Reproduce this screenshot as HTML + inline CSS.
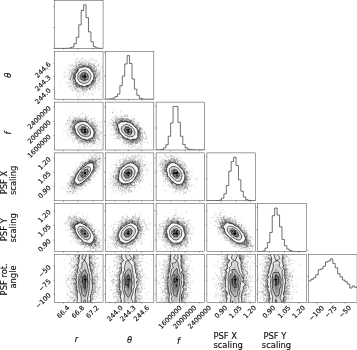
<!DOCTYPE html>
<html><head><meta charset="utf-8"><title>corner plot</title><style>html,body{margin:0;padding:0;background:#fff}svg{display:block}</style></head><body>
<svg width="357" height="350" viewBox="0 0 357 350">
<rect width="357" height="350" fill="#fff"/>
<defs><clipPath id="cp"><rect width="48.55" height="47.9"/></clipPath></defs>
<style>.b{fill:none;stroke:#000;stroke-opacity:.105;stroke-width:14;stroke-linecap:round}.s{fill:none;stroke:#000;stroke-opacity:.38;stroke-width:5;stroke-linecap:round}.c{fill:none;stroke:#000;stroke-width:.6;stroke-linejoin:round}.h{fill:none;stroke:#222;stroke-width:.65}.f{fill:none;stroke:#2a2a2a;stroke-width:0.45}.k{stroke:#2a2a2a;stroke-width:.4}text{font-family:"DejaVu Sans","Liberation Sans",sans-serif;fill:#111;stroke:#111;stroke-width:.15}.t{font-size:6.65px}.l{font-size:8.4px}.i{font-style:italic}</style>
<g transform="translate(54.5 51.3)" clip-path="url(#cp)">
<g transform="scale(.1)">
<path class="b" d="M399 142h0m-72 207h0m-170-188h0m248 167h0m-187-68h0m-1-152h0m20 102h0m-14 1h0m-33 97h0m216 15h0m-230 42h0m175-178h0m49 108h0m-42-177h0m48 160h0m-200-20h0m203 17h0m-85-114h0m12-22h0m-82 10h0m-54 108h0m5-3h0m-44-58h0m58 146h0m117-181h0m-99-5h0m-4 53h0m50-102h0m3 260h0m-82-61h0m-54-32h0m250-4h0m-161 77h0m128-37h0m-14-136h0m-124-103h0m71 49h0m-107 90h0m101 185h0m79-228h0m-159 115h0m-5-36h0m13 75h0m107-162h0m-85-63h0m32 62h0m-95 156h0m143 67h0m-113-72h0m103-162h0m-125 132h0m38-81h0m71 153h0m-98-101h0m11 15h0m-6-51h0m206 6h0m-39 78h0m1-173h0m-164 161h0m-40 61h0m16 39h0m-9-16h0m177-27h0m-43-1h0m4-186h0m78 78h0m-14 114h0m13-84h0m52 77h0m-96-246h0m-24 64h0m-67 181h0m-74-149h0m162-25h0m-127 40h0m157-49h0m-68 10h0m39 161h0m5-13h0m-18-171h0m-94 27h0m213 38h0m-90 195h0m30-261h0m-203 114h0m204-18h0m57 33h0m-80 56h0m8-25h0m54 27h0m-44-119h0m-74-53h0m-45 8h0m19-19h0m4-26h0m-62 213h0m-28-179h0m37 173h0m109 41h0m-32-227h0m-25 289h0m165-138h0m-36-30h0m-205-4h0m119 103h0m62-119h0m-122-89h0m118 144h0m-182-116h0m96 162h0m-111-39h0m-21-92h0m196 104h0m-159 15h0m42 8h0m-25-163h0m137 146h0m-88-183h0m187 175h0m-194-159h0m7 190h0m79-155h0m17-2h0m-51 171h0m-78-175h0m-85 7h0m232-96h0m-104 246h0m-87-90h0m157 63h0m-41-159h0m-98 40h0m-10 180h0m181 6h0m-257-220h0m275 118h0m-9-58h0m-181 94h0m192-95h0m-118-55h0m-132 103h0m280-117h0m-189 204h0m-29-148h0m52 127h0m137-211h0m-181 10h0m-102 177h0m111 23h0"/>
<path class="b" d="M381 206h0m43 28h0m-232-35h0m8 29h0m62-88h0m32-35h0m-95 270h0m169-181h0m-267 42h0m311-30h0m-53-23h0m20-52h0m-271 187h0m278 125h0m-156-104h0m-47-146h0m168 125h0m-123-141h0m36 187h0m-36-182h0m185 126h0m-202-47h0m-21 46h0m176 14h0m6-24h0m-180 4h0m111-143h0m-86 233h0m130-201h0m56 121h0m-138 62h0m-43 13h0m144-302h0m-130 108h0m14-63h0m-62 192h0m235-172h0m-189 24h0m138 118h0m-167-104h0m-10 17h0m69-46h0m151 38h0m-34 5h0m-147-6h0m137 119h0m-140 148h0m-40-142h0m10-32h0m190-21h0m-145 71h0m144-83h0m-119 141h0m118-62h0m-200-77h0m5 18h0m185 39h0m-20-166h0m-163 183h0m175-123h0m-114 199h0m69-243h0m-178 188h0m129-268h0m31 255h0m82-93h0m-208-27h0m56-20h0m-44 82h0m23-82h0m132 115h0m-125-105h0m116 122h0m-56-173h0m-29-22h0m-142 109h0m279-3h0m-158-48h0m69-52h0m68 58h0m81 181h0m-183-238h0m71 178h0m-32 26h0m-24-200h0m107-11h0m28 183h0m-61 56h0m-39-243h0m77 63h0m-217 90h0m-14 11h0m96-176h0m127-45h0m10 186h0m-196-53h0m48 151h0m-14-182h0m212 21h0m-186-47h0m-71 184h0m3-102h0m49-128h0m-86 89h0m226 4h0m-180 107h0m191-130h0m-85-25h0m-132 25h0m197 141h0m-52 34h0m83-86h0m-115 86h0m21 42h0m-92-79h0m-6-33h0m187 9h0m56-168h0m-166 23h0m51 179h0m-28-156h0m-9-7h0m-141 69h0m301-38h0m-329 77h0m207 79h0m88-87h0m-269 56h0m155-158h0m5 221h0m6-40h0m-17 2h0m-25 49h0m146-130h0m-147 159h0m21-83h0m-120-96h0m13 28h0m34-56h0m2-1h0m53-45h0m90 122h0m10 7h0m-174 48h0m74 54h0m-67-232h0m143 174h0m87-109h0m-227 127h0m103-196h0"/>
<path class="b" d="M267 156h0m-59 128h0m153-141h0m-110 194h0m-16-123h0m-46 61h0m64 85h0m-55-59h0m214-91h0m-77-54h0m95 91h0m-41-70h0m-195 101h0m-10-5h0m157-82h0m-91 163h0m190-113h0m-154-110h0m23 35h0m-5 170h0m-102-151h0m165 4h0m-51 161h0m17-186h0m-141-127h0m232 156h0m-79-8h0m65-30h0m-124-12h0m-15 196h0m176 5h0m-65-24h0m-195 24h0m36-192h0m51 7h0m-101 47h0m222 31h0m-107-87h0m-93 204h0m201-115h0m-20 102h0m-9 13h0m-34-17h0m-111 7h0m174-48h0m-116 76h0m120-53h0m-192 58h0m-11-131h0m128-81h0m149 111h0m-122-121h0m-145 115h0m178-83h0m-163 6h0m-22 28h0m149 149h0m-9 56h0m87-193h0m-266 30h0m204-87h0m28 79h0m-170-59h0m168 85h0m-116 65h0m-4 6h0m-17 80h0m187-174h0m-41-45h0m-89-91h0m-27 252h0m-157-120h0m102 109h0m95-207h0m100 78h0m-229 120h0m114-187h0m-45-87h0m-48 157h0m157-28h0m-223-69h0m291 149h0m-222-122h0m-28 68h0m2-7h0m80-76h0m95 5h0m-70 4h0m-83 24h0m76 155h0m-59-18h0m175 31h0m-60-175h0m-137 77h0m-44-8h0m62-39h0m-19 18h0m113 152h0m-9-35h0m98-39h0m-210-91h0m211 18h0m-90-113h0m-143 101h0m30-18h0m104-77h0m-99 103h0m4 16h0m150-49h0m-2-10h0m-101 168h0m-45-175h0m15 217h0m82-41h0m48-53h0m-169-19h0m9-8h0m157-110h0m20 162h0m-167-45h0m-17-6h0m-17-142h0m44 183h0m164-64h0m-98-97h0m57 177h0m-144-84h0m136 74h0m-68-176h0m-27-30h0m-4 92h0m-19-7h0m47 204h0m158-115h0m-219 32h0m186-40h0m-115-161h0m-1 4h0m-26 12h0m163 116h0m-265-9h0m-8 68h0m242-122h0m-25 0h0m-83 169h0m-47-193h0m126 2h0m-8-9h0m16 21h0m-15 140h0"/>
<path class="b" d="M272 167h0m-62 64h0m202 41h0m-219 22h0m12-27h0m-14-117h0m157 33h0m-91 197h0m96-290h0m-214 50h0m177 222h0m-105-90h0m98-109h0m-79 22h0m105-38h0m-123 38h0m153 117h0m-22 10h0m-61-242h0m-48 81h0m50-35h0m-46 254h0m77-203h0m57 43h0m-6 230h0m25-145h0m3-55h0m6-35h0m-149-106h0m28 244h0m43-5h0m-123-108h0m167 77h0m-12 17h0m18-124h0m-122-41h0m28 208h0m72-211h0m-121 38h0m-52 48h0m178-60h0m-3 0h0m-11-60h0m-87 214h0m36-186h0m141 118h0m-60 86h0m29-29h0m-33-37h0m-18-99h0m-39-103h0m-7 255h0m23-4h0m-37-180h0m-23 198h0m-5-16h0m52-4h0m59-137h0m-76-33h0m73 124h0m-167-57h0m18-30h0m80 140h0m0 37h0m24-35h0m-39-2h0m48-182h0m40 194h0m-147-207h0m15 68h0m101 99h0m-144-86h0m53-93h0m152 68h0m-93 168h0m-76-8h0m-42-106h0m158-68h0m7-35h0m-202 57h0m110 126h0m108-169h0m-7 35h0m-102 133h0m90-154h0m-40 175h0m85-39h0m-160-118h0m110-62h0m-167 43h0m227 115h0m-104 87h0m-15-33h0m-18-2h0m-123-13h0m67-120h0m88 134h0m-1 33h0m105-194h0m-67-28h0m24-31h0m35 102h0m10-46h0m-197 187h0m158-191h0m-136 206h0m222-161h0m-81 68h0m-2-1h0m-1-87h0m-96-69h0m82 181h0m17-123h0m-10 9h0m-61-37h0m46 208h0m97-60h0m-156 120h0m1-44h0m66-232h0m-264 101h0m145-64h0m77 157h0m35-26h0m-54-183h0m93 89h0m48-23h0m-228-48h0m58 175h0m31-176h0m52 220h0m28 51h0m10-122h0m-139-156h0m-15 190h0m-94-64h0m72-68h0m194 125h0m-208-52h0m200-25h0m-159-73h0m46 151h0m10 9h0m-42-5h0m20-195h0m-26 8h0m89-24h0m-14 229h0m20-22h0m-118-132h0"/>
<path class="b" d="M417 101h0m-107 267h0m-10-269h0m125 97h0m-10-103h0m-163 265h0m96-171h0m-137 77h0m196 32h0m-160 48h0m-50-87h0m10-12h0m222-22h0m-76 143h0m33-152h0m-196 109h0m19-74h0m184 2h0m-186 33h0m2-84h0m1 53h0m142 75h0m6-162h0m-150-3h0m136-53h0m40 256h0m17 8h0m-64-232h0m-7 195h0m58-197h0m-2 277h0m-58-65h0m-46-16h0m49-179h0m-220 98h0m125 58h0m-9-118h0m64 156h0m-49-207h0m80 14h0m-86 25h0m221 97h0m-34-71h0m-212 16h0m62 128h0m119-6h0m-107-4h0m-55 21h0m-20-110h0m3 52h0m44 32h0m83-1h0m60-84h0m-94 89h0m-114-174h0m161 149h0m-159-83h0m191 70h0m-200 9h0m32 60h0m28-230h0m171 113h0m-205-68h0m91-25h0m54 180h0m-36-3h0m-128-81h0m83-105h0m0 200h0m-73-161h0m56-38h0m111-2h0m-88 184h0m-65-43h0m56-206h0m100 106h0m-15 119h0m-9-167h0m-119 171h0m53-150h0m-41 47h0m112 100h0m-114-115h0m113 159h0m-172-79h0m10-23h0m119 97h0m-94-149h0m88-69h0m-23 201h0m-66-3h0m181-79h0m9 42h0m9-58h0m-105-80h0m85 150h0m-26-144h0m64 80h0m-229 119h0m-34-123h0m40 40h0m188-16h0m-46 58h0m4-137h0m-97 256h0m19-283h0m164 54h0m-164 129h0m-44-133h0m160 36h0m-14-44h0m-21 149h0m43-198h0m-29 157h0m-130-106h0m-81 149h0m188-178h0m-134 26h0m156 15h0m23-9h0m-156 127h0m-67-87h0m191 91h0m-125 8h0m-12-190h0m44-38h0m121 206h0m12-29h0m-39 70h0m-157-272h0m138 240h0m-49-167h0m-79 144h0m174-86h0m18 44h0m-198-33h0m7 94h0m146-196h0m84 120h0m-128 123h0m-109-7h0m171-70h0m-95 84h0m52-236h0m34 148h0m80-89h0m-214-14h0m58-52h0m6 244h0m-31-265h0"/>
<path class="b" d="M270 160h0m-61-52h0m-9 111h0m158 99h0m-97-205h0m178 254h0m-97-236h0m-146 140h0m132 173h0m63-185h0m-21-46h0m-73 150h0m92-127h0m-106-70h0m-112 213h0m230-155h0m-201 89h0m176-247h0m-13 93h0m-86 4h0m62-36h0m-105 87h0m19 134h0m114-30h0m-1 15h0m2 4h0m-149-181h0m17 170h0m160-138h0m-148 168h0m122-153h0m-34 150h0m-152-117h0m111-72h0m-96 187h0m175-142h0m-72 147h0m-75-22h0m61-218h0m16 40h0m106 140h0m-48-173h0m50 81h0m-18-32h0m62 184h0m-236-152h0m182-46h0m3 101h0m-86-95h0m54 41h0m-16 112h0m-119-111h0m195 91h0m-194 24h0m125-143h0m-173 119h0m56-183h0m16 2h0m-52 108h0m-26 53h0m22-21h0m192-22h0m-163 165h0m-28-22h0m230 0h0m-186-249h0m-58 95h0m257 1h0m-179-81h0m171 47h0m-126-38h0m-75 53h0m-17-8h0m-32 128h0m38-122h0m-13 62h0m21 52h0m-63-88h0m79-69h0m64 208h0m156-14h0m-81-76h0m-162 127h0m74-260h0m85 87h0m-122 125h0m-2-194h0m34 200h0m70-65h0m-29 22h0m-151-14h0m202-43h0m-26 33h0m-162 6h0m11-49h0m14-76h0m167 139h0m-17-115h0m-40-50h0m-124-39h0m-35 122h0m61-46h0m146-42h0m-94 190h0m-78-85h0m-12 70h0m233-95h0m-168-74h0m95 39h0m6 101h0m-3 8h0m-176-61h0m147-79h0m-129 178h0m94 73h0m109-134h0m-79 89h0m38-278h0m-64 251h0m-89-123h0m94-55h0m52 13h0m-47 168h0m49-2h0m15-5h0m-109-175h0m98-2h0m-54 2h0m59-7h0m-73 1h0m-90 143h0m80 52h0m-72-21h0m108 22h0m3-11h0m-94-202h0m104 46h0m-133 77h0m88 82h0m6-190h0m44 225h0m-145-143h0m7 52h0m170-98h0m-204 99h0m201-97h0m-160-25h0m1 58h0m65-64h0m-78 78h0"/>
<path class="b" d="M368 206h0m19 87h0m-172 44h0m-46-48h0m102 62h0m122-38h0m-9-6h0m-104 73h0m0-230h0m-9 198h0m76-31h0m4 26h0m-34-197h0m-82 39h0m179 66h0m-118-117h0m10 216h0m-99-122h0m164 195h0m-177-178h0m-6-19h0m212-27h0m-212 90h0m152-125h0m0 179h0m-87-187h0m-36 90h0m25-45h0m118 172h0m-144-62h0m20 10h0m66-182h0m-18 12h0m105 116h0m-121 96h0m92 22h0m-81-240h0m-62 113h0m151 62h0m-181-21h0m122 48h0m59-143h0m-76 135h0m55-156h0m67 112h0m-230 44h0m121 6h0m25-189h0m-89 167h0m-101-42h0m223-132h0m-152 180h0m124-183h0m-71 208h0m-77-95h0m207-58h0m-111 143h0m180-136h0m-93 86h0m-207-154h0m164 206h0m-96-32h0m-2-100h0m-15 39h0m28 128h0m56-45h0m6 18h0m-95-143h0m-18 122h0m167-208h0m45 151h0m-11-71h0m-13 84h0m2 65h0m-96-16h0m-81-23h0m123-202h0m8 21h0m-132 106h0m105 96h0m110-7h0m-105 21h0m-105-57h0m-13-91h0m42 12h0m-19-45h0m-15 44h0m161 111h0m-7-157h0m-152 95h0m58 82h0m69-2h0m-13-179h0m-8-26h0m-164 119h0m21-117h0m188 236h0m-139-186h0m175 43h0m-238 51h0m58 17h0m214-45h0m-55-82h0m-21 202h0m23-53h0m-161-46h0m255-17h0m-226-63h0m-20 10h0m127-35h0m19 10h0m4 158h0m-161-154h0m138 3h0m-147 99h0m217-115h0m-43 144h0m-57-179h0m-80 24h0m84-24h0m-79 180h0m-76-97h0m203-72h0m-86 214h0m162-76h0m-119 55h0m-120-63h0m199-54h0m-170 120h0m-8 6h0m38-2h0m90-186h0m-140-81h0m126 50h0m74 135h0m-34-67h0m-113 175h0m145-187h0m-149-66h0m-9 219h0m94-155h0m-197 122h0m215-105h0m-67 198h0m-142-120h0m56-143h0m101 221h0m43-184h0m-180 151h0m90 34h0"/>
<path class="b" d="M185 257h0m-11-30h0m245-135h0m-48 220h0m-30 27h0m12-21h0m-31-167h0m43 45h0m-67-34h0m-105 194h0m204-64h0m-113-149h0m57 46h0m27 113h0m33-51h0m40-24h0m-88-110h0m-57 254h0m63-195h0m55 41h0m-13 51h0m-197 9h0m168 18h0m-153 20h0m-4-27h0m141-143h0m-217 90h0m228-39h0m-170 165h0m169-228h0m-136 182h0m-36-62h0m153 115h0m-138-145h0m92-74h0m-86 113h0m-18-30h0m55 170h0m137-143h0m-213 37h0m116-132h0m-77 59h0m184-66h0m-10 180h0m-173-2h0m78-186h0m-2 209h0m20-212h0m52 172h0m-183-46h0m167 51h0m-170-65h0m224-12h0m-118-83h0m82 32h0m11 10h0m-180-18h0m213 153h0m-105 22h0m-67-178h0m49 168h0m-85 42h0m82-249h0m129 40h0m-238 46h0m4-21h0m151 170h0m-66-252h0m119 52h0m10 57h0m-22 156h0m-105-49h0m-63-17h0m131 24h0m-112-211h0m180 196h0m15-103h0m-199-54h0m149 163h0m-34-231h0m57 2h0m-32 73h0m-166 4h0m18 149h0m104 18h0m-88-168h0m89-103h0m98 311h0m-37-100h0m-160-145h0m58 189h0m-114-73h0m192-104h0m-12 203h0m60-129h0m-157-74h0m51 208h0m144-221h0m-189 206h0m38-16h0m-103-194h0m161 9h0m55 25h0m-10 60h0m-10-69h0m-80 215h0m-82-121h0m-71-48h0m133 167h0m148-158h0m-113 124h0m74-45h0m-232-45h0m135-172h0m54 258h0m-133-70h0m196 8h0m-116-131h0m-104 103h0m150-91h0m-8 197h0m19-180h0m-151 72h0m7 4h0m-13-15h0m40 68h0m-75 17h0m209-122h0m-4-62h0m-78 233h0m19-220h0m-38 201h0m-4-19h0m12 29h0m-59-120h0m130 71h0m15-156h0m-161 44h0m84 148h0m-79-79h0m68 61h0m55 8h0m-72-249h0m25 245h0m-18 39h0m41-10h0m-102-349h0m37 193h0m153 26h0m-100 110h0"/>
<path class="s" d="M345 156h0m-164 63h0m110-65h0m38 1h0m-117 142h0m65-134h0m-31 175h0m136 29h0m-205-193h0m60 15h0m33 166h0m87-195h0m19 24h0m-178 40h0m161-49h0m59 78h0m-203 72h0m68-168h0m136 162h0m-31-173h0m-187 137h0m-46 4h0m50-14h0m-41 31h0m60-133h0m22 177h0m191-30h0m-75-129h0m-78 148h0m-68-117h0m17 172h0m-21-247h0m37 203h0m65-182h0m-7 188h0m-89-1h0m-23-118h0m114-100h0m68 64h0m-104-60h0m-39 224h0m174-92h0m-199-40h0m-20 44h0m205-81h0m-185-86h0m-8 79h0m175-19h0m-166 25h0m104 151h0m23-189h0m-123 61h0m128 106h0m69-26h0m-187 56h0m139-176h0m-125 143h0m7-176h0m208 114h0m-148-115h0m37 202h0m-195-126h0m45 90h0m48-146h0m149 144h0m-217 15h0m97 20h0m82-154h0m32 134h0m-144-4h0m93 19h0m-22 3h0m-24-2h0m-76-44h0m177 12h0m-36-133h0m53 90h0m-196 55h0m169 10h0m66-50h0m-250-49h0m7-7h0m-9 18h0m109-73h0m-92 93h0m-3-72h0m106 162h0m43-164h0m-160 119h0m67-137h0m-75 159h0m132-176h0m26 203h0m18-175h0m-154 122h0m186-31h0m-101 70h0m-82-91h0m140-67h0m-101-24h0m59 9h0m87 68h0m-105 133h0m-66-20h0m152-142h0m-53 176h0m-96-60h0m159-135h0m-108 153h0m139-89h0m-136-83h0m-63-28h0m74 197h0m-84-110h0m-14-43h0m16 67h0m155 91h0m-148-87h0m-12-19h0m181 66h0m-36 27h0m-167-70h0m162 88h0m-139-114h0m9 19h0m132-71h0m-133 54h0m-47 22h0m176 95h0m-180-96h0m83 90h0m-38-145h0m144-56h0m9 214h0m29-190h0m-169 154h0m-8-110h0m133 105h0m-69-199h0m-70 91h0m72 133h0m55 6h0m52-137h0m-181 51h0m-39-30h0m78-69h0m12-5h0m98 204h0m4-186h0m-11 147h0m-61 74h0m-67-71h0m166-31h0m-110 46h0m-115-68h0m81-85h0m-2-13h0m89 171h0m61-99h0m-149-40h0m63-53h0m91 67h0m-130-54h0m123 63h0m-18 64h0m-158-60h0m168 95h0m-88 61h0m-46-51h0m-39-216h0m-49 153h0m245-79h0m-56 149h0m22-18h0m2-34h0m-146-83h0m219-73h0m-252 219h0m220-200h0m-87 201h0m-69-230h0m-121 54h0m245 120h0m-166-84h0m240 65h0m-63-147h0m-157 75h0m134-9h0m-147 10h0m11 145h0m64-205h0m-88 108h0m31-61h0m-192 108h0m369-117h0m-98 207h0m84-46h0m-177-145h0m122-28h0m-150 89h0m17 56h0m66 33h0m43-17h0m88-134h0m-215 94h0m181-101h0m-2-5h0m-270 20h0m221-49h0m-83 161h0m-18-131h0m-18 153h0m-16 43h0m-2-130h0m239-19h0m-115-80h0m-110 81h0m-30-43h0m112 144h0m83-146h0m31 37h0m-209-11h0m198 159h0m24-102h0m-43 11h0m-176-114h0m63-24h0m-1 219h0m136-80h0m-46-109h0m-45 164h0m-42 20h0m137-67h0m-96-133h0m-61 17h0m80-17h0m22-3h0m28 25h0m-174 60h0m15-1h0m76 130h0m55-62h0m-156-43h0m212-69h0m-9-31h0m33 3h0m-50-18h0m19 91h0m-192-65h0m30-18h0m169 189h0m-139-201h0m-45 70h0m23 118h0m-49-49h0m-38-108h0m28 29h0m102 145h0m-66-32h0m157-5h0m32-19h0m-45-141h0m-108 177h0m100-168h0m50 90h0m-175-57h0m126 123h0m34-150h0m-79 231h0m-69-223h0m160 12h0m-153 156h0m-23-38h0m-29-45h0m146-112h0m-52 194h0m-71-145h0m29-63h0m157-2h0m-71 209h0m60-69h0m-104-137h0m-119 73h0m176-101h0m77 53h0m-117-33h0m90 144h0m-201-4h0m40-63h0m-17 58h0m239-51h0m-222-39h0m-67 166h0m144-229h0m-88 220h0m5-129h0m170-22h0m-173 134h0m209-77h0m-90-94h0m33 147h0m-153 108h0m195-154h0m-97-89h0m64 15h0m-214-20h0m124 191h0m-54 70h0m-22-199h0m157-12h0m18 51h0m-180 7h0m-16 34h0m160-227h0m-88-5h0m67 91h0m96 63h0m-44 74h0m-205 100h0m107-50h0m-48-30h0m35-153h0m-12 291h0m-42-248h0m-28 127h0m74 29h0m16-6h0m130-135h0m-1 40h0m2-10h0m-62 130h0m26-181h0m-84-43h0m68 167h0m-170-7h0m30-124h0m117 154h0m61-37h0m-172-205h0m189 128h0m-101 106h0m-21-192h0m78 49h0m12 3h0m-92 144h0m-82-78h0m134-82h0m28 139h0m29-125h0m-188 155h0m139-178h0m44 55h0m-181-6h0m-31 34h0m21 86h0m243-71h0m-96 49h0m-190-134h0m208 175h0m-94-205h0m1 189h0m73-176h0m-135 93h0m91-107h0m-80 21h0m142 209h0m13-94h0m-149-100h0m-5 0h0m27-95h0m95 282h0m0-57h0m-125 11h0m63-167h0m-5 178h0m-12 9h0m-55-272h0m164 82h0m-109-30h0m126 85h0m-20 81h0m31-3h0m-225-62h0m213 35h0m11-180h0m-50 226h0m-130 11h0m-15-3h0m66 26h0m-15-3h0m-20-181h0m235-9h0m-244 42h0m98-35h0m-106 163h0m-27-57h0m-13-69h0m179 8h0m-107-72h0m-163 124h0"/>
<path class="s" d="M365 196h0m33 95h0m-3-119h0m4 91h0m-240 17h0m76 61h0m25-4h0m14 34h0m-178-205h0m172 257h0m-40-238h0m154 135h0m-29-147h0m-124 173h0m85 72h0m-107-257h0m183 72h0m-108-163h0m-68 238h0m-51-159h0m77 44h0m59-48h0m-114 82h0m29 40h0m42-101h0m144 108h0m-7-33h0m-71 137h0m-152-133h0m-4 7h0m13 115h0m100-24h0m-37-210h0m-49 39h0m22 112h0m4 149h0m144-104h0m-113 12h0m150-147h0m-2-39h0m-204 120h0m47-120h0m172 52h0m0 66h0m-84-119h0m-54 194h0m-107-76h0m63-99h0m-32 91h0m151 72h0m-142 41h0m135-201h0m25 180h0m-69-213h0m20 203h0m104-137h0m-240 78h0m-50-67h0m67 30h0m65 95h0m-56-28h0m-6-138h0m64-71h0m112 206h0m58-175h0m-208 226h0m116-28h0m-127-72h0m80 83h0m55-210h0m-124-67h0m85 76h0m-72-1h0m130 56h0m-4 95h0m4 8h0m-113 38h0m45-226h0m151 126h0m-232 115h0m-81 3h0m181-2h0m83-79h0m-184 87h0m11-40h0m154 11h0m17 19h0m-28-163h0m-73 177h0m-107-127h0m0-31h0m51 131h0m67 54h0m59-199h0m-56-58h0m38 26h0m-109-32h0m6 214h0m133-37h0m-22-124h0m75 111h0m-120-135h0m-100 22h0m190 34h0m-122-73h0m-90 109h0m117 100h0m39-237h0m21 208h0m-246-30h0m111 46h0m-50-69h0m151-135h0m-124 129h0m194 103h0m-34-62h0m-71 45h0m84-38h0m-144-153h0m-26 73h0m132 79h0m-82-151h0m100-7h0m-118 193h0m-27 1h0m-32-106h0m102 95h0m39-174h0m51-11h0m-208 79h0m69 229h0m-67-213h0m13 81h0m186-34h0m-162-2h0m-7-34h0m-28-42h0m29 49h0m209-20h0m-113 121h0m-176-37h0m123 26h0m110-17h0m-33-178h0m87-13h0m-202 31h0m16 7h0m166 219h0m-110-245h0m-115 30h0m123-26h0m-89 92h0m248 123h0m-149-250h0m-130 184h0m204-14h0m-71 45h0m92-88h0m-168-59h0m1-7h0m138 4h0m-164 20h0m41-86h0m105 4h0m-5 243h0m12-14h0m1-47h0m1-141h0m21 34h0m-104 145h0m-48-37h0m-9 77h0m-1-52h0m-5-202h0m-31 9h0m-10 113h0m68 57h0m-32-162h0m232 151h0m-165 30h0m55 16h0m4-2h0m-33 4h0m-146-101h0m239-51h0m-31-1h0m38-11h0m-5 100h0m-172 46h0m127-24h0m-61 37h0m98-145h0m60 42h0m-251-71h0m69-42h0m73 13h0m-178 94h0m35 86h0m77-177h0m106 151h0m-182-59h0m266-88h0m-28 90h0m-88-62h0m49 126h0m21-41h0m-98-161h0m-35 266h0m-7-30h0m133 23h0m-87-255h0m101 250h0m19-180h0m-91 134h0m57-81h0m-158-98h0m-34 146h0m223-152h0m-224 167h0m155 31h0m0-130h0m46-3h0m-197 128h0m9-167h0m7 297h0m154-229h0m-194 100h0m124 21h0m-104-16h0m69 16h0m119-17h0m-72 25h0m12-201h0m-137 92h0m116 116h0m17-177h0m1 234h0m25-99h0m-75 30h0m-99-75h0m33-67h0m183 49h0m-46-76h0m-155 131h0m121-151h0m-105 32h0m-13 166h0m-20-207h0m124 230h0m-126-123h0m173 73h0m-175-116h0m185 125h0m-34 8h0m-118-19h0m68 28h0m-66-237h0m183 121h0m-189 87h0m-22-49h0m127-114h0m-110 102h0m178 64h0m-63 20h0m-97-186h0m64 202h0m-122-113h0m241 31h0m-80 61h0m-114-95h0m133 81h0m23-20h0m-163-121h0m4-46h0m19 29h0m-32 100h0m-14-16h0m40-44h0m7-12h0m136-25h0m-209 91h0m23-39h0m144 162h0m56-205h0m10 38h0m-104 128h0m14-192h0m47-17h0m-119 175h0m162-60h0m1-133h0m-31 79h0m-83 179h0m130-178h0m-178 10h0m22-83h0m122 78h0m26 67h0m-270 42h0m152-187h0m37 28h0m-46-29h0m119 101h0m-128-100h0m170-2h0m-87 198h0m67-155h0m-16-7h0m-94-7h0m-94 191h0m190-65h0m-36-90h0m26 46h0m-282-34h0m180 229h0m187-237h0m-27 20h0m-154 119h0m-103-135h0m119 140h0m-105-40h0m144-134h0m-118 34h0m29-68h0m100 46h0m-203 171h0m170-6h0m-181-94h0m24-10h0m148-77h0m-37-7h0m-85 59h0m-40 59h0m70 56h0m-11 24h0m154-182h0m33 136h0m-135 54h0m95-189h0m-34-21h0m-77 6h0m-45 132h0m69-150h0m-32 210h0m20-184h0m50-77h0m56 111h0m-135-90h0m101 16h0m-140 115h0m122 103h0m-2-179h0m-11 187h0m-25-244h0m-31 250h0m121-37h0m-138-195h0m-38 192h0m184-188h0m-29 194h0m-116 24h0m54-203h0m96 183h0m-73-205h0m-49 212h0m139-172h0m-194 155h0m83-173h0m-138 137h0m112 68h0m111-56h0m-182-54h0m277-82h0m-88-1h0m-184 94h0m39-64h0m153 109h0m6-137h0m-155 242h0m19-396h0m101 334h0m-65-4h0m71-173h0m16 145h0m-19-105h0m-90 190h0m59-36h0m128 80h0m-142-38h0m-86-214h0m-74 11h0m213 135h0m-183-25h0m23 14h0m86 36h0m-70-177h0m194 10h0m-66-43h0m-132 205h0m168-49h0"/>
</g>
<path d="M28.4 34.7L30.3 35.4L31.2 34.7L32.8 33.9L35.2 33.5L36.2 32.3L37.6 29.9L37.6 29.9L39 27.5L39.4 25.1L39.3 22.8L37.7 20.4L37.6 20.3L36 18L35.2 16.8L32.8 15.9L30.9 15.6L30.3 15.4L29.7 15.6L27.9 15.9L25.5 16.5L23.8 18L23.1 20.4L23.1 20.4L20.8 22.8L20.9 25.1L20.6 26.8L20.4 27.5L20.6 27.9L21.2 29.9L23.1 32.2L23.2 32.3L25.5 34.1L27.9 34.7L28.4 34.7Z" fill="#fff" fill-rule="evenodd"/>
<path d="M21.85 26.34h2.43v2.4h-2.43zM21.85 23.95h2.43v2.4h-2.43zM21.85 21.55h2.43v2.4h-2.43zM24.27 19.16h2.43v2.4h-2.43zM26.7 31.14h2.43v2.4h-2.43zM26.7 16.77h2.43v2.4h-2.43zM29.13 31.14h2.43v2.4h-2.43zM29.13 16.77h2.43v2.4h-2.43zM33.98 28.74h2.43v2.4h-2.43zM33.98 19.16h2.43v2.4h-2.43z" fill="#000" fill-opacity="0.06"/>
<path d="M24.27 28.74h2.43v2.4h-2.43zM26.7 19.16h2.43v2.4h-2.43zM31.56 28.74h2.43v2.4h-2.43zM31.56 19.16h2.43v2.4h-2.43zM33.98 26.34h2.43v2.4h-2.43zM33.98 23.95h2.43v2.4h-2.43zM33.98 21.55h2.43v2.4h-2.43z" fill="#000" fill-opacity="0.12"/>
<path d="M24.27 21.55h2.43v2.4h-2.43zM26.7 28.74h2.43v2.4h-2.43zM29.13 19.16h2.43v2.4h-2.43z" fill="#000" fill-opacity="0.19"/>
<path d="M24.27 26.34h2.43v2.4h-2.43zM29.13 28.74h2.43v2.4h-2.43z" fill="#000" fill-opacity="0.25"/>
<path d="M24.27 23.95h2.43v2.4h-2.43zM31.56 21.55h2.43v2.4h-2.43z" fill="#000" fill-opacity="0.31"/>
<path d="M31.56 26.34h2.43v2.4h-2.43z" fill="#000" fill-opacity="0.38"/>
<path d="M26.7 21.55h2.43v2.4h-2.43zM31.56 23.95h2.43v2.4h-2.43z" fill="#000" fill-opacity="0.5"/>
<path d="M26.7 26.34h2.43v2.4h-2.43zM29.13 21.55h2.43v2.4h-2.43z" fill="#000" fill-opacity="0.56"/>
<path d="M29.13 26.34h2.43v2.4h-2.43z" fill="#000" fill-opacity="0.69"/>
<path d="M26.7 23.95h2.43v2.4h-2.43z" fill="#000" fill-opacity="0.81"/>
<path d="M29.13 23.95h2.43v2.4h-2.43z" fill="#000" fill-opacity="1"/>
<path class="c" d="M28.4 34.7L30.3 35.4L31.2 34.7L32.8 33.9L35.2 33.5L36.2 32.3L37.6 29.9L37.6 29.9L39 27.5L39.4 25.1L39.3 22.8L37.7 20.4L37.6 20.3L36 18L35.2 16.8L32.8 15.9L30.9 15.6L30.3 15.4L29.7 15.6L27.9 15.9L25.5 16.5L23.8 18L23.1 20.4L23.1 20.4L20.8 22.8L20.9 25.1L20.6 26.8L20.4 27.5L20.6 27.9L21.2 29.9L23.1 32.2L23.2 32.3L25.5 34.1L27.9 34.7L28.4 34.7Z"/>
<path class="c" d="M24.6 29.9L25.5 30.7L27.9 31.8L30.3 32.2L32.8 31.2L34.5 29.9L35.2 28.7L35.9 27.5L36.6 25.1L36 22.8L35.2 21.9L34.1 20.4L32.8 19.1L30.3 18.5L27.9 19.1L25.5 20.4L25.5 20.4L23.5 22.8L23.4 25.1L23.3 27.5L24.6 29.9Z"/>
<path class="c" d="M25.9 27.5L27.9 28.9L30.3 29.4L32.8 28.3L33.4 27.5L33.9 25.1L32.8 22.8L32.8 22.8L30.3 21.1L27.9 21.7L26.7 22.8L25.6 25.1L25.9 27.5Z"/>
<path class="c" d="M27.9 25.1L30.3 27L31.9 25.1L30.3 23L27.9 25.1Z"/>
</g>
<g transform="translate(54.5 102.1)" clip-path="url(#cp)">
<g transform="scale(.1)">
<path class="b" d="M401 343h0m-125-163h0m50 185h0m-37-164h0m-48 114h0m156-80h0m-18 90h0m-13-74h0m-158 66h0m38-119h0m125 183h0m-185-119h0m110 99h0m0 29h0m-94-183h0m178 195h0m-3-74h0m-205-64h0m145-79h0m85 175h0m-186-31h0m234-22h0m-150 81h0m-63-46h0m45-145h0m124 46h0m-217 79h0m164 67h0m-68-183h0m-24 0h0m47-46h0m-29-42h0m92 237h0m-127-17h0m-35-29h0m-32 2h0m141-118h0m-8 6h0m-107 131h0m-26-133h0m133-19h0m49 29h0m-143 13h0m125-12h0m-67-6h0m-62 36h0m174 106h0m7-30h0m-68 76h0m-1-194h0m73 60h0m-201-14h0m46-70h0m133 178h0m-127-148h0m125 83h0m77 125h0m-237-276h0m151 124h0m-33 153h0m-22-283h0m91 163h0m-93 106h0m-22-27h0m109-86h0m-187 5h0m243 90h0m-285-103h0m52 23h0m175 101h0m-25-81h0m-96-105h0m-53 67h0m1 45h0m-3-66h0m262-6h0m-180 107h0m-36-148h0m-34 108h0m-76-143h0m229 162h0m-88-125h0m-51-23h0m156 59h0m-58-31h0m-12 148h0m-115-130h0m-64-83h0m194 78h0m50 101h0m-62 65h0m-72-217h0m88 217h0m-31-39h0m48-46h0m-19 61h0m-42 34h0m128-89h0m-50 26h0m-2-62h0m14 39h0m-17 32h0m-177-93h0m9 4h0m94-84h0m115 276h0m2-68h0m-105-24h0m-125-66h0m204 43h0m-50 31h0m27-113h0m-100 136h0m37-251h0m-72 68h0m71 151h0m34-154h0m-20 153h0m-36-173h0m74 195h0m9-139h0m28 93h0m-71-135h0m-84-33h0m-17 11h0m37 168h0m117 11h0m-161-106h0m1-26h0m-18 55h0m13-17h0m-62-77h0m199 189h0m-156-108h0m-50 81h0m224 4h0m-157-49h0m48 74h0m112-98h0m-25 83h0m36 16h0m-7-97h0m3 51h0m-245-75h0m111 65h0m71 53h0m-22-10h0m3 27h0m40-213h0m65 34h0"/>
<path class="b" d="M303 172h0m22 21h0m42-26h0m2 170h0m-161-82h0m77-51h0m111 73h0m-97 111h0m-95-146h0m-2 21h0m238 132h0m-67-114h0m-194-2h0m189 100h0m32-134h0m-183 8h0m-7 46h0m-7-54h0m7 19h0m44 76h0m176-108h0m-94-35h0m110 175h0m-243-95h0m-101-43h0m143 110h0m8-135h0m101 15h0m-73-27h0m-125-19h0m267 92h0m-30 122h0m-177-125h0m44 75h0m139-9h0m49-37h0m-154-89h0m-6 214h0m11-216h0m-173 83h0m141 67h0m98-17h0m7-113h0m-76-27h0m-55 149h0m48 17h0m77-79h0m-173-76h0m178 143h0m-62 39h0m64-124h0m7 103h0m-148-54h0m15 20h0m65-212h0m6 255h0m-56-181h0m102 131h0m-167-85h0m140 165h0m72-112h0m26 27h0m-194 26h0m-9-168h0m49 19h0m-2-44h0m65 62h0m106 157h0m-211-49h0m-27-149h0m159-9h0m-157 110h0m161-75h0m-211-15h0m175 174h0m-86-151h0m80 150h0m-153-259h0m128 260h0m-106-118h0m90-68h0m-64 155h0m102-117h0m-101-22h0m102 167h0m-159-109h0m157-102h0m17 69h0m14 150h0m19-137h0m-100 163h0m-65-49h0m175-38h0m-3 109h0m28-81h0m-185-182h0m16 33h0m61 174h0m82-38h0m-121 44h0m118-148h0m-190-35h0m178 53h0m-61-28h0m-49 148h0m-1-154h0m104 141h0m-157-143h0m164 79h0m36 37h0m-146-120h0m73 220h0m31-212h0m44 8h0m-48 154h0m-221-111h0m174-59h0m48 119h0m-86-131h0m34-12h0m-74 39h0m-23-17h0m-4 52h0m18 125h0m-45-123h0m132 131h0m47 15h0m-43-183h0m62 5h0m-176-23h0m-50 105h0m153 71h0m-13-157h0m120 131h0m-41-68h0m-151-72h0m151 65h0m-33 119h0m-135-122h0m10 17h0m-1 43h0m12 11h0m120-100h0m-60 189h0m-43-211h0m130 136h0m98-149h0m-159-2h0m-37 7h0m129 114h0"/>
<path class="b" d="M207 256h0m128 127h0m65-77h0m-12-105h0m56 146h0m-64-35h0m-33 63h0m-49 7h0m105-173h0m-236-33h0m42 60h0m50 112h0m-65-30h0m191-50h0m-20 99h0m-63-157h0m-106 56h0m83 141h0m-102-114h0m-21-33h0m211 94h0m-4-124h0m-243 76h0m39-125h0m102 204h0m149-132h0m-169 63h0m153 47h0m-14 57h0m-76-36h0m8 8h0m-57-181h0m-11 134h0m169-85h0m-121 114h0m22-210h0m-127 143h0m185-21h0m28 48h0m-112-119h0m71 24h0m64 91h0m-87 49h0m8-8h0m-6-185h0m-94 7h0m-100-7h0m230 66h0m-4 34h0m-99-73h0m-26-6h0m144 97h0m-9 38h0m-32 43h0m-74-10h0m164-28h0m-192-139h0m-116-22h0m259 92h0m9 45h0m-114 62h0m20-202h0m94 173h0m-101 9h0m-85-118h0m-1-6h0m224 97h0m-171-136h0m50 174h0m-43-14h0m95-127h0m-46-31h0m-187 4h0m121 3h0m114-50h0m-180 65h0m147-62h0m-167 15h0m234 139h0m-48 42h0m-117-43h0m215-98h0m-262 42h0m59-73h0m118 136h0m-223-52h0m272-54h0m-164-28h0m66 6h0m-58-25h0m123 104h0m-110 85h0m93-94h0m8 2h0m-240 54h0m150 45h0m80-107h0m91 146h0m-49-116h0m-103 80h0m82-163h0m-136 193h0m80-23h0m-99-45h0m165-33h0m-198 14h0m53-121h0m30 5h0m-48 149h0m136-64h0m-194 16h0m229 19h0m-26-6h0m-78 52h0m-53-12h0m-16-34h0m-1-2h0m7-158h0m16 39h0m-23 169h0m58-167h0m44 166h0m64 16h0m-139-31h0m7-146h0m45 2h0m102 123h0m-149-135h0m93 167h0m-146-171h0m43 18h0m47 182h0m-109-150h0m155-5h0m37 164h0m-209-107h0m211 72h0m-156-47h0m-3 15h0m162-84h0m-37 156h0m-119-84h0m24-152h0m43 278h0m103-124h0m-6-10h0m-61 85h0m-133-91h0m72-105h0m-52 159h0"/>
<path class="b" d="M417 318h0m-179 26h0m106 101h0m71-83h0m-134-173h0m-70 95h0m73 76h0m29 14h0m-14-8h0m-71-13h0m-21-182h0m194 172h0m-247-44h0m104 62h0m63-180h0m72 200h0m-197-162h0m70 181h0m-107-151h0m247-8h0m-61 123h0m-167-94h0m187 75h0m-111-201h0m-75 249h0m46-63h0m35-131h0m14-2h0m27 6h0m31 157h0m56-87h0m-43-40h0m-128-57h0m140 202h0m-80-196h0m118 123h0m-222 10h0m213-238h0m-178 87h0m69 35h0m186 140h0m-97-123h0m-17 172h0m-42-226h0m-9 241h0m-101-150h0m57 185h0m122-113h0m-120 64h0m-55-187h0m150 169h0m20-28h0m-146-171h0m11 39h0m142 152h0m8-31h0m-16-9h0m29 16h0m-124 21h0m-46-36h0m137-55h0m-143-56h0m78-20h0m-110 39h0m135 128h0m-7-157h0m-78-46h0m136 116h0m5-62h0m-6 118h0m-179-99h0m111 133h0m-125-99h0m133 138h0m-102-149h0m-6 49h0m201 8h0m-76-111h0m-71 139h0m-129-155h0m250 52h0m5 38h0m-201-77h0m53 120h0m83-108h0m-58 128h0m102 23h0m10-25h0m-4-22h0m-156-96h0m46 167h0m-17-28h0m68-212h0m-106 69h0m135 174h0m-255-97h0m275 82h0m83-54h0m-184-193h0m-72 211h0m219-9h0m54 56h0m-98-123h0m-45 103h0m-32-157h0m-66-6h0m4 131h0m62-124h0m119 165h0m-100-1h0m-80-45h0m-8 40h0m136-1h0m-118 45h0m112-48h0m19-13h0m-162-81h0m35-65h0m77 191h0m29-178h0m44 120h0m67-136h0m-151-4h0m78 87h0m-138 77h0m-25-3h0m13-145h0m-33 47h0m15 24h0m182 46h0m-191-121h0m64-3h0m-59 126h0m148 113h0m-65-257h0m38 210h0m-24-238h0m-47 188h0m-55-110h0m47-49h0m75 248h0m-64-239h0m-105 84h0m231 20h0m8-35h0m-127-61h0m115 83h0m-35 77h0m4 34h0m21-158h0"/>
<path class="b" d="M347 237h0m40 113h0m28-12h0m-231-70h0m9-33h0m104 136h0m-104-113h0m174-44h0m-197 19h0m99-61h0m117-22h0m-194 98h0m193 152h0m-131-240h0m-47 38h0m-30 119h0m164 59h0m28-186h0m-156 42h0m54-47h0m-44-17h0m151 58h0m-164 46h0m203 114h0m-159-226h0m-79 139h0m4 33h0m99-231h0m103 247h0m-104-154h0m104 123h0m-103-104h0m-51 121h0m8-18h0m82 73h0m-82-176h0m-7-95h0m9 269h0m-27-71h0m36 36h0m-5-139h0m-35 59h0m190 17h0m-94-89h0m20 1h0m42 29h0m-131-21h0m134 215h0m-32-222h0m-98 116h0m208 13h0m-265-84h0m220-12h0m-88 183h0m-150-133h0m29-141h0m84 66h0m91 213h0m-42-215h0m-125 76h0m160 120h0m-153-124h0m131 89h0m-85-192h0m149 223h0m-193-177h0m36 185h0m4-68h0m129-69h0m28 75h0m-5-82h0m-56 122h0m-168-22h0m35-166h0m215 145h0m-49-58h0m-49-87h0m62 110h0m-99-120h0m-75 15h0m-24 156h0m136 11h0m-47-182h0m124 120h0m-167 36h0m178-69h0m-74 89h0m51-94h0m-113-74h0m-87 28h0m210 114h0m-84 32h0m-92-58h0m156 24h0m-223-93h0m240-17h0m-207-27h0m218 105h0m8 3h0m-258 58h0m81 34h0m-12-71h0m26 10h0m144-83h0m57-13h0m-27 117h0m-1-154h0m-40 97h0m-98-97h0m-97 18h0m56-11h0m159 190h0m-14-44h0m-154-41h0m68 57h0m-51-159h0m-94 10h0m220 165h0m-1-131h0m-174 19h0m109 86h0m-17 3h0m-116-152h0m191 32h0m-176-11h0m168-4h0m-151 53h0m172 149h0m-3-49h0m20-33h0m-28-85h0m-108-88h0m123 86h0m-210-75h0m204 222h0m21-51h0m-203-175h0m14 16h0m69 4h0m-77 2h0m17 115h0m67-131h0m110 65h0m-83 106h0m79-129h0m-116 133h0m130-31h0m4 10h0m-178-28h0m58 77h0"/>
<path class="b" d="M303 372h0m-12-157h0m-51-2h0m26 144h0m90-148h0m12 150h0m46-33h0m-132-126h0m-51 132h0m141-7h0m-162 11h0m-1-79h0m-7 51h0m192-38h0m-200-78h0m11 80h0m167 3h0m-181 5h0m25-61h0m108 145h0m-160-50h0m96-123h0m23 172h0m-64-205h0m119 39h0m57 134h0m-88-158h0m33 64h0m-139 11h0m33 65h0m-39-17h0m-6-106h0m108 203h0m-91-123h0m130 96h0m4 34h0m-116-46h0m-31-110h0m201-3h0m-4 37h0m-3-52h0m-156-14h0m155 127h0m-243-206h0m236 272h0m-86-291h0m71 234h0m-46-151h0m72 123h0m-72 82h0m-133-199h0m225 102h0m-203-83h0m29 98h0m-44-128h0m151 36h0m-5-42h0m-15 191h0m32-142h0m-146 88h0m48 34h0m-42-76h0m-6 36h0m195-58h0m-191-42h0m132 17h0m-38 127h0m25-169h0m-53 17h0m89 186h0m-44-181h0m102 190h0m-176-23h0m156-89h0m-118-78h0m141 22h0m-125-36h0m35-10h0m-43 225h0m26-41h0m-82-43h0m17 16h0m-85-141h0m258 153h0m-58-92h0m14-6h0m-118 125h0m-55-125h0m183 20h0m-49 84h0m7 32h0m-162-129h0m97-53h0m159 37h0m-159 109h0m-73-172h0m183 197h0m-265-22h0m235-50h0m-44-100h0m82 77h0m-11 44h0m-165-145h0m-20 4h0m28 121h0m17-119h0m114 158h0m-29-135h0m56 131h0m-13-77h0m-190-71h0m129-53h0m108 208h0m-196-45h0m-59-183h0m185 241h0m-172-57h0m42-112h0m148 120h0m-104 45h0m-34-30h0m-15 35h0m118-173h0m52 38h0m-54-17h0m23 109h0m-8-101h0m-88 150h0m71-182h0m30 82h0m13 88h0m-18-105h0m57 57h0m-124 59h0m47-158h0m-95 182h0m97-210h0m-25 205h0m-51 3h0m-88-102h0m31-41h0m177 68h0m-159-3h0m-67 16h0m186-102h0m-44 134h0m35-8h0m6-132h0m-97-25h0m27 162h0"/>
<path class="b" d="M357 380h0m-154-68h0m-10-106h0m22 26h0m-17 30h0m169 3h0m-182 11h0m8-31h0m179 89h0m24-71h0m-147-67h0m7 170h0m38-161h0m-28-2h0m38 166h0m9 0h0m-81-175h0m93 17h0m65 86h0m-53 93h0m33-5h0m-105 13h0m2-43h0m74-132h0m30 30h0m90 184h0m-152-234h0m-34 4h0m-46 180h0m159-22h0m25-81h0m-271-120h0m124 24h0m-31-18h0m-3 31h0m158 58h0m-35 129h0m-43-195h0m83 118h0m-121 53h0m-28-161h0m131 128h0m-107 31h0m-58-78h0m173 40h0m-204-77h0m125 139h0m-23-175h0m17 197h0m-82-186h0m-6-35h0m97 190h0m68-96h0m-133-77h0m59 10h0m-166 117h0m214 55h0m50 30h0m-183-176h0m40-60h0m113 52h0m34 116h0m-35-138h0m40 169h0m-232-86h0m209-32h0m-43-22h0m-90 217h0m138-192h0m30-5h0m12 165h0m-173-244h0m116 68h0m-13-3h0m-61-38h0m64 132h0m33-33h0m-175-133h0m-178 12h0m347 135h0m-157-111h0m178 54h0m-258-10h0m55 39h0m-25-8h0m50 45h0m183-38h0m-210 8h0m183-5h0m-63-90h0m-138 192h0m212 20h0m-129-217h0m-29 137h0m15-126h0m-44 59h0m187 13h0m-188 40h0m76-116h0m-89 97h0m165 65h0m4-104h0m-59 146h0m75-36h0m-59 5h0m-59-164h0m-49 107h0m180-157h0m-81 234h0m-85-28h0m26-30h0m-56-127h0m209 106h0m-138 43h0m89 29h0m18-58h0m-13 32h0m-177-73h0m207-57h0m-30 163h0m-127-36h0m181 75h0m48-135h0m-85 9h0m-22-33h0m-57-101h0m-4 33h0m-37 3h0m5-23h0m48 22h0m-152 87h0m59 12h0m58-116h0m-104 10h0m135 170h0m11 22h0m-150-176h0m127 202h0m2-61h0m76-44h0m-64 66h0m-31-176h0m-90 77h0m62 87h0m69 57h0m-103-231h0m200 39h0m-51 34h0m-179-28h0m-13 70h0"/>
<path class="b" d="M269 406h0m24-205h0m-27 14h0m-56 52h0m-49-18h0m203 88h0m-178-141h0m76-19h0m-11 15h0m130 42h0m-67-23h0m48 184h0m-121-69h0m27 40h0m-58-115h0m120 136h0m65-82h0m-115-104h0m96 184h0m85-79h0m-88-63h0m-140 119h0m67-155h0m91 176h0m-17 3h0m-175-186h0m6 100h0m116 78h0m-25-8h0m-200 11h0m284-65h0m-68-104h0m20 212h0m70-82h0m-146-181h0m-56 154h0m54-117h0m-54 0h0m215 90h0m-40 37h0m-220-115h0m82 144h0m154-42h0m15-68h0m-145-61h0m96 203h0m18-16h0m5-44h0m-31-98h0m31 104h0m-5-18h0m-43 56h0m-165-138h0m33-62h0m114 200h0m-65-162h0m-58 68h0m130-83h0m-105 99h0m-39-45h0m233 60h0m-205-22h0m73-78h0m21 7h0m-75 118h0m197-38h0m-50-28h0m-155 4h0m160 72h0m-173 35h0m96 41h0m-99-163h0m132 124h0m61-98h0m-202-34h0m106-43h0m-86 59h0m165-11h0m-49-39h0m47 123h0m-19 46h0m27-36h0m-219-85h0m182-36h0m-164 56h0m49-74h0m136 56h0m-60 190h0m-99-195h0m161 125h0m-166-228h0m176 45h0m-168 92h0m174 27h0m-185-135h0m6 29h0m124 159h0m14-141h0m48 81h0m-139-129h0m128 135h0m-166 9h0m62 49h0m-85-86h0m97 92h0m94-108h0m51 148h0m-221-159h0m-6-109h0m85 223h0m81 18h0m-88-201h0m66 202h0m-79-219h0m-19 177h0m140-56h0m-111 99h0m107-75h0m-22-40h0m64 12h0m-246 6h0m150-99h0m-116 55h0m225 111h0m-248-68h0m23 23h0m-70-88h0m86 101h0m88-124h0m-119 10h0m113 164h0m75-38h0m-18-104h0m-98 125h0m-104-159h0m112-33h0m-52 175h0m20-7h0m172-17h0m-169 62h0m-52-97h0m188-2h0m-76-95h0m87 168h0m-114-155h0m-128 36h0m226-12h0m-99-53h0m87 93h0m-207-72h0"/>
<path class="s" d="M194 237h0m154 2h0m-73 129h0m101-34h0m-131 19h0m-44-93h0m44-64h0m-61 23h0m41 122h0m-23-118h0m73-47h0m-22-3h0m108 65h0m-146 43h0m1 48h0m40 9h0m67 39h0m55-148h0m-195 43h0m42-73h0m-34 7h0m214 65h0m3 26h0m-46 66h0m3-43h0m-121-115h0m155 57h0m2 63h0m-71 40h0m82 14h0m-21-151h0m54 127h0m-135-144h0m88 85h0m-116-89h0m159 76h0m-276 53h0m75 49h0m144-119h0m-11-73h0m7 133h0m-165-7h0m-10-119h0m0 84h0m177 35h0m-139-129h0m50 173h0m32 21h0m-112-114h0m152-27h0m-153-56h0m-33 74h0m34-33h0m5 37h0m-41 12h0m175-45h0m57 81h0m-106-99h0m6-11h0m108 43h0m-236 55h0m188 46h0m43-76h0m-222 16h0m24-31h0m188 86h0m-196-36h0m175 12h0m-62 89h0m-111-238h0m50 192h0m190-69h0m-125 85h0m23-159h0m14 149h0m-5 8h0m-91-173h0m-54 69h0m61-63h0m16 161h0m-80-113h0m132-52h0m-56 7h0m-41-45h0m-31 39h0m106-3h0m-41 188h0m111 22h0m-20-126h0m-172-23h0m0 51h0m206-149h0m-30 199h0m-214-51h0m129-122h0m-7 189h0m-33-197h0m-8 27h0m-22 53h0m173 41h0m-221 10h0m113 82h0m121-36h0m-194-99h0m3 54h0m3-76h0m-6 33h0m190 41h0m18 41h0m-178 29h0m30-173h0m13 1h0m-27 0h0m72 149h0m-106-1h0m-61-85h0m176 109h0m70-123h0m-23-62h0m-109 171h0m95 23h0m-169-130h0m66-47h0m-123 0h0m125 167h0m-40-190h0m186 25h0m-226 24h0m115-38h0m113 42h0m-154 101h0m-61-132h0m36-30h0m-45-10h0m59 33h0m-35 107h0m165-96h0m-13 55h0m15 43h0m60 55h0m-51-38h0m-167-21h0m34 70h0m137-173h0m-162 111h0m98-113h0m59 52h0m-23 74h0m-74 34h0m-109-139h0m184 100h0m-3 64h0m26-120h0m-144-94h0m-93 79h0m224 16h0m-11-29h0m-56 144h0m-24-13h0m54-146h0m-72-23h0m134-6h0m-185 110h0m-5-33h0m91-71h0m-84 3h0m-23 67h0m134 84h0m102-13h0m-24 36h0m-175-48h0m170 81h0m-174-101h0m159 7h0m-203 16h0m255 34h0m-66-168h0m-53 185h0m112-20h0m-42 39h0m-157-215h0m-10 132h0m-25 33h0m163 13h0m27-38h0m-110 55h0m36-6h0m100-140h0m-204-10h0m130 181h0m-228-195h0m112-10h0m130 19h0m-93-31h0m9 18h0m-83 38h0m119-74h0m-99 80h0m164-46h0m-15 175h0m-73-207h0m-78 167h0m171-91h0m-143 57h0m8 54h0m-61-104h0m175 107h0m-22 5h0m-146-71h0m21-99h0m154 43h0m1 67h0m-146 33h0m167-63h0m-184-27h0m180 92h0m14-42h0m-184-45h0m127 113h0m-167-170h0m220 158h0m-60 8h0m-48-178h0m40 188h0m92-107h0m-202 16h0m21 22h0m190-76h0m-208 62h0m158-44h0m-181 72h0m134-135h0m-27 11h0m-39 149h0m122-185h0m-186 113h0m194 120h0m-27-118h0m2 75h0m-169-197h0m66 176h0m-49-62h0m34 126h0m24-190h0m-20 139h0m-45-93h0m150 187h0m-93-251h0m144 157h0m-95 31h0m100-105h0m-231-86h0m190 47h0m31 115h0m-114-155h0m-133-48h0m64 214h0m-21-103h0m78-100h0m18 211h0m11-166h0m-116 14h0m175 109h0m-161 48h0m104-172h0m38 12h0m-100-20h0m131 154h0m-206-37h0m91-131h0m-56 41h0m-56 52h0m242 35h0m-130 46h0m164-68h0m-165 118h0m8-210h0m-7 158h0m127-63h0m-46 120h0m-127-129h0m37 93h0m-49-74h0m161-65h0m-168 49h0m31 47h0m94-182h0m-73-6h0m-71 136h0m97-73h0m141 164h0m-86 7h0m101-108h0m-224-86h0m10 60h0m-83-64h0m231 96h0m-184-18h0m84 143h0m149-71h0m62 96h0m-31-92h0m-134 59h0m-58-179h0m-38 73h0m-14-131h0m55 187h0m108-21h0m-155-54h0m80 140h0m91-59h0m-168-88h0m4 39h0m145-112h0m1 14h0m-170 34h0m-15 68h0m158-129h0m-189 37h0m177 3h0m-125 99h0m171 78h0m-55-180h0m94 81h0m-33 86h0m24-18h0m-98-150h0m8-37h0m78 28h0m11 35h0m-155 109h0m161-37h0m-56 80h0m115 10h0m-261-121h0m33-84h0m133 51h0m19 78h0m10 4h0m-53-101h0m58 95h0m-167 16h0m-71-28h0m193-74h0m10 84h0m-182-122h0m195 135h0m-1 38h0m-6-25h0m-260-244h0m213 265h0m-122-118h0m18 98h0m-36-53h0m178-9h0m-118-84h0m100 200h0m-171-100h0m41-12h0m183 68h0m-9 28h0m-175-157h0m149 59h0m-77-100h0m79 130h0m-73 101h0m99-93h0m-6-6h0m-73 44h0m-97-9h0m31-150h0m140 146h0m-229-103h0m138 124h0m5-170h0m-14 12h0m46 154h0m-136 11h0m259-55h0m-79 42h0m-31 28h0m83-30h0m0-83h0m-65-50h0m6 51h0m-26 92h0m-219-150h0m91 32h0m155 17h0m-196-42h0m188 134h0m24-2h0m-177-28h0m137-106h0m30 159h0m-80-24h0m3-147h0m90 62h0m-130-85h0m-46 186h0"/>
<path class="s" d="M245 207h0m58 8h0m92 31h0m-52-19h0m26 174h0m-30-40h0m-128-190h0m1 86h0m163 57h0m-129-101h0m163 97h0m13 46h0m-209-71h0m133-78h0m-41 229h0m33-75h0m36-11h0m-27 36h0m-139-179h0m-16 35h0m-9 17h0m-45 24h0m109 83h0m126-54h0m-12 54h0m-176-166h0m215 121h0m-99-122h0m-153 73h0m50-33h0m72-36h0m-20-11h0m4 168h0m141-11h0m-32 31h0m-97-36h0m-52 18h0m-44-115h0m143-65h0m116 23h0m-60 122h0m-102 21h0m122-107h0m-72 121h0m-62 55h0m-19-244h0m113 188h0m45 19h0m-106-165h0m-97-39h0m221 127h0m-136-123h0m-59 107h0m13 67h0m78 36h0m130-61h0m-177 7h0m-79-120h0m171 149h0m-181-114h0m123-59h0m-105 16h0m38-17h0m134 33h0m36 181h0m-51-36h0m-121-30h0m169-8h0m-203-121h0m24 10h0m-6 79h0m19-85h0m-3 157h0m163-30h0m-188-74h0m42-62h0m16 155h0m-5-2h0m111-182h0m16 95h0m-143-131h0m69 60h0m20 9h0m-17 1h0m-68 141h0m150-81h0m-106-67h0m60 164h0m-85-20h0m119-33h0m-26 83h0m-141-81h0m153-38h0m40-34h0m-177 74h0m147-33h0m-52 102h0m-51-203h0m90 190h0m-49-181h0m61 93h0m-67 106h0m-92-121h0m170 61h0m-134-122h0m-50 101h0m2-67h0m179 101h0m-119-3h0m-23-129h0m-87-62h0m110 50h0m113 112h0m-134 9h0m79-107h0m8-11h0m-119 67h0m-2 46h0m35-106h0m136 170h0m-111-184h0m47 173h0m-16-164h0m103 184h0m-212-230h0m75 52h0m-28-17h0m74 16h0m-33-2h0m112 113h0m-50-96h0m-8-46h0m-106 2h0m64 23h0m-165 9h0m258 47h0m-197 46h0m186-39h0m-45 105h0m-11 12h0m85-64h0m-21-45h0m21 118h0m-86-190h0m-83 119h0m-15-27h0m77 88h0m64-145h0m-20-44h0m3-13h0m-113 189h0m20-204h0m222 149h0m-161 48h0m-189-143h0m85 6h0m128 136h0m-16-190h0m84 234h0m-19-94h0m-32-97h0m45 152h0m-181-69h0m65 71h0m-14-27h0m82 42h0m-155-116h0m180 16h0m-33-154h0m27 196h0m-209 14h0m21-84h0m217 42h0m-16-66h0m15 58h0m-30-5h0m-72 82h0m86-84h0m-37 80h0m-21-155h0m151 257h0m-131-228h0m55 66h0m-172-117h0m171 142h0m-112-170h0m-58 171h0m-47-60h0m91-98h0m-90 29h0m14 132h0m-4-55h0m18-18h0m-24-99h0m83 3h0m-51 194h0m-20-163h0m-97 88h0m179 77h0m151-39h0m-50-63h0m-156-91h0m-55 93h0m47-80h0m155 99h0m-158-95h0m-25 25h0m90 184h0m154-102h0m-62 28h0m-94-104h0m87-47h0m10 105h0m-172 15h0m11 55h0m162-129h0m-141-17h0m141 121h0m-106-132h0m107 132h0m-182-133h0m159 204h0m-29-7h0m-109-157h0m-63-70h0m157 223h0m-43-40h0m138 78h0m25-67h0m-180-10h0m131 20h0m12-52h0m-120-107h0m-55 98h0m188-14h0m-210-2h0m65 57h0m-53-30h0m171 48h0m-85 10h0m40 35h0m-147-207h0m187 144h0m-75-133h0m-82 65h0m-24-81h0m192 128h0m-73-120h0m-115 73h0m187 11h0m-15 133h0m-112-77h0m64-150h0m-105 109h0m-32-50h0m285 51h0m-172 69h0m-83-148h0m-94 69h0m284 18h0m-6 45h0m-48-114h0m41 24h0m-193-78h0m5 97h0m87 119h0m40-28h0m-64-161h0m-47 63h0m109 137h0m112-134h0m-104 129h0m-124-160h0m206 30h0m-187-75h0m63 5h0m93 73h0m3 91h0m-16-108h0m-160-3h0m19 98h0m46 7h0m112-35h0m-132-146h0m-13 154h0m62-165h0m-145 73h0m228 21h0m-63 98h0m-154-135h0m90 117h0m47-183h0m9 48h0m-87 124h0m-51-152h0m20 118h0m218 33h0m-66 33h0m32-88h0m-83 88h0m-140-124h0m58 3h0m-3-89h0m77 224h0m62 4h0m-60-169h0m-22-2h0m-144-25h0m257 135h0m-158-9h0m66-118h0m11-24h0m73 193h0m-90-3h0m84-97h0m12-42h0m-2 109h0m-101-121h0m-145 111h0m73-34h0m-9 37h0m191-98h0m-77-18h0m-94 14h0m152 120h0m24 40h0m-145-182h0m5 7h0m150 184h0m-111-26h0m112-104h0m6-78h0m-143 28h0m-51 57h0m31 73h0m66-128h0m-105 85h0m182 48h0m-14-103h0m-195 127h0m110 11h0m-42-198h0m5 186h0m111-56h0m-160-53h0m114 100h0m-1-147h0m104 19h0m-54 81h0m-147 6h0m-30-137h0m31 9h0m-27 61h0m198 24h0m-196-15h0m97 135h0m-70-84h0m135 55h0m-34-199h0m-28-16h0m-73 186h0m60 52h0m-55-203h0m-40 147h0m-4-57h0m29-28h0m-48-18h0m204 107h0m-63 22h0m41 18h0m1-145h0m-172 40h0m268 101h0m-60 10h0m-92-180h0m-67 111h0m59-155h0m112 116h0m-141-67h0m-75-13h0m211 73h0m-166 55h0m121-140h0m36 130h0m-192 81h0m118-238h0m-82 195h0m-33-78h0m161 117h0m19-51h0m8 22h0m-159-194h0m13 146h0m-16-119h0m173 45h0m-192-13h0m118 148h0m-77 34h0m172-111h0m-195-99h0"/>
</g>
<path d="M30.3 37.1L32.8 38L34 37.1L35.2 36.9L37.6 35.6L38.4 34.7L39.3 32.3L39.6 29.9L38.5 27.5L37.6 26.1L37.1 25.1L35.2 23.1L34.8 22.8L32.8 20.7L32.1 20.4L30.3 19.6L27.9 19.6L25.5 19.8L24.4 20.4L23.1 20.8L20.6 22.8L20.6 22.8L19.8 25.1L20.6 26.9L20.8 27.5L21 29.9L22.7 32.3L23.1 32.8L25 34.7L25.5 35.1L27.9 36.7L30.3 37.1L30.3 37.1Z" fill="#fff" fill-rule="evenodd"/>
<path d="M21.85 28.74h2.43v2.4h-2.43zM21.85 26.34h2.43v2.4h-2.43zM21.85 23.95h2.43v2.4h-2.43zM21.85 21.55h2.43v2.4h-2.43zM24.27 31.14h2.43v2.4h-2.43zM24.27 21.55h2.43v2.4h-2.43zM26.7 33.53h2.43v2.4h-2.43zM29.13 33.53h2.43v2.4h-2.43zM29.13 21.55h2.43v2.4h-2.43zM31.56 33.53h2.43v2.4h-2.43zM33.98 33.53h2.43v2.4h-2.43zM33.98 23.95h2.43v2.4h-2.43z" fill="#000" fill-opacity="0.06"/>
<path d="M26.7 21.55h2.43v2.4h-2.43zM31.56 23.95h2.43v2.4h-2.43zM33.98 31.14h2.43v2.4h-2.43zM33.98 26.34h2.43v2.4h-2.43z" fill="#000" fill-opacity="0.12"/>
<path d="M24.27 28.74h2.43v2.4h-2.43zM26.7 31.14h2.43v2.4h-2.43zM33.98 28.74h2.43v2.4h-2.43z" fill="#000" fill-opacity="0.19"/>
<path d="M24.27 23.95h2.43v2.4h-2.43z" fill="#000" fill-opacity="0.25"/>
<path d="M31.56 31.14h2.43v2.4h-2.43z" fill="#000" fill-opacity="0.31"/>
<path d="M24.27 26.34h2.43v2.4h-2.43zM29.13 31.14h2.43v2.4h-2.43z" fill="#000" fill-opacity="0.38"/>
<path d="M26.7 23.95h2.43v2.4h-2.43zM29.13 23.95h2.43v2.4h-2.43zM31.56 26.34h2.43v2.4h-2.43z" fill="#000" fill-opacity="0.44"/>
<path d="M31.56 28.74h2.43v2.4h-2.43z" fill="#000" fill-opacity="0.56"/>
<path d="M26.7 28.74h2.43v2.4h-2.43z" fill="#000" fill-opacity="0.69"/>
<path d="M26.7 26.34h2.43v2.4h-2.43z" fill="#000" fill-opacity="0.88"/>
<path d="M29.13 28.74h2.43v2.4h-2.43z" fill="#000" fill-opacity="0.94"/>
<path d="M29.13 26.34h2.43v2.4h-2.43z" fill="#000" fill-opacity="1"/>
<path class="c" d="M30.3 37.1L32.8 38L34 37.1L35.2 36.9L37.6 35.6L38.4 34.7L39.3 32.3L39.6 29.9L38.5 27.5L37.6 26.1L37.1 25.1L35.2 23.1L34.8 22.8L32.8 20.7L32.1 20.4L30.3 19.6L27.9 19.6L25.5 19.8L24.4 20.4L23.1 20.8L20.6 22.8L20.6 22.8L19.8 25.1L20.6 26.9L20.8 27.5L21 29.9L22.7 32.3L23.1 32.8L25 34.7L25.5 35.1L27.9 36.7L30.3 37.1L30.3 37.1Z"/>
<path class="c" d="M32.6 34.7L32.8 34.8L32.9 34.7L35.2 33.4L35.9 32.3L36.1 29.9L35.2 27.5L35.2 27.5L33.8 25.1L32.8 24.2L30.3 22.9L29.5 22.8L27.9 22.3L26.6 22.8L25.5 23.1L23.7 25.1L23.1 27.5L24 29.9L25.5 32.3L25.5 32.3L27.9 33.7L30.3 34.5L32.6 34.7Z"/>
<path class="c" d="M26.9 29.9L27.9 30.8L30.3 32.3L32.8 31.3L33.6 29.9L32.9 27.5L32.8 27.4L30.3 25.2L28.8 25.1L27.9 25.1L27.8 25.1L25.8 27.5L26.9 29.9Z"/>
<path class="c" d=""/>
</g>
<g transform="translate(105.3 102.1)" clip-path="url(#cp)">
<g transform="scale(.1)">
<path class="b" d="M347 279h0m-229 35h0m88 61h0m127-77h0m-121 64h0m186-37h0m-2 71h0m-293-192h0m195 46h0m-145-64h0m96 18h0m-106 59h0m-25-28h0m62-43h0m158 99h0m-15 66h0m-49-136h0m-134 37h0m168-5h0m-89 145h0m-86-197h0m28 120h0m43 51h0m-7-204h0m71 67h0m-127 47h0m27 75h0m-27-77h0m60-78h0m96 180h0m-80-209h0m76 203h0m-1-184h0m-112 11h0m6 161h0m-138-264h0m94 196h0m202-7h0m-201 4h0m-68-139h0m156 57h0m-100 111h0m95-113h0m35 203h0m12-2h0m49-155h0m20 54h0m-198-53h0m132-25h0m29 16h0m21 100h0m-195-109h0m115-52h0m-11-12h0m-53 38h0m213 107h0m-192 41h0m79-149h0m53 109h0m-225-148h0m189 190h0m-82-184h0m35 17h0m-108 112h0m73 65h0m32-4h0m-67-157h0m-59 70h0m206 86h0m-6-48h0m14 39h0m-218-76h0m-11-45h0m21-6h0m85 130h0m14-2h0m-73-41h0m14-106h0m-58-16h0m23 88h0m153 119h0m-230-75h0m99-116h0m190 129h0m-27-66h0m10 63h0m-123 72h0m-18-63h0m-28-141h0m-119 20h0m181-36h0m150 149h0m-56-2h0m-108 40h0m62-169h0m-63 163h0m143-63h0m-114-130h0m63 75h0m-186 25h0m215 59h0m-190-105h0m-54-25h0m90 2h0m154 135h0m40-31h0m-153-116h0m-83 75h0m138 88h0m31 45h0m25-43h0m-153-174h0m143 92h0m1-22h0m-23-85h0m34 77h0m-128-81h0m-64 189h0m-35-105h0m219 54h0m-175-72h0m47-63h0m126 158h0m-106-145h0m-71 120h0m193 62h0m-119-154h0m96 26h0m-17 13h0m-21-35h0m-162-51h0m47-18h0m17 200h0m134-100h0m-170 8h0m-64 19h0m118-70h0m-9 136h0m-60-167h0m42 31h0m93 164h0m-129-110h0m111 171h0m-101-137h0m100 128h0m-118-146h0m43 58h0m49-137h0m-53 0h0m91-3h0"/>
<path class="b" d="M256 377h0m-21-177h0m-145 33h0m102 138h0m47-11h0m-55-150h0m191 133h0m-235-130h0m139 154h0m-56-224h0m6 276h0m-40-224h0m-26 18h0m-18-69h0m-13 44h0m65 10h0m-36 150h0m159 67h0m-184-158h0m-32-90h0m29 176h0m38 81h0m8-87h0m-30-141h0m54-11h0m-22 175h0m-53-143h0m213 46h0m-32 204h0m16-24h0m-9-134h0m-183-84h0m173 20h0m-163 21h0m42-65h0m32-14h0m90 190h0m-37 18h0m-151-157h0m44 84h0m26-181h0m72 235h0m-146-177h0m247 150h0m-283-114h0m105-30h0m43 167h0m8 3h0m-74-29h0m-6-143h0m-44-2h0m50 5h0m117 157h0m50-128h0m1-28h0m-191 7h0m194 77h0m-35 85h0m-105-176h0m-5-2h0m8 5h0m-31 115h0m-23 48h0m153-104h0m-175 43h0m122-93h0m-26-13h0m-63 116h0m58-105h0m-70 4h0m155 49h0m21-33h0m-217 52h0m25-104h0m204 217h0m-36-7h0m-157-125h0m-1-53h0m186 106h0m-112-176h0m78 220h0m-107 3h0m-106-258h0m285 271h0m-104-182h0m62 192h0m-108-192h0m129 75h0m-207-34h0m37 93h0m51-117h0m-78-20h0m153 51h0m41 111h0m-104-183h0m-124 86h0m121 151h0m-32-27h0m142-70h0m-20 102h0m-117-219h0m51 170h0m101-64h0m40 1h0m-205 49h0m-99-16h0m175 36h0m-137-96h0m302 132h0m-232-192h0m-88 51h0m115-58h0m98 116h0m-55 99h0m-105-222h0m212 130h0m14-46h0m-100-90h0m-144 84h0m141 86h0m-18 0h0m-130-76h0m195 23h0m-193-73h0m64 123h0m-74-93h0m10-58h0m44-3h0m91 0h0m-2 29h0m99 163h0m-230-231h0m21 176h0m176-47h0m0 28h0m-8 3h0m-235-127h0m35 62h0m71-63h0m150 273h0m-96-276h0m89 181h0m-128-163h0m-84 16h0m23-66h0m197 138h0m-236-113h0m158 174h0m46-39h0m-114-137h0"/>
<path class="b" d="M352 349h0m-185-35h0m81-101h0m-86-41h0m-27 143h0m50-122h0m31 183h0m25-15h0m-85-163h0m87 181h0m89-43h0m12-131h0m-204 21h0m122 172h0m70-88h0m25 72h0m-144-187h0m-93 149h0m21-108h0m205 22h0m-161 99h0m151-53h0m2 149h0m-164-95h0m149-159h0m-56 18h0m41 195h0m-151-320h0m145 292h0m-6-12h0m-169-126h0m22-40h0m131 24h0m-165-40h0m16 44h0m150-72h0m73 201h0m-190-34h0m-25-86h0m70-37h0m129 147h0m-21-108h0m-40-20h0m-90-15h0m68-5h0m82 6h0m-56 175h0m88 16h0m-240-187h0m113 177h0m2-9h0m-70-44h0m153-9h0m-180-121h0m154 39h0m-54 171h0m86-99h0m-35 80h0m-165-145h0m156 115h0m-181-101h0m70-77h0m56 179h0m76 12h0m10-33h0m-60 10h0m21 48h0m91-124h0m-161-73h0m26 0h0m23-2h0m-35-12h0m78 213h0m-193-185h0m11 2h0m221 108h0m-202-121h0m95-31h0m96 183h0m-198-161h0m61 4h0m130 129h0m-47-131h0m61 77h0m51 84h0m-19-24h0m-94 38h0m5-21h0m46-9h0m22 18h0m-30 18h0m-11-130h0m-91 107h0m-93-201h0m197 145h0m-133-106h0m152 113h0m-128-117h0m-26 143h0m144 8h0m13 79h0m-141-250h0m11 10h0m90 215h0m-163-162h0m185 66h0m-208 0h0m150 85h0m-134-108h0m210 73h0m-176-159h0m-23 77h0m178 86h0m5 8h0m-219-165h0m67 1h0m104 1h0m2 233h0m0-74h0m-64-152h0m60 182h0m-151-119h0m153 86h0m49-15h0m-137-146h0m73 164h0m-43-5h0m-56-146h0m-7-6h0m63 159h0m-36 28h0m29-18h0m-118-127h0m152 116h0m-91-166h0m92 167h0m-104-117h0m-33-52h0m164 217h0m41-106h0m-70 59h0m77-94h0m-75-62h0m103 94h0m-222-132h0m-31 53h0m190 137h0m8-109h0m-218 65h0m263 75h0"/>
<path class="b" d="M319 303h0m-208-76h0m-8 77h0m69 37h0m130-86h0m1 137h0m-86-13h0m-23 27h0m11-198h0m65 164h0m-135-74h0m117 87h0m-126-32h0m15-71h0m-36 36h0m219 6h0m23-9h0m-112 61h0m107 25h0m-26-85h0m10-34h0m-9 39h0m-60-119h0m44 40h0m-173-20h0m149 166h0m-94 4h0m143-45h0m-129-133h0m4-13h0m155 247h0m-286-225h0m23 55h0m25-103h0m215 153h0m-145-119h0m-118-19h0m199-1h0m-2 12h0m-44-6h0m-144-19h0m331 151h0m-347-154h0m78 5h0m78 190h0m76-112h0m-91-89h0m41 203h0m56 63h0m41-108h0m-214-96h0m107 162h0m-12-181h0m-67-37h0m-26 192h0m96-173h0m67 208h0m-21-22h0m-112-192h0m22 20h0m27 3h0m-41 127h0m-59 26h0m139-155h0m100 171h0m-128-172h0m-125 110h0m158-152h0m75 216h0m-91 67h0m-96-154h0m205 90h0m-178-62h0m16-109h0m80 152h0m-153-154h0m94-67h0m-26 66h0m6 203h0m62-197h0m-91 103h0m168 6h0m-185-85h0m176 127h0m-37-129h0m56 142h0m-199-213h0m35 23h0m6 4h0m116 67h0m-18 122h0m19 3h0m-113-212h0m101 40h0m132 135h0m-243-9h0m-25-84h0m182 108h0m-149-153h0m-48 62h0m90 99h0m-104-108h0m154-27h0m63 103h0m-203-68h0m-6-91h0m1-12h0m150 210h0m-50-4h0m-9-162h0m36 207h0m92-168h0m-11 41h0m-164 61h0m-68-42h0m143-134h0m-31 16h0m64 173h0m-143-123h0m205 74h0m-73 69h0m-22-179h0m35 197h0m-162-261h0m141 235h0m76-7h0m-105-171h0m108 160h0m-100-184h0m-85 181h0m25-188h0m178 190h0m-81 29h0m-34-14h0m105-103h0m-162-65h0m108 28h0m-111-20h0m5-24h0m55 178h0m81-8h0m-248-177h0m178 15h0m-108 69h0m131-42h0m-130 3h0m109 165h0m-84-185h0m123 156h0m67 20h0"/>
<path class="b" d="M347 340h0m-49-82h0m-47 117h0m-44-160h0m-32 126h0m124 26h0m-176-174h0m205 170h0m-116-187h0m51 200h0m-20-163h0m109 93h0m-82-71h0m-54 124h0m-31-144h0m231 128h0m-287-76h0m-2-44h0m212 104h0m-22-88h0m59 71h0m-47 58h0m-87 0h0m-108-116h0m105 192h0m-6-76h0m163-56h0m-322-109h0m96 128h0m125-79h0m29 76h0m-112-166h0m-54 164h0m169-47h0m-11 48h0m-207-69h0m207 87h0m-209-76h0m16-50h0m14 78h0m123-99h0m11 36h0m27 21h0m-185-76h0m135 20h0m-24 162h0m22-176h0m-86 26h0m127-39h0m-70 10h0m117 125h0m-202-39h0m185 81h0m-159-165h0m42 3h0m31 177h0m82 11h0m-200-158h0m94 153h0m79-150h0m-85 163h0m-19-215h0m-72 88h0m6-11h0m91 123h0m56 35h0m15-37h0m-18 58h0m-130-213h0m-24-6h0m-18 59h0m151-76h0m177 183h0m-297-270h0m48 229h0m-44-51h0m231-4h0m-199-108h0m-35 137h0m182 112h0m27-111h0m-97-109h0m-141-28h0m202 215h0m-167-53h0m186 54h0m17-47h0m20-45h0m-122 70h0m-27-151h0m-11 146h0m158-17h0m-184 10h0m97-164h0m14 41h0m75 42h0m-236-123h0m96 55h0m148 220h0m-208-50h0m-43-79h0m164 83h0m-81-172h0m153 106h0m-67 62h0m-12-178h0m-109-8h0m-28 51h0m80-44h0m-22 164h0m25-148h0m69 193h0m-40 19h0m-107-156h0m188-7h0m-204-104h0m9 96h0m139-65h0m39 181h0m-120-24h0m-46-87h0m165 162h0m-177-151h0m15-91h0m182 185h0m-174-223h0m122 98h0m47 150h0m-107-1h0m150-114h0m-81-40h0m-96 107h0m79-125h0m-50 191h0m-17-48h0m-76-139h0m175 194h0m-96-43h0m124-31h0m-62-140h0m10 36h0m-42 133h0m-25 0h0m-94-230h0m62 35h0m-24 82h0m-16 87h0m38-25h0m7-115h0m125 197h0"/>
<path class="b" d="M112 304h0m157-94h0m-47 159h0m-122-183h0m238 134h0m-86-114h0m-113-14h0m31 159h0m62-155h0m50 174h0m-124-182h0m43 13h0m-58 0h0m-87 65h0m94-84h0m127 191h0m50-82h0m-261-12h0m175 100h0m122 57h0m-262-227h0m249 54h0m-135-51h0m47-74h0m-133 98h0m52-26h0m87 187h0m-153-122h0m-12-77h0m196 44h0m-20 135h0m69-101h0m-175-78h0m147 94h0m-150-109h0m105 183h0m-141-143h0m139 185h0m6-22h0m-164-194h0m225 171h0m-73 42h0m7 5h0m88-104h0m-58 58h0m57-43h0m-40 17h0m-154-142h0m-12 16h0m77 152h0m93 102h0m-67-106h0m7 90h0m43-223h0m-63-28h0m-71-29h0m-3 30h0m46-3h0m7 6h0m-141 9h0m256 147h0m-89 38h0m-93-50h0m-14-139h0m102 208h0m-37-208h0m136 111h0m-93-117h0m-121 26h0m88-33h0m29 18h0m-36 164h0m-69-163h0m183 52h0m18 37h0m-128-174h0m-71 159h0m1 8h0m64-88h0m119 74h0m-219 1h0m-7-142h0m10 102h0m239 100h0m-140-153h0m114 132h0m-91 54h0m60-7h0m-150-194h0m-4 133h0m-3-16h0m179 33h0m14-104h0m-82-13h0m32 172h0m-27-174h0m-112 82h0m45 65h0m-105-243h0m59 106h0m48-8h0m-32-43h0m-15 96h0m82-124h0m0 238h0m-93-115h0m68-64h0m125 134h0m24 0h0m-182 2h0m47-136h0m-73 65h0m78 99h0m137 12h0m-24-136h0m-44 125h0m-43 3h0m37 9h0m-59-9h0m-27-161h0m108 162h0m-4-115h0m20 110h0m-86 38h0m-34-193h0m-41-3h0m149 202h0m-152-81h0m91-113h0m7 153h0m-115-195h0m147 24h0m55 60h0m-213 37h0m200-37h0m0 22h0m-98-101h0m92 61h0m-112-26h0m-43-51h0m53 236h0m105 3h0m-206-87h0m84 57h0m-16-172h0m69 170h0m80-44h0m-105-149h0m136 118h0m-123-87h0"/>
<path class="b" d="M106 244h0m175-56h0m-99 24h0m101 5h0m-28 173h0m-1-27h0m-82-151h0m135 152h0m-122 11h0m-49-128h0m137-28h0m-9-35h0m-181 57h0m48-55h0m2 65h0m71-44h0m14-7h0m60 37h0m-63 141h0m-36-163h0m-11 102h0m35-130h0m-57 39h0m89-28h0m138 74h0m-240-27h0m21-37h0m101 170h0m167 34h0m-289-134h0m74-82h0m-105-33h0m226 137h0m-108-117h0m-54 0h0m170 172h0m-161-186h0m21 23h0m-72 15h0m9 66h0m200 15h0m-165-77h0m172 181h0m-19-78h0m-85-119h0m16 187h0m-55-168h0m151 112h0m-212-81h0m112-31h0m-150 12h0m34-42h0m11-25h0m228 116h0m-227-38h0m-4 9h0m156 9h0m-143-44h0m92 153h0m7 3h0m-26-156h0m71 40h0m-129 76h0m-45-112h0m102 151h0m147-35h0m-19-41h0m-59-27h0m-125-54h0m156 59h0m-202-22h0m55-45h0m-18-14h0m59 13h0m36 191h0m65-77h0m-236-101h0m60 94h0m130-90h0m-46-18h0m-54 150h0m177 7h0m-136-164h0m-72 157h0m37-149h0m-44 59h0m201 146h0m-163-191h0m36-18h0m130 57h0m-9 101h0m-23-124h0m-2 15h0m-172-31h0m3 24h0m190 109h0m-120-133h0m-120-58h0m177 242h0m-129-133h0m134-35h0m-45-65h0m121 130h0m-48 113h0m-1-149h0m26 20h0m-47 88h0m-131-93h0m-14-57h0m90-24h0m101 154h0m-128-182h0m134 171h0m-114-164h0m19 31h0m-145 47h0m205-1h0m-61 126h0m116-22h0m-209-76h0m22-88h0m196 82h0m-228-48h0m-1 18h0m177 15h0m-176 39h0m139-56h0m-3-30h0m-143 8h0m12 44h0m137-34h0m-61 142h0m-89-153h0m136 152h0m23-8h0m-77-145h0m8 182h0m8-202h0m-26 160h0m-15-9h0m-61-69h0m229 33h0m-151 28h0m176-30h0m-235-111h0m10 55h0m5-53h0m35 156h0m83 53h0m-150-156h0"/>
<path class="b" d="M114 282h0m240-10h0m-11-4h0m-183-57h0m141 189h0m18-16h0m-180-81h0m43 53h0m-13-29h0m137 35h0m-53 61h0m-116-115h0m-28 33h0m-27-147h0m130 7h0m-52 111h0m122 52h0m-10-196h0m-74 245h0m-88-185h0m92-49h0m63 29h0m-36 163h0m22 37h0m-145-199h0m241 138h0m-55-104h0m39 51h0m-191-41h0m34-44h0m8-11h0m11 160h0m-60-63h0m198 22h0m-13 0h0m-138 25h0m-12-138h0m-90 21h0m89-49h0m-53 94h0m188 147h0m-68-225h0m45 188h0m-145-43h0m180-85h0m-70-40h0m93 83h0m-175-80h0m176 84h0m-10 78h0m-217-158h0m219 154h0m-168-191h0m65 196h0m-38-164h0m51 160h0m-74-183h0m74 198h0m-54-191h0m-26-8h0m-42 22h0m182 147h0m-194-174h0m20 60h0m160 119h0m-58 13h0m62-4h0m-100-220h0m60 208h0m-12-160h0m72 160h0m-41-139h0m50 102h0m-25-90h0m-160 82h0m109 81h0m-35-195h0m57-7h0m-147 117h0m114 80h0m-48-208h0m-29 140h0m218-21h0m-22 110h0m-30-69h0m-48 34h0m-187-141h0m203 123h0m53-80h0m-125-68h0m-135-2h0m73 117h0m187-16h0m-229-110h0m35 120h0m180-61h0m10-53h0m-63 231h0m-94-99h0m130 32h0m-78 1h0m-41-19h0m126 29h0m-176-56h0m187-47h0m-290-80h0m135 13h0m-12-10h0m209 154h0m-231-86h0m178-9h0m-237-40h0m249 136h0m-43 32h0m101 14h0m-78 3h0m25-97h0m31-47h0m-192-69h0m166 110h0m-64 60h0m-145-112h0m73 137h0m184-87h0m-207 71h0m105-191h0m4 205h0m-32-208h0m-99 36h0m-42 2h0m58-42h0m-65 148h0m-2-32h0m153 80h0m-66-2h0m-55-69h0m45 56h0m-76-145h0m-5 1h0m181 13h0m-94-29h0m40 202h0m-4-25h0m140-109h0m-223-6h0m91 127h0m15-198h0m52 185h0m-44-10h0m100 33h0"/>
<path class="s" d="M324 290h0m-175-86h0m-12-8h0m4 86h0m-78-109h0m257 212h0m-64-23h0m78 9h0m62-64h0m-122-85h0m96 151h0m-215-50h0m40-116h0m29-42h0m31 225h0m-175-197h0m160-9h0m-6 255h0m-150-234h0m230 47h0m-60 136h0m77-65h0m-110-164h0m-45-10h0m13 61h0m69 151h0m-141-42h0m226 39h0m-22-134h0m26 55h0m0 36h0m-228-16h0m200-33h0m-2 146h0m-118-231h0m71 55h0m-135-70h0m146 63h0m-64-32h0m-97 48h0m149-15h0m-130 99h0m76 59h0m102-130h0m-179 72h0m-31-208h0m231 157h0m65 84h0m-296-91h0m234-9h0m-175 55h0m-11-109h0m-25 17h0m150-3h0m44 125h0m-53-171h0m-93 176h0m-25-39h0m21-105h0m-9-22h0m-5-36h0m-48 64h0m205 177h0m33-17h0m-219-156h0m-27-52h0m60 34h0m181 96h0m-29-67h0m55 132h0m-48-7h0m-187-99h0m148 155h0m-197-179h0m111-46h0m22 208h0m-84-138h0m79-62h0m106 166h0m-145-147h0m115 147h0m-6 9h0m-116-157h0m48 4h0m101 73h0m32-18h0m-85 91h0m-98-32h0m151-27h0m-179-46h0m120 118h0m72-21h0m-216-87h0m184-56h0m-25 177h0m-93-16h0m185 9h0m-35-77h0m-27-48h0m-25-19h0m44 11h0m-83 117h0m181 31h0m-85-58h0m-209-27h0m-41-47h0m109 104h0m-88-146h0m133 147h0m-110-4h0m180-132h0m18 17h0m-199 50h0m-11-48h0m7-4h0m139 114h0m80-48h0m-13-21h0m-221-62h0m202 146h0m-64-3h0m108-103h0m-214-97h0m11 8h0m-72-99h0m207 156h0m-156 76h0m-27-143h0m181 200h0m-4-146h0m-141 47h0m-6-34h0m175 8h0m8 84h0m-26 43h0m-148-130h0m186 106h0m-43 35h0m-179-203h0m80 0h0m140 209h0m-80-183h0m-28 159h0m-74-103h0m-5 16h0m169 126h0m-1-26h0m35-143h0m29 123h0m-174 7h0m-15 31h0m143 11h0m-132-221h0m-4-4h0m11 28h0m-59-11h0m101-10h0m60 41h0m-175-17h0m203 80h0m21 35h0m-310-115h0m150-50h0m-14 49h0m168 103h0m-136-118h0m-110 77h0m179 125h0m-5-23h0m-139-117h0m234 60h0m-52 22h0m-150-132h0m-68 25h0m229 99h0m-196-43h0m185-42h0m24 41h0m-205 28h0m260 51h0m-183-155h0m-48 124h0m-44-156h0m18 35h0m158 158h0m-167-29h0m60-132h0m70 151h0m-147-68h0m125 65h0m-112-62h0m53-128h0m190 279h0m-32 5h0m-105-97h0m-119-89h0m212 18h0m-81-81h0m16 156h0m-47-195h0m107 295h0m-191-123h0m106-146h0m60 209h0m-1-35h0m-168-4h0m189-43h0m-138-109h0m55 192h0m-49-207h0m-23 119h0m-7-2h0m167-43h0m-95-68h0m81 42h0m-162-12h0m-1-7h0m77 141h0m44 82h0m33-71h0m-79-6h0m-92-125h0m176 127h0m-23-11h0m-105-197h0m60 243h0m86-102h0m-191-80h0m200 51h0m-54 137h0m-115-219h0m97 163h0m-90-164h0m28 15h0m-42-3h0m-30 22h0m158 134h0m11-110h0m-125 58h0m-72-103h0m51 4h0m34-12h0m170 268h0m-220-249h0m227 204h0m-146-59h0m-52-161h0m-18-11h0m0 0h0m110 0h0m48 166h0m55-62h0m-59-50h0m-79 152h0m132-58h0m-173-130h0m-37 2h0m-8 76h0m152 75h0m-142-88h0m-46-87h0m57 124h0m7-130h0m105 181h0m52-39h0m-122 74h0m-78-134h0m58-93h0m162 198h0m12 8h0m-194-188h0m104-4h0m62 229h0m-172-235h0m18 142h0m121-161h0m7 226h0m-24 11h0m3-170h0m-147 51h0m62 97h0m-103-47h0m21-168h0m49 24h0m93 10h0m88 193h0m-110-244h0m-61 71h0m120 8h0m-78-30h0m71 187h0m-70-234h0m-12 65h0m142 102h0m-178 10h0m-39-89h0m193-24h0m-17 24h0m-35 130h0m201 32h0m-353-168h0m74-21h0m29 161h0m-45-9h0m-28-45h0m1-56h0m193 31h0m-166 70h0m154-27h0m-186-78h0m42 88h0m-12-169h0m169 110h0m-19 88h0m-36-132h0m44 67h0m-92 65h0m66-160h0m26 141h0m-191-67h0m41-92h0m-69-14h0m-21 54h0m108 107h0m72-152h0m-96-8h0m17 28h0m2 162h0m18 55h0m-51-242h0m80-3h0m73 258h0m48-51h0m-19 6h0m-47-192h0m-152 95h0m-6 63h0m132-176h0m11 183h0m-125-151h0m196 49h0m-20 40h0m-155-121h0m-32 126h0m-49-53h0m68 57h0m22-152h0m-101 64h0m213 25h0m-185 42h0m147 118h0m-25-38h0m134-56h0m-149 50h0m-83-94h0m11 12h0m195 18h0m-58 79h0m-98-206h0m9 19h0m76 176h0m-166-88h0m143 110h0m97-107h0m21 90h0m-90 20h0m-78-195h0m-61 77h0m139-45h0m-138 36h0m7-23h0m185 18h0m-11-2h0m-143-92h0m162 122h0m-187 75h0m23-42h0m154-100h0m-77 139h0m75-35h0m-53 68h0m31 52h0m-66-273h0m91 205h0m-208-157h0m41-10h0m90-2h0m35 24h0m-94-48h0m112 190h0m16-7h0m13-41h0m-8-31h0m-139 47h0m36 37h0m43-167h0m-20-17h0m-142 77h0m58-176h0m137 269h0"/>
<path class="s" d="M247 401h0m-124-120h0m150-67h0m-160 54h0m90 97h0m-106-37h0m147 48h0m-106-136h0m28-33h0m128 162h0m-150-85h0m-8-81h0m28 115h0m46 96h0m101-184h0m-173 21h0m41-47h0m27 171h0m17-180h0m45 197h0m3-13h0m91-73h0m-103 113h0m-18-217h0m0 175h0m-115-133h0m150-11h0m-9-1h0m-110-52h0m11 141h0m174 13h0m-166 56h0m-47-154h0m15 24h0m193 93h0m-22 42h0m-38-162h0m-112 94h0m4-163h0m71 229h0m-110-124h0m126 132h0m-86-82h0m152-32h0m-179-23h0m-54-3h0m82 89h0m171 15h0m20-108h0m-105-69h0m-39 191h0m39-10h0m-122-145h0m-66-42h0m250 222h0m-189-149h0m224 121h0m-273-141h0m150 163h0m-42-201h0m-83 59h0m7 8h0m203 61h0m-57 38h0m-71-163h0m-57-26h0m43 188h0m43-192h0m100 166h0m-40-111h0m-25 137h0m78-59h0m-83-115h0m31 49h0m-21-28h0m-80 162h0m33-12h0m146-23h0m-44 52h0m-182-81h0m132 63h0m-61 9h0m6-164h0m-28 128h0m-36-90h0m5-48h0m35 7h0m94 176h0m-148-132h0m135 142h0m-136-169h0m135 146h0m90 38h0m-217-195h0m22 120h0m-50-48h0m205 85h0m-169-177h0m113 221h0m156-55h0m-315-218h0m196 106h0m-14 122h0m-136-97h0m-38-68h0m177 153h0m66-48h0m-49 73h0m-119-192h0m191 26h0m-261-17h0m79 132h0m126-81h0m-195-33h0m192 155h0m29 12h0m-134 14h0m38-215h0m-51-17h0m146 161h0m-230 32h0m53-211h0m119 206h0m-68-230h0m-73 154h0m201 78h0m-199-107h0m198 95h0m-148-212h0m101 117h0m-128-130h0m147 139h0m-92-66h0m125 76h0m-54 103h0m-31-15h0m71-131h0m-109 131h0m-83-151h0m199 118h0m-121-117h0m159 137h0m-58 46h0m-177-153h0m207 97h0m-171-140h0m-63 9h0m124 174h0m83-93h0m3-13h0m-111-76h0m-88 83h0m98 129h0m99-113h0m-57-81h0m11 146h0m-16 14h0m-57-174h0m97 168h0m-101-240h0m-26 36h0m-44 142h0m60-129h0m-30 156h0m-62-126h0m114 149h0m60 19h0m68-23h0m-177-191h0m117 197h0m-33-149h0m-121-55h0m96 50h0m56 235h0m-51-68h0m-112-129h0m211 102h0m-62 23h0m-4 32h0m-10-223h0m-110 85h0m45 100h0m-39-44h0m25-178h0m33 291h0m-60-189h0m148 8h0m49 17h0m-269-169h0m139 76h0m-62-34h0m20 179h0m-67-117h0m-14 39h0m276 176h0m-42-113h0m-25 62h0m64-19h0m-13-41h0m-253 51h0m-45-150h0m119-5h0m-67-6h0m35 71h0m47-64h0m50 162h0m-113-134h0m195 63h0m-56 71h0m23 21h0m-143-81h0m45 35h0m-45-154h0m-36 125h0m-11-104h0m61-3h0m26 154h0m79 38h0m-151-36h0m221 15h0m-266-161h0m128-10h0m-87 66h0m153 127h0m-46-28h0m134-113h0m-131-45h0m177 87h0m-176-126h0m16 218h0m45-7h0m-154-167h0m112 150h0m38-170h0m6 165h0m-59 9h0m180-8h0m-84-44h0m20-29h0m4-9h0m-44 123h0m-100-20h0m-66-79h0m153 70h0m-154-120h0m185 151h0m-32-187h0m-149 40h0m93 111h0m-58-168h0m22-75h0m41 46h0m-46 41h0m13-51h0m43 43h0m118 90h0m-217-16h0m-77-92h0m109 25h0m-29-11h0m172 100h0m-157-113h0m-32 154h0m8-144h0m69 12h0m-59-6h0m149 20h0m-221 7h0m99-27h0m50 156h0m-72-167h0m68-66h0m-84 114h0m101 165h0m-171-171h0m269 10h0m-233 64h0m222-17h0m73 18h0m-207 28h0m-77-122h0m191 147h0m35-51h0m-205-30h0m126 92h0m-4 14h0m94-134h0m64 92h0m-299-148h0m244 65h0m-216-37h0m173 138h0m-63-7h0m22 6h0m49-166h0m-199-5h0m225 133h0m-2 13h0m-71 38h0m-87-237h0m-62 95h0m56-23h0m69 165h0m-72-17h0m-61-123h0m150 141h0m-138-57h0m4-24h0m112 74h0m-69-171h0m24 6h0m7 2h0m28 158h0m36 3h0m-19 29h0m-121-150h0m-1 28h0m187 16h0m-79-106h0m50 47h0m-142 104h0m3 42h0m-46-189h0m39 37h0m62-13h0m97 149h0m-35 4h0m-127-53h0m75 94h0m100-112h0m-139-107h0m42-16h0m-27 183h0m49 18h0m-116-134h0m51-63h0m-53 123h0m158 59h0m-130-193h0m151 211h0m26 17h0m-9 11h0m-76-26h0m19 0h0m117-23h0m-102 37h0m54-65h0m-140 61h0m154-70h0m-2-28h0m28 74h0m-159-170h0m162 195h0m-301-286h0m72 168h0m166 99h0m-32 14h0m-8 39h0m4-224h0m-125 146h0m-23-142h0m89 205h0m0-198h0m-82 49h0m149 100h0m28 10h0m23 6h0m-37-161h0m63 107h0m-336-79h0m80-8h0m131 139h0m129-16h0m-81 29h0m-2-1h0m54-86h0m-83-111h0m-166 105h0m236 67h0m-100-172h0m63 188h0m-164-215h0m151 46h0m66 165h0m-148-164h0m-50 46h0m169 152h0m-39-178h0m57 91h0m15-41h0m-206-4h0m167 116h0m-180-182h0m145 235h0m61-166h0m-244-51h0m229 34h0m-55 142h0m87-66h0m-192-162h0"/>
</g>
<path d="M23.8 37.1L25.5 38.1L27.2 37.1L27.9 37L30.3 37.1L32.6 34.7L32.4 32.3L32.6 29.9L32.1 27.5L30.3 25.8L30 25.1L27.9 22.8L27.9 22.8L25.5 21L23.1 20.4L22.8 20.4L20.6 19.3L18.2 19.8L15.8 19.9L15 20.4L13.4 21.4L12.3 22.8L12.7 25.1L13.4 26.1L13.7 27.5L14.1 29.9L15.8 31.9L16 32.3L18.2 34.6L18.5 34.7L20.6 36.1L23.1 37L23.8 37.1Z" fill="#fff" fill-rule="evenodd"/>
<path d="M14.56 26.34h2.43v2.4h-2.43zM14.56 23.95h2.43v2.4h-2.43zM16.99 21.55h2.43v2.4h-2.43zM21.85 33.53h2.43v2.4h-2.43zM21.85 21.55h2.43v2.4h-2.43zM24.27 33.53h2.43v2.4h-2.43zM26.7 33.53h2.43v2.4h-2.43zM29.13 31.14h2.43v2.4h-2.43zM29.13 28.74h2.43v2.4h-2.43z" fill="#000" fill-opacity="0.06"/>
<path d="M16.99 28.74h2.43v2.4h-2.43zM19.42 31.14h2.43v2.4h-2.43zM19.42 21.55h2.43v2.4h-2.43zM24.27 23.95h2.43v2.4h-2.43zM26.7 31.14h2.43v2.4h-2.43zM26.7 26.34h2.43v2.4h-2.43z" fill="#000" fill-opacity="0.12"/>
<path d="M16.99 23.95h2.43v2.4h-2.43zM26.7 28.74h2.43v2.4h-2.43z" fill="#000" fill-opacity="0.19"/>
<path d="M16.99 26.34h2.43v2.4h-2.43z" fill="#000" fill-opacity="0.25"/>
<path d="M21.85 31.14h2.43v2.4h-2.43zM24.27 31.14h2.43v2.4h-2.43z" fill="#000" fill-opacity="0.31"/>
<path d="M21.85 23.95h2.43v2.4h-2.43z" fill="#000" fill-opacity="0.38"/>
<path d="M19.42 23.95h2.43v2.4h-2.43zM24.27 26.34h2.43v2.4h-2.43z" fill="#000" fill-opacity="0.44"/>
<path d="M19.42 28.74h2.43v2.4h-2.43z" fill="#000" fill-opacity="0.5"/>
<path d="M24.27 28.74h2.43v2.4h-2.43z" fill="#000" fill-opacity="0.62"/>
<path d="M19.42 26.34h2.43v2.4h-2.43z" fill="#000" fill-opacity="0.75"/>
<path d="M21.85 28.74h2.43v2.4h-2.43z" fill="#000" fill-opacity="0.94"/>
<path d="M21.85 26.34h2.43v2.4h-2.43z" fill="#000" fill-opacity="1"/>
<path class="c" d="M23.8 37.1L25.5 38.1L27.2 37.1L27.9 37L30.3 37.1L32.6 34.7L32.4 32.3L32.6 29.9L32.1 27.5L30.3 25.8L30 25.1L27.9 22.8L27.9 22.8L25.5 21L23.1 20.4L22.8 20.4L20.6 19.3L18.2 19.8L15.8 19.9L15 20.4L13.4 21.4L12.3 22.8L12.7 25.1L13.4 26.1L13.7 27.5L14.1 29.9L15.8 31.9L16 32.3L18.2 34.6L18.5 34.7L20.6 36.1L23.1 37L23.8 37.1Z"/>
<path class="c" d="M19.4 32.3L20.6 33.3L23.1 34.6L25.5 34.6L27.9 34.2L29.4 32.3L29.7 29.9L28.5 27.5L27.9 26.7L26.8 25.1L25.5 24L23.1 22.8L23.1 22.8L20.6 22L19.2 22.8L18.2 23.3L16.2 25.1L16.1 27.5L17.1 29.9L18.2 31.3L19.4 32.3Z"/>
<path class="c" d="M19.8 29.9L20.6 30.7L23.1 32.3L25.5 32L26.7 29.9L26.2 27.5L25.5 26.8L23.1 25.4L21.3 25.1L20.6 25L20.4 25.1L18.9 27.5L19.8 29.9Z"/>
<path class="c" d=""/>
</g>
<g transform="translate(54.5 152.9)" clip-path="url(#cp)">
<g transform="scale(.1)">
<path class="b" d="M383 193h0m63-164h0m-73 192h0m-172 62h0m64-106h0m51 74h0m-109 83h0m-59-36h0m194-208h0m-166 216h0m64-179h0m-51 112h0m-5 54h0m18-36h0m6-52h0m129 56h0m-102-63h0m23-9h0m70 85h0m-69 15h0m182-142h0m-84-28h0m-98 60h0m62-91h0m56-45h0m-62 97h0m-154 142h0m125-123h0m-21 30h0m7 121h0m104-140h0m-170 100h0m76-177h0m-43 228h0m101-54h0m-135-3h0m105-155h0m-63 183h0m110-74h0m48-4h0m-34-26h0m9-74h0m-141 66h0m129-109h0m-105 120h0m12-30h0m-14 4h0m105 32h0m-133-26h0m-17 161h0m131-116h0m-116 74h0m134-109h0m66-45h0m-212 170h0m-13-26h0m43 22h0m-13 17h0m29-32h0m154-170h0m-145 211h0m-66-92h0m-2 8h0m114-3h0m-65 58h0m100-210h0m-92 69h0m-108 54h0m159 59h0m-159 79h0m195-113h0m-150 58h0m138-195h0m-146 208h0m132-66h0m-33-79h0m90-44h0m-74 5h0m-23 167h0m-24-138h0m135 39h0m-85-70h0m-78 91h0m105 48h0m74-191h0m-43 199h0m-166 61h0m197-257h0m-191 235h0m63-210h0m90 19h0m52 39h0m-89 86h0m42-141h0m-116 189h0m-8-79h0m20 84h0m-67-68h0m57-38h0m-35 99h0m105-10h0m-105-12h0m14 58h0m-11 32h0m-27-134h0m54-86h0m21 159h0m4-129h0m-56 121h0m148-208h0m-34 20h0m-26 226h0m75-124h0m-165 53h0m-15 28h0m181-177h0m-8 104h0m0 6h0m-180 150h0m64-66h0m-11 10h0m-59 82h0m203-232h0m-61 101h0m-140-2h0m64 52h0m12-209h0m120 102h0m-201 133h0m190-112h0m-67-82h0m41-66h0m14 18h0m-173 284h0m180-260h0m-122 177h0m-16 0h0m-24 46h0m140-237h0m-146 203h0m115-211h0m25 157h0m-120 70h0m172-128h0m-127 115h0m56-51h0m-56-128h0m-7 22h0m-32 52h0m178-128h0"/>
<path class="b" d="M377 177h0m-169-78h0m159 2h0m26 138h0m-185 58h0m114-50h0m87-123h0m-90 125h0m-44 72h0m50-79h0m109-177h0m-62 53h0m-105 175h0m48-170h0m-64 62h0m35-20h0m84 39h0m53-6h0m-212 147h0m150-85h0m-120 53h0m-104 33h0m122-182h0m131 33h0m-233 188h0m95-68h0m117-126h0m-61 81h0m97-167h0m-64 123h0m-134-24h0m-3 87h0m42-107h0m6-4h0m28-28h0m64 95h0m46-79h0m-85-30h0m110-26h0m-204 166h0m221-123h0m-225 86h0m150-157h0m-126 215h0m-21-20h0m-53 47h0m227-152h0m-27 48h0m-81 71h0m40-12h0m48-97h0m-118 117h0m173-100h0m-151 112h0m-39-25h0m79-22h0m-97-39h0m64-71h0m-88 153h0m190-127h0m-32-66h0m-44 25h0m58-42h0m-78 40h0m-34 190h0m-47-31h0m121-53h0m-113 27h0m-48 59h0m190-233h0m-32 11h0m-57 68h0m35 108h0m-79 14h0m94-165h0m-67 187h0m124-143h0m-110 133h0m2-139h0m-125 180h0m72-75h0m3-10h0m49 40h0m-81 13h0m183-71h0m-76-92h0m128-79h0m-91 176h0m-97 56h0m89-23h0m-25 1h0m-116 47h0m76-14h0m131-140h0m-118 4h0m-22 133h0m44-166h0m30 116h0m51-99h0m-125 129h0m163-133h0m-199 104h0m201-174h0m-194 164h0m-31 60h0m167-84h0m67-135h0m-36 2h0m-3 86h0m-2 30h0m-135 90h0m-150 39h0m214-83h0m-74-65h0m133-84h0m-222 100h0m125 113h0m-52-79h0m-8 40h0m4 7h0m-43 1h0m243-158h0m-186 39h0m177-32h0m-230 214h0m203-264h0m15 139h0m58-177h0m-62 34h0m50-33h0m-145 70h0m-25 159h0m4-111h0m2-10h0m-13 15h0m20-18h0m24-125h0m89 112h0m-64-44h0m-120 186h0m126-53h0m-95-31h0m229-125h0m-106 29h0m76-110h0m-212 327h0m29-21h0m75-56h0m-123 48h0m33-11h0"/>
<path class="b" d="M407 84h0m-245 244h0m227-172h0m-159 56h0m5-2h0m129 18h0m-18-6h0m22-141h0m-74 215h0m100-149h0m-173 50h0m202-57h0m-34-35h0m-85 35h0m62-28h0m-142 186h0m148-192h0m-30 160h0m5-176h0m83-42h0m16 83h0m-186 232h0m93-259h0m-43 166h0m-45 37h0m54 17h0m-31-164h0m113 1h0m-165 19h0m64 102h0m-76-83h0m-21-9h0m112-52h0m38 97h0m-155 7h0m10 145h0m-1-97h0m93-23h0m-59 28h0m19-6h0m7-143h0m29-10h0m-108 220h0m13-111h0m170-72h0m46-92h0m-176 124h0m-20 97h0m20-91h0m81-100h0m-35 182h0m107-276h0m-189 188h0m166-118h0m-145 77h0m125 96h0m21-161h0m-173 191h0m107 4h0m-90-114h0m3 109h0m34-109h0m-35 42h0m157-120h0m-70 2h0m63 116h0m-107 76h0m-62-14h0m20 32h0m55-23h0m124-184h0m-22 190h0m-97 38h0m-45-35h0m2 4h0m1 2h0m116-85h0m-87-37h0m123-21h0m44-107h0m-138 210h0m41-171h0m2 5h0m-8-12h0m66 93h0m-134-41h0m-30 43h0m215-119h0m-211 259h0m221-283h0m-153 240h0m76-92h0m12-62h0m-97-15h0m-13 196h0m104-216h0m-170 208h0m228-202h0m-186 80h0m117-96h0m-174 269h0m8-72h0m-59 14h0m129-173h0m69-32h0m-63 207h0m67-224h0m-141 209h0m-16-34h0m34-34h0m-21 67h0m123-168h0m-35-24h0m144-15h0m-84 40h0m-130 192h0m30-189h0m61 143h0m38-170h0m-12 21h0m30 72h0m-152 159h0m192-248h0m-37 93h0m-202 51h0m86-57h0m95 49h0m-77-108h0m108-34h0m-33 150h0m-57 31h0m29 14h0m-68-116h0m125-51h0m-159 231h0m89-212h0m-66 204h0m120-154h0m-73 170h0m-81-109h0m160-128h0m-96 31h0m34 136h0m-75-84h0m29-35h0m123-45h0m-199 168h0m59-100h0m-34 31h0m202-127h0"/>
<path class="b" d="M344 96h0m64-8h0m-229 215h0m176-284h0m-79 137h0m123-20h0m-219 110h0m237-170h0m-71 187h0m-153 8h0m75 55h0m146-178h0m-10 5h0m27-89h0m-143 47h0m77 62h0m-81-7h0m0-4h0m116 84h0m-226 138h0m189-297h0m-150 212h0m207-154h0m-106-6h0m136-89h0m-129 200h0m-8-121h0m93-75h0m-193 218h0m-29 45h0m77-135h0m36 96h0m-41 13h0m168-167h0m-222 192h0m207-179h0m-129 24h0m131-47h0m-88-10h0m-90 227h0m69-56h0m6-154h0m-42 41h0m-70 139h0m153-188h0m-117 177h0m99-189h0m-88 197h0m-7-10h0m-5 33h0m26 5h0m-36-4h0m170-185h0m25 50h0m-31-104h0m-233 297h0m259-233h0m-116-36h0m-37 26h0m-73 170h0m74-138h0m24 127h0m4-131h0m106-39h0m-75 121h0m-139 158h0m184-324h0m-113 209h0m97-202h0m-15 31h0m-137 180h0m147-219h0m-82 207h0m-5-146h0m9 34h0m-17 115h0m186-108h0m-222 115h0m13 11h0m-17 56h0m182-342h0m-92 119h0m62-29h0m-161 183h0m73 1h0m-49 53h0m-15-88h0m17 30h0m231-125h0m-182 144h0m-40-5h0m114-209h0m21 0h0m-198 256h0m20-85h0m151-23h0m81-161h0m-181 105h0m-59 142h0m94-164h0m-17 153h0m89-201h0m61 54h0m-22 36h0m-51-130h0m-75 213h0m47-161h0m86 38h0m-21-53h0m-58 25h0m-92 50h0m-47 141h0m163-48h0m-127 81h0m241-261h0m-10-43h0m-42 43h0m74-86h0m-234 174h0m107-93h0m8 11h0m36-8h0m71-51h0m-87 49h0m-15 4h0m-59 13h0m82 67h0m-10-119h0m-175 223h0m173-174h0m-55 136h0m-133 56h0m131-25h0m-52-89h0m-56 123h0m185-262h0m-82 218h0m-49 52h0m49-50h0m-45-110h0m36 120h0m72-194h0m-49 186h0m-83-93h0m8 121h0m140-164h0m-180 166h0m56-4h0m16 12h0m-18 4h0"/>
<path class="b" d="M244 176h0m143-91h0m-46 26h0m-157 200h0m209-192h0m-62-32h0m45 83h0m-69-67h0m9 9h0m-157 149h0m222-205h0m-167 235h0m151-116h0m25-95h0m-164 293h0m1-162h0m-18 73h0m38 28h0m-41-78h0m-1 98h0m19-17h0m125-51h0m-86 38h0m79-37h0m2-152h0m64-28h0m-245 257h0m86-40h0m118-183h0m-157 140h0m-21 46h0m222-246h0m-108 212h0m55-174h0m-22 156h0m-102 37h0m-32-33h0m3 34h0m185-160h0m8-20h0m-6-51h0m-134 231h0m110-119h0m-20-79h0m-63 50h0m-75 75h0m93-86h0m46 86h0m-75-53h0m-39 18h0m105 81h0m28-146h0m-211 207h0m233-222h0m-45 133h0m44-78h0m-134-11h0m-62 46h0m227-31h0m-238 70h0m6 152h0m40-60h0m-13-56h0m80-4h0m100-181h0m-190 277h0m42-69h0m-30-10h0m-4-25h0m164-85h0m-86-24h0m-5 154h0m-47 8h0m37-17h0m87-66h0m-172 123h0m11-101h0m7 137h0m166-267h0m-67-12h0m106-33h0m-225 274h0m134-99h0m-132 89h0m12-68h0m141-189h0m-131 198h0m238-184h0m-252 193h0m168-179h0m-93 180h0m20-146h0m72-33h0m43-16h0m39 70h0m-254 142h0m203-134h0m-101 110h0m-55 43h0m164-184h0m-242 147h0m158-27h0m-58-71h0m128-7h0m9-69h0m-221 205h0m203-146h0m-146 33h0m-45 30h0m133-126h0m-44 55h0m-75 228h0m201-306h0m-40 100h0m-80-32h0m114-65h0m27 37h0m-113 7h0m-66 167h0m38-152h0m-81 103h0m58-72h0m25-40h0m-85 160h0m-27-6h0m23-41h0m181-213h0m-130 129h0m107-49h0m5-27h0m-153 221h0m193-200h0m-19-14h0m-166 112h0m-29 62h0m95-152h0m19 143h0m-168 41h0m216-209h0m108-32h0m-252 258h0m229-178h0m25-82h0m-30 84h0m-86-55h0m1 162h0m-90-72h0m-7 112h0m163-108h0m-172 6h0"/>
<path class="b" d="M279 290h0m-59-78h0m184-121h0m-51 187h0m16-162h0m-67 215h0m-38 23h0m142-262h0m-37 26h0m-174 221h0m122-242h0m-114 144h0m-11-56h0m106-73h0m-14 241h0m-41-208h0m45 6h0m-55 55h0m11 119h0m-34-31h0m14 24h0m73-52h0m-84-38h0m19 109h0m-13-43h0m51-126h0m12-28h0m70-68h0m-43 210h0m-13-15h0m134-176h0m-194 119h0m101 92h0m47-126h0m-157 121h0m116-263h0m-119 260h0m6 0h0m110-53h0m-115 46h0m124-169h0m17 113h0m-238 182h0m249-239h0m-111 8h0m-71 96h0m54 33h0m-2 53h0m-119-14h0m215-123h0m-38 55h0m95-233h0m-111 115h0m-40 162h0m-107 26h0m275-191h0m-156 209h0m108-262h0m-99 28h0m131-21h0m-14-4h0m-155 95h0m122 42h0m28-137h0m-3-6h0m-39-17h0m46 80h0m-128 141h0m88-61h0m-114-38h0m26-25h0m54 147h0m30-70h0m-184 136h0m55-128h0m93 3h0m72-156h0m23 20h0m-196 125h0m110-149h0m38 2h0m54 32h0m-209 130h0m166-96h0m-89-91h0m-120 229h0m205-213h0m-68 171h0m50-58h0m-126 39h0m111 28h0m45-185h0m-180 207h0m128-196h0m-94 99h0m88-78h0m-46 11h0m-56 155h0m-14 38h0m60-16h0m3 15h0m-84 69h0m192-381h0m-69 249h0m-1-1h0m-72-109h0m133-52h0m-3 7h0m-14 109h0m-85-60h0m-11 22h0m-70 43h0m31 58h0m58 11h0m24-141h0m-76 135h0m92-184h0m10-1h0m68-7h0m-202 157h0m214-154h0m-180 84h0m8 136h0m143-215h0m14-20h0m-185 211h0m69 5h0m-29-153h0m215-100h0m-230 115h0m14 121h0m127-222h0m-83 259h0m32-196h0m42 136h0m-47 42h0m-10-27h0m-170 105h0m264-283h0m-165 33h0m-34 79h0m68 99h0m-62-41h0m92-128h0m-74 98h0m15-36h0m-4 82h0m-66-15h0m271-184h0m-76 20h0"/>
<path class="b" d="M221 299h0m122-59h0m-65-114h0m-83 125h0m188-132h0m-110 178h0m-78 0h0m212-159h0m12-3h0m-15-24h0m-205 154h0m-42 39h0m30-113h0m186 28h0m-78 59h0m-51-104h0m124-61h0m7 2h0m43-32h0m-346 275h0m226-49h0m-69 0h0m64-42h0m-68-64h0m137 33h0m-150 31h0m136 9h0m-181-37h0m25 63h0m202-178h0m-8 71h0m-157 9h0m175-55h0m-154 26h0m169-93h0m-128 63h0m111 38h0m-195 50h0m-80 93h0m282-219h0m-4 48h0m-78 99h0m-83 57h0m-18 6h0m118-94h0m28-34h0m-13-102h0m65-21h0m-163 222h0m52-154h0m-101 150h0m162-82h0m-51 56h0m-37-103h0m-31-11h0m-41 125h0m136-45h0m26-53h0m-31-61h0m-116 188h0m64-10h0m-14-131h0m-60 142h0m158-93h0m-56 42h0m-8 25h0m-121 42h0m97-259h0m-154 239h0m258-180h0m-210 172h0m180-195h0m-101 82h0m103-105h0m-59 198h0m-89 31h0m9 7h0m203-127h0m-218 47h0m99-83h0m-82 264h0m-44-159h0m187-209h0m-27 181h0m-150 109h0m209-198h0m-32 40h0m-129 145h0m-3-143h0m30 147h0m120-225h0m-142 218h0m103-72h0m-133 56h0m-15 19h0m179-261h0m-136 254h0m60-33h0m44-156h0m-117 91h0m-16 92h0m-11 17h0m-18-30h0m87-125h0m-62 107h0m-103 89h0m157-63h0m-59-25h0m-15 50h0m-20-67h0m83 49h0m-117 11h0m124 16h0m120-231h0m7 43h0m-1-50h0m32 56h0m-157 39h0m-97 90h0m175-38h0m-173 44h0m118-147h0m-77 108h0m176-172h0m9 47h0m-110-20h0m49 145h0m-72 64h0m-42-146h0m170-56h0m-196 217h0m211-274h0m-52 21h0m65 57h0m-124 9h0m-46 191h0m100-217h0m-154 197h0m162-243h0m-71 38h0m-108 202h0m110-139h0m-53 137h0m12-119h0m-20 108h0m72-21h0m102-114h0m-139 32h0m127-74h0m-31 151h0"/>
<path class="b" d="M236 308h0m75-202h0m-145 182h0m63 13h0m-7 8h0m114-229h0m-101 230h0m50-151h0m13 146h0m-77-5h0m107-47h0m-112 35h0m136-8h0m-79-131h0m-72 196h0m50-179h0m112-91h0m92 45h0m-253 140h0m163-68h0m-124 98h0m175-109h0m-76-64h0m-52 33h0m131-118h0m18 174h0m11-148h0m-79 127h0m-56-50h0m114 13h0m-83 76h0m97-99h0m-282 116h0m9 144h0m224-321h0m-190 243h0m156-192h0m-177 178h0m88-149h0m-51 86h0m-14 127h0m49-17h0m90-238h0m-136 103h0m69-62h0m-89 199h0m265-308h0m-222 181h0m93-112h0m-7 140h0m-124 78h0m235-226h0m-38 73h0m-69-74h0m40 152h0m-105-99h0m-76 140h0m165-43h0m-188 81h0m25 73h0m109-238h0m-79 116h0m138-209h0m-53 199h0m-55 60h0m133-149h0m-30 57h0m51-119h0m-195 100h0m-35 94h0m98-133h0m-107 111h0m208-177h0m-39 146h0m-100 33h0m186-113h0m-17 7h0m3-15h0m22-79h0m-143 71h0m-37 42h0m174-118h0m-216 274h0m89-229h0m32 116h0m7-158h0m66 55h0m4-31h0m-174 32h0m-44 160h0m91-9h0m4 80h0m1-241h0m-7 41h0m52-104h0m27 173h0m-153 22h0m201-77h0m-261 116h0m86-6h0m123-200h0m-121 209h0m69-149h0m26-69h0m54 85h0m-211 73h0m108-58h0m-33 16h0m54-39h0m57-53h0m-128 188h0m107-24h0m-141 199h0m237-392h0m-204 125h0m21 83h0m152-99h0m2-71h0m11-47h0m-156 278h0m94-111h0m82-96h0m-118 144h0m-14-1h0m-39 13h0m-34-25h0m-57 55h0m-1 95h0m236-338h0m-24 86h0m-7-75h0m-147 209h0m160-141h0m-34 76h0m10-22h0m-139 129h0m-21-73h0m238-129h0m-236 189h0m211-215h0m-103 19h0m-60 58h0m-25 34h0m149-39h0m-55-52h0m-29 165h0m128-296h0m-204 291h0m-18-46h0m3 105h0"/>
<path class="s" d="M248 298h0m-59-9h0m126-153h0m-54 15h0m87-47h0m33-48h0m-123 97h0m-78 213h0m109-259h0m-43 182h0m33-130h0m98-74h0m-33 134h0m38-112h0m-132 205h0m-53 25h0m197-185h0m-178 126h0m106-31h0m54-162h0m-141 224h0m74-168h0m-6-18h0m143-36h0m-116 170h0m35-83h0m-132 159h0m77-67h0m49-42h0m-155 47h0m215-136h0m-200 179h0m127-75h0m-34-147h0m-27 50h0m18-11h0m92 3h0m-162 169h0m89-60h0m-110 26h0m138 34h0m-135-21h0m88-163h0m-64 86h0m80 44h0m-104-11h0m-40 48h0m-7 31h0m75-24h0m-27 15h0m-68 33h0m112-43h0m134-151h0m-51 77h0m-61 83h0m-55 62h0m124-137h0m-78-69h0m-92 140h0m199-201h0m-209 210h0m220-134h0m-171 120h0m-35 9h0m153-44h0m-52-243h0m60 200h0m9 7h0m-93 83h0m-48 11h0m2-81h0m132-165h0m30 109h0m-83-46h0m-125 161h0m27-51h0m26 45h0m26 18h0m27-166h0m-97 173h0m93-165h0m-4 167h0m-13-179h0m116 47h0m-150 121h0m25-15h0m-104 63h0m176-87h0m-70-106h0m-56 98h0m124-17h0m-61-56h0m47-81h0m73 60h0m-129 120h0m91-182h0m29 91h0m-131 15h0m29-40h0m-64 185h0m160-259h0m-119 210h0m-34-53h0m23 37h0m221-238h0m-33 26h0m-137 87h0m-24 127h0m-45-72h0m166-112h0m-94 54h0m-17 1h0m113-70h0m16 83h0m-237 153h0m124-36h0m-103 24h0m52-137h0m169-24h0m-147 131h0m-121 99h0m78-43h0m118-227h0m36-57h0m-138 254h0m51-156h0m-106 90h0m241-93h0m-17-50h0m-19 99h0m-1-27h0m-76 141h0m109-139h0m-244 79h0m140-134h0m74-27h0m-141 104h0m55 78h0m12-173h0m44-22h0m41 65h0m-263 62h0m198 30h0m49-138h0m-91 187h0m-85 12h0m224-274h0m-194 170h0m-17 28h0m94 52h0m60-93h0m63-14h0m-219 79h0m164-65h0m-106 134h0m79-97h0m-84 72h0m61-191h0m31-3h0m-4-5h0m-113 203h0m139-126h0m-94-48h0m-37 60h0m-18 143h0m165-226h0m-152 101h0m32-44h0m-10 130h0m56-45h0m-102 14h0m195-190h0m-155 46h0m91 1h0m-36 27h0m61 29h0m24-136h0m-28 155h0m-124 135h0m-48-23h0m-13 44h0m31 39h0m80-250h0m52 95h0m-60-85h0m98 49h0m-62 91h0m-111 32h0m82-183h0m-12 29h0m94 24h0m-163 110h0m244-235h0m-76 120h0m72-93h0m-223 208h0m-55-66h0m163 29h0m-121 18h0m131-188h0m-86 91h0m31-38h0m-3-56h0m-29 221h0m-22-17h0m-27-12h0m181-102h0m-192 79h0m172-88h0m-221 160h0m36 9h0m97-39h0m95-218h0m-51 165h0m-102 76h0m70-45h0m3-146h0m99-37h0m-15 82h0m-18 2h0m-182 230h0m99-250h0m107-92h0m-182 286h0m77-192h0m-76 113h0m248-180h0m-246 174h0m106-23h0m7 34h0m45-106h0m-77-5h0m62-109h0m-21 54h0m6-11h0m34-9h0m0 152h0m-62-133h0m33-5h0m46-13h0m-171 155h0m198-131h0m-28-39h0m-226 166h0m180-153h0m48 53h0m-20 43h0m-12-89h0m10-5h0m-103 84h0m-7-13h0m82 112h0m-81 23h0m17 15h0m40-70h0m75-58h0m-68 59h0m77-107h0m-153 188h0m64-197h0m-146 181h0m65-150h0m2 47h0m-23 56h0m41 28h0m-58 93h0m145-265h0m-127 208h0m93-21h0m-28-141h0m-47 131h0m142-114h0m-107 9h0m-53 57h0m32-63h0m-31 115h0m4 111h0m158-209h0m0-153h0m-123 125h0m88-54h0m-133 172h0m-43 39h0m100-20h0m188-169h0m-77-23h0m76-87h0m-43 63h0m-66 14h0m-137 66h0m194-41h0m-38 144h0m-195 26h0m230-212h0m-20-27h0m-158 184h0m48-79h0m138 4h0m-149 7h0m13 110h0m20-149h0m-42 148h0m2 3h0m121-118h0m-40 76h0m42-68h0m-88 109h0m-64-52h0m-1 26h0m187-87h0m-131 155h0m-47-130h0m157-96h0m-136 253h0m122-270h0m-148 214h0m1 23h0m-102 7h0m98-21h0m58-157h0m80 63h0m51-73h0m-204 144h0m205-152h0m-105 149h0m52-180h0m-113 74h0m28-14h0m162-37h0m-229 218h0m165-170h0m-154 115h0m199-235h0m10 56h0m-46 54h0m-168 129h0m159-100h0m-84-74h0m-21 38h0m125-76h0m-181 231h0m-6-33h0m-12 40h0m-22-45h0m115-113h0m104-105h0m-64 202h0m-31 57h0m73-203h0m-28 131h0m31-52h0m-177 44h0m100-78h0m120-68h0m-212 236h0m63-138h0m-21-11h0m-15 7h0m96 56h0m92-162h0m-77 166h0m-77 52h0m-6-5h0m16-131h0m-89 106h0m41-70h0m119-139h0m-59 241h0m-29-1h0m158-285h0m-10 152h0m-45 51h0m20-98h0m-1-1h0m-164 152h0m96-3h0m-93-38h0m152-122h0m-98 181h0m48-191h0m-146 174h0m56 26h0m34 36h0m42-200h0m47-50h0m-177 263h0m91-167h0m149-69h0m-57-6h0m-111 93h0m-59 82h0m210-154h0m-155 197h0m15-23h0m-52 76h0m133-75h0m-176 87h0m70-99h0m150-121h0m-200 172h0"/>
<path class="s" d="M452 14h0m-211 191h0m49 100h0m8-171h0m12-39h0m-109 156h0m136-165h0m-42 178h0m-15 53h0m-68-46h0m140-156h0m12-40h0m-26 177h0m-106-49h0m240-126h0m-272 185h0m67-87h0m-69 177h0m235-295h0m-95 31h0m-121 137h0m50 84h0m-52-100h0m-1 84h0m90-28h0m-36 26h0m126-202h0m-105 75h0m69-66h0m-172 224h0m121-39h0m-113 34h0m211-171h0m-167 193h0m48-193h0m-5-2h0m81-32h0m-39 170h0m-59-124h0m124 37h0m-196 113h0m187-207h0m51-97h0m-187 161h0m-16 125h0m67-6h0m-55-78h0m-10 92h0m-15-34h0m136-185h0m88 49h0m-184 62h0m-23 2h0m18-4h0m-73 88h0m254-174h0m-91 151h0m-56-132h0m-53 176h0m94-33h0m-117 86h0m194-275h0m-127 52h0m-107 172h0m59 45h0m166-249h0m-116 65h0m-61 61h0m-23 44h0m26-21h0m-30 78h0m-31 3h0m108-142h0m94-109h0m64-42h0m-235 279h0m23-56h0m-41 107h0m199-188h0m-185 119h0m78-137h0m87-43h0m-18-3h0m77 7h0m-10 48h0m-28-92h0m-178 235h0m43-15h0m137-197h0m-131 193h0m130-210h0m-178 171h0m196-148h0m-113 62h0m-60 126h0m129-64h0m-64-73h0m113 28h0m-87-82h0m71-16h0m-186 181h0m166-34h0m-141 5h0m-7 28h0m89-135h0m91 16h0m-39-31h0m-89 188h0m-75-29h0m66-81h0m31-46h0m30-2h0m10-34h0m-68 74h0m-42 91h0m182-179h0m-108 65h0m81-48h0m-173 182h0m105-5h0m104-184h0m-194 111h0m-21 84h0m-40 92h0m63-116h0m112 10h0m-114 2h0m94-155h0m-87 165h0m-4-68h0m94-87h0m-26 164h0m65-91h0m15 17h0m-162 46h0m38-90h0m137-150h0m47 38h0m-157 75h0m56 115h0m78-212h0m-27 63h0m-16-24h0m-73 193h0m-14 43h0m126-138h0m0-72h0m-165 59h0m117-74h0m-37 1h0m25-43h0m-157 253h0m196-126h0m41-68h0m-86 132h0m-131 27h0m95-142h0m-35 46h0m8 4h0m-64 52h0m155-130h0m-177 247h0m51-61h0m122-180h0m60 7h0m-65-4h0m-215 285h0m157-94h0m-141 14h0m311-263h0m-89-3h0m18 160h0m-119 82h0m-64 0h0m155-222h0m-18 152h0m-132 94h0m16 35h0m64-200h0m83-57h0m-99 200h0m8-194h0m-7 56h0m118 64h0m33-103h0m-35 6h0m-166 197h0m96 25h0m-87-175h0m7 21h0m21 125h0m-53-66h0m72-108h0m18-29h0m83-43h0m-72 198h0m133-168h0m-235 105h0m34 102h0m22-135h0m-56 204h0m24-177h0m140-33h0m-225 226h0m77-91h0m-49-38h0m19 0h0m259-119h0m-42 8h0m-233 179h0m169-64h0m-128-76h0m75 92h0m-83 5h0m144-31h0m63-148h0m-61-12h0m-128 106h0m110 37h0m-65 64h0m1-159h0m-63 63h0m92 74h0m-120 42h0m228-235h0m-243 230h0m238-235h0m-93 47h0m-10-13h0m-138 176h0m100-15h0m148-254h0m-47 158h0m-161 80h0m6-44h0m51 72h0m176-229h0m-186 228h0m44-183h0m54 106h0m-61-86h0m-73 94h0m124-164h0m49 63h0m-169 161h0m-10 33h0m-40 4h0m146-231h0m-94 100h0m54-30h0m100-87h0m5 15h0m-8 24h0m17 18h0m-103 16h0m69-63h0m45 75h0m-37-82h0m5 98h0m-91-21h0m-38 52h0m3-20h0m46-48h0m-83 117h0m-1-55h0m87 88h0m107-227h0m-200 272h0m94-227h0m-9 13h0m86-16h0m-189 140h0m263-117h0m-73 45h0m-41 76h0m-28-150h0m-103 232h0m131-225h0m-5-14h0m-110 166h0m176-80h0m-222 113h0m108-126h0m-40 126h0m-113 94h0m54-115h0m211-136h0m12 43h0m-139-79h0m6 35h0m-137 173h0m43-16h0m129 1h0m-96-30h0m173-150h0m33-10h0m-268 285h0m56-109h0m228-177h0m-122 32h0m-37 26h0m-6 5h0m18 151h0m-37-29h0m-28 1h0m151-109h0m-25 61h0m11-141h0m26 103h0m-68 126h0m49-214h0m-55 20h0m-118 132h0m209-243h0m-32 150h0m-146 126h0m169-158h0m-29-121h0m-101 168h0m-1 118h0m85-10h0m-68-134h0m121 0h0m-19 22h0m-45 61h0m86-142h0m-135 29h0m61-17h0m-97 36h0m17 137h0m-77 56h0m26-25h0m-1-39h0m111-28h0m-83-62h0m15-45h0m133-55h0m-180 187h0m159-183h0m-10 14h0m23 104h0m9-54h0m-40-82h0m-141 211h0m1-39h0m116 15h0m-144 66h0m33-82h0m-61 62h0m7 15h0m216-225h0m34-69h0m-36 182h0m-165 41h0m87-118h0m118-73h0m-243 243h0m77-17h0m106-249h0m-95 265h0m9-137h0m-69 121h0m189-187h0m-201 176h0m27 18h0m169-178h0m-199 146h0m109 50h0m76-80h0m28-82h0m26-102h0m-76 213h0m-133-19h0m75-90h0m-130 138h0m110 4h0m-60-29h0m-6 6h0m96-9h0m-22-147h0m41 170h0m-16-192h0m-119 164h0m190-90h0m54-91h0m-169 110h0m-67 150h0m95-172h0m56 53h0m-116 134h0m-34 39h0m-44-20h0m219-197h0m-55-40h0m-110 104h0m135-134h0m14-23h0m-211 240h0m104-133h0m34-31h0"/>
</g>
<path d="M21.3 29.9L23.1 31.4L25.5 30.9L27.2 29.9L27.9 29.7L30.2 27.5L30.3 27.5L32.7 25.1L32.8 25.1L35.1 22.8L35.2 22.6L36.9 20.4L37.6 18.4L38 18L39.1 15.6L39 13.2L38.6 10.8L37.6 10L35.2 10.2L33.9 10.8L32.8 11L30.3 13.2L30.3 13.2L27.9 15.2L27.5 15.6L25.5 17L24.7 18L23.2 20.4L23.1 20.8L21.6 22.8L20.7 25.1L20.6 25.3L19.9 27.5L20.6 29L21.3 29.9Z" fill="#fff" fill-rule="evenodd"/>
<path d="M21.85 26.34h2.43v2.4h-2.43zM21.85 23.95h2.43v2.4h-2.43zM24.27 19.16h2.43v2.4h-2.43zM26.7 26.34h2.43v2.4h-2.43zM29.13 23.95h2.43v2.4h-2.43zM31.56 21.55h2.43v2.4h-2.43zM31.56 11.97h2.43v2.4h-2.43zM33.98 19.16h2.43v2.4h-2.43zM33.98 11.97h2.43v2.4h-2.43z" fill="#000" fill-opacity="0.06"/>
<path d="M24.27 26.34h2.43v2.4h-2.43zM26.7 16.77h2.43v2.4h-2.43zM29.13 14.37h2.43v2.4h-2.43zM33.98 16.77h2.43v2.4h-2.43zM33.98 14.37h2.43v2.4h-2.43z" fill="#000" fill-opacity="0.12"/>
<path d="M24.27 23.95h2.43v2.4h-2.43zM24.27 21.55h2.43v2.4h-2.43zM31.56 14.37h2.43v2.4h-2.43z" fill="#000" fill-opacity="0.25"/>
<path d="M26.7 23.95h2.43v2.4h-2.43z" fill="#000" fill-opacity="0.31"/>
<path d="M31.56 19.16h2.43v2.4h-2.43z" fill="#000" fill-opacity="0.38"/>
<path d="M29.13 21.55h2.43v2.4h-2.43zM31.56 16.77h2.43v2.4h-2.43z" fill="#000" fill-opacity="0.5"/>
<path d="M26.7 19.16h2.43v2.4h-2.43zM29.13 16.77h2.43v2.4h-2.43z" fill="#000" fill-opacity="0.56"/>
<path d="M26.7 21.55h2.43v2.4h-2.43z" fill="#000" fill-opacity="0.75"/>
<path d="M29.13 19.16h2.43v2.4h-2.43z" fill="#000" fill-opacity="1"/>
<path class="c" d="M21.3 29.9L23.1 31.4L25.5 30.9L27.2 29.9L27.9 29.7L30.2 27.5L30.3 27.5L32.7 25.1L32.8 25.1L35.1 22.8L35.2 22.6L36.9 20.4L37.6 18.4L38 18L39.1 15.6L39 13.2L38.6 10.8L37.6 10L35.2 10.2L33.9 10.8L32.8 11L30.3 13.2L30.3 13.2L27.9 15.2L27.5 15.6L25.5 17L24.7 18L23.2 20.4L23.1 20.8L21.6 22.8L20.7 25.1L20.6 25.3L19.9 27.5L20.6 29L21.3 29.9Z"/>
<path class="c" d="M24.1 27.5L25.5 28.2L26.5 27.5L27.9 27L30.3 25.3L30.5 25.1L32.7 22.8L32.8 22.7L34.6 20.4L35.2 19.1L36 18L36 15.6L35.2 14.3L32.8 13.6L30.3 15L29.7 15.6L27.9 17L26.8 18L25.5 20.4L25.5 20.4L23.8 22.8L23.4 25.1L24.1 27.5Z"/>
<path class="c" d="M25.9 22.8L27.9 24.8L30.3 23.7L31.3 22.8L32.8 20.4L32.8 20.4L33.9 18L32.8 16.2L30.3 16.8L29 18L27.9 19.1L26.9 20.4L25.9 22.8Z"/>
<path class="c" d=""/>
</g>
<g transform="translate(105.3 152.9)" clip-path="url(#cp)">
<g transform="scale(.1)">
<path class="b" d="M297 266h0m10-145h0m56 15h0m-149-53h0m135 31h0m-33 38h0m-104 146h0m158-72h0m-78-88h0m54-15h0m-158 166h0m132-115h0m-79 146h0m4-223h0m-75 38h0m30 254h0m64-360h0m-137 249h0m154 112h0m-43-326h0m-97 128h0m186-13h0m10 7h0m-27-66h0m13-41h0m-47 40h0m-79-20h0m-113 22h0m229 11h0m-83 178h0m-15-168h0m-73 114h0m113-146h0m-120 39h0m213 85h0m-60-129h0m-61 234h0m72-218h0m-75 184h0m-5-9h0m81-201h0m-106 37h0m123 6h0m-174 149h0m142-187h0m-57 3h0m11 253h0m42-256h0m-92 270h0m16-45h0m159-67h0m-80-151h0m35 25h0m-71 244h0m72-196h0m-68 116h0m76-72h0m-87-110h0m-73 28h0m-35 51h0m110 115h0m-38-172h0m81 159h0m34-108h0m-102-47h0m34-26h0m15-86h0m83 261h0m-158-163h0m80 150h0m-108-119h0m4-11h0m211-12h0m-104 148h0m-26 40h0m-31-213h0m48 10h0m15-14h0m-4-20h0m-56 214h0m-101-60h0m24 76h0m83-14h0m24-190h0m148-21h0m-103 172h0m94-110h0m-38 130h0m-35-137h0m-126-16h0m-73 169h0m148-218h0m-100 232h0m106-280h0m-128 201h0m-70 107h0m225-276h0m-191 192h0m204-128h0m-58-17h0m52 8h0m-133 174h0m-34 33h0m-13-184h0m43 223h0m-68 10h0m85-232h0m20-19h0m4-83h0m38 50h0m1 11h0m-76 197h0m199-196h0m-200 206h0m-35-95h0m162 43h0m-155 21h0m43-198h0m82-7h0m-99 273h0m168-275h0m-110 254h0m68-77h0m-81 59h0m83 7h0m-121-25h0m78 10h0m61 86h0m-41-95h0m-91 6h0m140-134h0m-23 76h0m32-87h0m-204 17h0m140 101h0m-32-151h0m-48-5h0m105-21h0m-47 9h0m-54-3h0m-32 202h0m47-225h0m-63 166h0m186-29h0m-74 111h0m-132-57h0m3-30h0m-4-43h0m61 111h0m-15-238h0"/>
<path class="b" d="M316 214h0m-139-79h0m100 152h0m-149-31h0m131 37h0m-25-220h0m-73 63h0m31 181h0m-56-118h0m194-32h0m-48-48h0m-140 72h0m152-95h0m-2 264h0m-135 0h0m57-10h0m-11-211h0m38 206h0m-33-203h0m-97 76h0m221 52h0m3-61h0m49-83h0m-86 103h0m-91-86h0m-98 83h0m195 9h0m-142-84h0m22-45h0m127 114h0m-217-42h0m-17 18h0m134-104h0m-2 27h0m-70 69h0m164-74h0m-9 22h0m-114-32h0m150 50h0m-275 54h0m218-107h0m71 174h0m-184-123h0m12 180h0m49-12h0m-4-181h0m-45 151h0m182-82h0m-37-35h0m-60 135h0m-36-200h0m-85 93h0m85 110h0m-93-26h0m16 7h0m195-185h0m-58 7h0m-178 75h0m48-44h0m69-33h0m67 185h0m-96 4h0m-45 86h0m146-278h0m-122 204h0m127-74h0m-22 51h0m-159-116h0m88-87h0m-4 216h0m-56-65h0m13-74h0m136 52h0m-150-62h0m19-2h0m-90 43h0m124 99h0m-61-31h0m47-142h0m89 161h0m3 13h0m41-61h0m-137 61h0m109-232h0m-38 225h0m34-172h0m65-37h0m6 3h0m-226 128h0m-9 55h0m105 45h0m-14-169h0m10-23h0m-86 132h0m154-172h0m-155 258h0m142-217h0m-191 122h0m209 64h0m-79-254h0m47 265h0m66-216h0m-166 209h0m-10-21h0m-62-29h0m163-148h0m-6 210h0m46-179h0m-132 189h0m167-77h0m-128-173h0m72 8h0m-129 64h0m-2 72h0m111-106h0m-72 9h0m-26 30h0m-78 212h0m151-45h0m48-37h0m-65-163h0m61 178h0m59-271h0m-179 294h0m-25-89h0m91 57h0m122-96h0m-173 125h0m-37-135h0m-26 117h0m202-175h0m-48 159h0m-124-42h0m12 64h0m79-3h0m135-102h0m-172-64h0m163 55h0m-150 159h0m5 32h0m3-86h0m161-129h0m-30 150h0m-100-226h0m-156 181h0m85-124h0m-40-28h0m153-20h0m-161 191h0m192-159h0"/>
<path class="b" d="M132 293h0m44 42h0m5-25h0m10-22h0m205-164h0m-197 1h0m-31 166h0m47-152h0m-45 17h0m134-74h0m-166 217h0m81-197h0m-22-9h0m84 6h0m-175 60h0m-33 76h0m111-92h0m123 87h0m-96 62h0m43-4h0m-22-210h0m42-46h0m-8 82h0m-54 179h0m-35-178h0m-29 26h0m190 202h0m-90-266h0m80 66h0m-65 146h0m-68-151h0m0 157h0m101-187h0m30 59h0m-6-131h0m-196 230h0m4 4h0m182-35h0m-157 88h0m102-230h0m16 193h0m80-128h0m-165 174h0m-77-218h0m233 110h0m-172 111h0m162-227h0m-223-38h0m263 79h0m-229 95h0m33 55h0m49 23h0m20-206h0m-154 172h0m257-35h0m-119 36h0m64-22h0m-199 35h0m275-138h0m-92 118h0m-47-191h0m-64 26h0m-34 115h0m124-130h0m-136 126h0m159-201h0m-47 68h0m-98 100h0m-20 48h0m45 66h0m183-85h0m-40 21h0m-43 59h0m-57-206h0m-13 196h0m145-125h0m-13-27h0m50-13h0m-166-18h0m-8 33h0m-8 247h0m120-307h0m-99 46h0m-92 72h0m211-1h0m-94 184h0m44-342h0m-149 199h0m-6 17h0m178-140h0m-139 25h0m16 244h0m-4-248h0m46-48h0m6 203h0m-189-101h0m237 71h0m-135-23h0m226-45h0m-154-60h0m-88 157h0m103 6h0m-47-180h0m198 139h0m-297 65h0m29-97h0m136-126h0m-11 3h0m96 91h0m-186 16h0m-38 109h0m178 5h0m21-210h0m-33 175h0m-130-34h0m91-180h0m-1 245h0m118-47h0m-30-89h0m62-48h0m-67 31h0m17-51h0m-55-53h0m-85 61h0m-49 77h0m85 96h0m29-184h0m161 92h0m-259 124h0m5-29h0m38-3h0m112-38h0m2-156h0m-99 38h0m111 146h0m-39 34h0m-107-219h0m-38 260h0m141-291h0m56 185h0m-199-108h0m139-39h0m-76 13h0m168-46h0m-140 284h0m-97-89h0m162 73h0m6-105h0m-102-98h0m122-7h0"/>
<path class="b" d="M339 135h0m-127 187h0m-58-233h0m117 240h0m-127-142h0m127-75h0m-64-76h0m-92 110h0m-5 120h0m207-34h0m-28-141h0m-58 11h0m70 36h0m-84-29h0m-8 182h0m-66-57h0m233 55h0m-146 17h0m-99-77h0m-30-19h0m219-90h0m-41-34h0m-7 12h0m-50 206h0m-58-11h0m-77 20h0m38-87h0m122 136h0m-117-117h0m78 61h0m-37-14h0m51 82h0m25-256h0m-79 192h0m155-146h0m-29 108h0m-171 0h0m188-233h0m3 226h0m-197-20h0m84 58h0m-65-49h0m113 51h0m64-216h0m26 148h0m-59-123h0m-71 220h0m89-299h0m-96 80h0m96-67h0m-150 255h0m-77-35h0m253-74h0m-172-44h0m110-40h0m19 3h0m-62 201h0m-51-158h0m8 189h0m51-45h0m54-214h0m62 138h0m-16-3h0m-49 52h0m-141-108h0m123-59h0m43 114h0m24-52h0m-123-47h0m24-3h0m-102 129h0m74-131h0m43 192h0m16-232h0m-116 203h0m162-61h0m-101-162h0m95 162h0m-169 73h0m42 11h0m-7 33h0m7-231h0m145 109h0m19 77h0m-70-190h0m27 146h0m-203 44h0m109 20h0m34 15h0m-88-77h0m129-157h0m-130 157h0m63 74h0m-51-156h0m102-69h0m-75 200h0m139-69h0m-70-119h0m-9 205h0m-19-25h0m85-162h0m-213 181h0m88-18h0m221-139h0m-208-40h0m7 25h0m159-17h0m-219 66h0m32-57h0m72-31h0m13 17h0m-105 216h0m49 13h0m-70-82h0m174-40h0m11-93h0m-2 144h0m-105 92h0m94-274h0m-173 89h0m-4 88h0m135-173h0m-63 214h0m-58-108h0m117 119h0m-1 70h0m45-279h0m-119 187h0m-48-116h0m75-62h0m82 125h0m-24 22h0m-142 12h0m212 19h0m-32-8h0m48-188h0m-53 43h0m-58-39h0m25 220h0m-54-29h0m-24 29h0m21-33h0m31-190h0m-130 275h0m-75-113h0m178 40h0m50-188h0m32 169h0m-112 44h0m-53-30h0"/>
<path class="b" d="M208 314h0m-83-50h0m25 28h0m70-177h0m-7 186h0m-90-25h0m91 18h0m-208 56h0m186-212h0m-69 150h0m49 1h0m36-177h0m-125 119h0m37-16h0m93-81h0m-46 161h0m20 25h0m30-177h0m95 118h0m-45-147h0m-43 5h0m-18 238h0m4-69h0m60-206h0m12 30h0m-152 165h0m226-7h0m-84-182h0m66-1h0m-216 122h0m11 116h0m267-203h0m-62 135h0m-38-38h0m-194 55h0m315-173h0m-98-10h0m-193 172h0m-68 24h0m-10 16h0m205-300h0m55 223h0m-52-178h0m-18 68h0m-127 75h0m118-90h0m-91 141h0m-18 36h0m171-52h0m18-122h0m-177 191h0m73 43h0m-125 35h0m239-243h0m-213 181h0m338 10h0m-261-29h0m-49-189h0m182 105h0m-154 89h0m-42-138h0m238 24h0m-20-7h0m11-79h0m-33 41h0m-70-29h0m22 176h0m-164-55h0m36-44h0m125 102h0m-128-103h0m-2-20h0m213-104h0m-20 108h0m-2 49h0m-24 6h0m16-86h0m1 22h0m-141 191h0m-63-126h0m144 74h0m61-169h0m18 78h0m-200 36h0m13 105h0m41-223h0m-56 138h0m203-43h0m-212 5h0m185-24h0m26-33h0m-70 110h0m-50-170h0m167 7h0m-119 175h0m-68-160h0m122-28h0m2 66h0m-201 69h0m201-159h0m-58 194h0m68-95h0m-177 131h0m156-211h0m-193 102h0m210 0h0m-121-131h0m111 55h0m-27-1h0m-163 123h0m170-163h0m-182 121h0m44-39h0m158 1h0m-144 144h0m8-240h0m150 39h0m-35 168h0m44-27h0m-249 27h0m234-78h0m-34 79h0m-93-135h0m-3 163h0m119-97h0m-18 18h0m-115-99h0m-3 175h0m-12-14h0m-103-1h0m257-51h0m-166-112h0m185 167h0m-123 14h0m31-16h0m-102 34h0m104-258h0m116 108h0m-192 147h0m114-268h0m16 165h0m-78 74h0m-94-73h0m157 29h0m-156-124h0m-7 76h0m150 94h0m-35 24h0m25-30h0m61-4h0"/>
<path class="b" d="M110 298h0m230-185h0m-9-3h0m-40 117h0m-152 3h0m-7 17h0m1 50h0m235-262h0m-9 122h0m-61-39h0m4 138h0m-194 14h0m101-167h0m-14 5h0m122 106h0m-34 84h0m-145-94h0m198-6h0m-12-69h0m-104 162h0m93 26h0m-195 25h0m96-53h0m183-171h0m-71-15h0m-123 266h0m-93-78h0m143-186h0m67 72h0m6-14h0m-22-80h0m-34 253h0m-48-36h0m-83-32h0m-12-2h0m71-199h0m44 32h0m56 134h0m-201 2h0m259 115h0m-56-128h0m-84-78h0m-72 37h0m-23 83h0m183-150h0m-176 41h0m123 154h0m-52-175h0m11 161h0m14-4h0m-12-1h0m-30-203h0m-55 163h0m153-144h0m-86-1h0m166 176h0m-58-193h0m18 95h0m17 26h0m-29 38h0m-226 53h0m119-2h0m26 72h0m113-214h0m18-87h0m-146 286h0m-24-47h0m-5 35h0m6-206h0m53-86h0m-97 275h0m-1-69h0m149-139h0m-27 176h0m-50 49h0m113-180h0m-79-71h0m-110 203h0m42-161h0m111-38h0m-60 249h0m119-73h0m-122-157h0m-47-1h0m-40 76h0m177 6h0m-163-45h0m45 159h0m47-215h0m13 21h0m-180 125h0m235-57h0m33-84h0m-143 24h0m-80 26h0m219 37h0m-141-49h0m150-8h0m-271 172h0m100-196h0m-55 135h0m48 71h0m286 64h0m-330-34h0m142-71h0m-140 5h0m75 28h0m119-184h0m6-30h0m-96 302h0m17-100h0m93-64h0m-119 112h0m76-107h0m-138-79h0m82-69h0m-46 233h0m58-206h0m-181 230h0m26-3h0m175-240h0m-95 190h0m-43-8h0m-35 5h0m171 4h0m-14-218h0m33 183h0m-243 1h0m178 59h0m37-197h0m-54-21h0m79 25h0m-145 23h0m77 147h0m65-41h0m-133 83h0m64-39h0m3-186h0m92 70h0m17-72h0m-20 104h0m-9-127h0m-22 236h0m13 0h0m-5-64h0m-69-141h0m-14 24h0m-77 58h0m37 104h0m25-160h0"/>
<path class="b" d="M356 139h0m-140-11h0m117-104h0m-192 267h0m102 9h0m-54-160h0m62 208h0m57-314h0m-51 354h0m4-71h0m-154-18h0m85-156h0m-53 180h0m101-224h0m-143 79h0m83-50h0m-16 38h0m132 56h0m-57 88h0m131-75h0m-71 91h0m-54-10h0m41 28h0m-148-78h0m206-74h0m-132-55h0m113 75h0m-211 47h0m209-116h0m-119 158h0m-21-210h0m-33 35h0m48 10h0m108-5h0m-178 31h0m9 185h0m-17-53h0m9 59h0m86-21h0m14-236h0m-66 66h0m281-51h0m-237 14h0m-82 25h0m192 14h0m66 14h0m-242 117h0m-6-20h0m93-181h0m126 39h0m-170 156h0m-5-160h0m-54 78h0m165 125h0m-72-193h0m123 14h0m-175-8h0m135-29h0m-46 193h0m73-146h0m-165 152h0m17 4h0m62-204h0m117-45h0m-67 160h0m-145 91h0m13-13h0m74-5h0m110-80h0m-154 144h0m93-87h0m19-140h0m-136 26h0m48 149h0m-4-252h0m60 43h0m17-16h0m-101 53h0m43-100h0m52 6h0m-145 150h0m127 108h0m-46 38h0m49-319h0m76 271h0m-48-24h0m-93-157h0m0-1h0m95-29h0m0 193h0m-17-186h0m-96 47h0m-22 167h0m-53 24h0m21-174h0m181 111h0m-136-172h0m-36 117h0m187 1h0m-161-148h0m31 67h0m-95 114h0m2-26h0m224 140h0m-190-126h0m114-149h0m-31 207h0m116-142h0m-22-33h0m-116 231h0m4-26h0m12-204h0m110 150h0m-132 54h0m80-215h0m35 114h0m-182 9h0m1 36h0m240-112h0m-248 149h0m29-213h0m47 226h0m152-151h0m-1 4h0m-20 23h0m-21 28h0m-173 117h0m104 39h0m-85-305h0m24 234h0m139-56h0m11-40h0m4 54h0m-43-153h0m56 12h0m-180 197h0m178-221h0m-155 195h0m36 37h0m-119 67h0m55-279h0m177 78h0m-201 85h0m51 7h0m45 71h0m-22-225h0m92-35h0m-186 258h0m108-253h0m-84 169h0"/>
<path class="b" d="M201 313h0m-19 25h0m85-45h0m-71 10h0m101-165h0m56-58h0m-224 211h0m99-187h0m47 13h0m-14 205h0m-94-2h0m132-60h0m22-102h0m10 75h0m-266 61h0m77-114h0m203-29h0m-1-8h0m-135 153h0m-24-173h0m81-13h0m-131 76h0m29 130h0m134-76h0m-209-47h0m133-97h0m-31 25h0m-33 197h0m7-21h0m32 23h0m97-64h0m-68-226h0m-17 322h0m-133-66h0m88 18h0m123-11h0m-184-21h0m21-100h0m118 201h0m3-69h0m50-76h0m-55 65h0m105-191h0m-28 36h0m-176 128h0m31 107h0m170-349h0m-201 149h0m117-63h0m-143 129h0m9-59h0m100 114h0m115-78h0m-85 92h0m-88-144h0m144 67h0m18-6h0m-23 7h0m-232 76h0m120 38h0m-63-72h0m233-97h0m-288 83h0m142-117h0m80-19h0m-24 155h0m-22 67h0m14-265h0m-22-3h0m81 117h0m-184 33h0m57 81h0m0-182h0m-29-21h0m-57 18h0m89 185h0m113-177h0m-120-40h0m-85 37h0m130-84h0m16 262h0m-102 39h0m-11-149h0m28 110h0m171-147h0m-119 162h0m-40-188h0m-49 95h0m-42 96h0m52-65h0m-87-124h0m320 137h0m-98-162h0m-83 260h0m-9-245h0m153 76h0m-121 108h0m90-229h0m18-28h0m-220 262h0m149-17h0m-14-210h0m71 21h0m-178 245h0m0-131h0m22-215h0m195 120h0m-4 45h0m-96-93h0m-83 61h0m-77 159h0m214-36h0m-57-158h0m-14 2h0m-103 174h0m-12 4h0m74 21h0m-28-150h0m-18 73h0m-61-4h0m39 95h0m42 8h0m135-99h0m-131-81h0m75 141h0m-48 31h0m16-202h0m-105 19h0m198 138h0m-33-9h0m87-147h0m-72-30h0m-238 224h0m209-222h0m-120 190h0m47 20h0m62-182h0m-109 111h0m74-89h0m-30 161h0m-75-79h0m107-88h0m-65-11h0m189 65h0m-116 122h0m-90-167h0m21 8h0m48-76h0m90 10h0m-235 176h0"/>
<path class="s" d="M206 135h0m23-16h0m68 108h0m-95-101h0m-100 121h0m35-97h0m133 235h0m-181-192h0m116 119h0m-96-110h0m15 111h0m175-70h0m-168-21h0m93 100h0m-61-181h0m200 68h0m-223 55h0m-3 2h0m116 58h0m-112-172h0m-30 104h0m45 70h0m217-80h0m-204 87h0m85-288h0m104 140h0m-111-113h0m-70 232h0m17 15h0m229-150h0m-288 107h0m-9-94h0m60 125h0m-41 56h0m-21-42h0m18-238h0m214-46h0m-255 290h0m243-158h0m-19-53h0m-61 3h0m-95 209h0m-60-102h0m232-102h0m-9-16h0m-144 196h0m114-59h0m-221 79h0m-27-90h0m253-4h0m-163-44h0m152 146h0m-159-167h0m141-71h0m-143-17h0m74-6h0m-88 198h0m115 82h0m66-102h0m1 13h0m-77-180h0m-124 223h0m216-142h0m-174 30h0m110 110h0m65-113h0m10 46h0m11-87h0m-41-6h0m-6-103h0m-62 267h0m140-194h0m-240 185h0m234-212h0m-144 229h0m-13-201h0m116 54h0m-19-73h0m33 107h0m-6-74h0m-29 105h0m0 28h0m-33-148h0m-189 239h0m151-55h0m-9-219h0m118 69h0m-149-47h0m38 210h0m73-169h0m13-10h0m-19 118h0m-46-138h0m-106 128h0m120 107h0m-91-229h0m46-5h0m-32 26h0m29 154h0m24 39h0m92-119h0m-207 16h0m44 61h0m107-11h0m-59 62h0m-53-50h0m140-152h0m-113 181h0m57-219h0m-73 217h0m144-197h0m-48 159h0m-139 100h0m37-244h0m172 31h0m-102-78h0m-101 146h0m-33 85h0m61-12h0m177-50h0m-140 41h0m24 39h0m163-211h0m-162 172h0m-41-2h0m65 0h0m-49-169h0m-60 54h0m123 132h0m-116-168h0m142 118h0m-11-164h0m-43 211h0m-17-288h0m-83 237h0m21-106h0m175 29h0m-193 31h0m160-121h0m19 89h0m-10-64h0m-102-59h0m-16 67h0m34-45h0m150-5h0m-147 249h0m105-169h0m-230-6h0m232-11h0m-14 126h0m-124 25h0m18 17h0m62-234h0m-90 243h0m-15-177h0m-22-22h0m58 193h0m-4-170h0m-5-2h0m118 42h0m41 62h0m-269 20h0m43-12h0m145-181h0m-178 186h0m78 69h0m-40-110h0m200 89h0m-189-9h0m218-139h0m-156 134h0m44-172h0m-70 12h0m182 45h0m-47-75h0m-183 148h0m133 36h0m-36-178h0m91 50h0m-128 135h0m161-260h0m-249 212h0m-6-157h0m230 179h0m-5-139h0m-71-35h0m12 0h0m-129 236h0m57-7h0m-11-16h0m-79 11h0m213-87h0m-116-115h0m120 25h0m-128 160h0m113-2h0m-34-190h0m-72 193h0m-76-61h0m173-14h0m-47-144h0m-3 209h0m-18 38h0m-29-8h0m-113-68h0m244-86h0m-87 176h0m1-223h0m22 170h0m61-201h0m-56 33h0m18 25h0m-153 56h0m203-60h0m-19-30h0m-183 170h0m49 26h0m-27 80h0m79-282h0m87 130h0m-59-121h0m33 119h0m19-24h0m-10 81h0m-186-40h0m22 57h0m42 39h0m39-290h0m94 140h0m-151 112h0m-59-127h0m155-78h0m76 49h0m-48-39h0m-8-35h0m-152 193h0m144-170h0m-200 128h0m106 69h0m106-154h0m-80-23h0m115-38h0m-91 248h0m-145-134h0m78 178h0m25 0h0m123-175h0m-103 194h0m96-94h0m107-75h0m-244 91h0m-39-133h0m6 130h0m-14-48h0m111 28h0m69-56h0m-71 159h0m-113-106h0m11-27h0m46 58h0m157-168h0m-235 98h0m83-121h0m26 164h0m-72-104h0m190 13h0m50 18h0m-272 42h0m144 63h0m20-47h0m-143-30h0m120-127h0m-107 100h0m59 191h0m117-172h0m-100-104h0m20 184h0m115-186h0m-28-30h0m-196 127h0m54-96h0m-35 22h0m42 144h0m115-37h0m-102 26h0m16 45h0m-23-249h0m122 84h0m-209-46h0m133-17h0m-99 120h0m196-29h0m-128-102h0m116 76h0m-172-36h0m66 155h0m76-182h0m21 76h0m-149 145h0m173-213h0m-212 285h0m57-271h0m-29 33h0m177 6h0m-210 97h0m209-115h0m-189 38h0m170 76h0m-57-202h0m39 7h0m-64 41h0m-108 67h0m61-99h0m77 18h0m52 144h0m6-152h0m-235 151h0m249-101h0m-15 16h0m-42 150h0m151-154h0m-110 13h0m-121-28h0m105-38h0m59 75h0m-250 56h0m81-164h0m157 207h0m-49-48h0m-175-42h0m220-98h0m-225 289h0m200-154h0m6-56h0m86-46h0m-225 176h0m127-49h0m-209-12h0m15-28h0m80-67h0m19 180h0m-60-247h0m39 72h0m21 180h0m32-202h0m42 206h0m-21-46h0m-84 8h0m-62-29h0m223-74h0m-130 125h0m-48-13h0m171-89h0m-135-84h0m124 71h0m-42 92h0m-135 9h0m136 28h0m9 21h0m-99-42h0m7 27h0m145-58h0m-37-142h0m25 64h0m-80 133h0m71-195h0m5 44h0m-195 16h0m-66-20h0m133-45h0m-124 195h0m76-155h0m153-40h0m11-61h0m-165 243h0m-19-48h0m-9 98h0m53-34h0m25-15h0m107-130h0m-213 9h0m216 45h0m-59 151h0m-99-271h0m75 204h0m-28-208h0m-22-37h0m-7 69h0m70 152h0m-137-86h0m160-127h0m-73 324h0m63-337h0m-118 210h0m-28-27h0m44-114h0m52 213h0m58-263h0m-79 203h0m85-192h0"/>
<path class="s" d="M203 324h0m98-197h0m44 123h0m-16-4h0m2-160h0m9 29h0m-184-9h0m96 205h0m16-14h0m86-150h0m-85 177h0m67-34h0m-171 126h0m131-192h0m-86-98h0m-20 179h0m-50-94h0m173 56h0m-32-1h0m48-23h0m-230 23h0m75 29h0m9-160h0m-49 26h0m94 138h0m94-120h0m-149-64h0m195-7h0m-223-11h0m125 239h0m38-85h0m-28 24h0m34-46h0m-109 80h0m-52-185h0m116 172h0m61-49h0m-148-125h0m33 184h0m37-186h0m-85-5h0m127 128h0m-177 16h0m51-100h0m152-31h0m-3 79h0m10-156h0m-190 133h0m49 116h0m49 85h0m-102-49h0m201-140h0m-10-45h0m-1 174h0m-180-136h0m110 184h0m-102-77h0m172-36h0m-31-162h0m-114 203h0m-23 57h0m50-240h0m139 88h0m59-26h0m-84-23h0m4 112h0m-45-202h0m-93 47h0m-43 67h0m43-166h0m13 127h0m9-61h0m-69 166h0m13 111h0m177-140h0m-156-97h0m167 86h0m-27 42h0m-204-16h0m83 80h0m147-174h0m-189 15h0m61 152h0m30-18h0m-127-181h0m-47 298h0m175-320h0m148-51h0m-72 136h0m18 46h0m-41-82h0m-115 174h0m138-185h0m-150 176h0m-27-54h0m158-210h0m-154 203h0m198-35h0m-19 17h0m-214-106h0m77 228h0m14-46h0m-140-79h0m81 24h0m96 131h0m-118-154h0m18 94h0m205-88h0m46-9h0m-92 29h0m-24 76h0m45-106h0m-17-131h0m-8 145h0m11-2h0m-164-31h0m6 3h0m126 86h0m-127-34h0m157-137h0m-157 42h0m130 175h0m-56-237h0m-79 80h0m131-69h0m12 183h0m11-150h0m-162 149h0m215-88h0m-137-73h0m83-100h0m-69 283h0m114-122h0m-214 112h0m187-55h0m-32-125h0m-132 170h0m173-88h0m-72 91h0m-109-27h0m-56-14h0m78 58h0m112-32h0m-124 52h0m-48-64h0m199-130h0m-124 9h0m20 209h0m-4-54h0m158-184h0m-212-49h0m-14 209h0m207-107h0m-37 60h0m-3-142h0m-99 205h0m36 10h0m-23-5h0m91-55h0m3-192h0m3 181h0m5 61h0m-108-149h0m-53 100h0m178-60h0m32-128h0m-29 173h0m-121-88h0m-33 235h0m126-144h0m59-21h0m-187-73h0m82-24h0m-89 210h0m-35-62h0m121-198h0m-73 290h0m-49-201h0m-12-4h0m85 145h0m-21-268h0m-44 253h0m74 64h0m-24-21h0m5-19h0m-35-155h0m-46 188h0m199-230h0m-68 194h0m-22-4h0m87-77h0m-171-31h0m125 133h0m39-301h0m-168 175h0m220 39h0m-295 109h0m191-224h0m31-32h0m2 34h0m-152 155h0m14-89h0m-36 56h0m34-93h0m193 89h0m13-70h0m-20 101h0m1-16h0m-70-140h0m-94 197h0m-18-107h0m1-42h0m-10 141h0m102-227h0m48 22h0m8 171h0m-52 31h0m1-198h0m-87 274h0m28-65h0m-49-88h0m160 40h0m-154-32h0m41-178h0m-17 60h0m59 214h0m83-50h0m47-137h0m-16 49h0m-47-86h0m-95 39h0m-51 36h0m20 139h0m150-191h0m-152 28h0m-19 11h0m69 182h0m-65-38h0m172-170h0m21 24h0m-70-78h0m-105 207h0m213-64h0m-80-103h0m69 66h0m-61 45h0m-121 85h0m122-234h0m109 80h0m-290 115h0m129 19h0m-117 6h0m-33-46h0m215-71h0m-49 77h0m-19-205h0m33 56h0m-56 0h0m-15 184h0m62-34h0m83-221h0m1 195h0m-192 166h0m-10-110h0m134-1h0m-107-209h0m-104 161h0m255-5h0m-112 57h0m36 16h0m-116-86h0m17 72h0m178-52h0m-124 60h0m-51-20h0m7 20h0m191-101h0m-19-145h0m-25 98h0m-55 210h0m-97-73h0m39-209h0m9 201h0m65-193h0m-151 93h0m3 50h0m238-70h0m-18 9h0m37 89h0m-54-126h0m-41 80h0m-1 44h0m-185-13h0m193-132h0m-215 106h0m214-2h0m38-101h0m-115 202h0m47-42h0m-106 33h0m224-186h0m-99-13h0m124 58h0m-305 63h0m23 100h0m9-108h0m57-153h0m-17 213h0m173-78h0m-208-5h0m292-26h0m-119-1h0m-155-17h0m-20 45h0m73 82h0m44-184h0m-18-57h0m-24 269h0m-78-105h0m58 85h0m74-221h0m49 97h0m-179 44h0m-29-57h0m27 42h0m131-109h0m-86 28h0m163 66h0m-9 1h0m-34-49h0m-109-29h0m-101 67h0m107-44h0m58-79h0m43 87h0m42 1h0m-183 21h0m-22 114h0m68-138h0m158 72h0m-85-105h0m-44 10h0m-93 70h0m163 58h0m22-106h0m-86 152h0m-74-157h0m137 95h0m1 53h0m-128-169h0m-9 211h0m-144-28h0m262-2h0m39-165h0m4 71h0m-11 37h0m-71 71h0m-110-136h0m160-76h0m-44 206h0m-131-85h0m16-52h0m150-119h0m-19 11h0m-181 62h0m152 226h0m-115-307h0m73 278h0m4-13h0m136-26h0m-48 24h0m-138-152h0m11 17h0m226-120h0m-168 37h0m-29 214h0m-12-241h0m-79 166h0m-19 23h0m231-17h0m-86-120h0m17-18h0m-112 141h0m8-60h0m0-42h0m44 167h0m-6 35h0m6-21h0m85-195h0m-15-6h0m-55 30h0m17 153h0m120-156h0m9 51h0m-71 84h0m55-118h0m-215 86h0m140-129h0m-110 194h0m188-280h0"/>
</g>
<path d="M16 29.9L18.2 30.8L20.6 30.8L23.1 30.4L23.9 29.9L25.5 29.6L27.9 28L28.3 27.5L29.8 25.1L30.3 23.9L31.3 22.8L32 20.4L32.8 18.6L33.2 18L32.8 15.6L32.8 15.6L31.5 13.2L30.3 12.3L28.3 10.8L27.9 10.4L25.5 10L23.1 10.4L22.4 10.8L20.6 11.6L19 13.2L18.2 13.6L16.4 15.6L15.8 16.4L14.4 18L13.9 20.4L13.5 22.8L13.4 24.3L13.2 25.1L13.4 25.9L13.8 27.5L15.8 29.9L16 29.9Z" fill="#fff" fill-rule="evenodd"/>
<path d="M14.56 23.95h2.43v2.4h-2.43zM14.56 21.55h2.43v2.4h-2.43zM14.56 19.16h2.43v2.4h-2.43zM16.99 26.34h2.43v2.4h-2.43zM16.99 16.77h2.43v2.4h-2.43zM19.42 26.34h2.43v2.4h-2.43zM21.85 26.34h2.43v2.4h-2.43zM21.85 11.97h2.43v2.4h-2.43zM24.27 11.97h2.43v2.4h-2.43zM26.7 23.95h2.43v2.4h-2.43zM26.7 21.55h2.43v2.4h-2.43zM26.7 11.97h2.43v2.4h-2.43zM29.13 19.16h2.43v2.4h-2.43zM29.13 16.77h2.43v2.4h-2.43z" fill="#000" fill-opacity="0.06"/>
<path d="M16.99 23.95h2.43v2.4h-2.43zM19.42 14.37h2.43v2.4h-2.43zM24.27 23.95h2.43v2.4h-2.43zM26.7 14.37h2.43v2.4h-2.43z" fill="#000" fill-opacity="0.12"/>
<path d="M16.99 19.16h2.43v2.4h-2.43zM24.27 14.37h2.43v2.4h-2.43zM26.7 19.16h2.43v2.4h-2.43zM26.7 16.77h2.43v2.4h-2.43z" fill="#000" fill-opacity="0.19"/>
<path d="M16.99 21.55h2.43v2.4h-2.43zM21.85 14.37h2.43v2.4h-2.43z" fill="#000" fill-opacity="0.25"/>
<path d="M19.42 23.95h2.43v2.4h-2.43zM21.85 23.95h2.43v2.4h-2.43z" fill="#000" fill-opacity="0.31"/>
<path d="M19.42 16.77h2.43v2.4h-2.43zM24.27 21.55h2.43v2.4h-2.43z" fill="#000" fill-opacity="0.38"/>
<path d="M24.27 16.77h2.43v2.4h-2.43z" fill="#000" fill-opacity="0.5"/>
<path d="M21.85 16.77h2.43v2.4h-2.43zM24.27 19.16h2.43v2.4h-2.43z" fill="#000" fill-opacity="0.56"/>
<path d="M19.42 21.55h2.43v2.4h-2.43z" fill="#000" fill-opacity="0.62"/>
<path d="M19.42 19.16h2.43v2.4h-2.43z" fill="#000" fill-opacity="0.69"/>
<path d="M21.85 21.55h2.43v2.4h-2.43z" fill="#000" fill-opacity="0.75"/>
<path d="M21.85 19.16h2.43v2.4h-2.43z" fill="#000" fill-opacity="1"/>
<path class="c" d="M16 29.9L18.2 30.8L20.6 30.8L23.1 30.4L23.9 29.9L25.5 29.6L27.9 28L28.3 27.5L29.8 25.1L30.3 23.9L31.3 22.8L32 20.4L32.8 18.6L33.2 18L32.8 15.6L32.8 15.6L31.5 13.2L30.3 12.3L28.3 10.8L27.9 10.4L25.5 10L23.1 10.4L22.4 10.8L20.6 11.6L19 13.2L18.2 13.6L16.4 15.6L15.8 16.4L14.4 18L13.9 20.4L13.5 22.8L13.4 24.3L13.2 25.1L13.4 25.9L13.8 27.5L15.8 29.9L16 29.9Z"/>
<path class="c" d="M18.6 27.5L20.6 28.2L23.1 27.5L23.1 27.5L25.5 26.7L27.1 25.1L27.9 24L28.7 22.8L29.4 20.4L29.8 18L28.4 15.6L27.9 15L25.5 13.4L23.1 13.5L20.6 14.5L19.3 15.6L18.2 16.7L17.1 18L16.3 20.4L16 22.8L16.9 25.1L18.2 27.3L18.6 27.5Z"/>
<path class="c" d="M18.9 22.8L20.6 25.1L23.1 24.9L25.5 23.4L26.1 22.8L26.8 20.4L26.6 18L25.5 16.7L23.1 16.3L20.6 17.4L20.1 18L18.9 20.4L18.9 22.8Z"/>
<path class="c" d="M20.8 20.4L23.1 22.8L24.8 20.4L23.1 18.3L20.8 20.4Z"/>
</g>
<g transform="translate(156.1 152.9)" clip-path="url(#cp)">
<g transform="scale(.1)">
<path class="b" d="M277 301h0m11-139h0m-83 136h0m-99-169h0m53 155h0m-6-208h0m-43 109h0m22-94h0m-29 92h0m7 100h0m9-144h0m49-33h0m99 19h0m-100-69h0m-88 105h0m6 7h0m181-42h0m-42-52h0m-123 90h0m190 97h0m-96-147h0m-81 55h0m79 131h0m76-31h0m-186-106h0m68-65h0m117 100h0m-90-149h0m-62 166h0m84-104h0m-82 45h0m237 286h0m-225-152h0m27-217h0m9 238h0m-55-184h0m105 168h0m-102-186h0m241 222h0m-212-68h0m149-26h0m-14-78h0m-44 177h0m56-14h0m-8-87h0m2-114h0m-212 69h0m215 75h0m-237-150h0m177 179h0m12-3h0m0-199h0m24 240h0m-102-230h0m-44 12h0m2 107h0m86 96h0m-45-229h0m93 74h0m-114-48h0m58 188h0m50 72h0m0-52h0m45-22h0m20-62h0m-165-134h0m174 250h0m-134-261h0m62 195h0m-15-150h0m-44-119h0m81 358h0m13-74h0m-25-14h0m-143-54h0m35-122h0m35-75h0m-29 26h0m42 41h0m86 58h0m-33 4h0m-83-54h0m-1-17h0m-28 150h0m5-162h0m5 201h0m140-119h0m57 194h0m-61-53h0m-7-68h0m-101 94h0m19 28h0m51-199h0m-115 82h0m149-32h0m-13 68h0m16 14h0m-24 66h0m39-134h0m-4 7h0m-44-88h0m-104-72h0m149 152h0m-176-54h0m35 120h0m245-19h0m-113-36h0m-49 60h0m-75-17h0m38-160h0m-36-12h0m126 129h0m-233-97h0m110 132h0m122 55h0m-7-173h0m-58 150h0m-94-209h0m-51 130h0m198 37h0m-129 3h0m42-150h0m-91 97h0m113 106h0m61-76h0m-101-124h0m-25-9h0m-32 118h0m112-89h0m-83 135h0m63 63h0m52-230h0m12 173h0m-123-251h0m37 269h0m-76-175h0m95-67h0m-66 62h0m-2 127h0m142 26h0m-76-156h0m66 42h0m-131 182h0m-25-179h0m197 103h0m-18 85h0m-61 64h0m-116-228h0m159 78h0m-157-129h0"/>
<path class="b" d="M329 264h0m-318-230h0m112 84h0m71 218h0m-49-77h0m-13-162h0m77 8h0m-6 212h0m74-65h0m-18 47h0m-154-176h0m59 170h0m84-173h0m33 60h0m-35-40h0m-136-32h0m214 209h0m-151-208h0m-83 44h0m106-151h0m-101 122h0m138 16h0m-41 153h0m-76-117h0m-23-4h0m17-4h0m32 103h0m147 2h0m-147 5h0m158 42h0m-134-32h0m-17-17h0m87 36h0m-122-82h0m-8-20h0m174 58h0m-194-175h0m45 166h0m142-17h0m-62 51h0m-93-163h0m127 33h0m-17 154h0m-125-229h0m52 31h0m119 153h0m31-83h0m-155 106h0m84 38h0m-131-128h0m181-97h0m-85 220h0m9-254h0m-34 50h0m49 196h0m-127-177h0m25 114h0m137-106h0m-54-37h0m87 151h0m-47-111h0m-126 11h0m147 152h0m4-55h0m-1-102h0m-25 10h0m41 63h0m-132-134h0m-60 140h0m143 131h0m-125-217h0m91 160h0m-59-35h0m118-169h0m-50 216h0m66-121h0m32 77h0m-127-214h0m131 302h0m-194-162h0m124 136h0m48 3h0m-178-167h0m98 177h0m58-163h0m-184-63h0m133 172h0m70 43h0m-137-229h0m164 151h0m-39 4h0m-197-59h0m185 85h0m-43 27h0m-65-264h0m-11 62h0m91 246h0m-116-190h0m289 90h0m-181 45h0m-17 16h0m20 6h0m-28-39h0m-3 92h0m68-163h0m-28 88h0m-118-113h0m122 93h0m-51-204h0m-42-61h0m-33 104h0m159 199h0m-39-18h0m-166-55h0m167-136h0m-149-32h0m-10 107h0m190 94h0m-43-237h0m-130 216h0m121 52h0m51 70h0m-6-77h0m-27-181h0m-123-32h0m91-21h0m-29 245h0m-44-61h0m69-141h0m106 110h0m-138-122h0m126 175h0m-111-237h0m120 206h0m-212-114h0m69-17h0m96 195h0m21-123h0m-23 171h0m26-173h0m-12 85h0m-186-88h0m153 125h0m63-32h0m-77-148h0m51 11h0m-113-32h0m82 251h0m-8-60h0m73-82h0"/>
<path class="b" d="M107 149h0m-55-72h0m267 243h0m-11-59h0m-150-153h0m-69 77h0m29-11h0m16 95h0m-43-50h0m128 78h0m-131-150h0m68-45h0m148 244h0m-159-281h0m171 264h0m-45-28h0m-67-3h0m-3-185h0m71 66h0m2 124h0m-111 18h0m123-6h0m-106-6h0m-37-64h0m60 71h0m-49-201h0m-16-103h0m158 298h0m-54-15h0m30-1h0m9-56h0m33 63h0m-32-75h0m-172-39h0m26 66h0m-56-150h0m169 61h0m-108 80h0m117 91h0m30-63h0m-60 36h0m-68-244h0m131 139h0m3 9h0m-91 137h0m-44-48h0m-64-149h0m196 64h0m-234-115h0m126 6h0m27 185h0m59-112h0m-14 116h0m-139-65h0m-31-46h0m188 165h0m-83-55h0m-89-172h0m21 124h0m-4-44h0m112-83h0m-113 64h0m141 141h0m-36-15h0m-31 31h0m38-49h0m58 6h0m-223-190h0m120-38h0m40 60h0m13 207h0m40 13h0m-105-265h0m117 168h0m-125-180h0m104 170h0m55-4h0m-22 58h0m-160-34h0m131 7h0m-14 26h0m19 14h0m-44-17h0m52 32h0m-2 21h0m-181-165h0m171 71h0m-106 39h0m67-2h0m46-37h0m-193-128h0m229 143h0m-51-104h0m7 13h0m-4 144h0m-138-237h0m140 186h0m-196-104h0m155-87h0m-131 39h0m13 28h0m130 205h0m46-116h0m-194-57h0m25-31h0m68 152h0m3-184h0m6-5h0m-95 10h0m18 34h0m118 150h0m-64-189h0m-39 222h0m-55-133h0m227 133h0m-72-13h0m22-26h0m8-6h0m-178-122h0m187 32h0m21 9h0m-21 54h0m7-68h0m-122 68h0m-30-189h0m11 173h0m109 40h0m-154-149h0m175 104h0m-158-124h0m-30-26h0m7 78h0m20 41h0m-15 91h0m-1-122h0m183 78h0m-24 73h0m-28-190h0m-176-35h0m212 181h0m48-40h0m-201-117h0m-4 25h0m-24-8h0m208 94h0m-181-6h0m144-85h0m-136 4h0m70-42h0m118 166h0"/>
<path class="b" d="M210 292h0m-127-166h0m167 28h0m-161-39h0m203 72h0m-175-65h0m36-16h0m136 167h0m-244-156h0m165-21h0m81 94h0m-147-94h0m54 202h0m64-198h0m-30 18h0m38 206h0m-76-240h0m11 259h0m1-48h0m83-151h0m-160 141h0m145-21h0m-35-122h0m-61-27h0m-85-6h0m204 176h0m-88-230h0m37 81h0m34 120h0m-175-21h0m105 110h0m58-150h0m-173 0h0m158 95h0m-20 15h0m-38-204h0m-111-52h0m9-35h0m-10 165h0m74-61h0m136 215h0m-210-231h0m37 38h0m206 156h0m-30 7h0m-1-96h0m-103-98h0m-44-48h0m161 289h0m-49-53h0m-149-221h0m54 210h0m1 2h0m86 13h0m-138-74h0m190-40h0m-61-44h0m56 100h0m-47-155h0m-68 302h0m118-48h0m-33-89h0m19-70h0m-220 31h0m47-64h0m-15-16h0m39 150h0m128-83h0m-17-37h0m-36 128h0m-124-116h0m186 76h0m-152-138h0m49-7h0m37-47h0m-99 121h0m-10-39h0m221 53h0m-201-96h0m170 129h0m-171-85h0m0-48h0m-64 47h0m-6 37h0m58 41h0m91 74h0m77-82h0m-109 56h0m-55-50h0m-20-100h0m124-31h0m82 152h0m-4-78h0m10 76h0m-29 40h0m-3-38h0m-167-190h0m208 211h0m-31 23h0m-36 20h0m-169-134h0m208 160h0m-194-165h0m11-30h0m187 60h0m-8 14h0m33 158h0m-235-80h0m204 65h0m-190-162h0m135 169h0m47-126h0m53 146h0m-214-337h0m51 30h0m60 405h0m67-212h0m-124-149h0m35 178h0m110-94h0m-33 7h0m-136-91h0m65 179h0m-4 1h0m107-73h0m-43 22h0m-161 1h0m203-11h0m-133-132h0m-35 181h0m18-166h0m-52 140h0m28-183h0m2 41h0m128 205h0m36-10h0m-21-8h0m-191-171h0m-67 157h0m167-193h0m26 215h0m-105-230h0m158 148h0m-93-123h0m-65-24h0m-3 73h0m46 135h0m136 8h0m-20 76h0m-41-255h0"/>
<path class="b" d="M79 208h0m82-110h0m114 139h0m-7-57h0m-75-75h0m-133-39h0m233 87h0m-184 11h0m12-17h0m143 14h0m-92-133h0m-17 84h0m133 187h0m-10-85h0m18 16h0m-19 56h0m-140-181h0m68 219h0m-68-61h0m173 7h0m-176-197h0m-5-5h0m-5 188h0m-43-178h0m-15 76h0m207 164h0m-167-90h0m141 141h0m-129-226h0m181 66h0m47 21h0m-54 162h0m-167-68h0m148-99h0m-167-70h0m143 132h0m-132-155h0m77-59h0m34 227h0m13-5h0m-55-5h0m152-99h0m-183 106h0m96-143h0m-84 114h0m0 30h0m-64-186h0m144 16h0m-73-25h0m-69 91h0m181 22h0m-16 18h0m-137-137h0m93 213h0m-128-66h0m121 52h0m60-83h0m-158-33h0m-2 93h0m-48-57h0m43-69h0m-48-27h0m205 81h0m-83 109h0m62-170h0m-165-8h0m83 170h0m124 24h0m-76-38h0m18 76h0m47-126h0m-65 119h0m-130-334h0m125 86h0m23 4h0m-70-6h0m-43 5h0m123 50h0m-48-61h0m-80 132h0m130-76h0m-97-43h0m88 180h0m-179-199h0m113-19h0m-54 70h0m20-31h0m137 178h0m-118 17h0m111-6h0m-30 28h0m-182-147h0m119 104h0m2-194h0m69 70h0m-96-67h0m137 294h0m-84-82h0m-37-46h0m40 24h0m-104-125h0m182 26h0m14 25h0m-181-77h0m-15 31h0m174 62h0m-156-110h0m146 23h0m-67-32h0m-159-65h0m101 197h0m-48 14h0m24-136h0m-15-7h0m255 129h0m-63 105h0m-23-98h0m-49 83h0m-15-35h0m-36 11h0m-1-197h0m-55 75h0m174 111h0m-31 7h0m-74 38h0m-10-54h0m-89-114h0m235 29h0m-53 105h0m-8-182h0m-2 168h0m4 29h0m-52-13h0m82-54h0m-134-139h0m77 25h0m-136 37h0m94 110h0m78-82h0m2 56h0m-162-50h0m-20-25h0m6-19h0m83 139h0m-37-48h0m-11-19h0m-26-141h0m39 152h0m9 37h0m94-147h0"/>
<path class="b" d="M311 275h0m-47-126h0m-45 176h0m60 40h0m-77-71h0m70-42h0m9-56h0m-10 168h0m-93-321h0m89 211h0m-100 10h0m129-15h0m-5 66h0m-172-169h0m-7 24h0m128-39h0m-119 86h0m63-100h0m127 88h0m-41 36h0m39-23h0m-38-16h0m-93-91h0m28 183h0m-54-12h0m185 105h0m-180-124h0m-80-30h0m130-178h0m-43 219h0m129 51h0m-25-66h0m-57-159h0m18 9h0m52 155h0m-233-114h0m10-58h0m202 72h0m-40 129h0m48-17h0m-41 28h0m40 5h0m2-31h0m11-40h0m-34 82h0m-119-207h0m-25-5h0m124 223h0m134-11h0m-149-30h0m-24-212h0m-37 229h0m-83-130h0m150 142h0m-16-1h0m22-24h0m134 31h0m-225-223h0m143 189h0m-155-31h0m-16-89h0m79 170h0m-136-204h0m30-52h0m50 171h0m73-194h0m19 62h0m48-11h0m-147 54h0m140 124h0m-8 26h0m-11-21h0m53 111h0m-17-176h0m-209-150h0m152 47h0m39 6h0m-138-100h0m-8 225h0m168-95h0m-35 134h0m-159-80h0m81-119h0m69 39h0m-63-63h0m31 226h0m14-12h0m9 7h0m41-46h0m-40 88h0m-108-178h0m50 185h0m-23-54h0m54-177h0m-120 67h0m58-100h0m26 186h0m103-75h0m-12 154h0m-115-73h0m16-155h0m91 229h0m-112-95h0m98 57h0m-170-149h0m231 107h0m-198-118h0m-24-31h0m217 128h0m-179-48h0m32-82h0m63 228h0m-1-5h0m25-196h0m-95 115h0m136 71h0m-152-209h0m160 165h0m14-36h0m-162 31h0m-11-9h0m-2-40h0m158 5h0m-76 117h0m-75-285h0m0 23h0m161 160h0m-94 95h0m-1-40h0m8 6h0m16-221h0m81 192h0m-25 15h0m-31 40h0m-40-47h0m-83-153h0m39-30h0m-70-17h0m223 131h0m-66 73h0m15-157h0m-144 57h0m28-101h0m158 145h0m-68 67h0m36-136h0m-56-95h0m-99 15h0m169 109h0m-16 87h0"/>
<path class="b" d="M190 92h0m90 38h0m-145-15h0m159 88h0m-108 91h0m-114-38h0m133 64h0m-35 34h0m13-284h0m-156 39h0m198-22h0m-85 2h0m123 35h0m33 71h0m-145-83h0m-15-10h0m-49 27h0m63-13h0m131 112h0m-75 65h0m-117-169h0m220 118h0m-22 52h0m-193-42h0m144 99h0m-94-234h0m134 82h0m-62 100h0m-24-200h0m-20 193h0m106-25h0m-165-132h0m158 109h0m-184-99h0m201 20h0m-96 182h0m6-234h0m70 174h0m7-78h0m-187 65h0m137-154h0m47 154h0m-66 67h0m103-44h0m-79-164h0m-109 42h0m159 2h0m-117 116h0m118-46h0m5 43h0m-181-175h0m189 149h0m-3-31h0m-35 81h0m-144-154h0m167 147h0m-10-15h0m-158-173h0m32 205h0m104-276h0m-131 217h0m189 43h0m-68 0h0m12-159h0m-7 144h0m-123-102h0m47-77h0m-75 31h0m7 36h0m90 125h0m-70-115h0m-40 6h0m203 44h0m-25 58h0m-112-183h0m-99-13h0m50 40h0m72 194h0m130-26h0m-187-183h0m31-18h0m81-25h0m106 245h0m-66 25h0m-143-306h0m-47 149h0m120-115h0m38 205h0m-10 73h0m-15-47h0m-83-211h0m-4 175h0m79-161h0m-47-64h0m-47 68h0m60 198h0m58-175h0m-21 186h0m112-153h0m-190 85h0m158-51h0m-147-92h0m79 169h0m91 6h0m-144-180h0m116 108h0m-2 7h0m-37-106h0m-123 24h0m172 104h0m-210-142h0m202 146h0m-107 13h0m-59-48h0m80-133h0m-86 94h0m119 108h0m-67-172h0m97 183h0m-36 4h0m-142-233h0m224 295h0m-184-141h0m106-144h0m51 217h0m-39-161h0m-198-16h0m75-9h0m103 215h0m54-152h0m-87-67h0m-72 109h0m167 7h0m0-60h0m-2 185h0m-26-188h0m-182 6h0m188 139h0m23-73h0m-111-122h0m104 161h0m-37 108h0m-74-87h0m107-126h0m11 106h0m-189-132h0m105 182h0m121-132h0m-198 33h0m113 97h0"/>
<path class="b" d="M236 122h0m-98 155h0m110-112h0m-130-6h0m3 32h0m149-54h0m22 109h0m-146-139h0m-17-2h0m165 148h0m-232-56h0m235 159h0m-186-61h0m12-175h0m153 43h0m-127-56h0m-38 18h0m9 75h0m71-94h0m78 98h0m-126-86h0m59 192h0m-81-134h0m94 184h0m-100-219h0m97 157h0m57-59h0m7 19h0m-151-151h0m131 20h0m-111-94h0m-26 86h0m121 274h0m25-91h0m-152-77h0m158-90h0m-125-50h0m109 206h0m-119-195h0m171 138h0m-200 26h0m144 37h0m-156-167h0m183 226h0m-13-203h0m-169-76h0m18 57h0m65 212h0m-84-73h0m133 18h0m60-4h0m-6-118h0m-72 138h0m65-91h0m-45-74h0m-2 168h0m-90-228h0m-28 168h0m77 38h0m28 30h0m-209-234h0m219 211h0m44-87h0m0 23h0m-157-66h0m43 137h0m53-214h0m75 202h0m-82 15h0m-90-107h0m199 33h0m-165-159h0m28 46h0m138 208h0m-61-5h0m-154-100h0m184 24h0m9-32h0m-39 78h0m-182-83h0m202 23h0m3-34h0m-74 97h0m193-32h0m-150 26h0m39-7h0m-9-181h0m36 101h0m-169-87h0m117 224h0m-186-195h0m25-1h0m187-42h0m-7 62h0m44 184h0m-106-268h0m-174 52h0m98-93h0m75 59h0m-57 176h0m119-41h0m-163-112h0m-89 21h0m173 153h0m-48 59h0m-113-239h0m177 177h0m101-46h0m-183-169h0m74 231h0m105-80h0m-196-142h0m51-30h0m131 212h0m-56 77h0m-140-328h0m207 252h0m-193-161h0m25-12h0m41 200h0m-60-90h0m128-78h0m-111-30h0m-36 283h0m40-138h0m-5 80h0m128-12h0m-255-109h0m211 131h0m-1 60h0m-99-271h0m88 195h0m76-83h0m-205-83h0m123 164h0m84 79h0m-210-109h0m45-50h0m186 80h0m-107-216h0m-19 21h0m89 164h0m-164-118h0m120-22h0m13 187h0m-25-32h0m-28-9h0m-89-182h0m155 56h0m-60-50h0"/>
<path class="s" d="M275 232h0m-102 57h0m105-101h0m-194-53h0m214 139h0m-168-180h0m26 202h0m78 16h0m-74-218h0m109 163h0m-121-156h0m62 196h0m-93-102h0m132-76h0m-5 48h0m-18 156h0m91-30h0m-102 39h0m-130-168h0m159-15h0m64 141h0m-109 33h0m-78-119h0m-17-49h0m88-71h0m-76 144h0m35-196h0m167 249h0m-203-82h0m184 44h0m-120-137h0m-32 4h0m104 199h0m78-46h0m-158 26h0m140-96h0m-130-92h0m112 173h0m-21 24h0m-162-163h0m194 132h0m-120-197h0m135 134h0m-79 93h0m37-84h0m-42 79h0m-72-195h0m-51 106h0m81-92h0m75 192h0m-46 7h0m33-19h0m-41-184h0m-144 129h0m45-70h0m-40-104h0m28 107h0m-10 19h0m62-94h0m71 44h0m-1 177h0m-113-76h0m182 25h0m-109 33h0m44-7h0m-17 0h0m-65-247h0m28 27h0m-7 232h0m31 81h0m11-88h0m-104-129h0m183 127h0m-15 47h0m-35-203h0m-134-58h0m84 249h0m80-71h0m-159-96h0m165 95h0m-114-216h0m-44 235h0m176 24h0m-125-194h0m114 110h0m-189-76h0m205 57h0m-39 114h0m54 41h0m-207-178h0m60 148h0m53-33h0m-170-177h0m106-20h0m-30-4h0m138 262h0m-79-240h0m100 83h0m-123 100h0m44 77h0m5-69h0m-25-187h0m-48 184h0m141-43h0m-168-67h0m165-17h0m-35 232h0m-129-274h0m153 166h0m-197-117h0m67 77h0m42 37h0m95 20h0m-151-161h0m-13-1h0m69 148h0m28-186h0m-163-36h0m259 259h0m-62 22h0m-67-269h0m81 253h0m-154-236h0m-86 70h0m122 134h0m160 32h0m-40-44h0m-162-130h0m109 124h0m81-163h0m26 131h0m-38-27h0m-122 52h0m-23-164h0m121-5h0m-67 226h0m29-15h0m72-195h0m-30 230h0m55-122h0m-115 156h0m58-95h0m-102-26h0m-10-28h0m136-64h0m-54-64h0m-97 72h0m128-27h0m-44 162h0m94-7h0m-89-10h0m-36-206h0m146 110h0m-240-64h0m235 198h0m-158-228h0m96 15h0m-135-17h0m-45 24h0m26 47h0m172 2h0m-79 118h0m8-200h0m51 193h0m13-10h0m12-76h0m-138 64h0m173-139h0m-135-74h0m64 77h0m32 99h0m-188 136h0m78-73h0m106-78h0m-139 34h0m88-154h0m46 49h0m19 124h0m-176-50h0m178 60h0m-96-221h0m-5 248h0m41-20h0m-143-108h0m40 42h0m87-141h0m11 209h0m16 5h0m-129-134h0m-8 73h0m173 44h0m-152-182h0m-1 51h0m98 160h0m69-101h0m-173-5h0m170-45h0m-101 157h0m72-17h0m-57-13h0m19 29h0m44 4h0m14-180h0m-170-58h0m65 193h0m109-56h0m-57-91h0m8 191h0m108-95h0m-157-138h0m-70 30h0m163 155h0m-87-224h0m-23 261h0m100 6h0m-135-270h0m142 190h0m-148-61h0m-59 21h0m146 92h0m60-20h0m-172-182h0m74 267h0m10-284h0m-62 133h0m164 26h0m13-74h0m-244 67h0m221 76h0m-150-221h0m-28 42h0m214 215h0m-39-21h0m-63 26h0m-136-235h0m178 185h0m-21 11h0m17-144h0m-78 116h0m121-1h0m-89-200h0m-77 28h0m133 44h0m-190-21h0m184 188h0m-116-219h0m152 167h0m-46 31h0m-19 1h0m-27 18h0m-35 1h0m-51-169h0m33-25h0m-44 158h0m55 34h0m94-9h0m-127-72h0m-7-52h0m112-53h0m-111 20h0m72 152h0m98-60h0m-81-120h0m-60 130h0m172 121h0m23-61h0m-61-39h0m-180-100h0m-33-46h0m142 188h0m-66-219h0m-20 87h0m-26 66h0m143 104h0m-42-239h0m91 246h0m5-92h0m-31 70h0m-56-29h0m118-40h0m-155 14h0m29-169h0m91 140h0m-4 107h0m-166-237h0m8-17h0m112 15h0m-34 231h0m-93-23h0m28-225h0m19 229h0m25-207h0m144 174h0m-55-94h0m-129-80h0m-12 196h0m42-37h0m96 45h0m-160-106h0m-13-33h0m226 91h0m-51-8h0m-172-195h0m71 216h0m0-15h0m121-163h0m-76 214h0m-23-22h0m8-13h0m48-121h0m-141-35h0m192-16h0m-181 120h0m112 95h0m70-1h0m13-131h0m-232-114h0m92 4h0m-9-24h0m-17 52h0m106 255h0m56-107h0m-205-83h0m189 31h0m-2 84h0m-34 33h0m17-16h0m-156-63h0m-12 6h0m71-143h0m-7 181h0m-81-127h0m165 144h0m-138-169h0m42 155h0m28 36h0m-38-38h0m143 44h0m-195-219h0m146-4h0m104 146h0m-89-111h0m-70-72h0m-86-2h0m161 213h0m-93 38h0m-52-164h0m-52-10h0m138 209h0m124-125h0m-48 53h0m-29-144h0m-128 4h0m132-60h0m-108 183h0m38 13h0m-33-263h0m-31 143h0m103 127h0m-69-200h0m104 228h0m-135-62h0m67-166h0m-45 149h0m161 100h0m-208-198h0m200-25h0m-182 77h0m6-84h0m30-53h0m-95 82h0m225 58h0m-24 99h0m-167-82h0m77 72h0m109 121h0m37-220h0m17 58h0m-156-154h0m51 47h0m-81 196h0m-65-110h0m12-201h0m-30 68h0m23 115h0m139 95h0m73 2h0m-235-137h0m193-16h0m42 192h0m-127-58h0m-48-98h0m87-178h0m-42 92h0m-2 1h0m110 139h0m-152-89h0m156 250h0m-2-127h0m-149-158h0"/>
<path class="s" d="M117 184h0m163 44h0m8-29h0m-121 91h0m46 21h0m13-18h0m-131-156h0m154 160h0m1 24h0m-159-144h0m126 175h0m34-25h0m44-203h0m-108-7h0m154 142h0m-155 48h0m102-147h0m-127 134h0m-10-23h0m-11-187h0m115 31h0m26 143h0m-162-67h0m104 103h0m-10-236h0m92 82h0m-207-39h0m72 198h0m-6-205h0m183 227h0m-107-29h0m-202-114h0m203 111h0m-120-143h0m58-28h0m94 87h0m-194-48h0m184 158h0m-168-23h0m130 14h0m4-12h0m-122-202h0m9 94h0m12-75h0m163 149h0m11-5h0m-187-114h0m193 137h0m-187-115h0m129 128h0m-42-176h0m25-53h0m-79 243h0m37-15h0m-58-193h0m93 24h0m10 186h0m94-27h0m-59 48h0m18-134h0m3 198h0m13-3h0m-148-330h0m-48 155h0m166 49h0m-158-40h0m93 69h0m-24 85h0m138-62h0m1-75h0m-119 68h0m-38-221h0m116 94h0m-107-79h0m29 190h0m62 2h0m23-27h0m23 34h0m-94-8h0m80 26h0m-171-46h0m159 26h0m-118 31h0m89-19h0m21-114h0m-140 61h0m-56-86h0m185 7h0m-210-140h0m35 41h0m44 24h0m160 74h0m0 96h0m-20-16h0m-13-105h0m27 249h0m13-182h0m-13 21h0m-30 68h0m-44-6h0m56-52h0m-37 86h0m-77-71h0m108-111h0m-170-74h0m44-3h0m126 174h0m-150-60h0m26 49h0m216-74h0m-206-53h0m27 185h0m-76-111h0m51 91h0m135 124h0m-11-116h0m-6-14h0m-122-179h0m-58 117h0m128-95h0m-40-8h0m-70 41h0m0 89h0m220-77h0m-53 204h0m27-117h0m-21 46h0m-181-148h0m107 217h0m6-268h0m-84 4h0m35 7h0m51 190h0m-6-186h0m55 95h0m-148-70h0m248 56h0m-96 62h0m-118 12h0m125-36h0m-128 59h0m245 51h0m-97-41h0m-50-142h0m-133 51h0m78 143h0m134-155h0m-142-90h0m41 33h0m45 34h0m-209-42h0m83-53h0m102 210h0m-149-90h0m204-9h0m-149-96h0m66 39h0m-23-63h0m108 196h0m-117 39h0m-78-112h0m119-75h0m-128 71h0m169 85h0m11-34h0m-1-16h0m-161-105h0m-1 3h0m-36 95h0m194 47h0m-138-161h0m12-11h0m14-31h0m94 100h0m-168 26h0m45-72h0m131 212h0m7-75h0m-172-94h0m-54-66h0m240 129h0m-173-85h0m19 148h0m69 77h0m-34-57h0m-52-69h0m-44-38h0m175-62h0m-126 12h0m128 164h0m-71-230h0m59 210h0m75-102h0m-75 123h0m-148-195h0m252 220h0m-226-105h0m-56-5h0m213-139h0m-209 39h0m88-13h0m50-42h0m-47 41h0m108 214h0m-7-33h0m79-115h0m-4 145h0m-143-26h0m-24-17h0m30 44h0m-75-158h0m158 57h0m-107 79h0m16 24h0m65 7h0m24-92h0m9 65h0m-124-36h0m-44-89h0m53 111h0m128-71h0m-77-79h0m-180-95h0m130 225h0m-40-183h0m141 175h0m-43-138h0m-39-32h0m-73 121h0m162-25h0m-8 75h0m-75-174h0m-94 29h0m0-48h0m180 214h0m-34-123h0m-2-8h0m-132 87h0m162 26h0m-53-137h0m-62 197h0m91 17h0m38-190h0m-78 138h0m72-117h0m-98-58h0m-54 159h0m142-55h0m-169-9h0m117-175h0m62 245h0m-137-24h0m82 119h0m56-178h0m-64-100h0m189 164h0m-279-159h0m177 103h0m-217-18h0m106-83h0m-5-14h0m-42 188h0m-25-214h0m90 53h0m45 169h0m-67 10h0m34-5h0m-154-188h0m48 69h0m-4 21h0m104-52h0m-55 163h0m56 46h0m59-118h0m-138 54h0m87 45h0m-51-34h0m-61-115h0m147 148h0m34-49h0m1-17h0m-140-226h0m-40 60h0m151 80h0m-71 144h0m-78-190h0m-50 42h0m134 131h0m-90-174h0m110 197h0m-71-230h0m10 247h0m34-244h0m68 193h0m-118-186h0m31-27h0m65 207h0m-169-125h0m157-23h0m-111 33h0m99 114h0m-65-211h0m114 123h0m-164 58h0m144-150h0m-137-67h0m36 47h0m55 207h0m130-32h0m-108-158h0m25 52h0m49 134h0m-178-152h0m107 212h0m76-214h0m-161 115h0m140-27h0m-97 65h0m94-78h0m-93-142h0m118 230h0m-177-195h0m-21 67h0m3-32h0m215 180h0m-56-37h0m-28-207h0m-3-1h0m-29 235h0m9-228h0m69 125h0m-49-70h0m-62-45h0m-25 211h0m95-12h0m-93 7h0m119-8h0m-7-2h0m-171-210h0m198 249h0m-175-199h0m185 110h0m-220-88h0m163-30h0m-67-13h0m111 80h0m15-2h0m-247-44h0m64-14h0m55 166h0m89-128h0m-194 158h0m174-26h0m-131-183h0m142 196h0m-163-122h0m201 58h0m-161-152h0m-38 54h0m-36-88h0m279 203h0m-273-146h0m220 127h0m-169-48h0m-27-19h0m189 106h0m-128-184h0m57-35h0m48 315h0m-163-252h0m-41 51h0m99-65h0m-50-32h0m21 65h0m126-28h0m30 93h0m0-9h0m19 40h0m-137-155h0m-2 14h0m-60 60h0m25 68h0m35-114h0m131 114h0m-2-34h0m-180-55h0m5 68h0m8 5h0m3-57h0m-26-121h0m64 70h0m75 23h0m45 84h0m25 92h0m-23 40h0m-6-94h0m38 9h0m-84 45h0m-105-189h0m228 71h0"/>
</g>
<path d="M18.1 29.9L18.2 30L20.6 31.3L23.1 31.7L25.5 30.9L26.7 29.9L27.9 27.5L27.9 27.5L28.6 25.1L28.9 22.8L27.9 20.7L27.8 20.4L27.5 18L25.5 16.1L25 15.6L23.1 13.5L22.7 13.2L20.6 11L19.9 10.8L18.2 9.9L15.8 9.6L13.9 10.8L13.4 11L11.5 13.2L10.9 14.8L10.5 15.6L10.3 18L10.9 18.9L11.2 20.4L11.6 22.8L13.4 24.9L13.5 25.1L15.3 27.5L15.8 28L18.1 29.9Z" fill="#fff" fill-rule="evenodd"/>
<path d="M12.14 19.16h2.43v2.4h-2.43zM12.14 16.77h2.43v2.4h-2.43zM12.14 14.37h2.43v2.4h-2.43zM14.56 23.95h2.43v2.4h-2.43zM14.56 11.97h2.43v2.4h-2.43zM16.99 26.34h2.43v2.4h-2.43zM16.99 11.97h2.43v2.4h-2.43zM19.42 26.34h2.43v2.4h-2.43zM21.85 14.37h2.43v2.4h-2.43zM24.27 26.34h2.43v2.4h-2.43zM24.27 23.95h2.43v2.4h-2.43zM24.27 19.16h2.43v2.4h-2.43z" fill="#000" fill-opacity="0.06"/>
<path d="M14.56 21.55h2.43v2.4h-2.43zM19.42 14.37h2.43v2.4h-2.43zM21.85 26.34h2.43v2.4h-2.43zM21.85 16.77h2.43v2.4h-2.43zM24.27 21.55h2.43v2.4h-2.43z" fill="#000" fill-opacity="0.12"/>
<path d="M14.56 14.37h2.43v2.4h-2.43zM16.99 23.95h2.43v2.4h-2.43z" fill="#000" fill-opacity="0.19"/>
<path d="M16.99 14.37h2.43v2.4h-2.43zM21.85 23.95h2.43v2.4h-2.43z" fill="#000" fill-opacity="0.25"/>
<path d="M14.56 19.16h2.43v2.4h-2.43zM14.56 16.77h2.43v2.4h-2.43z" fill="#000" fill-opacity="0.31"/>
<path d="M19.42 23.95h2.43v2.4h-2.43zM21.85 19.16h2.43v2.4h-2.43z" fill="#000" fill-opacity="0.38"/>
<path d="M21.85 21.55h2.43v2.4h-2.43z" fill="#000" fill-opacity="0.44"/>
<path d="M19.42 16.77h2.43v2.4h-2.43z" fill="#000" fill-opacity="0.5"/>
<path d="M16.99 21.55h2.43v2.4h-2.43z" fill="#000" fill-opacity="0.56"/>
<path d="M16.99 16.77h2.43v2.4h-2.43z" fill="#000" fill-opacity="0.62"/>
<path d="M19.42 21.55h2.43v2.4h-2.43z" fill="#000" fill-opacity="0.81"/>
<path d="M16.99 19.16h2.43v2.4h-2.43z" fill="#000" fill-opacity="0.94"/>
<path d="M19.42 19.16h2.43v2.4h-2.43z" fill="#000" fill-opacity="1"/>
<path class="c" d="M18.1 29.9L18.2 30L20.6 31.3L23.1 31.7L25.5 30.9L26.7 29.9L27.9 27.5L27.9 27.5L28.6 25.1L28.9 22.8L27.9 20.7L27.8 20.4L27.5 18L25.5 16.1L25 15.6L23.1 13.5L22.7 13.2L20.6 11L19.9 10.8L18.2 9.9L15.8 9.6L13.9 10.8L13.4 11L11.5 13.2L10.9 14.8L10.5 15.6L10.3 18L10.9 18.9L11.2 20.4L11.6 22.8L13.4 24.9L13.5 25.1L15.3 27.5L15.8 28L18.1 29.9Z"/>
<path class="c" d="M19.7 27.5L20.6 28.3L23.1 28.3L24.5 27.5L25.4 25.1L25.5 24.6L25.9 22.8L25.5 20.4L25.5 20.4L24.4 18L23.1 16.6L22.1 15.6L20.6 14.1L18.2 13.6L15.8 13.8L13.6 15.6L13.4 16.7L13.1 18L13.4 18.6L13.7 20.4L14.4 22.8L15.8 24.2L16.6 25.1L18.2 26.7L19.7 27.5Z"/>
<path class="c" d="M17.3 22.8L18.2 23.7L20.6 25.1L23.1 22.9L23.1 22.8L23.1 22.3L22.8 20.4L21.2 18L20.6 17.4L18.2 16.6L15.8 17.9L15.7 18L15.8 18.4L16 20.4L17.3 22.8Z"/>
<path class="c" d="M18.2 20.4L18.2 20.4L20.6 20.4L18.2 20.3L18.2 20.4Z"/>
</g>
<g transform="translate(54.5 203.7)" clip-path="url(#cp)">
<g transform="scale(.1)">
<path class="b" d="M230 295h0m-111-28h0m251 124h0m5-28h0m-175-71h0m132 99h0m22 25h0m-125-218h0m-8 118h0m-19-92h0m7 21h0m46-53h0m-38 148h0m-62-205h0m187 106h0m74 105h0m-47 29h0m-156-107h0m58 107h0m74 29h0m27-173h0m-159 33h0m-40-28h0m52 135h0m6-58h0m201 31h0m7 47h0m-47-86h0m-216-109h0m207 173h0m-169-162h0m31 6h0m-94-27h0m69-6h0m-2 73h0m-10 92h0m26-195h0m169 256h0m-47-9h0m25-21h0m-53-176h0m-121 32h0m53-17h0m65-20h0m-106-47h0m188 213h0m24 57h0m-40-57h0m-141-10h0m-44-58h0m116-81h0m75 92h0m-186 15h0m-32-122h0m37 98h0m228 136h0m-74-134h0m-44 127h0m-92-238h0m185 152h0m-14 30h0m-200-96h0m99 139h0m-67-221h0m79 237h0m80-38h0m-177-91h0m97-103h0m-86 119h0m35-158h0m135 167h0m-78-140h0m-167 73h0m114-63h0m-72 16h0m14-37h0m-26 170h0m207 13h0m-7 26h0m-110-216h0m-36 140h0m113 102h0m-72-221h0m-64 38h0m56-16h0m-87-14h0m27 137h0m133 71h0m-157-119h0m28-36h0m179 86h0m-193-132h0m141 199h0m-135-106h0m-3-24h0m61 78h0m-54-118h0m163 76h0m-14 136h0m-144-278h0m24 128h0m-53-179h0m183 159h0m-13 125h0m-142-167h0m107-16h0m-3 11h0m40 179h0m-123-103h0m106 89h0m70-17h0m-46-72h0m-154-37h0m3-44h0m-1-44h0m27 32h0m176 124h0m1 70h0m-202-100h0m-7-54h0m162 135h0m28-79h0m-30-23h0m-175-81h0m-26-15h0m107 30h0m80 200h0m39-67h0m-279-171h0m43-28h0m244 163h0m-32-4h0m-17-74h0m-186-2h0m94 118h0m138 21h0m-128-9h0m6 14h0m150 19h0m-230-108h0m203 165h0m-59-227h0m22 159h0m35-37h0m-151 8h0m-47-135h0m-17-5h0m33 83h0m194 82h0m-174-76h0"/>
<path class="b" d="M380 374h0m-180-145h0m193 131h0m-204-132h0m68 172h0m22-194h0m133 166h0m-207-137h0m186 45h0m-202-34h0m-41 4h0m168-35h0m-25-9h0m-115 52h0m95-54h0m81 2h0m-120-14h0m-3 106h0m-37-11h0m128-63h0m-82-23h0m41 204h0m-40-88h0m175 71h0m-141-180h0m103 86h0m-157-169h0m15 79h0m113 216h0m-182-162h0m23-41h0m167 188h0m-168-138h0m-40-122h0m-11-5h0m146 221h0m-143-211h0m152 246h0m48 23h0m-121-175h0m-24-107h0m161 267h0m-164-180h0m60 147h0m199 52h0m-71-64h0m-186-77h0m172 29h0m-104 41h0m-21-50h0m-81-48h0m165 145h0m10-171h0m-78-21h0m124 182h0m-153-81h0m117-49h0m-56-84h0m56 238h0m24 0h0m0-108h0m-170-182h0m162 288h0m-165-140h0m-4-56h0m69 134h0m103 58h0m-152-183h0m178 132h0m-172-105h0m22 37h0m-98-62h0m165-42h0m-83 6h0m-14 63h0m64-82h0m-164 31h0m181 163h0m90 45h0m-27-8h0m23-179h0m-179 15h0m212 233h0m-69-215h0m-5-18h0m35 130h0m76 69h0m-204-131h0m10 86h0m8-212h0m-58-46h0m33 205h0m-9-13h0m103 61h0m-65-223h0m-36 51h0m-12-6h0m-32 7h0m193 61h0m-3 119h0m-39-183h0m12 173h0m-36-173h0m-119 51h0m180 38h0m-183-55h0m41 75h0m93 84h0m78-99h0m-98 90h0m-127-245h0m88 206h0m-70-191h0m28 172h0m10-162h0m58 189h0m112 41h0m-121-213h0m20-9h0m-23 208h0m-67-7h0m29-81h0m-40-73h0m124 171h0m107 42h0m-148-230h0m-44-27h0m68 23h0m-22 3h0m2-19h0m-11 188h0m-59-175h0m-29-6h0m183 167h0m-181-123h0m18-113h0m79 28h0m-68 40h0m-29 38h0m155 24h0m22-21h0m-111-58h0m145 191h0m-140-161h0m117 26h0m25 114h0m-256-148h0m204 46h0m19 107h0m58 51h0"/>
<path class="b" d="M408 336h0m-87 58h0m-88-64h0m93-97h0m0-31h0m-56-36h0m-81 75h0m10-53h0m76 173h0m-46-27h0m169 44h0m-108 13h0m0-178h0m-27-39h0m110 137h0m-134-128h0m42 29h0m37 176h0m-87-71h0m50 86h0m38-171h0m-55 107h0m-89-127h0m-18-27h0m205 244h0m-105-246h0m-79 110h0m127 100h0m7 5h0m59-105h0m0 76h0m-171-156h0m200 170h0m-144 3h0m-21-46h0m111 99h0m-18-48h0m-130-264h0m0 20h0m16 143h0m22 38h0m-53-65h0m-10-46h0m191 35h0m10 114h0m-139-157h0m77 202h0m44-9h0m11-91h0m19 73h0m1-18h0m-190-118h0m18-30h0m-4 67h0m-20-77h0m24-103h0m63 269h0m-65-140h0m102-40h0m-29 12h0m-125 119h0m186-63h0m-29-26h0m-84 79h0m55 83h0m76-25h0m78 20h0m-271-160h0m113 160h0m-88-114h0m33-90h0m89 10h0m-81 14h0m162 150h0m-82 28h0m-122-122h0m41-100h0m29 181h0m14-157h0m93 179h0m-23 37h0m-120-206h0m113 205h0m-44-20h0m-81-103h0m125-30h0m-133 22h0m14-89h0m36 217h0m-59-150h0m67-54h0m-82 112h0m61-99h0m134 96h0m-138-129h0m82 57h0m-149 5h0m74-52h0m109 220h0m-172-183h0m207 116h0m-125-139h0m33 219h0m-96-193h0m-14-77h0m126 83h0m-53-27h0m-48 8h0m104 2h0m-110 21h0m7 4h0m134 149h0m-158-195h0m237 122h0m-172-114h0m12-3h0m-70-85h0m224 230h0m-60-93h0m-137 76h0m154-50h0m-113-82h0m19 182h0m-90-108h0m-60-59h0m232 44h0m23 104h0m-27 15h0m64 21h0m-255-227h0m181 279h0m10-150h0m-103-153h0m26 56h0m-3 11h0m-41-28h0m-24 111h0m194 129h0m-23-40h0m-185-152h0m23-20h0m166 104h0m-146-232h0m168 236h0m-188-31h0m173 48h0m-195-72h0m94-90h0m-69 110h0m35-73h0"/>
<path class="b" d="M191 175h0m175 115h0m8 160h0m-34-189h0m-128 16h0m-70-106h0m53 55h0m-5-51h0m106 215h0m-63-98h0m163-2h0m-120 96h0m110 58h0m5-76h0m-39 30h0m-109-80h0m-29-108h0m153 198h0m-93-3h0m96-105h0m-15-73h0m-92-37h0m8 1h0m-35 14h0m166 157h0m-193-73h0m38-74h0m-34 4h0m167 143h0m-64-135h0m-88 63h0m-32-61h0m1-28h0m219 222h0m-162-215h0m-39-67h0m122 63h0m58 197h0m-157-208h0m154 117h0m-128-97h0m-18 182h0m-33-139h0m45-54h0m160 167h0m3-48h0m-76-71h0m-49 144h0m89-90h0m-127 53h0m-62-166h0m183 171h0m-157-58h0m128-66h0m-124 109h0m-20-46h0m167 8h0m-163-27h0m19-84h0m27 148h0m44-131h0m-6-20h0m34 42h0m-32-49h0m33 9h0m44 86h0m51 33h0m-225 24h0m207 67h0m-18-6h0m-34-185h0m-130-8h0m-22-3h0m153 48h0m-88-54h0m60 40h0m-4-22h0m-97 72h0m-21-19h0m179 158h0m-171-163h0m75 104h0m83 33h0m-149-63h0m161 28h0m51-76h0m-163-92h0m18 14h0m111 64h0m-48-18h0m20 10h0m-153 93h0m40-186h0m23 40h0m83 160h0m48-1h0m-130-7h0m-7 26h0m-53-79h0m214 97h0m-131-220h0m44 56h0m-157-12h0m7 10h0m-36 11h0m29 35h0m226 50h0m-210-167h0m188 162h0m-140-126h0m-46 25h0m2-12h0m-6-2h0m199 245h0m-183-179h0m-32-39h0m24-25h0m129 20h0m14 144h0m-175-191h0m190 21h0m-90-95h0m145 199h0m-15 29h0m-38 123h0m11-90h0m-133-185h0m-18-2h0m-2 132h0m119-124h0m38 128h0m-155-173h0m112 94h0m36 149h0m34 10h0m-255-239h0m119 10h0m-9 204h0m23-185h0m90 176h0m-174-126h0m106-45h0m-108 42h0m243 170h0m-107-188h0m-118 71h0m-47-62h0m193 120h0m-210-138h0m22-11h0"/>
<path class="b" d="M321 393h0m-112-149h0m158 139h0m-166-145h0m-22 12h0m257 132h0m-227-169h0m24 124h0m101-147h0m-111 112h0m-3 26h0m177-11h0m-26-33h0m2 21h0m64 46h0m-281-155h0m160 38h0m-105 10h0m-28-103h0m83 249h0m-59-73h0m48-107h0m-14 91h0m124 110h0m-97-44h0m-63-146h0m4-1h0m-16 109h0m40 29h0m-55-135h0m20 30h0m175 120h0m7-75h0m-35-53h0m28 66h0m-116-106h0m0-38h0m22 24h0m-41 135h0m134 60h0m-106-194h0m-24 106h0m38 109h0m-35-59h0m33 27h0m82 64h0m-93-104h0m124 111h0m-183-212h0m-48-24h0m182 33h0m-107 57h0m-85-176h0m75 183h0m158-20h0m-233-147h0m31 84h0m160 185h0m-56-31h0m-27-172h0m-42 1h0m6 4h0m-19 64h0m-35-56h0m141 202h0m-45-213h0m113 78h0m-181-52h0m96 226h0m85-172h0m-146-89h0m50 14h0m-66 84h0m76-86h0m-74 54h0m170 111h0m36-78h0m-11 92h0m-203-218h0m-9 119h0m200 68h0m-262-219h0m130 31h0m-77-35h0m-4 78h0m50-57h0m104 243h0m-61-185h0m111 66h0m-22 10h0m-186-134h0m46 194h0m156-65h0m-147 33h0m-1 18h0m40 35h0m74-158h0m-3 203h0m33-166h0m-10 108h0m-188-113h0m181 120h0m-103-167h0m123 175h0m-144-73h0m83-65h0m-87 96h0m-16-191h0m76 42h0m-88 38h0m0 35h0m194 101h0m-202-104h0m30 84h0m61 71h0m-26-16h0m58-248h0m-46 223h0m73 107h0m34-109h0m-174-140h0m149 160h0m-174-169h0m26 1h0m235 137h0m-254-124h0m183 209h0m-163-196h0m137 161h0m-156-164h0m63-39h0m153 56h0m-24 0h0m18 24h0m-203-117h0m168 247h0m-215-192h0m118-5h0m102 178h0m-57-158h0m76 205h0m-218-200h0m269 177h0m-199-232h0m2 6h0m47-20h0m-74 139h0m15-163h0m19 40h0m119 73h0"/>
<path class="b" d="M393 354h0m-152-147h0m-9 141h0m-15 1h0m21-61h0m-1-87h0m161 165h0m0-69h0m-108 71h0m116 26h0m-209-145h0m185 113h0m-208-67h0m38-30h0m-114-65h0m270 72h0m-207-58h0m142 184h0m-91-135h0m106 176h0m-70-80h0m32 5h0m85 11h0m-178-168h0m69-17h0m139 106h0m-148-139h0m93 62h0m53 85h0m-171-132h0m-33 32h0m183 92h0m-4 105h0m103 59h0m-256-133h0m-20-58h0m64-95h0m-73 63h0m22 18h0m89-104h0m-84 110h0m39 75h0m-24-34h0m-52-71h0m129-52h0m38 205h0m-11 45h0m38-129h0m49 154h0m-172-116h0m-19-48h0m197 79h0m-233-224h0m189 101h0m-6 136h0m-116-177h0m11 5h0m-81 143h0m-19-58h0m202 96h0m-36-3h0m7-177h0m87 173h0m-85-1h0m-85-172h0m181 144h0m-83 99h0m-65-244h0m99 162h0m-6 66h0m-68-237h0m76 99h0m-110 97h0m49-12h0m35-83h0m44 59h0m-207-96h0m121-51h0m-147 53h0m73-58h0m93 182h0m-111-100h0m-5-91h0m145 161h0m-25 41h0m-69-36h0m36-143h0m-50 119h0m45 84h0m60-132h0m-29-44h0m58 9h0m-91-49h0m87 133h0m-57-115h0m-144-9h0m179 53h0m-145 21h0m164 6h0m-74-89h0m-163 81h0m120-138h0m-164 111h0m131 30h0m-8-5h0m26-105h0m153 242h0m-220-208h0m-1-11h0m132 184h0m56-18h0m-187-209h0m15 70h0m36-48h0m-27 12h0m168 251h0m-94-59h0m-81-151h0m-73-70h0m28 149h0m95 21h0m154 29h0m-157-175h0m64 204h0m19-164h0m-78 166h0m-39-67h0m141 63h0m1-115h0m-159-32h0m4-40h0m135 190h0m-68-219h0m-114-42h0m212 231h0m1-4h0m-126 13h0m-43-156h0m153 17h0m-29 172h0m83-66h0m-41 34h0m-23 34h0m-86-235h0m-29 112h0m-3 17h0m15 46h0m92 55h0m79-26h0m-178-93h0"/>
<path class="b" d="M296 205h0m-13 206h0m-67-195h0m-59-98h0m35 95h0m33-8h0m-8 14h0m25-21h0m1-9h0m-4 17h0m164 104h0m-245-45h0m180 118h0m-44-220h0m79 139h0m-82-136h0m-133 62h0m258 146h0m-40 11h0m-169-162h0m104 172h0m65 34h0m-167-230h0m-38 32h0m87 153h0m135 1h0m-182-140h0m-34-43h0m80 140h0m96 71h0m100-31h0m-229-205h0m123 237h0m-110-125h0m10-80h0m-121 108h0m68 16h0m2-72h0m211 160h0m-218-188h0m167 157h0m-74-287h0m-30 101h0m-47 97h0m161-30h0m-137 52h0m186 28h0m-155-144h0m80 40h0m-2 228h0m-99-185h0m-119-100h0m257 105h0m-169 1h0m-12 38h0m-5-36h0m113-118h0m10 228h0m-81-104h0m38-115h0m13-16h0m41-46h0m-113 112h0m185 91h0m-155-42h0m214 79h0m-174-182h0m-53 26h0m209 180h0m-224-213h0m31 14h0m-38 124h0m194 75h0m-146-251h0m64 244h0m85-36h0m-276-192h0m321 232h0m-209-86h0m6 34h0m200 62h0m-212-54h0m-42-124h0m117-14h0m-95-18h0m0 87h0m227 34h0m-200 16h0m21 20h0m-79-123h0m-54-38h0m243 60h0m-131 71h0m-10 24h0m2-8h0m-51-100h0m90-18h0m-43 130h0m-12-122h0m143 176h0m112-32h0m-228-152h0m134 89h0m-1 109h0m18-150h0m-186-19h0m200 133h0m-207-182h0m48 13h0m37 159h0m31-149h0m20 2h0m-106-21h0m-41 85h0m36 46h0m62 74h0m-93-127h0m-26-117h0m255 313h0m-209-188h0m153-3h0m61-21h0m-195 81h0m113 44h0m41-120h0m-205-29h0m243 156h0m-227-130h0m34-58h0m4 122h0m6 44h0m157 9h0m-74-146h0m-98-45h0m10 124h0m-31-49h0m3-31h0m133 166h0m-154-205h0m68 21h0m106 180h0m-161-166h0m65 157h0m-19-180h0m20-5h0m-78 91h0m73-115h0m-40 21h0m5 16h0m122 47h0"/>
<path class="b" d="M369 376h0m-80-9h0m-82-207h0m160 221h0m-148-219h0m25 26h0m-30 87h0m119 111h0m-128-182h0m78 1h0m84 93h0m-210-143h0m220 253h0m-188-181h0m88 145h0m-69-55h0m131 99h0m-111-111h0m-24-20h0m60-80h0m60 3h0m-163 109h0m38-178h0m-82 95h0m83 15h0m105-67h0m-102 80h0m2-7h0m186 46h0m-45-49h0m112 188h0m-9-65h0m-222-85h0m184 168h0m-96-73h0m56-12h0m1 45h0m34-43h0m-157-27h0m-38-7h0m163 35h0m-156-137h0m154 120h0m-165-114h0m224 85h0m-198-33h0m93 112h0m-17 13h0m64-35h0m-97-210h0m90 106h0m-9 109h0m-200-205h0m35 125h0m142 81h0m27-206h0m-3 207h0m-19-181h0m108 68h0m-81 191h0m-101-264h0m112 99h0m-95-113h0m-37 12h0m11 4h0m35-1h0m-25-2h0m137 190h0m-195-161h0m197 210h0m-177-280h0m145 122h0m-161-42h0m47-46h0m-4 15h0m-56-61h0m144 250h0m-95-196h0m17 143h0m-57-69h0m193-17h0m-216-62h0m153 227h0m35-140h0m-85-159h0m82 168h0m-131 18h0m89 81h0m74-67h0m-97-169h0m68 124h0m-46-48h0m11 1h0m-119 67h0m163 106h0m-112 6h0m42-210h0m-134 35h0m76-88h0m-36 20h0m90 225h0m-80-99h0m76-86h0m141 249h0m-74-75h0m-174-162h0m169 22h0m-105 133h0m-34-172h0m114 47h0m38 126h0m-146-71h0m150 49h0m-123-3h0m-21-173h0m168 231h0m-185-210h0m-6 32h0m155 17h0m-208-29h0m149-65h0m-100 49h0m197 156h0m15-16h0m13-79h0m-194-61h0m167 242h0m-17-66h0m-181-116h0m150 123h0m-137-54h0m148 71h0m-48 27h0m-109-180h0m232 135h0m-83-106h0m-3-32h0m-56-45h0m-79 110h0m22-186h0m79 104h0m38 44h0m-1 80h0m-147-111h0m100-16h0m-53-77h0m-11 243h0m-19-271h0m26 75h0m38 5h0"/>
<path class="s" d="M194 227h0m193 67h0m-42-99h0m-121 6h0m6 113h0m162 110h0m39 18h0m-196-142h0m78-86h0m68 88h0m-186-59h0m15 39h0m19 69h0m32-12h0m-43-114h0m-9 35h0m18 30h0m-10-61h0m-14-20h0m-26 38h0m15 57h0m119-90h0m111 118h0m-58 70h0m-135-81h0m-17-43h0m35-69h0m-31-1h0m73 194h0m81 27h0m51-84h0m-76-103h0m-103-41h0m25 8h0m-78 19h0m215 144h0m-107-192h0m-129 39h0m238 89h0m-195-126h0m-4 50h0m54 186h0m-45-172h0m156 139h0m-25-131h0m20 23h0m19 167h0m-69-225h0m-12 168h0m-47-194h0m142 170h0m-26-55h0m-204-105h0m195 81h0m32 61h0m-179-217h0m187 290h0m-20-51h0m-167-118h0m49 90h0m-56-118h0m37-14h0m121 79h0m-53-59h0m82 139h0m-290-175h0m133 103h0m-11-112h0m123 220h0m-59-213h0m-22 7h0m50-13h0m-132 4h0m138 50h0m-95 94h0m45-152h0m68 73h0m-15 156h0m16 12h0m-10-216h0m-98 113h0m38 50h0m-43-164h0m-26 18h0m19-8h0m-68 157h0m138-166h0m-88 21h0m70-61h0m-70 11h0m49 15h0m-86-146h0m225 322h0m-131-174h0m-58 57h0m28 47h0m-21-18h0m140 134h0m12-110h0m-132-156h0m37 258h0m194-116h0m-239 7h0m132 135h0m8-177h0m28 186h0m-180-232h0m141 37h0m-60 172h0m82-113h0m2 59h0m-144-160h0m128 76h0m26 131h0m-121-259h0m97 49h0m-185 34h0m90-32h0m109 195h0m-10 22h0m-172-291h0m-32 109h0m103 150h0m97-85h0m-90-103h0m128 258h0m-86-264h0m-93 101h0m175-11h0m-8 157h0m-98-232h0m-65 3h0m-16 60h0m128 118h0m44-158h0m-15 141h0m-5-85h0m-22 113h0m-127-201h0m118 30h0m-11 8h0m31-2h0m-68-23h0m-62 3h0m3-11h0m69 229h0m-80-184h0m156 135h0m82 41h0m-261-184h0m181 61h0m-7 107h0m59-65h0m-167 12h0m49-155h0m-153-65h0m34 231h0m-6-118h0m27 135h0m19-88h0m-53-69h0m203 152h0m-8 17h0m-133-180h0m19-7h0m-16 117h0m66 97h0m-36-231h0m70 42h0m32 129h0m-7 23h0m-178-183h0m211 179h0m-237-132h0m213 129h0m34 46h0m-151-258h0m57 238h0m-21-243h0m11 273h0m48-50h0m-82-203h0m-66 111h0m167 112h0m-200-145h0m244 115h0m-25-8h0m-19-3h0m-191-144h0m198 177h0m-165-136h0m-2-125h0m103 270h0m50-94h0m-130-104h0m98 177h0m-97-44h0m129 21h0m-125 30h0m129-81h0m7 81h0m42 27h0m-16-17h0m-2-96h0m-33 83h0m29-7h0m-170-204h0m13 114h0m204 57h0m-225-98h0m-9-90h0m141 235h0m101-121h0m-45 56h0m-189-73h0m44-53h0m-45-108h0m85 114h0m100 55h0m-78-26h0m23-20h0m-123 80h0m185 110h0m-156-227h0m162 196h0m-213-105h0m109 114h0m109-25h0m-242-190h0m31 173h0m24-168h0m184 189h0m-217-181h0m3 3h0m25 192h0m58 18h0m-109-75h0m96 50h0m101-62h0m-51-79h0m-104-78h0m18 139h0m0-96h0m-28 39h0m175 125h0m-155-56h0m78-113h0m41 55h0m-61 149h0m-53-89h0m223 58h0m-284-124h0m207 179h0m-188-157h0m214 120h0m-119-170h0m-48 105h0m48 56h0m101 19h0m-11 3h0m-131-48h0m123 63h0m-48-20h0m37-173h0m-96 131h0m-18-2h0m-25-75h0m71 111h0m16 24h0m90-98h0m-132-94h0m170 256h0m-115-265h0m-94-54h0m189 240h0m-111-183h0m-191-7h0m107 11h0m136 171h0m-141-116h0m6-63h0m126 58h0m-49 141h0m-52-216h0m55-13h0m-68 124h0m176-43h0m-22 130h0m-21-168h0m-169-12h0m173 72h0m-187-75h0m92 4h0m57-28h0m-191-9h0m255 176h0m-155-162h0m-50-19h0m-11 67h0m60-53h0m120 237h0m-26-194h0m-12-66h0m-37 59h0m-90 42h0m-7-35h0m110-39h0m-77 2h0m245 118h0m-271-125h0m261 235h0m-202-204h0m143 182h0m-175-98h0m-28-86h0m5 79h0m190 79h0m-80-168h0m113 155h0m-210-48h0m165 78h0m-22-140h0m-120 150h0m60-179h0m-34 126h0m-51-106h0m106 175h0m101-171h0m-102-37h0m46 193h0m-122-76h0m-9-225h0m150 283h0m-239-110h0m144-78h0m-48 112h0m141 61h0m-4 5h0m11 12h0m-191-82h0m160-78h0m-175-63h0m192 153h0m-34-69h0m21 231h0m-58-263h0m-93 54h0m148 137h0m-25 3h0m-79-208h0m81 195h0m-76-232h0m152 264h0m-18-115h0m-148-103h0m72 183h0m-86-176h0m140 63h0m4 92h0m-24 56h0m-149-174h0m238 170h0m-271-173h0m92-41h0m40-3h0m98 151h0m-43 86h0m12-19h0m-87-15h0m130 6h0m-183-105h0m19-89h0m-51 69h0m-28-189h0m158 104h0m-74 18h0m-38-3h0m149 252h0m-150-236h0m202 104h0m-131-155h0m87 124h0m-131 51h0m128 81h0m-152-124h0m158 67h0m-85 11h0m133 31h0m-247-260h0m200 130h0m-53-69h0m-74 97h0m104 81h0m94-1h0m-35-60h0m-175-37h0m54-85h0m-75 9h0m-12-59h0m57 27h0"/>
<path class="s" d="M258 346h0m97 57h0m-14-169h0m29 145h0m-93-18h0m119 6h0m-240-205h0m235 199h0m-39 31h0m-29-183h0m-81 90h0m182 17h0m-195-21h0m185 32h0m-131 38h0m92 22h0m-9-95h0m35 62h0m-3 48h0m-158-83h0m172 18h0m-66 71h0m-186-189h0m247 191h0m-277-217h0m198 35h0m-88 68h0m7-84h0m-39-3h0m196 101h0m-178 64h0m92 9h0m-3-189h0m-79 11h0m59 8h0m-42-10h0m159 125h0m-181 11h0m49 32h0m-80-118h0m-25-45h0m34-16h0m27 4h0m-13 11h0m12 106h0m19-102h0m135 65h0m29 157h0m28 4h0m-218-246h0m187 162h0m-216-110h0m7-47h0m11 88h0m193 29h0m-171-8h0m89-69h0m-88 86h0m29-127h0m-46 20h0m109 22h0m-110 66h0m160-6h0m-145-3h0m132-24h0m27 8h0m-149 60h0m-49-28h0m60-158h0m-17 136h0m-2 14h0m69 88h0m72-1h0m-70-191h0m-31-1h0m58 282h0m-7-271h0m-22-12h0m-107 31h0m213 181h0m-174-97h0m95 84h0m-122-73h0m-44-117h0m69-4h0m120 193h0m-67-6h0m-58-58h0m83-127h0m130 178h0m-220-73h0m32-162h0m60 80h0m75 48h0m-55 109h0m-160-237h0m3 127h0m54 18h0m37-91h0m68 12h0m68 111h0m-179-136h0m82 19h0m-98 28h0m160 77h0m-33 102h0m29-46h0m-168-114h0m166 44h0m27 75h0m-24-70h0m-158-59h0m-2 15h0m10 37h0m14-7h0m140 8h0m-185-49h0m180 55h0m12 78h0m-35-123h0m-108 44h0m165 102h0m-172-222h0m66 32h0m-86 32h0m107-9h0m30 183h0m-100-67h0m-83-144h0m181 180h0m-134-94h0m207 66h0m-204-68h0m101-69h0m-97-9h0m138 180h0m-44-230h0m-134 19h0m62 122h0m154 105h0m-25 1h0m26-2h0m-4-35h0m-183-222h0m0 147h0m179 136h0m19-19h0m-129-33h0m83 39h0m-165-242h0m58-6h0m-24 133h0m39-108h0m-64 1h0m44 4h0m-24 89h0m151-81h0m19 55h0m-189-63h0m162 156h0m-114-200h0m128 116h0m-137 73h0m34-139h0m-13 140h0m-94-103h0m302 171h0m-170-216h0m71 216h0m-122-219h0m-17 5h0m94 3h0m-159-26h0m42 38h0m123 169h0m-93-84h0m163 79h0m-238-208h0m61 142h0m146 132h0m-148-249h0m160 164h0m-87-156h0m-99 121h0m132 76h0m-33 33h0m64-186h0m-172-51h0m129 192h0m-164-170h0m106-49h0m-23 120h0m164 6h0m-38 61h0m23-17h0m-255-130h0m89-24h0m-12-7h0m112 214h0m39-12h0m-10-142h0m-94 112h0m10-143h0m103 157h0m16 16h0m-63 6h0m84-22h0m-196-140h0m-9-15h0m180 165h0m30 40h0m-29-25h0m28-33h0m-216-74h0m87 124h0m7-249h0m81 146h0m10-31h0m-65-57h0m118 182h0m-78 0h0m-198-189h0m133 149h0m-146-233h0m64 43h0m8 91h0m-42-91h0m45 7h0m150 116h0m18 104h0m-139-227h0m127 198h0m-214 19h0m127 11h0m92-149h0m-130-51h0m-17 88h0m-77-103h0m110 0h0m-7 157h0m94-81h0m62 169h0m-198-139h0m9-79h0m139 93h0m-129-1h0m28-114h0m-19 25h0m14 0h0m-16 143h0m81 51h0m-118-187h0m167 154h0m-146-81h0m39 40h0m-61-87h0m60 95h0m-11-151h0m-1-54h0m-53 56h0m-33-45h0m172 249h0m-99-97h0m-12-101h0m89 15h0m-96 89h0m172 49h0m-144-158h0m-89 4h0m239 180h0m-38-117h0m-192-66h0m40 30h0m18-42h0m144 69h0m-11 1h0m-71-50h0m103 95h0m-174-137h0m70 290h0m77-54h0m-140-104h0m151 79h0m3-6h0m72-8h0m-201-166h0m34 170h0m8-176h0m43-15h0m-125 115h0m72-96h0m-113 71h0m189 123h0m-149-149h0m156-16h0m-168-9h0m175 150h0m-238-112h0m98 43h0m-6-114h0m2 130h0m-2 54h0m144-71h0m5-79h0m-142 190h0m51-193h0m145 164h0m-237-137h0m-50-87h0m62 53h0m-26 9h0m227 142h0m-186-154h0m169 112h0m4 0h0m-187-75h0m37 58h0m-65-51h0m11-15h0m15-10h0m222 184h0m-76-15h0m-122-189h0m65-15h0m32 289h0m30-43h0m20-127h0m-146-2h0m151 131h0m-180-293h0m-4 83h0m25 69h0m119 96h0m-95-40h0m-9-174h0m128 136h0m-123 15h0m101-73h0m-117-78h0m-15 61h0m199 193h0m-45-42h0m10-81h0m-164-29h0m5-24h0m94 158h0m-182-223h0m268 133h0m-187-73h0m32 57h0m-39-41h0m80-55h0m-120-14h0m53 162h0m13-181h0m-45 12h0m267 212h0m-206-186h0m66-5h0m-70 87h0m134 71h0m-104 3h0m133 67h0m-149-233h0m141 174h0m4 15h0m-171-62h0m-10-164h0m82 42h0m81 192h0m-125-188h0m22 176h0m-62-145h0m51-39h0m101 88h0m-135-104h0m-46 102h0m5-32h0m130-31h0m73 141h0m-176-97h0m126-33h0m28 183h0m-195-134h0m-15-147h0m190 101h0m-210-82h0m136 23h0m-64 129h0m-29-115h0m49-18h0m-75 27h0m94 4h0m106 178h0m-102-174h0m155 179h0m-247-198h0m225 141h0m73 109h0m-64-54h0"/>
</g>
<path d="M34.2 39.5L35.2 40.1L36 39.5L37.6 38.4L38.6 37.1L39.3 34.7L39.6 32.3L38.1 29.9L37.6 29.1L37 27.5L35.2 25.4L35 25.1L32.8 22.9L32.5 22.8L30.3 21.2L28.2 20.4L27.9 20L25.5 19L23.1 20.4L23.1 20.4L20.6 21.2L20.3 22.8L20.6 23.8L20.8 25.1L20.8 27.5L22.1 29.9L23.1 31.3L23.5 32.3L25.5 34.2L25.9 34.7L27.9 36.7L28.4 37.1L30.3 38.7L32.8 39.2L34.2 39.5Z" fill="#fff" fill-rule="evenodd"/>
<path d="M21.85 26.34h2.43v2.4h-2.43zM21.85 23.95h2.43v2.4h-2.43zM21.85 21.55h2.43v2.4h-2.43zM24.27 31.14h2.43v2.4h-2.43zM24.27 21.55h2.43v2.4h-2.43zM26.7 33.53h2.43v2.4h-2.43zM26.7 21.55h2.43v2.4h-2.43zM31.56 35.92h2.43v2.4h-2.43zM31.56 23.95h2.43v2.4h-2.43zM33.98 35.92h2.43v2.4h-2.43zM33.98 28.74h2.43v2.4h-2.43z" fill="#000" fill-opacity="0.06"/>
<path d="M24.27 28.74h2.43v2.4h-2.43zM29.13 33.53h2.43v2.4h-2.43zM33.98 33.53h2.43v2.4h-2.43zM33.98 31.14h2.43v2.4h-2.43z" fill="#000" fill-opacity="0.12"/>
<path d="M26.7 31.14h2.43v2.4h-2.43zM29.13 23.95h2.43v2.4h-2.43zM31.56 33.53h2.43v2.4h-2.43zM31.56 26.34h2.43v2.4h-2.43z" fill="#000" fill-opacity="0.19"/>
<path d="M24.27 26.34h2.43v2.4h-2.43zM24.27 23.95h2.43v2.4h-2.43z" fill="#000" fill-opacity="0.25"/>
<path d="M26.7 23.95h2.43v2.4h-2.43z" fill="#000" fill-opacity="0.38"/>
<path d="M31.56 31.14h2.43v2.4h-2.43zM31.56 28.74h2.43v2.4h-2.43z" fill="#000" fill-opacity="0.44"/>
<path d="M29.13 31.14h2.43v2.4h-2.43z" fill="#000" fill-opacity="0.5"/>
<path d="M26.7 28.74h2.43v2.4h-2.43zM29.13 26.34h2.43v2.4h-2.43z" fill="#000" fill-opacity="0.62"/>
<path d="M26.7 26.34h2.43v2.4h-2.43z" fill="#000" fill-opacity="0.75"/>
<path d="M29.13 28.74h2.43v2.4h-2.43z" fill="#000" fill-opacity="1"/>
<path class="c" d="M34.2 39.5L35.2 40.1L36 39.5L37.6 38.4L38.6 37.1L39.3 34.7L39.6 32.3L38.1 29.9L37.6 29.1L37 27.5L35.2 25.4L35 25.1L32.8 22.9L32.5 22.8L30.3 21.2L28.2 20.4L27.9 20L25.5 19L23.1 20.4L23.1 20.4L20.6 21.2L20.3 22.8L20.6 23.8L20.8 25.1L20.8 27.5L22.1 29.9L23.1 31.3L23.5 32.3L25.5 34.2L25.9 34.7L27.9 36.7L28.4 37.1L30.3 38.7L32.8 39.2L34.2 39.5Z"/>
<path class="c" d="M29.2 34.7L30.3 35.7L32.8 36.4L35.1 34.7L35.2 34.6L36.2 32.3L35.7 29.9L35.2 29.2L34.3 27.5L32.8 25.8L32.3 25.1L30.3 23.6L27.9 22.9L27 22.8L25.5 22.3L24.7 22.8L23.1 25.1L23.4 27.5L24.6 29.9L25.5 31.1L26.4 32.3L27.9 33.9L29.2 34.7Z"/>
<path class="c" d="M29 32.3L30.3 33.4L32.8 33.3L33.5 32.3L33.6 29.9L32.8 28.9L31.9 27.5L30.3 25.9L27.9 25.2L25.5 27.5L26.8 29.9L27.9 31.2L29 32.3Z"/>
<path class="c" d=""/>
</g>
<g transform="translate(105.3 203.7)" clip-path="url(#cp)">
<g transform="scale(.1)">
<path class="b" d="M248 193h0m5 197h0m37-185h0m-116 1h0m103 155h0m-185 50h0m184 47h0m-144-180h0m30 109h0m26-193h0m56 176h0m-72 49h0m-12-51h0m-35 5h0m30-14h0m110-214h0m-103 59h0m138 131h0m-129-115h0m99-53h0m-34 20h0m-104 83h0m165-43h0m-45 138h0m-111 19h0m25 14h0m-16-145h0m102 131h0m-71-161h0m-43 101h0m164-22h0m-79-95h0m-95 147h0m236-227h0m-257 162h0m37 46h0m5-77h0m112-66h0m-59 282h0m162-195h0m-45-11h0m-258 65h0m94-123h0m102-15h0m99 104h0m-65-109h0m6 191h0m20-100h0m-50-74h0m26 97h0m-168-12h0m29-32h0m-13 81h0m3 5h0m174-124h0m27 55h0m-184-14h0m-33 42h0m261 10h0m-108-105h0m41 34h0m-165 154h0m-13-46h0m-34-34h0m256-141h0m-112 283h0m39-147h0m-16-133h0m18 48h0m-99 194h0m-48-59h0m2 37h0m124-186h0m48 35h0m38-138h0m-248 230h0m81-147h0m82 143h0m-130 2h0m11 28h0m-24-47h0m165-118h0m4 191h0m-73 4h0m110-133h0m-200 12h0m-76-48h0m28 54h0m119-79h0m-16 30h0m-119 25h0m148 149h0m-91-134h0m65 161h0m162-58h0m12-145h0m-227 177h0m37-5h0m55-266h0m-58 97h0m180 12h0m-183 151h0m143-176h0m-47 138h0m-202-9h0m61-5h0m236-108h0m-145 196h0m40-224h0m184-6h0m-139 87h0m-11-118h0m-18 4h0m-107 189h0m170-6h0m10-88h0m-210 73h0m190-119h0m-202 66h0m11 45h0m215-32h0m-197 73h0m-44-84h0m190 10h0m-106-153h0m-66 259h0m28-49h0m10-110h0m139 60h0m-163 25h0m-35 65h0m137-22h0m114-121h0m-185-37h0m130 95h0m-30 21h0m-132 56h0m111-23h0m1 39h0m-29-222h0m-11-11h0m17 260h0m58-94h0m-59-168h0m86 67h0m-153 137h0m159-113h0m-16-30h0m-165 60h0m84-119h0"/>
<path class="b" d="M123 308h0m117-122h0m114 121h0m-1-80h0m-271 158h0m240-166h0m-144-24h0m23 188h0m93-75h0m-84 157h0m39-82h0m-141-41h0m236-138h0m-72 175h0m-9-188h0m-1 183h0m21-195h0m-156 145h0m187 9h0m-151-172h0m148-1h0m-193 232h0m66 11h0m68-228h0m-67 45h0m-49 138h0m164-38h0m39-120h0m-106-9h0m-63 34h0m173-5h0m-95-6h0m-125 206h0m-21-58h0m55-160h0m70 8h0m-19-18h0m-119 140h0m49 56h0m67-184h0m-37-34h0m-16 204h0m109-7h0m-97 63h0m214-258h0m-60 110h0m-11-48h0m66-39h0m-254 38h0m185-48h0m-39 176h0m28-55h0m-39-98h0m-94 24h0m4 14h0m163-41h0m4 93h0m-171-75h0m-2 182h0m178-228h0m-165 12h0m99-11h0m-107 72h0m-32 114h0m169-126h0m-13 100h0m-70 63h0m-78-55h0m179-149h0m-124 36h0m58 128h0m-168-126h0m211 98h0m-147-100h0m11 158h0m-21-47h0m-24-8h0m35 29h0m132-25h0m36-200h0m-24 150h0m-42 97h0m-82-247h0m83 20h0m-25 42h0m-82 201h0m-75-78h0m117-86h0m18 209h0m120-180h0m-204 7h0m26 99h0m-11-190h0m-12 209h0m35-19h0m146-83h0m66-56h0m-235 114h0m179-117h0m-103 205h0m90-231h0m-58 8h0m-60 183h0m86-46h0m-150-82h0m176 42h0m25 22h0m-3-77h0m-71-81h0m-71 57h0m-51 86h0m-12 17h0m55 62h0m-73-46h0m51-76h0m137 86h0m-12-240h0m-135 181h0m100-130h0m-33 220h0m90-183h0m127 42h0m-124-23h0m-45-17h0m56 107h0m37-74h0m-250 98h0m226-46h0m-90-96h0m-13-24h0m-72 83h0m59-69h0m92 137h0m15-90h0m-14-2h0m-45 173h0m-112-23h0m-7-134h0m227-87h0m-167 73h0m-66 80h0m166 6h0m-149-66h0m176-32h0m-85-19h0m33-34h0m-113 219h0m79 0h0m119-93h0m-153-89h0"/>
<path class="b" d="M327 349h0m-140-110h0m-61 75h0m181-91h0m-25 128h0m-41-139h0m72 118h0m-184-18h0m34-89h0m69 224h0m-97-142h0m-37 120h0m46-93h0m155-220h0m-138 311h0m-25-30h0m181-129h0m-96-75h0m52-65h0m-90 79h0m-15-47h0m-19 232h0m155-238h0m36 65h0m-173 157h0m167-120h0m-207-6h0m191 49h0m-232 38h0m225 20h0m-33-173h0m-132 221h0m100-195h0m-37 197h0m39-7h0m-102-157h0m95-33h0m-111 103h0m13 31h0m-78 10h0m175-140h0m31 129h0m12 5h0m51-50h0m-40 47h0m-2-52h0m-7-135h0m20 190h0m-103 56h0m98-23h0m-6-48h0m2 17h0m-28 5h0m-128-43h0m1 44h0m104-174h0m-2 186h0m-48-157h0m-68 209h0m38-182h0m88 158h0m78-212h0m-110 33h0m69 127h0m82-73h0m-75 55h0m-20-116h0m-126 187h0m158-199h0m-15 166h0m-130-125h0m70 179h0m62-97h0m-50-115h0m-116 8h0m-16 178h0m90-221h0m-37 66h0m144 90h0m-120-93h0m15-33h0m-61 61h0m189-73h0m-13 9h0m95 66h0m-261 162h0m7-23h0m-68-104h0m148-82h0m123 95h0m-237 104h0m76-26h0m51 40h0m-124-122h0m71-125h0m7 224h0m102-72h0m-171 61h0m-5-8h0m42 25h0m109-263h0m48 139h0m-40 3h0m2-66h0m34 166h0m-25-225h0m-162 204h0m102 3h0m13-209h0m-149 249h0m33-153h0m-23 114h0m-43-93h0m172 103h0m-93-133h0m6 125h0m120-24h0m-37 59h0m62-61h0m-147 26h0m125-188h0m-76 201h0m90-97h0m-41 74h0m-74 50h0m135-131h0m-143-70h0m122 89h0m-150-40h0m170-83h0m-196 179h0m46 15h0m94 6h0m45-173h0m-93 3h0m47-5h0m-110 189h0m-83-40h0m269-85h0m-42-84h0m65 129h0m-2 3h0m-8-70h0m-186 130h0m162-112h0m-68 121h0m75-228h0m-53 206h0m-144-44h0m52 78h0"/>
<path class="b" d="M211 194h0m82 31h0m-206-14h0m36 82h0m23 81h0m-63-82h0m202 67h0m-33 18h0m86-56h0m-36-13h0m15-71h0m-146 150h0m91-174h0m-11-2h0m48-83h0m-9 56h0m-161 108h0m212-14h0m-197 9h0m130-107h0m8 10h0m-59 203h0m2-187h0m-58 167h0m177-208h0m-132 41h0m6-3h0m62 138h0m-159-10h0m145 50h0m-170-74h0m243-152h0m-223 197h0m28-102h0m110 131h0m107-66h0m-70-124h0m-202 89h0m171-122h0m22 205h0m-144-65h0m175-62h0m12 3h0m-107-28h0m160-54h0m-133 30h0m-95 179h0m171-176h0m-12 100h0m-6 91h0m34-108h0m-61 71h0m-27-139h0m-25 5h0m-54 52h0m88 136h0m90-123h0m8-97h0m-30 76h0m-182 144h0m179-182h0m-24 16h0m31-76h0m-121 6h0m61-22h0m-105 230h0m161-56h0m-105 129h0m-56-65h0m23-159h0m150 58h0m-145-53h0m134-10h0m-62 185h0m10-230h0m87 65h0m-202 174h0m50 19h0m32-227h0m31-62h0m-118 253h0m125-55h0m-125-73h0m-52 100h0m167-167h0m-38 10h0m63 26h0m38-25h0m-39 91h0m-77 99h0m47-37h0m114-137h0m-107 135h0m46-134h0m-101-58h0m138 94h0m11-27h0m-112-33h0m-95 197h0m49-190h0m-65 108h0m88-114h0m-41 33h0m-79 98h0m86 88h0m74-71h0m-101-88h0m-5-53h0m103 141h0m-19 38h0m-78-178h0m-10 43h0m79-47h0m60 106h0m17-72h0m43 109h0m-151 45h0m40-202h0m66 29h0m-192 105h0m23-114h0m198-12h0m-189 40h0m157 55h0m-153-37h0m30 134h0m83-22h0m-28 28h0m29-60h0m33 30h0m-188 8h0m120-210h0m23 8h0m184 26h0m-264 193h0m136-81h0m-24-90h0m-148 29h0m-5 39h0m114 71h0m25-206h0m-147 87h0m205 13h0m-24-104h0m-148 211h0m52-163h0m83 18h0m3 4h0m-11 141h0m56-90h0"/>
<path class="b" d="M299 317h0m48-43h0m-73 74h0m-152-6h0m17-37h0m67-94h0m-86 169h0m191-159h0m-54 141h0m59-120h0m-193 28h0m99-80h0m73 186h0m30-100h0m20-49h0m-47-22h0m-26 133h0m-106 67h0m43-9h0m56-25h0m78-131h0m-45-91h0m-114-13h0m92 204h0m70-7h0m-147-154h0m138 98h0m12-40h0m-33 108h0m-44 30h0m-94-247h0m119 202h0m-103 86h0m195-240h0m-226 202h0m2-142h0m-27 109h0m202-123h0m-189-56h0m9 82h0m42-66h0m53 222h0m4-34h0m92-70h0m-240 5h0m32 46h0m132-186h0m31-4h0m-145 234h0m46 32h0m-81-186h0m155 102h0m-180-89h0m225 106h0m-59 15h0m-50 28h0m114-152h0m-58-61h0m-154 199h0m90 21h0m90-185h0m-79 174h0m53-207h0m14-56h0m18-29h0m-173 138h0m19 6h0m147 114h0m-162-48h0m149-190h0m-120 116h0m150 126h0m13-208h0m-4 152h0m-172 88h0m186-171h0m-165 154h0m-33-64h0m150-187h0m-142 230h0m124 21h0m-91 19h0m-37-25h0m74-169h0m-115 125h0m35-22h0m188-107h0m-133 23h0m-90 170h0m-7-194h0m165 166h0m-54 34h0m-63-112h0m128 77h0m-165-59h0m143-95h0m73-20h0m-132 29h0m63-47h0m-29 249h0m69-204h0m4 71h0m43-19h0m-131 137h0m79-32h0m-18-175h0m-111 181h0m180-97h0m-44 16h0m-246 37h0m250-130h0m-6 119h0m-170 52h0m158 16h0m5-183h0m-25-5h0m41-25h0m-33 21h0m-180 112h0m78 51h0m2-131h0m156-5h0m-210 67h0m144 84h0m40-93h0m-124-56h0m118 87h0m-131 88h0m78-196h0m-105 201h0m21-221h0m142-13h0m37 11h0m-41 38h0m-37 130h0m-48-160h0m-27 197h0m78-34h0m66-174h0m-28 14h0m-114 185h0m-57-39h0m213-138h0m-166 224h0m160-133h0m-174 59h0m-44-49h0m53 114h0m174-168h0m-200 45h0"/>
<path class="b" d="M186 401h0m87-225h0m15 27h0m-102 182h0m93-173h0m-52 186h0m-19-13h0m105-57h0m15-53h0m-159 93h0m-10-8h0m134 27h0m-156-71h0m154-80h0m-165 88h0m101 86h0m49-281h0m-28 81h0m-80-11h0m-14 166h0m163-155h0m-48 193h0m55-169h0m-9 114h0m-171-68h0m124-69h0m34 26h0m-191 159h0m-56 82h0m274-194h0m-143-80h0m-45 171h0m26 9h0m96-230h0m-125 132h0m194-72h0m-132 184h0m-75-53h0m168 13h0m67-115h0m-142-59h0m15 18h0m79 32h0m-10 102h0m-30-162h0m-115 185h0m122-180h0m-42 206h0m45-20h0m-83 59h0m-28 5h0m-95-124h0m26 60h0m230-50h0m-170-81h0m129-44h0m-167 151h0m211-11h0m-40-105h0m-190 154h0m136 7h0m-20-259h0m99 127h0m-14 56h0m-175-87h0m145-49h0m-46-2h0m-34 9h0m67-23h0m-174 258h0m77-30h0m-24-29h0m134-5h0m62-256h0m-169 166h0m2 144h0m106-26h0m-157-84h0m146-85h0m61-41h0m-123 261h0m-31-43h0m98-43h0m105-181h0m-171 241h0m66-46h0m-240 45h0m267-188h0m29 150h0m22-96h0m0 2h0m-64-66h0m-127 25h0m-15 115h0m151-129h0m22 70h0m-172 13h0m97-88h0m-4-4h0m-107 77h0m182-70h0m38 113h0m-47-102h0m4 106h0m10-16h0m-18-1h0m-3 34h0m48-132h0m-93-7h0m65 9h0m-173 121h0m-17-66h0m245 119h0m-69-167h0m-37-22h0m-62 179h0m59-191h0m-18 13h0m4 169h0m49-148h0m-112 165h0m113-102h0m-117 103h0m115-158h0m6-11h0m-94 181h0m11-189h0m-58-15h0m27 36h0m114-23h0m3 207h0m28-172h0m-203 80h0m140 32h0m-183-68h0m90 95h0m-71 11h0m38-85h0m45-84h0m-45 68h0m154 2h0m12-8h0m11 13h0m75-103h0m-123 144h0m121-127h0m-101 80h0m-131 84h0m36-181h0m167 55h0"/>
<path class="b" d="M27 365h0m253 9h0m19-80h0m11 107h0m-135 5h0m126-175h0m-4 104h0m13-18h0m-165-21h0m22-35h0m18-29h0m0 5h0m38 180h0m69-193h0m-197 104h0m17 24h0m196 112h0m3-229h0m-177 31h0m-16 38h0m-1-8h0m94-133h0m105 182h0m-223-44h0m84 90h0m-62-29h0m212-111h0m31 142h0m-2-56h0m-223-25h0m73 94h0m-78-30h0m166-179h0m-128-13h0m197 54h0m32-49h0m-221-5h0m-47 223h0m204-235h0m-225 217h0m235-173h0m-251 93h0m120-140h0m162 75h0m-39 49h0m-110-80h0m-11 200h0m71-54h0m-89 29h0m-61-150h0m5 42h0m173-51h0m17-23h0m-189 168h0m109-159h0m-63 182h0m131-235h0m-236 192h0m198-182h0m-141 108h0m203-19h0m-25-28h0m-38 152h0m-77 75h0m32-271h0m-98 165h0m138-15h0m-67-134h0m58-20h0m65 111h0m-3-50h0m0-99h0m5 41h0m-232 157h0m208-159h0m-117 212h0m114-165h0m-174 40h0m165 48h0m71-48h0m-237 95h0m22-119h0m3-16h0m186-83h0m-234 280h0m178-94h0m70-46h0m-17-31h0m-49-87h0m59 114h0m-108 109h0m-20-188h0m-43-11h0m44 3h0m-76 144h0m13 63h0m21-182h0m-21 248h0m99-110h0m-69-144h0m197 84h0m-76 27h0m-128 56h0m69 62h0m131-220h0m-20 2h0m-246 92h0m111-126h0m129 48h0m-28 3h0m-96-79h0m92 38h0m-162 27h0m35-25h0m21-98h0m-71 211h0m155-180h0m39 146h0m-70 83h0m-107 19h0m-10-29h0m-111-28h0m195-121h0m65 202h0m-182 52h0m206-126h0m-74 31h0m-136 1h0m254-110h0m-116-95h0m106 165h0m-175 89h0m199-237h0m-247 175h0m136-1h0m-81-182h0m26-8h0m-54 207h0m131-68h0m-106 83h0m84-192h0m-84 31h0m84-33h0m-37 14h0m67 139h0m-9 32h0m68 31h0m-128-22h0m-91-52h0m238-97h0"/>
<path class="b" d="M312 312h0m-43 32h0m-128 4h0m127-134h0m-3-8h0m1 210h0m39-104h0m-182 4h0m87 94h0m200-197h0m-82-65h0m-200 194h0m57-138h0m-37 189h0m168-99h0m10-28h0m-191-56h0m181 6h0m34 2h0m-124 169h0m-73-15h0m47 66h0m123-266h0m1 76h0m-176 172h0m183-138h0m-173 150h0m-16-7h0m2-62h0m10 14h0m172-58h0m-44-104h0m14 136h0m-83-137h0m70 178h0m9-104h0m-185 37h0m135-142h0m-55 28h0m-112 115h0m66-23h0m147-132h0m-4 190h0m-18-183h0m-161 166h0m194-129h0m-156 146h0m-10-58h0m160-120h0m20 158h0m-178 22h0m37 33h0m-62-141h0m96-42h0m70-41h0m-81 38h0m23-75h0m66 215h0m178 66h0m-84-185h0m-143-24h0m-38 235h0m32-26h0m85-188h0m81 40h0m-177 126h0m-47-259h0m125 181h0m-130 68h0m-47-82h0m156-118h0m14 179h0m-73-148h0m-73 67h0m100 106h0m-126-14h0m145-165h0m29-36h0m41 118h0m-38-153h0m-24 50h0m24 33h0m19 72h0m-168 8h0m136 42h0m-99-120h0m-3 173h0m93 12h0m-137-130h0m-24 135h0m31-134h0m153 26h0m-3 32h0m-107 60h0m-9 1h0m142-173h0m-12 115h0m13-11h0m-75-156h0m51 122h0m-12-124h0m-121 68h0m144 99h0m-65-123h0m21 199h0m42-116h0m-166-4h0m207-133h0m-91 51h0m-92-21h0m142 36h0m-59 235h0m50-266h0m-152 183h0m22 56h0m-42-108h0m46-102h0m-12 35h0m134-49h0m-97-26h0m-29 176h0m43-153h0m35-51h0m43 46h0m-150 185h0m104-180h0m4 264h0m38-83h0m-80-178h0m126 81h0m-189 85h0m51-162h0m-67 231h0m138-237h0m64-1h0m-184 159h0m154-79h0m-63-77h0m120 12h0m-227 208h0m207-228h0m-52 160h0m-70-181h0m39-9h0m-98 193h0m164-51h0m-176 21h0m27-103h0m-46 144h0m229-118h0"/>
<path class="s" d="M205 433h0m160-228h0m-166 195h0m-86-194h0m115-24h0m78 156h0m-8-132h0m-18 169h0m44-97h0m-70-74h0m-12 11h0m26-20h0m-62 211h0m76 10h0m-144-97h0m202-95h0m-23 28h0m-108 189h0m40-241h0m-49-7h0m60-39h0m-147 258h0m152-208h0m-79-48h0m129 174h0m-84 56h0m105-154h0m-15 111h0m-105 46h0m131-151h0m-219 45h0m147-70h0m-139 52h0m40-29h0m49 167h0m44-189h0m-99 198h0m54-262h0m-58 92h0m-41 123h0m143-4h0m1-168h0m119 102h0m-33-81h0m-187 155h0m158-67h0m-52 36h0m39-157h0m-160 52h0m99 152h0m61-57h0m-169 18h0m178-163h0m-178 117h0m167 158h0m-213-110h0m254 47h0m-172 44h0m-56-78h0m148 47h0m-107-38h0m100-178h0m17 166h0m5 18h0m-70 27h0m-55-179h0m-82 130h0m88 34h0m188-300h0m-275 236h0m225-201h0m37 112h0m-151 191h0m171-156h0m-86-64h0m-52 244h0m-4-323h0m51 266h0m-119-131h0m140 49h0m-34-147h0m-27 232h0m-64-153h0m61-48h0m25 15h0m-97 39h0m1-24h0m-8 209h0m184-298h0m-216 221h0m212-182h0m-133 17h0m12-30h0m49 236h0m37-7h0m-36-17h0m104-176h0m-247 141h0m160 62h0m-19-41h0m-8-187h0m87-12h0m-208 209h0m143-161h0m-23-10h0m-9-43h0m-94 251h0m163-115h0m-140 128h0m109-77h0m-91 40h0m75-205h0m109 85h0m-101-72h0m-55-8h0m17 14h0m68-85h0m-108 281h0m-49-13h0m211-139h0m-92-27h0m66-54h0m9 37h0m-59 164h0m34 107h0m-1-243h0m-98 163h0m28 9h0m-100-65h0m166-148h0m8 164h0m-154-101h0m108-46h0m27 17h0m36-18h0m-111 192h0m114-144h0m-194 109h0m204-90h0m-244 76h0m162 16h0m-120-65h0m178-80h0m-154 39h0m-22 27h0m127 59h0m-12-163h0m-119 188h0m87-160h0m21 192h0m-96-153h0m166 19h0m-98 125h0m-68 6h0m-33-97h0m228-71h0m3 15h0m-267 119h0m144-153h0m110 67h0m-127 138h0m-135-160h0m224 85h0m40-75h0m-159-55h0m141-29h0m-163 215h0m-94-63h0m-7 72h0m237-109h0m-124-121h0m26 252h0m60-51h0m23-25h0m-148-28h0m65 68h0m148-129h0m-73 147h0m0-66h0m-23-146h0m85 66h0m-38 35h0m43 48h0m-22-121h0m-220 64h0m-46 66h0m187 47h0m-33 33h0m-62-95h0m151-20h0m25-47h0m74-114h0m-248 233h0m-90 42h0m169-252h0m-3 11h0m140-6h0m-100 204h0m-133-18h0m59 73h0m-5-228h0m91-27h0m-39 197h0m116-113h0m-180-87h0m124 255h0m-255-5h0m167-223h0m82 127h0m-252-8h0m228-135h0m-105 182h0m135-152h0m-158 31h0m-40 39h0m236-72h0m-208 163h0m5-50h0m166-30h0m44-125h0m-42 117h0m-119 109h0m-37-132h0m1 31h0m-73 44h0m259-83h0m-28-52h0m-28 152h0m68-147h0m-211 103h0m-16 2h0m-3-55h0m193 99h0m126-228h0m-264 289h0m123-226h0m-12 136h0m-3-166h0m25 166h0m-132-79h0m149-70h0m-125 34h0m-100 181h0m48-157h0m86 168h0m-11-205h0m-81 112h0m112 42h0m130-110h0m-191-57h0m91-19h0m-59-2h0m37-118h0m-156 309h0m243-139h0m-203 184h0m185-134h0m-150-91h0m-28 68h0m-3-30h0m166 2h0m-2-19h0m-59-16h0m26 2h0m46 149h0m-47-138h0m35-38h0m-192 208h0m182-160h0m-149 12h0m-44-48h0m219 20h0m-174 35h0m118 134h0m47-157h0m-17 108h0m-92-139h0m1 293h0m42-67h0m53-116h0m-98-101h0m-84 111h0m16 60h0m25-3h0m34-120h0m-67 14h0m207-91h0m-180 233h0m-59-31h0m43-26h0m58-105h0m243 26h0m-198-47h0m18-11h0m-10-44h0m17 46h0m68 115h0m-88-149h0m54 119h0m-153 37h0m152-125h0m-130 59h0m-4 122h0m130-40h0m-140-128h0m49 184h0m119-104h0m-265 185h0m279-217h0m-17-28h0m39 28h0m-196-30h0m156 105h0m-174-1h0m-8 9h0m99-144h0m29 9h0m67 169h0m-96-175h0m35 5h0m9 143h0m-2-307h0m-132 299h0m205-68h0m-189 128h0m12-10h0m-8-202h0m115 162h0m-31 12h0m64-56h0m-175 1h0m20-73h0m201 74h0m-127 77h0m96-148h0m-111-36h0m-88 212h0m49-21h0m-39-113h0m-11 79h0m188-36h0m-56 65h0m-141-102h0m142 148h0m78-117h0m-242-52h0m181-138h0m-70-6h0m171 156h0m-256 66h0m58-124h0m-20 16h0m73-40h0m90 39h0m-43 125h0m-151-24h0m-54 60h0m282-185h0m-46 78h0m41-54h0m-187-43h0m168 52h0m-52 127h0m19-61h0m-202 128h0m25-74h0m-57 76h0m208-94h0m23-15h0m-32 49h0m-51 21h0m-79-74h0m217 19h0m-110 107h0m-71-48h0m63-236h0m-4 246h0m145-130h0m-254 72h0m14-27h0m160-23h0m30 5h0m18-190h0m-82 43h0m59 18h0m24 8h0m-181 200h0m-15-140h0m176-12h0m-163-19h0m-57 113h0m90-96h0m136 5h0m-11 9h0m-68 115h0m67-84h0m-107-101h0m78 182h0m74-159h0m-255 161h0"/>
<path class="s" d="M305 296h0m-173 70h0m164-66h0m-58-95h0m76 153h0m-203 50h0m161-239h0m30 51h0m-10 73h0m-12 48h0m-3 29h0m132-124h0m-213 137h0m49 36h0m-118 7h0m19-151h0m138 130h0m-78-13h0m-34-157h0m116-30h0m-44 168h0m54-61h0m60-10h0m-33-37h0m80-49h0m-275 26h0m9 143h0m143 1h0m-150-100h0m11 65h0m-55-21h0m0 79h0m192-55h0m-109-219h0m-12 291h0m-28-101h0m140-179h0m74 230h0m74-164h0m-212-21h0m126 177h0m-159 35h0m156-57h0m-254 77h0m69-229h0m180 68h0m-120-62h0m140 13h0m-18 136h0m-225-77h0m163 92h0m-94-148h0m81 159h0m144-174h0m-161 6h0m-24-13h0m69-9h0m38 30h0m-94-22h0m-104 112h0m31-82h0m155-90h0m-28 74h0m60 92h0m-193 2h0m71-137h0m-73 100h0m198 57h0m-134 68h0m117-146h0m-160 11h0m97 113h0m-78-152h0m138 80h0m-21-65h0m59 72h0m-124-99h0m-113 122h0m189-1h0m-19-23h0m-160-26h0m16 118h0m72-178h0m41 162h0m-92-2h0m43-165h0m-20-53h0m53 14h0m-115 114h0m-5 31h0m210-105h0m-41 130h0m66-84h0m-166-54h0m-24 8h0m134 129h0m-49 64h0m-121-37h0m-5-99h0m82-106h0m-18 62h0m122-59h0m13 41h0m-142 213h0m77-23h0m61-45h0m-230 52h0m207-171h0m-9 4h0m-158 56h0m170-62h0m-32 154h0m-126-53h0m181-80h0m-46-96h0m40 149h0m-69 90h0m103-197h0m-94-26h0m-122 87h0m166-23h0m-135 155h0m48-236h0m94 47h0m82 158h0m-170 35h0m125-149h0m-140 178h0m-22-35h0m-50-72h0m13 51h0m3 5h0m159-59h0m35-136h0m-155 42h0m-175 88h0m283-16h0m-165-1h0m29 80h0m46 42h0m-8-198h0m-118 155h0m181-160h0m-17 199h0m27-272h0m25 294h0m-110-213h0m99-17h0m53-61h0m-106 252h0m64-95h0m-187-30h0m252-10h0m-128-69h0m63 107h0m-122 101h0m54 5h0m-153-8h0m80-18h0m122-12h0m10-129h0m-34 199h0m-121-248h0m-42 158h0m76-144h0m151 64h0m-237 11h0m83 125h0m130-63h0m-122-123h0m149-18h0m-161 216h0m132-113h0m58 39h0m-167-118h0m178 61h0m-71 81h0m-119 31h0m135-179h0m-117 11h0m103-27h0m54 71h0m-50 88h0m-153 33h0m105-215h0m-23 220h0m-120-67h0m60-188h0m146 82h0m8-37h0m-183 72h0m163 34h0m-176 27h0m186-10h0m9-112h0m-29 191h0m-131-7h0m166-86h0m-33 6h0m39 0h0m-55-122h0m15 60h0m-66-29h0m-9 4h0m21-16h0m57 9h0m-132 168h0m251-160h0m-249 157h0m169-67h0m-180 160h0m141-229h0m-148 149h0m140-180h0m-18-18h0m53 82h0m-17-61h0m-148 40h0m-10 4h0m105-37h0m-89 44h0m140 90h0m-117-153h0m106 41h0m96-58h0m-130 184h0m24-24h0m-58-190h0m-89 203h0m13-168h0m138-9h0m-168 158h0m153-127h0m7 10h0m62-78h0m-316 297h0m142-54h0m63 70h0m-100-185h0m75-66h0m108 93h0m-162-44h0m16 2h0m13 206h0m88-240h0m-90 171h0m-18-139h0m-53 44h0m-20-48h0m141-49h0m102-5h0m-87 6h0m-114-12h0m171 168h0m-15 2h0m-3 23h0m-180 51h0m226-222h0m-90 237h0m84-179h0m-101-73h0m-29 48h0m50 179h0m87-83h0m-205 36h0m100 19h0m75-207h0m-146 71h0m135-51h0m-90-18h0m-70 193h0m42 12h0m-4-171h0m108 164h0m-106-141h0m-24 100h0m108 23h0m-117-45h0m174-89h0m26 30h0m-205 75h0m-9 10h0m97 48h0m103-147h0m-184 48h0m145 46h0m79-44h0m-87-90h0m73 27h0m-76-29h0m-23-4h0m147 69h0m-204 174h0m81-46h0m83-149h0m-161 141h0m190-82h0m-126 61h0m31 12h0m-128-127h0m141 55h0m-8 15h0m-184 52h0m0-13h0m211-82h0m-161-31h0m179-98h0m-206 138h0m-3 44h0m72 62h0m89-190h0m-32 160h0m-67-150h0m-47 132h0m153 11h0m44-132h0m-42 63h0m-145-116h0m143 58h0m-112 205h0m120-140h0m-83-82h0m114 19h0m-174 18h0m-70 137h0m199-70h0m121-81h0m-184-22h0m107 83h0m-120-100h0m-180 278h0m284-231h0m4 87h0m76-89h0m-262 117h0m19 10h0m5-7h0m93-176h0m8 21h0m62 89h0m-69 74h0m40-277h0m1 129h0m-153 130h0m129-182h0m-65 20h0m15 25h0m67 128h0m37-204h0m9 19h0m-223 286h0m250-79h0m-219-95h0m105-118h0m86 140h0m-200-82h0m151 133h0m-53-203h0m89 66h0m-7 18h0m-23 107h0m31-88h0m-158 193h0m86-49h0m-117-40h0m4-25h0m25 43h0m-57 28h0m40-33h0m160-147h0m-152 39h0m-30 43h0m153-81h0m-9 0h0m-66-57h0m38 229h0m40-38h0m18-115h0m-32-50h0m70 61h0m-191 70h0m151-6h0m-24-129h0m-162 256h0m201-126h0m-168-25h0m-25 108h0m50-222h0m6 223h0m18-197h0m133 122h0m-173-62h0m144-57h0m-4 186h0m16-207h0m3 159h0m19-70h0m-4-34h0m-167 3h0m131-52h0"/>
</g>
<path d="M19.8 39.5L20.6 39.9L21.2 39.5L23.1 38.9L25.5 37.1L25.5 37.1L27.9 35.7L29.3 34.7L30.3 32.8L30.6 32.3L32 29.9L32.8 27.9L32.9 27.5L32.8 27.2L32.3 25.1L32 22.8L30.3 21.4L28.8 20.4L27.9 19.6L25.5 19.2L23.1 19.7L22.4 20.4L20.6 21.2L18.5 22.8L18.2 23L16 25.1L15.8 25.4L14.2 27.5L13.4 29.9L13.4 29.9L12.6 32.3L13.4 33.4L14 34.7L14.6 37.1L15.8 38.1L18.2 39L19.8 39.5Z" fill="#fff" fill-rule="evenodd"/>
<path d="M14.56 31.14h2.43v2.4h-2.43zM14.56 28.74h2.43v2.4h-2.43zM16.99 23.95h2.43v2.4h-2.43zM19.42 35.92h2.43v2.4h-2.43zM19.42 21.55h2.43v2.4h-2.43zM21.85 35.92h2.43v2.4h-2.43zM21.85 21.55h2.43v2.4h-2.43zM24.27 33.53h2.43v2.4h-2.43zM24.27 21.55h2.43v2.4h-2.43zM26.7 31.14h2.43v2.4h-2.43zM26.7 21.55h2.43v2.4h-2.43zM29.13 26.34h2.43v2.4h-2.43zM29.13 23.95h2.43v2.4h-2.43z" fill="#000" fill-opacity="0.06"/>
<path d="M16.99 33.53h2.43v2.4h-2.43zM16.99 26.34h2.43v2.4h-2.43zM21.85 33.53h2.43v2.4h-2.43zM26.7 28.74h2.43v2.4h-2.43zM26.7 23.95h2.43v2.4h-2.43z" fill="#000" fill-opacity="0.12"/>
<path d="M16.99 31.14h2.43v2.4h-2.43zM19.42 33.53h2.43v2.4h-2.43zM19.42 23.95h2.43v2.4h-2.43zM26.7 26.34h2.43v2.4h-2.43z" fill="#000" fill-opacity="0.19"/>
<path d="M16.99 28.74h2.43v2.4h-2.43zM24.27 31.14h2.43v2.4h-2.43z" fill="#000" fill-opacity="0.25"/>
<path d="M21.85 23.95h2.43v2.4h-2.43zM24.27 23.95h2.43v2.4h-2.43z" fill="#000" fill-opacity="0.31"/>
<path d="M19.42 31.14h2.43v2.4h-2.43zM19.42 26.34h2.43v2.4h-2.43z" fill="#000" fill-opacity="0.44"/>
<path d="M21.85 31.14h2.43v2.4h-2.43zM24.27 28.74h2.43v2.4h-2.43z" fill="#000" fill-opacity="0.5"/>
<path d="M24.27 26.34h2.43v2.4h-2.43z" fill="#000" fill-opacity="0.56"/>
<path d="M19.42 28.74h2.43v2.4h-2.43z" fill="#000" fill-opacity="0.69"/>
<path d="M21.85 26.34h2.43v2.4h-2.43z" fill="#000" fill-opacity="0.75"/>
<path d="M21.85 28.74h2.43v2.4h-2.43z" fill="#000" fill-opacity="1"/>
<path class="c" d="M19.8 39.5L20.6 39.9L21.2 39.5L23.1 38.9L25.5 37.1L25.5 37.1L27.9 35.7L29.3 34.7L30.3 32.8L30.6 32.3L32 29.9L32.8 27.9L32.9 27.5L32.8 27.2L32.3 25.1L32 22.8L30.3 21.4L28.8 20.4L27.9 19.6L25.5 19.2L23.1 19.7L22.4 20.4L20.6 21.2L18.5 22.8L18.2 23L16 25.1L15.8 25.4L14.2 27.5L13.4 29.9L13.4 29.9L12.6 32.3L13.4 33.4L14 34.7L14.6 37.1L15.8 38.1L18.2 39L19.8 39.5Z"/>
<path class="c" d="M16.9 34.7L18.2 35.9L20.6 36.9L23.1 36.5L25.5 34.7L25.5 34.7L27.8 32.3L27.9 32.2L29.4 29.9L30.2 27.5L29.7 25.1L27.9 23.1L27.2 22.8L25.5 21.8L23.1 22L21.6 22.8L20.6 23.1L18.7 25.1L18.2 25.7L16.6 27.5L16 29.9L15.8 32.3L16.9 34.7Z"/>
<path class="c" d="M19.5 32.3L20.6 33.1L23.1 33.1L24.1 32.3L25.5 31.1L26.3 29.9L27 27.5L25.5 25.1L23.1 25.3L20.6 26.7L19.8 27.5L18.9 29.9L19.5 32.3Z"/>
<path class="c" d="M21.5 29.9L23.1 30.7L23.9 29.9L23.1 27.5L21.5 29.9Z"/>
</g>
<g transform="translate(156.1 203.7)" clip-path="url(#cp)">
<g transform="scale(.1)">
<path class="b" d="M125 193h0m53 218h0m-88-155h0m29 15h0m126 154h0m25-73h0m-24-115h0m-83-68h0m3 10h0m-89 50h0m213 31h0m-15-14h0m-38 141h0m-66-196h0m126 144h0m-179 1h0m-7 29h0m161-183h0m-14 48h0m1-27h0m24 207h0m-40-187h0m7 186h0m-113-67h0m164-75h0m-133-54h0m127 131h0m-99-132h0m30 192h0m-117-108h0m174 26h0m-187-76h0m0 52h0m141 156h0m-11-243h0m-128 173h0m118-221h0m-43 255h0m9-208h0m88 117h0m-2 1h0m-156-17h0m78-223h0m45 123h0m-1-3h0m-74 171h0m-19-148h0m46-23h0m-20-51h0m85 246h0m22-114h0m-23 89h0m-165-70h0m75 69h0m68 6h0m-28 15h0m-75-169h0m69 164h0m-156-103h0m129 85h0m89-15h0m60-70h0m-152 75h0m128-82h0m-199-39h0m173 47h0m38-12h0m-111 120h0m-38-28h0m125-51h0m-74-109h0m11-24h0m99 213h0m-85-2h0m-101-55h0m55 46h0m130-86h0m-158-126h0m0 185h0m10 5h0m14-155h0m74 172h0m55 3h0m40-183h0m-229 10h0m67-39h0m-87 113h0m104-75h0m-79 141h0m125-137h0m-153 96h0m69 85h0m-22-13h0m159-180h0m-183 4h0m83 220h0m65-223h0m-104 169h0m-11-208h0m-18 30h0m-34 249h0m232-280h0m-194 181h0m-4-6h0m-27-69h0m172 75h0m-45-186h0m-144 162h0m-25-22h0m239 70h0m-34-29h0m22-5h0m-185-56h0m158-7h0m13-36h0m-26-126h0m-70 101h0m97 54h0m-145 81h0m177 35h0m-211-127h0m242-35h0m-229-22h0m108 185h0m62-100h0m-130 170h0m-64-261h0m81 210h0m-20-7h0m-83-85h0m207-60h0m-134-33h0m-27 36h0m171 46h0m-186 30h0m88-118h0m118 192h0m-140-199h0m8 6h0m37-14h0m-72 179h0m63-161h0m65 88h0m28-23h0m-157 87h0m-45-97h0m169 151h0m-108-57h0m-49-135h0m60 180h0"/>
<path class="b" d="M281 352h0m-176 10h0m186-51h0m-134-167h0m9 63h0m-134 0h0m87 56h0m71 128h0m-32-13h0m-16-155h0m146 113h0m-74 60h0m-76-170h0m-41 97h0m62 41h0m121-19h0m-97-144h0m64 167h0m41-131h0m-17 44h0m-20 121h0m28-122h0m-57-77h0m90 181h0m-191 2h0m39-191h0m95 6h0m-59 9h0m-159 32h0m97-31h0m185 65h0m-12-21h0m-185-119h0m132 67h0m-95 10h0m11-1h0m-47 8h0m-19-63h0m17 117h0m-27 35h0m7-86h0m18 176h0m-69-99h0m136-98h0m82 90h0m61-5h0m-97-95h0m-36 18h0m38-31h0m-10 6h0m-91 173h0m137-53h0m41 62h0m-119-211h0m7 252h0m-20-196h0m50 3h0m-97 168h0m-99-134h0m154 153h0m-23-209h0m-81 79h0m147-65h0m-92 251h0m-67-134h0m65-90h0m10 149h0m100-160h0m-91 143h0m62-187h0m59 157h0m-63 66h0m63-22h0m-27-150h0m20 116h0m-105 35h0m102-231h0m-171 237h0m45-51h0m55 60h0m-71-33h0m-82-59h0m78 15h0m159-3h0m-141 40h0m-11-163h0m178 83h0m14-44h0m-147-80h0m72 211h0m11-140h0m-42 164h0m90-46h0m-125 132h0m80-83h0m90-20h0m-31-157h0m-229 117h0m33-61h0m102-84h0m-72 210h0m16-2h0m-6-180h0m36 206h0m75-121h0m-17 85h0m-14-189h0m-156 107h0m39-108h0m187 181h0m-167-164h0m24-10h0m43 16h0m42 191h0m-109-203h0m17-17h0m107 66h0m33 57h0m-160-74h0m20 166h0m69 71h0m-95-120h0m71 37h0m40-173h0m-155 36h0m130 155h0m-186-63h0m260-1h0m-194-31h0m-42-84h0m37-13h0m147 234h0m-116-223h0m168 95h0m-32-153h0m-11 215h0m97-81h0m-188-99h0m139 162h0m8-119h0m-221 114h0m125 46h0m-29-253h0m108 93h0m-181 138h0m-9-44h0m5 119h0m123-366h0m-108 183h0m40 91h0"/>
<path class="b" d="M50 266h0m58 34h0m71-125h0m5 210h0m-42-152h0m58-56h0m-34 245h0m117-100h0m-63-143h0m-27 237h0m-8-261h0m-21 53h0m156 61h0m-187 77h0m62-174h0m34 36h0m-16-2h0m58 137h0m9-37h0m-123-112h0m112 66h0m23 102h0m-21-167h0m-10 164h0m-207-159h0m205 38h0m-61-23h0m-115 164h0m-2-149h0m248-32h0m-187-13h0m179 3h0m-164 11h0m67-20h0m71 63h0m-176 47h0m190-56h0m-83-91h0m-94 231h0m12-23h0m61 40h0m-27-179h0m-34 12h0m92-24h0m-120 133h0m-10 60h0m219-21h0m-41-133h0m-4 14h0m-143 95h0m139-5h0m-18-125h0m-61 262h0m91-209h0m-148-60h0m144 90h0m-151-135h0m155 18h0m-177 128h0m9 99h0m145-40h0m-123 1h0m145-60h0m23-23h0m-166 62h0m102 53h0m-155-71h0m2-102h0m26-64h0m25 70h0m153 43h0m-157 62h0m-33-43h0m178 26h0m-25 49h0m7-126h0m31 74h0m-196-79h0m193 175h0m-179-82h0m188-48h0m-141-151h0m2 63h0m58-29h0m-151 25h0m145 11h0m-146 137h0m240-17h0m-171 65h0m-31-30h0m116 52h0m-88-75h0m137-63h0m-49-66h0m53 35h0m-98-35h0m-61 53h0m3-107h0m46 14h0m16 298h0m-46-240h0m46-40h0m100 118h0m-220 24h0m39-14h0m145 49h0m-135-132h0m112-26h0m-105 38h0m-34 163h0m113-9h0m-65-194h0m-22 119h0m97-116h0m35 26h0m36 1h0m-40 153h0m-134-124h0m118-48h0m-91 130h0m177-133h0m-96-35h0m-100 84h0m-48-26h0m71-3h0m76 159h0m37-153h0m7 187h0m41-138h0m-149-116h0m-24 46h0m156 96h0m-134 54h0m-19-218h0m154 118h0m-8 56h0m85-12h0m-159 167h0m69-153h0m29-50h0m-157-53h0m28 197h0m-64-112h0m60 103h0m128-187h0m-64 173h0m-100-23h0m40-203h0m98 117h0m-56-85h0"/>
<path class="b" d="M282 284h0m-102-145h0m22 13h0m-92 20h0m122 225h0m-91-56h0m-52-5h0m257 16h0m-243-15h0m105 60h0m-97-150h0m7 138h0m36-210h0m13 186h0m113-100h0m9 18h0m7-84h0m-178 91h0m129-101h0m22 159h0m-155-67h0m-4-35h0m109-49h0m-124 83h0m47 105h0m132-58h0m-158-59h0m17-92h0m11 59h0m83 166h0m-62-37h0m-46-127h0m23-46h0m102 215h0m-45-192h0m-82 156h0m3-180h0m7 204h0m73-178h0m-95 40h0m-8 14h0m244 33h0m-199-126h0m-17 205h0m67-173h0m78 143h0m-13-110h0m-70 179h0m-95-166h0m29 168h0m69-208h0m64 159h0m75-32h0m-188-111h0m18-22h0m113 50h0m-172 104h0m70-212h0m135 156h0m-68-163h0m32 79h0m-31-16h0m-91 184h0m-47-127h0m32 110h0m-27-39h0m164-27h0m-112-114h0m97 36h0m-5 9h0m84 27h0m-173 107h0m10-218h0m98 142h0m29 26h0m-26-67h0m12 84h0m-137 35h0m64-236h0m-138 116h0m201 69h0m4-49h0m-42-69h0m-39 11h0m20-6h0m-1-15h0m53-10h0m-138 56h0m56-32h0m72 179h0m26-39h0m0-52h0m-16 43h0m18-6h0m-176-113h0m-6 77h0m120 114h0m-151-127h0m6-1h0m64 59h0m-32-72h0m170-36h0m-104-21h0m-28-27h0m60 224h0m64-109h0m-13 78h0m-115-190h0m104 32h0m-45-47h0m-78 164h0m9-109h0m-28 9h0m166 66h0m-65 98h0m5-197h0m-54 178h0m47-173h0m68 20h0m-176 18h0m73 145h0m-23-211h0m-48 137h0m180-96h0m-182 46h0m152-67h0m-132 31h0m-30-18h0m18 102h0m-35-14h0m160 83h0m-68-242h0m117 131h0m18 58h0m-194-139h0m125 9h0m53 89h0m22 29h0m-196-93h0m170-87h0m-177 215h0m126 60h0m27-18h0m-106-200h0m78 215h0m-22-196h0m-51 149h0m133-104h0m7 66h0m31-80h0"/>
<path class="b" d="M176 195h0m-33 23h0m-12 15h0m69-38h0m49-39h0m-61 241h0m114-310h0m17 114h0m-204 111h0m156 1h0m-26 49h0m-15-158h0m-73 10h0m-55 38h0m207 75h0m-198-74h0m191 106h0m-28 3h0m-247-33h0m219 64h0m-133-86h0m195-65h0m-271-27h0m179 193h0m-62 1h0m-3 4h0m46-202h0m85 114h0m23 79h0m-109-213h0m-48 224h0m120-182h0m-184 21h0m131-59h0m-99 107h0m171-81h0m-72-45h0m-87 60h0m154 124h0m-32 19h0m-72-176h0m89 152h0m-5-132h0m6 74h0m-75-83h0m-72-9h0m-6 21h0m9 123h0m30-147h0m138-11h0m-155 149h0m-5 67h0m25-28h0m6 55h0m-62-257h0m93 18h0m110 12h0m-193 116h0m159-26h0m-110-97h0m24 235h0m131-143h0m-23 20h0m-79 100h0m-121-140h0m126 112h0m-36-169h0m-157 13h0m217 204h0m-63-33h0m-18 10h0m42-229h0m-158 76h0m315-23h0m-283 30h0m211 8h0m-211 22h0m26-42h0m126-70h0m-27 34h0m-95-18h0m112 214h0m-89-185h0m75-17h0m87 91h0m-142 62h0m147-89h0m-152-108h0m-49 100h0m150-35h0m-68 224h0m-80-91h0m94 25h0m-63-47h0m-44-68h0m91 127h0m88-185h0m59 52h0m-193 86h0m90 37h0m61-90h0m-119 80h0m179-146h0m-211-54h0m0 32h0m182 138h0m-138-194h0m-28 237h0m5-4h0m22-267h0m40 342h0m-137-184h0m5 60h0m123-155h0m10 248h0m-69-52h0m22-8h0m48-181h0m-96 92h0m23 59h0m4-6h0m46-274h0m-106 362h0m175-189h0m-162 14h0m103-191h0m76 205h0m-160 10h0m153 11h0m-145 61h0m141-164h0m-150 92h0m-1-113h0m173 133h0m-107-162h0m52 69h0m39 24h0m-133 147h0m162-133h0m-177-10h0m-33 96h0m32-127h0m-17 137h0m-11-41h0m112-102h0m8-12h0m53 150h0m-167-111h0m48-18h0m-34 65h0"/>
<path class="b" d="M22 268h0m54 89h0m24 35h0m147-173h0m-125-81h0m124 274h0m97-57h0m-256-76h0m165-46h0m33 78h0m-167-6h0m140-69h0m17 124h0m18-15h0m-114-174h0m41 26h0m-113 113h0m173-3h0m-132 69h0m41-162h0m99 74h0m-18 8h0m29-18h0m-35 89h0m-152-70h0m162 15h0m-69-106h0m-81 149h0m4 27h0m171-159h0m-208 214h0m204-188h0m6 50h0m-84-126h0m-93 175h0m148-54h0m2-49h0m-202 60h0m81-102h0m136 119h0m-108-157h0m-61 138h0m28-125h0m-57 153h0m38-101h0m158 62h0m-178-94h0m258 76h0m-223 72h0m-134-53h0m264 25h0m-31 87h0m-52 34h0m95-89h0m-23-146h0m50 88h0m-41-25h0m-184 42h0m169-89h0m-41-48h0m-125 106h0m-5-82h0m3 142h0m74 27h0m24 41h0m46-12h0m-85-186h0m9 263h0m112-176h0m-163 49h0m32 73h0m-80-57h0m107-1h0m-55-26h0m216-31h0m-109-114h0m-176 261h0m57-113h0m189-79h0m-194 39h0m205-57h0m-64 168h0m-135-161h0m175 45h0m-85-76h0m40-28h0m-104-10h0m133 42h0m-118-2h0m111-31h0m-91 179h0m-5-166h0m-34 26h0m58 197h0m-50-269h0m139 297h0m-96-60h0m-62-91h0m10-51h0m-27 120h0m174-77h0m56-130h0m-191 70h0m-14-37h0m160 139h0m-135 69h0m115-10h0m-108-183h0m10 1h0m-59 159h0m148-159h0m26 60h0m10-47h0m-154 125h0m104-164h0m-89 185h0m-32-96h0m85-108h0m108 75h0m-164-3h0m30-40h0m41 206h0m85-95h0m-178 94h0m9-65h0m56-191h0m-68 130h0m156-45h0m-60-59h0m-7 16h0m81 146h0m-54-121h0m30 169h0m-100-188h0m43-5h0m-44 197h0m61-207h0m98 214h0m-43-38h0m1-101h0m6 55h0m-245-118h0m118 170h0m125-164h0m-142 22h0m-45 48h0m89 160h0m-65-125h0m36-114h0m148 276h0"/>
<path class="b" d="M228 389h0m48-194h0m-162 56h0m103-129h0m-140 245h0m168-131h0m-127 80h0m83 79h0m106-102h0m-21-64h0m-99-40h0m-12 200h0m177 11h0m-141-10h0m37-258h0m-52 80h0m73 97h0m-7 74h0m-94-176h0m113 43h0m-138 101h0m124-137h0m-128 160h0m131-98h0m10 58h0m-4-126h0m-84 177h0m-112-150h0m27 62h0m231-14h0m-290 50h0m45-151h0m7 89h0m5 2h0m33 82h0m133 42h0m-113-215h0m155 160h0m-174 43h0m0-156h0m-19 55h0m17-67h0m-49-89h0m146 74h0m35 134h0m19 32h0m-104-152h0m79-24h0m-119 47h0m83 164h0m31-167h0m-76-35h0m-89 81h0m148 114h0m-161-128h0m204 127h0m-39-34h0m-43 76h0m74-224h0m-69 176h0m5-207h0m106 166h0m-15-35h0m-70 100h0m-22-205h0m-91 134h0m188-9h0m-158-170h0m-34 177h0m153-124h0m10 43h0m-164 66h0m41-113h0m70 196h0m22-20h0m-138-111h0m147 127h0m-11-26h0m-12 10h0m11 12h0m64-156h0m-23-2h0m-78-74h0m89 260h0m-202-49h0m131 94h0m60-244h0m9 79h0m-181-78h0m43 137h0m115-163h0m-161 110h0m-90-12h0m101 51h0m20 14h0m-11-18h0m14-5h0m-15-114h0m158 127h0m-9 50h0m-91-195h0m23-26h0m2-27h0m-122 167h0m9 17h0m140 68h0m-124-74h0m-55 29h0m72-26h0m-28-5h0m62 35h0m-62-130h0m141-10h0m-40 177h0m-23-201h0m95 51h0m-84-43h0m90 30h0m-6 100h0m-147-107h0m-16 61h0m-15-36h0m9-24h0m46 150h0m120-108h0m44 81h0m-53-144h0m18 23h0m-208 25h0m72 105h0m-33-110h0m5 53h0m-69-83h0m58 108h0m75-133h0m-68 58h0m212 48h0m-85-73h0m-87-58h0m-51 167h0m165-27h0m5-173h0m-1 162h0m39-96h0m-231 70h0m77 83h0m81-189h0m-77 27h0m143 172h0m-63 24h0"/>
<path class="b" d="M224 453h0m13-62h0m7-169h0m23 43h0m-11 96h0m15-9h0m-86-183h0m-84 143h0m151 84h0m-100-16h0m18 38h0m-71-184h0m39-142h0m164 155h0m-150 124h0m-42-61h0m194-14h0m-122 115h0m64-45h0m-137-68h0m-27-10h0m127-81h0m-26-26h0m32-5h0m-93 33h0m111 232h0m-202-229h0m6 46h0m152 128h0m108-133h0m-121-42h0m83 25h0m-148 42h0m106 174h0m-142-206h0m222 156h0m-40 17h0m-2-42h0m-86-14h0m-45-15h0m0-115h0m120-6h0m-24-39h0m-86 148h0m149-86h0m-51-70h0m-29 211h0m-31-225h0m97 199h0m-139-27h0m25 34h0m-23-36h0m-10-118h0m49-13h0m101 121h0m-4-92h0m-104 135h0m-140-87h0m142 106h0m119-129h0m-5 96h0m-11-89h0m-165 1h0m102-89h0m40 56h0m-150 28h0m232 1h0m-149 145h0m-57-246h0m-22 158h0m105-220h0m-193 3h0m101 280h0m88-188h0m-124 38h0m122 188h0m-14-35h0m-97-132h0m28 8h0m-3-2h0m-7 113h0m74-223h0m-72 166h0m6 29h0m162-110h0m-73 149h0m77-129h0m-11 7h0m-47-70h0m101-18h0m55 70h0m-217 126h0m148-77h0m-29-7h0m-164-40h0m54-41h0m124-31h0m-255 57h0m148-117h0m28 271h0m-127-91h0m182 155h0m-64-246h0m-45 167h0m76 67h0m-25-231h0m12 5h0m-105 55h0m82-78h0m76 47h0m-184 89h0m10-54h0m106-116h0m-95 100h0m163 31h0m33 141h0m-174-235h0m116 8h0m17 106h0m-176-46h0m46 89h0m28 25h0m43-167h0m40-14h0m-16 204h0m-18-215h0m44 49h0m-191 98h0m13-25h0m-54-42h0m165 124h0m51-154h0m-134 93h0m-50 34h0m262-61h0m-133-86h0m49-7h0m-103 139h0m-20-12h0m-45-16h0m100-105h0m-75 111h0m16-45h0m-31-46h0m60 114h0m65-132h0m41 236h0m36-79h0m-11-30h0m18-2h0"/>
<path class="s" d="M208 388h0m39-152h0m-159 33h0m185 75h0m-178-23h0m186 13h0m-141 76h0m-30-104h0m67 95h0m-56-127h0m159 58h0m-142 29h0m11 6h0m64-234h0m-49 234h0m136-147h0m16 156h0m-41-229h0m8 188h0m-205 28h0m200-103h0m-42-57h0m-66 3h0m-31 145h0m-25-101h0m-25 26h0m-25 53h0m82 54h0m101 17h0m-106-180h0m-44-26h0m218 66h0m-209 44h0m162-28h0m37-12h0m-192 45h0m44 122h0m-15 11h0m148-175h0m-17 53h0m-3-15h0m42-130h0m-202 122h0m208 4h0m-150-101h0m101-6h0m-113 17h0m-8 180h0m141-132h0m-150-64h0m172 192h0m-115 6h0m-93-82h0m1-21h0m29 68h0m-13-16h0m13-146h0m67 215h0m-76-178h0m103 205h0m-93-97h0m-46-74h0m92-89h0m-38 14h0m17 207h0m122-52h0m-150-130h0m36-13h0m128 213h0m2-97h0m-126-114h0m-55 127h0m83-122h0m-61 172h0m-32-29h0m-14-42h0m183 95h0m-127-227h0m64 251h0m-113-123h0m207 50h0m-107 56h0m-108-108h0m204 2h0m-47-82h0m-95 162h0m48 7h0m-96-52h0m42 42h0m126-210h0m-19 26h0m-52-49h0m11 260h0m-101-98h0m41 79h0m71-216h0m-69 211h0m57 6h0m-64-198h0m131 136h0m-168-128h0m26-54h0m14 14h0m-33 98h0m-52-67h0m250 239h0m-195-87h0m140-110h0m76-34h0m-167 260h0m-57-183h0m213 22h0m-34-24h0m4 92h0m-29-70h0m-9 85h0m-148-39h0m173 22h0m-172-112h0m141-30h0m-37-78h0m-1 50h0m-111 23h0m135-18h0m-216 127h0m94-56h0m97 132h0m-45-14h0m-58-64h0m181-46h0m-30-68h0m-55-1h0m90 90h0m-230 30h0m153 119h0m21-41h0m-72-215h0m15-42h0m96 209h0m-208-20h0m201-76h0m-12 140h0m33 24h0m-202-153h0m108-68h0m-187 48h0m265 118h0m-103-182h0m94 103h0m57 32h0m-225-125h0m169 140h0m-130 17h0m52-146h0m-107 114h0m186-14h0m-108-142h0m113 166h0m-108 31h0m138-11h0m-158 28h0m135-69h0m32 74h0m-117-223h0m-85 103h0m212-22h0m-270-22h0m223 121h0m-5-66h0m-92-74h0m-80 2h0m171 41h0m-146-21h0m145 108h0m7-119h0m-14 200h0m-35-207h0m-60 155h0m-7 50h0m-1-257h0m152 189h0m-73 73h0m-71-222h0m125 105h0m-142-107h0m-125 100h0m233-96h0m-163 112h0m60-108h0m-22 8h0m170 141h0m-171-11h0m-23-131h0m201 136h0m-45-115h0m7 5h0m-186 54h0m172-82h0m18 126h0m-171-108h0m15 67h0m146-10h0m-260-47h0m158-38h0m17-13h0m-26 9h0m124 110h0m-185 0h0m206-47h0m-37 103h0m-94-3h0m87-1h0m-161-48h0m198-45h0m-136 103h0m125-102h0m13 39h0m-142 57h0m47 21h0m96 43h0m-118-250h0m-34 167h0m75-155h0m33 41h0m-15-26h0m-106 1h0m175 15h0m-81-49h0m-144 111h0m167 134h0m34-102h0m-122 106h0m-89-226h0m142-11h0m-111 41h0m29-44h0m-20 51h0m68 168h0m-36-176h0m76-36h0m-61 242h0m-71-176h0m27 58h0m-38-58h0m260 7h0m-302 54h0m87 46h0m130-126h0m-133-69h0m173 69h0m-151-4h0m148 183h0m-169-118h0m0 66h0m161-24h0m-162 61h0m-44-171h0m93 196h0m80-195h0m-2-38h0m-17 6h0m52 136h0m-137 30h0m-15-154h0m93-23h0m-46-42h0m-28 64h0m81 188h0m-43-184h0m6-16h0m-92 57h0m39 98h0m107 11h0m-88-185h0m-147 179h0m82-99h0m71-62h0m-14 14h0m33-11h0m115 110h0m-26-7h0m-23 86h0m-145-57h0m1 93h0m153-249h0m-44 227h0m70-14h0m-168-84h0m156 18h0m1 63h0m-3-104h0m-109 97h0m4-15h0m145 24h0m-203-108h0m235 67h0m-181 56h0m-52-74h0m114-142h0m58 59h0m-52 144h0m-126-171h0m75-65h0m-62 185h0m50-153h0m49 8h0m-11 196h0m72-31h0m-52-165h0m-112 109h0m32 75h0m119-162h0m24 29h0m-122 123h0m-39-179h0m53-4h0m-30 184h0m147-75h0m-195 3h0m45 109h0m-66-113h0m160 93h0m55-40h0m-132 71h0m36-237h0m-74 160h0m192-63h0m-87 132h0m59-215h0m-86 246h0m-39-57h0m112-74h0m-122-104h0m134 99h0m24-126h0m-128 40h0m32-68h0m-69 221h0m135-62h0m-177 25h0m149 49h0m9-159h0m-87-45h0m13 226h0m177-103h0m-265 41h0m-6-47h0m21-41h0m47-60h0m-13 217h0m17-200h0m-1-29h0m67 216h0m66 33h0m-193-189h0m-3 36h0m174-5h0m16 112h0m-182-73h0m25-137h0m15 249h0m-47-194h0m149 204h0m25-188h0m8-64h0m-96 19h0m65 25h0m24-26h0m6 81h0m-159 66h0m-43-94h0m187 58h0m-160-48h0m62 130h0m5 47h0m-56-181h0m166 155h0m-56-213h0m-102 39h0m13-16h0m-24 89h0m156-89h0m-24 6h0m-58-34h0m-99 109h0m129-101h0m-92 150h0m-29-130h0m138 190h0m66-129h0m-189-105h0m-26 155h0m74-129h0m-66 33h0m145-23h0m-136 23h0m160 43h0m-22-87h0m-88 5h0m-36 55h0"/>
<path class="s" d="M270 394h0m-175-136h0m118 130h0m-55-213h0m91 197h0m-187 5h0m114 46h0m14-212h0m98 21h0m-162-80h0m118 218h0m-29-191h0m-135 225h0m259-56h0m-187 63h0m145-238h0m-60 220h0m-3-241h0m-98 82h0m113 172h0m-21-197h0m-17 193h0m-109-220h0m81 210h0m-52-49h0m147-34h0m-257-15h0m277 35h0m-155-93h0m23 186h0m-26-81h0m62 47h0m85-157h0m-100-56h0m86 126h0m9-19h0m-149 77h0m136-93h0m30 143h0m-129-198h0m115 81h0m-94 96h0m29-209h0m78 123h0m-130-89h0m140 120h0m-181 31h0m-15 5h0m-21-59h0m-19-6h0m79 56h0m78 34h0m48-94h0m-9 6h0m-79-191h0m-32 75h0m111 97h0m-148 9h0m15 47h0m156-18h0m-16-12h0m-57 71h0m57 15h0m-117-217h0m-44-3h0m71-10h0m26 257h0m124-260h0m-128 223h0m-139-211h0m148 226h0m-93-188h0m162 80h0m-12-18h0m-41 119h0m-53 45h0m28-38h0m14-203h0m75 104h0m-102-102h0m-15 221h0m-1-14h0m39 6h0m43-212h0m14 64h0m4 65h0m-75-153h0m-37 30h0m-51 90h0m171-55h0m-50-61h0m54 166h0m12 9h0m-61-152h0m40 52h0m-123 103h0m-21-126h0m97 157h0m-96-34h0m105-136h0m7-41h0m33 85h0m-70-78h0m84 155h0m52-41h0m-200-103h0m125 106h0m-154-37h0m126 143h0m-48-29h0m-88-30h0m163-79h0m-75-155h0m-85 216h0m73 90h0m-36-254h0m-10 220h0m75-196h0m8-3h0m72 178h0m27-73h0m-237-15h0m68 87h0m121-138h0m10 107h0m-121-134h0m131 85h0m-165 52h0m-17-169h0m33 178h0m-22-8h0m129-108h0m-104 164h0m80-252h0m-68 48h0m116 41h0m-155-12h0m-3-77h0m167 182h0m15-8h0m-150 55h0m63 17h0m-100-91h0m-21 36h0m69 31h0m-3-194h0m16 24h0m-35 175h0m58-166h0m-115 43h0m201 98h0m-141-117h0m31 172h0m93-25h0m-122-12h0m-30-93h0m165 92h0m-178-56h0m18-36h0m38-79h0m-8 188h0m118-5h0m-110 2h0m-39-21h0m11-6h0m26 12h0m122-81h0m-158 14h0m-12-122h0m193 95h0m-149-101h0m126 82h0m-95 158h0m100-81h0m-81-117h0m-32 179h0m-35-29h0m15-177h0m127 48h0m-90-119h0m93 209h0m-31 70h0m-146-222h0m200 68h0m-115-30h0m-54 8h0m32-4h0m174 39h0m-185-47h0m97 21h0m-130 66h0m-11-26h0m158 51h0m-101-132h0m-81 167h0m39 22h0m59-162h0m-96 207h0m155-182h0m-152 101h0m20 10h0m23 3h0m135-25h0m3-143h0m30-95h0m-103 321h0m109-64h0m-208-54h0m51-99h0m39 193h0m110-92h0m-11 8h0m-73-128h0m86 78h0m-55-29h0m-128 65h0m169 71h0m-6-44h0m-119 50h0m-57-85h0m57-86h0m-18 155h0m143-13h0m-34-101h0m-83-27h0m115 23h0m-17 55h0m-105 122h0m1-23h0m-31 7h0m137-75h0m-168-14h0m150-114h0m-11 2h0m94 91h0m-224 83h0m94-160h0m-63 25h0m120-72h0m-56 33h0m59 33h0m-70 180h0m-106-63h0m210-117h0m-180 108h0m46 35h0m-80-79h0m32-111h0m36 36h0m-48 12h0m224 42h0m-60 47h0m-162 17h0m74-114h0m11-32h0m-61 54h0m-8 207h0m-27-131h0m171 28h0m-108-132h0m44 203h0m66-113h0m33-70h0m-37-8h0m24-21h0m-9-3h0m-69-4h0m-69-1h0m161 205h0m-127-5h0m-33-169h0m-50 3h0m79-45h0m-58 190h0m-6 4h0m6-110h0m93-97h0m23 267h0m-80-22h0m62-22h0m-115-7h0m162-200h0m-97 177h0m54 28h0m-57 29h0m143-153h0m-117-57h0m94 50h0m36 134h0m-208-143h0m164 76h0m7-151h0m-127 221h0m76-184h0m-189 5h0m180 203h0m-136-112h0m126 81h0m175-139h0m-96 133h0m-170-65h0m158-104h0m-164 84h0m204 172h0m-205-251h0m173 34h0m3 2h0m-176-8h0m146 173h0m-91 10h0m107-80h0m-118 17h0m-12-128h0m37-39h0m-58 153h0m122-113h0m-119-21h0m-7 54h0m-5-86h0m-26 127h0m33-84h0m152 72h0m-14-65h0m-100-23h0m-39-2h0m148 100h0m-119-129h0m83 238h0m65-61h0m-36-146h0m-84 183h0m103-23h0m-114-199h0m134 113h0m-51 90h0m22-76h0m-106 70h0m118 23h0m-218-178h0m73 122h0m-63-48h0m74 157h0m-24-98h0m87-152h0m-143 87h0m36 31h0m176-18h0m-52-82h0m-93 132h0m146 5h0m-76-173h0m59 199h0m6-129h0m-185 38h0m70 74h0m115-34h0m-166-12h0m61-116h0m160 48h0m-165 126h0m123-175h0m-158 180h0m189-153h0m-168 146h0m-65-201h0m216 138h0m-60-168h0m-119 200h0m204-65h0m-191 76h0m9-154h0m28 206h0m66 25h0m-4-236h0m-54-43h0m-43 196h0m-21-9h0m115 66h0m-150-95h0m166 59h0m-82-179h0m28 231h0m98-85h0m14-30h0m-289-200h0m155 90h0m60 16h0m46 93h0m-175 129h0m177-113h0m-117 73h0m68 82h0m-126-226h0m178 10h0m-89 201h0m-10-247h0m-11-4h0m22-20h0m33-3h0m-152 183h0"/>
</g>
<path d="M17.8 39.5L18.2 39.7L18.7 39.5L20.6 39.3L23.1 39L25.5 37.6L26.1 37.1L27.3 34.7L27.9 33.6L29 32.3L28.8 29.9L27.9 27.5L27.9 27.5L27.5 25.1L26.2 22.8L25.5 22.3L23.1 20.6L21.6 20.4L20.6 19.7L18.2 19.3L15.8 19.4L14.8 20.4L13.4 21.9L12.3 22.8L11 25.1L10.9 25.4L10.4 27.5L10.9 29.6L11 29.9L11.3 32.3L12.3 34.7L13.4 36.3L14.2 37.1L15.8 38.6L17.8 39.5Z" fill="#fff" fill-rule="evenodd"/>
<path d="M12.14 31.14h2.43v2.4h-2.43zM12.14 28.74h2.43v2.4h-2.43zM12.14 26.34h2.43v2.4h-2.43zM12.14 23.95h2.43v2.4h-2.43zM14.56 33.53h2.43v2.4h-2.43zM14.56 21.55h2.43v2.4h-2.43zM16.99 35.92h2.43v2.4h-2.43zM16.99 21.55h2.43v2.4h-2.43zM19.42 35.92h2.43v2.4h-2.43zM19.42 21.55h2.43v2.4h-2.43zM21.85 21.55h2.43v2.4h-2.43zM24.27 31.14h2.43v2.4h-2.43zM24.27 26.34h2.43v2.4h-2.43zM24.27 23.95h2.43v2.4h-2.43z" fill="#000" fill-opacity="0.06"/>
<path d="M21.85 33.53h2.43v2.4h-2.43zM21.85 23.95h2.43v2.4h-2.43zM24.27 28.74h2.43v2.4h-2.43z" fill="#000" fill-opacity="0.12"/>
<path d="M14.56 31.14h2.43v2.4h-2.43zM14.56 23.95h2.43v2.4h-2.43zM16.99 33.53h2.43v2.4h-2.43zM19.42 33.53h2.43v2.4h-2.43z" fill="#000" fill-opacity="0.19"/>
<path d="M21.85 31.14h2.43v2.4h-2.43z" fill="#000" fill-opacity="0.25"/>
<path d="M14.56 28.74h2.43v2.4h-2.43zM14.56 26.34h2.43v2.4h-2.43zM19.42 23.95h2.43v2.4h-2.43zM21.85 26.34h2.43v2.4h-2.43z" fill="#000" fill-opacity="0.31"/>
<path d="M16.99 23.95h2.43v2.4h-2.43z" fill="#000" fill-opacity="0.38"/>
<path d="M21.85 28.74h2.43v2.4h-2.43z" fill="#000" fill-opacity="0.44"/>
<path d="M16.99 31.14h2.43v2.4h-2.43z" fill="#000" fill-opacity="0.5"/>
<path d="M19.42 31.14h2.43v2.4h-2.43z" fill="#000" fill-opacity="0.56"/>
<path d="M16.99 26.34h2.43v2.4h-2.43z" fill="#000" fill-opacity="0.75"/>
<path d="M19.42 26.34h2.43v2.4h-2.43z" fill="#000" fill-opacity="0.81"/>
<path d="M16.99 28.74h2.43v2.4h-2.43z" fill="#000" fill-opacity="0.88"/>
<path d="M19.42 28.74h2.43v2.4h-2.43z" fill="#000" fill-opacity="1"/>
<path class="c" d="M17.8 39.5L18.2 39.7L18.7 39.5L20.6 39.3L23.1 39L25.5 37.6L26.1 37.1L27.3 34.7L27.9 33.6L29 32.3L28.8 29.9L27.9 27.5L27.9 27.5L27.5 25.1L26.2 22.8L25.5 22.3L23.1 20.6L21.6 20.4L20.6 19.7L18.2 19.3L15.8 19.4L14.8 20.4L13.4 21.9L12.3 22.8L11 25.1L10.9 25.4L10.4 27.5L10.9 29.6L11 29.9L11.3 32.3L12.3 34.7L13.4 36.3L14.2 37.1L15.8 38.6L17.8 39.5Z"/>
<path class="c" d="M16.2 34.7L18.2 36L20.6 36.3L23.1 34.7L23.1 34.7L25.4 32.3L25.5 29.9L25.5 29.9L25.6 27.5L25.5 27.4L24.4 25.1L23.1 23.8L21.1 22.8L20.6 22.5L18.2 22.4L17.7 22.8L15.8 23.9L14.4 25.1L13.4 27.5L13.5 29.9L14.2 32.3L15.8 34.4L16.2 34.7Z"/>
<path class="c" d="M17.5 32.3L18.2 33L20.6 33L21.6 32.3L23 29.9L23.1 27.5L20.9 25.1L20.6 25L20.1 25.1L18.2 25.8L16.2 27.5L15.8 29.9L15.8 29.9L15.8 30L17.5 32.3Z"/>
<path class="c" d="M18.2 29.9L20.6 30.5L21.1 29.9L20.6 28.5L18.2 29.9Z"/>
</g>
<g transform="translate(206.9 203.7)" clip-path="url(#cp)">
<g transform="scale(.1)">
<path class="b" d="M137 236h0m240 152h0m28 28h0m-146-65h0m73 51h0m-158-225h0m33 7h0m22-24h0m112 117h0m70 86h0m-111 21h0m-1 22h0m119-37h0m-158-23h0m27-140h0m-20 32h0m-8 101h0m-106-87h0m250 161h0m-73-8h0m-5-176h0m8 165h0m-158-93h0m191 27h0m-80-102h0m130 162h0m-30-82h0m-190-116h0m156 220h0m5-136h0m18 56h0m-185-116h0m103 184h0m104-62h0m-32-3h0m-175-43h0m-10 37h0m105-103h0m121 108h0m-141 20h0m-6-13h0m-81-206h0m241 228h0m-45-40h0m-168-154h0m-17 11h0m208 183h0m-267-162h0m23-36h0m31 79h0m218 147h0m45 75h0m-65-133h0m-25 59h0m-110-46h0m-67-43h0m144 87h0m23 2h0m76-122h0m-81 133h0m-146-233h0m-6 75h0m199 189h0m-22-165h0m-146-53h0m148 105h0m26 27h0m-210-97h0m-47-19h0m190 7h0m-27 168h0m27-149h0m56 158h0m8 25h0m-78-201h0m90 122h0m-211-120h0m123 0h0m-165 25h0m86 93h0m130 37h0m-53-182h0m64 157h0m-34-139h0m59 128h0m-141-7h0m-35-141h0m11-37h0m-3 18h0m-57-15h0m86 20h0m118 212h0m-190-160h0m37-34h0m-44 78h0m-12 11h0m229 62h0m6-53h0m-223-134h0m59 157h0m-28-160h0m88 224h0m-63-223h0m10 174h0m18-137h0m-39-3h0m50 7h0m-54-24h0m61 194h0m76 15h0m2-111h0m76 93h0m-319-204h0m243 74h0m-123 81h0m-160-119h0m96 41h0m52-59h0m146 87h0m-186-82h0m83 32h0m-100 11h0m52-55h0m154 141h0m63 83h0m-163-183h0m-92 31h0m97 131h0m-15-34h0m-125-197h0m105 212h0m175 5h0m-258-76h0m154-42h0m-46-24h0m-27 110h0m107 39h0m-208-182h0m74-15h0m121 84h0m-53-46h0m-27 122h0m13-132h0m-49-15h0m6 0h0m-103 30h0m131-37h0m10 38h0m-35 108h0m153-77h0"/>
<path class="b" d="M370 343h0m-185-89h0m216 85h0m9 83h0m-53-151h0m-85-91h0m123 197h0m-223-110h0m37-110h0m133 282h0m39-37h0m-82-186h0m-128 120h0m113-101h0m65 39h0m-12 119h0m2 28h0m-52-191h0m-139-18h0m107-10h0m115 184h0m-94-149h0m-62-68h0m-70-22h0m106 194h0m17-136h0m87 237h0m-176-264h0m-64-134h0m148 166h0m86 11h0m-144-56h0m74 56h0m-86 31h0m186 30h0m-238-46h0m271 181h0m-167-80h0m3-128h0m136 142h0m-183-14h0m23-165h0m-2 37h0m158 97h0m-71-75h0m35 159h0m-155-212h0m15 139h0m-24-119h0m193 193h0m-185-105h0m-33-115h0m206 234h0m-174-58h0m254 76h0m-263-228h0m40-7h0m-34 24h0m-11-32h0m182 217h0m-164-199h0m30 17h0m-35 91h0m134-47h0m-171-24h0m100 164h0m127-115h0m5 70h0m30 18h0m-227-89h0m190 74h0m47 69h0m-313-222h0m38-47h0m240 226h0m-17-91h0m-193-25h0m25-106h0m1 26h0m53 153h0m194-3h0m-294-100h0m69-23h0m31 136h0m4 33h0m-4-45h0m-109-188h0m139 230h0m-128-132h0m104 97h0m-22-139h0m117 74h0m100 154h0m-179-42h0m-27-183h0m71 178h0m-170-184h0m78 8h0m152 180h0m2 22h0m-214-283h0m16 140h0m130 150h0m-142-223h0m-14 45h0m215 156h0m-182-193h0m33-64h0m33 213h0m-74-80h0m-27-46h0m211 125h0m-22-149h0m-26 46h0m-188-162h0m11 118h0m227 141h0m-154-22h0m8-121h0m-60-31h0m23 117h0m-14-77h0m-22-7h0m233 185h0m-132-48h0m139-44h0m48 44h0m-271-194h0m108 61h0m-42-18h0m-166-73h0m86 129h0m152-19h0m32 25h0m35 112h0m-114-1h0m177 70h0m-244-188h0m-26-48h0m-40 47h0m150 128h0m-113-141h0m97 136h0m-34-183h0m149 179h0m-9 1h0m34-55h0m-120 124h0m112-39h0m-237-212h0"/>
<path class="b" d="M95 107h0m13 87h0m191 44h0m12-5h0m-118 23h0m179 64h0m-7 117h0m-36-26h0m91-30h0m-42-14h0m-35 20h0m-161-62h0m245 47h0m-306-207h0m62 84h0m116 183h0m-108-219h0m152 192h0m21-31h0m-137-176h0m42 32h0m-116-9h0m96-8h0m134 142h0m-259-126h0m12 45h0m31-78h0m173 228h0m65-7h0m-222-260h0m77 215h0m24-177h0m-95 84h0m229 33h0m-289-189h0m249 251h0m-135-236h0m70 82h0m72 145h0m-138-150h0m121 100h0m-180-100h0m-2 87h0m84-80h0m116 151h0m-209-223h0m60 192h0m140-12h0m-193-76h0m-44-98h0m50 36h0m19-51h0m-38 11h0m225 232h0m-129-45h0m-53-17h0m-112-80h0m80 20h0m117-37h0m-122 52h0m97-93h0m108 189h0m-118-34h0m34 95h0m-41-54h0m29-149h0m66 51h0m-98 65h0m144 29h0m-10-38h0m-59-96h0m57 124h0m-143-175h0m77 230h0m-33-257h0m-121-8h0m202 162h0m-111 38h0m16 5h0m8-131h0m-129-46h0m139 177h0m88 28h0m-142-180h0m-94 12h0m224 107h0m-113 14h0m-25 12h0m166-13h0m-145-129h0m151 210h0m-311-247h0m126 141h0m-29-46h0m183 103h0m-139-163h0m112 49h0m-96-55h0m-15 155h0m26-145h0m-26-58h0m137 144h0m-239-96h0m125 142h0m49-125h0m-161 18h0m203 150h0m-128-58h0m-11 29h0m181 8h0m-9 23h0m-250-192h0m117 2h0m120 177h0m88 80h0m-95-40h0m-66-23h0m-135-159h0m-57-100h0m254 263h0m-230-194h0m256 191h0m-189-134h0m-21 36h0m167-52h0m-89-39h0m21 22h0m-7-34h0m-29 15h0m159 166h0m-252-193h0m46 23h0m236 99h0m-125-141h0m-121 87h0m10 11h0m-19 22h0m77-97h0m-66 133h0m193 119h0m-54-216h0m-117-66h0m174 205h0m-57-125h0m-158 21h0m161 132h0m-96-215h0m69 40h0m-34 121h0m76-100h0"/>
<path class="b" d="M174 167h0m110 72h0m61 40h0m-168 0h0m15 18h0m162 109h0m-76-43h0m53-104h0m-17 147h0m-141-202h0m26-14h0m207 212h0m-37-72h0m-104 6h0m-13-133h0m-87 95h0m76 62h0m136-5h0m-206-30h0m149-82h0m-120-82h0m-34-11h0m272 273h0m-189-70h0m6-158h0m-75 58h0m45-40h0m-39 31h0m156 9h0m-116 94h0m-6-184h0m-49 50h0m79 125h0m138 96h0m-20-93h0m-92-106h0m46-27h0m52 87h0m-182-20h0m182 69h0m33 65h0m-251-218h0m167 68h0m-177-30h0m256 201h0m-29-136h0m33-12h0m-31 118h0m-45-140h0m-179-38h0m5-21h0m1 42h0m86 119h0m157 5h0m-55 54h0m-154-234h0m284 177h0m-91-5h0m15 62h0m37-86h0m-230-158h0m163 162h0m-145-147h0m-58 46h0m63-77h0m-105 139h0m26-99h0m136 37h0m86-4h0m43 177h0m-184-212h0m47 200h0m46 5h0m-133-200h0m64-24h0m152 196h0m19-136h0m-191 172h0m-52-123h0m-12-103h0m217 216h0m-140-53h0m127-17h0m-29 58h0m-63 18h0m-141-166h0m-18 24h0m80 54h0m84-144h0m-127 20h0m121-35h0m-104 84h0m68-30h0m-36-64h0m-80 105h0m-8 59h0m65-132h0m173 250h0m13-112h0m-163-144h0m32 187h0m155 5h0m-2-69h0m-229-102h0m24 157h0m-10-158h0m44-21h0m158 186h0m29 80h0m-42-141h0m18 30h0m-42-60h0m-94-171h0m-41 218h0m75-137h0m92 162h0m-132-135h0m189 158h0m-264-240h0m59 210h0m132-130h0m-81 165h0m66-158h0m-195-12h0m242 218h0m-85-22h0m23 0h0m73-59h0m-216-168h0m-93 12h0m173 214h0m86-122h0m-83-36h0m-43 106h0m-95-147h0m245 193h0m-187-57h0m175 30h0m-101-19h0m-12-129h0m-89-10h0m181 70h0m-62-46h0m80 186h0m33 9h0m-9-91h0m-176-20h0m165 95h0m-164-94h0m61-76h0"/>
<path class="b" d="M136 252h0m28-5h0m218 104h0m-42-88h0m-101 93h0m172 53h0m-220-144h0m70 161h0m18-24h0m95-131h0m-144 69h0m116 109h0m-99-262h0m37 18h0m-95 60h0m10 50h0m61 61h0m128-156h0m-132 206h0m84-145h0m-91-82h0m84 185h0m-72-175h0m123 134h0m-143 27h0m-55-130h0m183 113h0m-245-238h0m131 59h0m61 75h0m59 166h0m-239-218h0m245 111h0m-209-121h0m-35-100h0m84 84h0m74 62h0m49 45h0m-13 127h0m-63-200h0m126 244h0m-64-198h0m-111-99h0m175 113h0m7 130h0m-123-19h0m-93-136h0m226 160h0m-151-61h0m-83-225h0m60 93h0m141 232h0m-1-104h0m-131-129h0m154 157h0m-25-63h0m-233-88h0m139 27h0m-110 6h0m-3 23h0m119 102h0m-102-95h0m11-97h0m-69 68h0m328 182h0m-255-248h0m-34 92h0m241 41h0m-140-160h0m-51 195h0m52 25h0m114-31h0m-176 8h0m94-127h0m-165-33h0m254 187h0m-197-206h0m89 59h0m-30-26h0m-20-55h0m-50 122h0m188 164h0m-81-219h0m22 177h0m7 11h0m26-120h0m-85 83h0m15-6h0m-97-16h0m62-146h0m138 205h0m-237-131h0m161-56h0m84 132h0m-144 0h0m46-138h0m-7-4h0m101 94h0m-218-53h0m26 32h0m25-101h0m57 48h0m-126 13h0m258 113h0m-73 39h0m-105-191h0m-36 14h0m-3 32h0m105 137h0m-51-48h0m-33-151h0m29-32h0m-57 123h0m-13-9h0m189 131h0m-85-178h0m-8 160h0m73-140h0m3 169h0m73 1h0m-85-25h0m87 46h0m-8-107h0m-244-54h0m240 106h0m-14-19h0m-235-165h0m5-1h0m213 134h0m-140 19h0m241 65h0m-284-206h0m88 34h0m54 23h0m-78 115h0m-67-170h0m61-22h0m84 216h0m58-91h0m0 67h0m-196-171h0m127 6h0m-55-15h0m26 169h0m-107-155h0m236 190h0m-14-40h0m-291-79h0m52-59h0m94-52h0"/>
<path class="b" d="M369 330h0m-193-137h0m139 203h0m-43-167h0m20-28h0m-122-72h0m104 87h0m-157 64h0m44-127h0m7 75h0m216 58h0m-65-44h0m104 98h0m-145-175h0m-107 130h0m262 79h0m-82-90h0m85 128h0m24 14h0m-53 4h0m-22-29h0m-178-238h0m150 230h0m57-5h0m-91-1h0m-157-175h0m-32-149h0m36 168h0m1 20h0m205 113h0m-37 62h0m-179-210h0m119-87h0m-133 109h0m214 146h0m-194-111h0m-84-133h0m82 73h0m33 138h0m-40-106h0m-108-107h0m221 91h0m34 6h0m93 187h0m-208-157h0m44 93h0m155 5h0m-18-37h0m-214-94h0m-25-47h0m62 64h0m-16-6h0m168 186h0m-60-251h0m-90 151h0m-26-79h0m209 119h0m-193-197h0m9 118h0m43-100h0m3 163h0m18-164h0m-111-28h0m253 230h0m-116-23h0m-29-217h0m-4 54h0m-57 49h0m-13-42h0m237 217h0m-249-268h0m142 60h0m-120-98h0m114 113h0m-172-54h0m187 206h0m59-43h0m57 77h0m-220-92h0m-121-172h0m147 204h0m-14-160h0m-33-24h0m152 102h0m-177-38h0m214 163h0m-12-134h0m-199-76h0m155 40h0m-168 1h0m99 101h0m134-14h0m-143-149h0m141 227h0m41-22h0m-295-174h0m245 139h0m68-11h0m-279-199h0m47 185h0m-19-4h0m-35-69h0m261 164h0m-152-193h0m70 70h0m24 7h0m39 137h0m-223-125h0m194-28h0m-229-45h0m235 67h0m-221-14h0m259 138h0m-190-239h0m173 137h0m-219-82h0m5 56h0m-3-25h0m72 73h0m-116-64h0m-12-148h0m137 232h0m32-139h0m-63-19h0m-28 121h0m53-141h0m1 22h0m131 91h0m-77-50h0m-42-11h0m-123-117h0m41 126h0m123 7h0m-131-7h0m6 10h0m175 65h0m3 91h0m66-41h0m-244-101h0m1-71h0m-81-38h0m343 247h0m-92-23h0m21 26h0m-172-83h0m60-104h0m116 67h0m-24-23h0m72 130h0m-191-190h0"/>
<path class="b" d="M412 361h0m-139 17h0m-84-73h0m90 123h0m0-227h0m-89 50h0m-19-69h0m-63 70h0m36-18h0m-57-140h0m329 256h0m-188-141h0m139 164h0m-181-188h0m187 181h0m36-1h0m-24-24h0m-27 59h0m-13-153h0m-263-63h0m100 114h0m11-50h0m-19 23h0m43 94h0m193 88h0m-227-209h0m3 38h0m211 120h0m-133-56h0m139 70h0m-126 5h0m-125-224h0m214 203h0m-211-223h0m250 195h0m65 54h0m-239-72h0m-112-87h0m96 56h0m187-5h0m-211-55h0m16 79h0m171 10h0m-239-244h0m111 98h0m102 208h0m-99-253h0m-143-25h0m277 268h0m-263-290h0m199 147h0m50 109h0m-49-179h0m-125 176h0m74-130h0m84 48h0m-94 85h0m142-77h0m-12 20h0m-121-81h0m58 2h0m-14 154h0m-172-163h0m30 27h0m225 145h0m-136-58h0m-226-146h0m351 211h0m-216-113h0m235 77h0m-35 62h0m41-32h0m-95-196h0m-134 42h0m71 111h0m-64-50h0m158 79h0m-173-205h0m67 18h0m-32-8h0m160 223h0m-55-20h0m23-131h0m-183 0h0m149 124h0m-189-100h0m272 79h0m-221-79h0m229 29h0m-219-136h0m3-20h0m85 186h0m39-122h0m-152 66h0m31-5h0m188 71h0m-8 61h0m-151-98h0m-18-37h0m78 85h0m-48-168h0m94 38h0m-83-42h0m90 211h0m-68-45h0m14-151h0m-25 135h0m12 27h0m118 23h0m-1-65h0m-73-116h0m-135 107h0m125-113h0m4 185h0m-123-135h0m191 108h0m-104-14h0m135-2h0m-132-1h0m-39-134h0m-89-5h0m147 169h0m27 8h0m36 44h0m-76-67h0m100-55h0m-71-117h0m-139 31h0m230 195h0m-123-62h0m-75-80h0m21 65h0m-90-95h0m307 210h0m-207-263h0m2 22h0m44-33h0m117 156h0m7 28h0m-206-102h0m76-57h0m18 157h0m-98-87h0m183 65h0m-76-107h0m-37 137h0m115 30h0m-207-142h0m78-51h0m137 132h0"/>
<path class="b" d="M398 430h0m-181-88h0m179-27h0m-163-166h0m53 62h0m-102-49h0m145 92h0m59 128h0m-85 2h0m-278-135h0m359 100h0m-125 44h0m-59-29h0m-65-151h0m300 204h0m-56-87h0m-103 33h0m121 4h0m-206-112h0m-11 0h0m-20-37h0m94-15h0m69 228h0m-92-74h0m37 8h0m-8 1h0m62 27h0m-54-155h0m115 170h0m-34-10h0m-181-92h0m-8-133h0m128 29h0m91 208h0m-194-225h0m132 45h0m-1 18h0m11 151h0m-53-186h0m-113-150h0m148 336h0m172 15h0m-332-181h0m155 152h0m-57-180h0m-75 67h0m140 115h0m62-145h0m-47 4h0m71 117h0m-33 6h0m-218-81h0m237 61h0m-193-94h0m-15-43h0m58-3h0m-11-58h0m-65 119h0m95 85h0m119 1h0m-94 6h0m-137-128h0m307 211h0m-90-181h0m-75 111h0m21 18h0m62-63h0m-194-73h0m91 99h0m-132-162h0m246 141h0m14 23h0m-95-153h0m-140-59h0m86 53h0m-98 15h0m29 0h0m55-22h0m90 68h0m-8-25h0m-39-10h0m-70 87h0m145-66h0m-72-27h0m9-13h0m42 257h0m-167-218h0m86-46h0m37 26h0m104 151h0m-123 39h0m13-181h0m-134-45h0m182 196h0m79 82h0m-38-113h0m-229-209h0m106 63h0m137 236h0m-187-196h0m167 145h0m-205-226h0m317 192h0m-81 0h0m-280-154h0m74 87h0m197 68h0m-142 11h0m65 17h0m-83-187h0m155 64h0m-105-34h0m-18-19h0m139 185h0m-133-192h0m-45 133h0m104-128h0m-177 57h0m18-79h0m110 47h0m127 47h0m-158-67h0m-93 4h0m200 168h0m-162-186h0m1 89h0m75 87h0m-34-167h0m-42 33h0m187 120h0m-203-148h0m21 43h0m116-35h0m-76-16h0m-81 8h0m221 120h0m-195-94h0m66 95h0m-87-90h0m7-31h0m11 0h0m204 147h0m-49-105h0m-151-2h0m111-38h0m-105-41h0m-49-16h0m201 5h0m98 287h0m-317-313h0"/>
<path class="s" d="M365 335h0m5 11h0m-217-94h0m-41-113h0m281 284h0m-112-3h0m20-15h0m-29-168h0m101 167h0m-187-122h0m185 60h0m-132 47h0m0-33h0m23-151h0m-86 46h0m69 103h0m22 2h0m-85-82h0m106 88h0m-172-55h0m282 100h0m-38 0h0m20-43h0m-14-34h0m34 58h0m-42 3h0m42-9h0m11-19h0m-46-72h0m-199-46h0m113 122h0m-97-127h0m-3 3h0m-10-45h0m168 254h0m-112-84h0m127 25h0m45-66h0m-147-153h0m-100 77h0m178 137h0m81 22h0m-101-12h0m130-32h0m-57-38h0m-178-142h0m-13 114h0m-28-81h0m22-34h0m49 21h0m144 123h0m32 53h0m17 82h0m-109-206h0m-124-5h0m212 164h0m-84-27h0m-119-71h0m-7-196h0m203 185h0m-131 42h0m51 45h0m21-163h0m-21 20h0m-140-99h0m-28 83h0m-10-40h0m145 186h0m-40-11h0m-54-167h0m-3 7h0m-31 3h0m239 161h0m-206-168h0m168 182h0m-90-27h0m-27 8h0m-8-158h0m155 146h0m-74-129h0m-146-8h0m57-17h0m215 213h0m-24-22h0m31 82h0m-281-231h0m227 98h0m-137-9h0m123-29h0m-182 38h0m134 49h0m89-10h0m22 16h0m-173-37h0m-138-134h0m184 159h0m138 37h0m-82-190h0m-86 0h0m80 153h0m8-30h0m-8-17h0m16-17h0m14 11h0m-106 71h0m-171-251h0m300 275h0m-139-233h0m102 186h0m-15 0h0m3-33h0m-227-212h0m235 221h0m-206-153h0m195 123h0m89 100h0m-253-286h0m-38 78h0m148 15h0m-157 53h0m132-55h0m-95 31h0m81-30h0m-61 78h0m-90-68h0m32-73h0m82 40h0m148 84h0m-224-45h0m285 166h0m-169-208h0m8 9h0m-92-54h0m231 162h0m-266-139h0m12 104h0m-6-80h0m91 191h0m137 6h0m11-24h0m-225-204h0m140 51h0m-172-61h0m135 194h0m-126-98h0m29 18h0m206 64h0m5 19h0m-242-45h0m21-126h0m210 164h0m-208-112h0m98-11h0m124 188h0m-159-88h0m34-102h0m132 162h0m-35-77h0m-208-123h0m92 142h0m159 52h0m-12-104h0m-205 29h0m135 90h0m59 10h0m-130-58h0m117-28h0m-110-117h0m30 201h0m-30-63h0m122-58h0m-101-137h0m8 268h0m-113-57h0m-38-219h0m92 30h0m-78 2h0m248 241h0m-188-96h0m146-1h0m19-71h0m-212 47h0m153-42h0m-121-102h0m67 51h0m95 148h0m-198-111h0m118-52h0m84 148h0m-139 16h0m113-85h0m-19-28h0m-133-51h0m30 11h0m-30 61h0m116-43h0m-151-86h0m31 136h0m77 71h0m38-121h0m83 128h0m-211-84h0m-7-37h0m207 106h0m-49-82h0m70 216h0m-222-379h0m91 253h0m-92-95h0m225 118h0m-147-158h0m-7 137h0m153 81h0m27-78h0m-39-14h0m-8 52h0m-7-42h0m-1 9h0m23 30h0m-114-169h0m38 9h0m50 113h0m50 58h0m-171-28h0m48 31h0m78-158h0m-118-36h0m140 144h0m-62 58h0m-91-200h0m-5-8h0m-30 129h0m219 52h0m-45-21h0m-192-147h0m92 12h0m-90-76h0m177 320h0m-209-204h0m103 91h0m-75-108h0m185 111h0m-27 35h0m53-89h0m32 149h0m-218-265h0m166 136h0m-3 76h0m-185-190h0m-35-9h0m42 89h0m193 118h0m-88 2h0m-59-248h0m116 238h0m23 20h0m-42-165h0m-131 72h0m-39-185h0m219 296h0m-13-132h0m-188-127h0m96 44h0m-143 28h0m142 124h0m-110-93h0m15 15h0m242 108h0m-54-40h0m-204-200h0m-32 21h0m156 28h0m-170 36h0m283 86h0m-139-134h0m-85 45h0m204 88h0m4 106h0m45-36h0m-68-62h0m12 53h0m25-32h0m-255-130h0m217 155h0m-23-98h0m-111-115h0m164 180h0m-1-22h0m-69 82h0m-90-206h0m-144 20h0m86 57h0m56 115h0m-95-170h0m-91-89h0m127 50h0m148 195h0m-107-68h0m133 82h0m-26-11h0m-28 1h0m-28-225h0m-29 49h0m18 173h0m-32-188h0m47 8h0m-48-54h0m44 87h0m-46 141h0m-61-72h0m79 41h0m-46-167h0m183 265h0m-143-91h0m149 12h0m-149-29h0m-34-23h0m106 85h0m42-5h0m-165-126h0m133 206h0m-35-75h0m-42-226h0m-46 5h0m-47 173h0m257 36h0m-233-161h0m169 164h0m-80-12h0m-65-131h0m-12 0h0m96-14h0m-195-17h0m200 12h0m-95 22h0m84-37h0m107 136h0m-62 41h0m94-6h0m-69 16h0m34-32h0m-129-19h0m80-88h0m-77 87h0m-122-169h0m150 57h0m-40-49h0m199 211h0m-229-76h0m143-69h0m39 29h0m-155-68h0m-52 27h0m37-43h0m156 145h0m-266-98h0m256 55h0m-24 102h0m-150-136h0m1-10h0m116 134h0m-44-32h0m-79-91h0m84-46h0m74 183h0m24-143h0m2 93h0m-25 54h0m89-35h0m-162-143h0m-78-71h0m55 37h0m62 241h0m69-79h0m-7-11h0m-62 40h0m-162-153h0m192 168h0m-214-150h0m247 96h0m-215-191h0m183 110h0m-159-101h0m8 84h0m187 84h0m-209-103h0m172 29h0m-26 130h0m9-131h0m69 65h0m-66 92h0m-69-67h0m-2-12h0m1 3h0m-72-81h0m198 71h0m-103-202h0m-113 9h0m13 73h0m0-57h0"/>
<path class="s" d="M349 275h0m-209 20h0m187 104h0m42-78h0m-56 63h0m-43-158h0m-22 120h0m122-23h0m-149-152h0m-43 69h0m191 116h0m-149-185h0m-27 76h0m68-41h0m-99-16h0m181 72h0m-195-29h0m22-75h0m41 155h0m16 35h0m185 50h0m-37-66h0m24 44h0m-63 14h0m-53-213h0m11 221h0m-160-198h0m45-12h0m-6 0h0m-15 110h0m189-60h0m-66-5h0m-21-57h0m-69 38h0m155 199h0m-59-43h0m60-90h0m-120-100h0m-75 4h0m38-24h0m186 199h0m-54-132h0m77 161h0m-225-136h0m65-47h0m176 196h0m-145-218h0m-138 49h0m293 149h0m-150-7h0m-161-136h0m98 101h0m-20-97h0m82-35h0m-43-22h0m38 184h0m-23-163h0m-60 50h0m-27-54h0m218 86h0m19 84h0m-39-101h0m-20-15h0m-105-57h0m-93 51h0m253 110h0m-134-9h0m134-25h0m-233-110h0m91 123h0m-72-60h0m208 87h0m-159-175h0m47 29h0m99 218h0m-43-178h0m-134-82h0m83 206h0m-36-173h0m-49 34h0m65 97h0m-76 3h0m33-154h0m187 222h0m-219-249h0m242 202h0m-237-163h0m194 152h0m-295-246h0m212 103h0m-26 176h0m-75-209h0m83 56h0m64-22h0m-202 9h0m43 114h0m88 27h0m3-135h0m-114 58h0m157-33h0m-11 154h0m-91-210h0m190 122h0m-60 129h0m44 12h0m-129-105h0m-47-28h0m-115-101h0m168 3h0m-52-39h0m168 217h0m-20-96h0m2 33h0m-211-154h0m210 189h0m-45 23h0m69-8h0m-202-125h0m89 94h0m6-152h0m-18-3h0m87 198h0m-258-224h0m45 77h0m57-110h0m204 190h0m11 56h0m-35-52h0m27 18h0m-48 74h0m-179-268h0m103 203h0m12 17h0m-15-148h0m-166-82h0m212 266h0m-42-296h0m63 151h0m-191-137h0m75 70h0m20-24h0m124 136h0m-211-260h0m119 170h0m9-35h0m77 193h0m33-39h0m-229-58h0m201 82h0m-92-138h0m-40-38h0m17 201h0m-38-80h0m26 24h0m31 50h0m-5-161h0m-93-20h0m157 43h0m-146 1h0m36 107h0m-39-115h0m-1-58h0m193 86h0m-1 120h0m5 35h0m-107-196h0m-28-22h0m-185-78h0m197 32h0m88 100h0m-117-131h0m140 177h0m-76-130h0m37 201h0m-128-17h0m155-84h0m-150-110h0m-64 46h0m227 117h0m-207-202h0m59 55h0m-70 23h0m30 45h0m265 168h0m-37-8h0m-255-140h0m160-47h0m-28 135h0m89 5h0m-150 5h0m-58-149h0m203 125h0m-84-120h0m-30-61h0m48 221h0m23-156h0m56 60h0m-108-75h0m44 38h0m-30 149h0m-80-90h0m160-3h0m-193-69h0m199 131h0m-5-131h0m-134-108h0m-89 67h0m25-2h0m130 33h0m-49 102h0m60 62h0m-131-139h0m184 212h0m-44-218h0m-21-72h0m-82 11h0m-104-18h0m152 56h0m91 157h0m-121-2h0m20-194h0m99 81h0m-61-43h0m-181-62h0m263 215h0m-191-193h0m-35-6h0m242 85h0m-10 93h0m-104-139h0m-12 146h0m54 13h0m-66-12h0m112-62h0m-99-75h0m106 172h0m-182-200h0m127 214h0m-156-143h0m236 115h0m-245-110h0m248 156h0m-221-132h0m72 43h0m83 44h0m59 10h0m40-69h0m-144-129h0m76 112h0m-231-110h0m196 179h0m-67-192h0m-96 78h0m219 79h0m15 75h0m-271-131h0m283 74h0m-162-161h0m-103-22h0m225 153h0m-215-139h0m204 148h0m-16-133h0m26 105h0m-51 67h0m1-2h0m63-74h0m-29-28h0m36 82h0m-167-151h0m-107 26h0m186 155h0m-117-192h0m124 187h0m-131-192h0m188 41h0m-96 137h0m-125-157h0m184 20h0m-92-41h0m-70 42h0m279 115h0m-124 42h0m-159-139h0m23 74h0m198 51h0m-60-127h0m-86-60h0m148 153h0m-250-111h0m233 90h0m-180-73h0m56 82h0m-73-123h0m-110-122h0m302 303h0m34-89h0m-159 34h0m-175-167h0m335 184h0m-125-138h0m9 140h0m52 27h0m29 20h0m-193-204h0m14 37h0m71 111h0m143 32h0m-147-37h0m-86-137h0m108 219h0m-85-148h0m53-67h0m38 153h0m79-44h0m-105-109h0m-119 82h0m231 183h0m8-145h0m-37 96h0m-158-185h0m59 127h0m-112-177h0m42 62h0m207 51h0m-39-87h0m-128-62h0m154 177h0m-126-199h0m-68 203h0m296 113h0m-226-52h0m10-57h0m125 68h0m-75-5h0m-154-313h0m64 222h0m120 79h0m-70-188h0m68 180h0m95-54h0m-159 56h0m74-111h0m-39-41h0m-10-10h0m-116 57h0m-90-112h0m119 142h0m81-79h0m118 99h0m-30 15h0m-104-112h0m4 124h0m-106-120h0m9 37h0m151-34h0m29 168h0m-189-205h0m9 71h0m68 74h0m-1 36h0m151-41h0m-128 17h0m102-76h0m-252-64h0m190 169h0m-131-232h0m209 176h0m-223-139h0m163 191h0m53-31h0m-61 39h0m-30 26h0m-43-208h0m171 182h0m-192-59h0m31 21h0m-125-266h0m145 147h0m17 121h0m66 30h0m-191-142h0m182-28h0m-31 10h0m80 172h0m-123-34h0m-25-169h0m75 197h0m-162-155h0m75-30h0m88 0h0m-184-28h0m234 166h0m-106-118h0m-29-39h0m126 94h0m-155 31h0m80-94h0m-49-32h0m-63 23h0"/>
</g>
<path d="M26.9 37.1L27.9 37.8L30.3 38.9L32.8 39.5L35.2 39.2L37.6 37.1L37.6 37.1L38.7 34.7L37.6 32.3L37.6 32.3L36.8 29.9L35.2 28.5L34.7 27.5L32.8 25.3L32.6 25.1L30.3 22.8L29.8 22.8L27.9 21.9L25.9 20.4L25.5 20.1L23.1 19.8L20.6 18.8L18.2 20.4L18.2 20.4L16.1 22.8L17.5 25.1L17.8 27.5L18.2 28.2L19.1 29.9L20.6 31.6L21.3 32.3L23.1 33.9L24.4 34.7L25.5 35.9L26.9 37.1Z" fill="#fff" fill-rule="evenodd"/>
<path d="M19.42 26.34h2.43v2.4h-2.43zM19.42 21.55h2.43v2.4h-2.43zM21.85 21.55h2.43v2.4h-2.43zM24.27 21.55h2.43v2.4h-2.43zM26.7 33.53h2.43v2.4h-2.43zM29.13 23.95h2.43v2.4h-2.43zM31.56 35.92h2.43v2.4h-2.43zM31.56 26.34h2.43v2.4h-2.43zM33.98 33.53h2.43v2.4h-2.43zM33.98 31.14h2.43v2.4h-2.43z" fill="#000" fill-opacity="0.06"/>
<path d="M19.42 23.95h2.43v2.4h-2.43zM21.85 28.74h2.43v2.4h-2.43zM24.27 31.14h2.43v2.4h-2.43zM26.7 23.95h2.43v2.4h-2.43zM31.56 33.53h2.43v2.4h-2.43zM31.56 28.74h2.43v2.4h-2.43z" fill="#000" fill-opacity="0.12"/>
<path d="M29.13 33.53h2.43v2.4h-2.43zM29.13 26.34h2.43v2.4h-2.43z" fill="#000" fill-opacity="0.19"/>
<path d="M31.56 31.14h2.43v2.4h-2.43z" fill="#000" fill-opacity="0.25"/>
<path d="M21.85 26.34h2.43v2.4h-2.43zM21.85 23.95h2.43v2.4h-2.43zM24.27 23.95h2.43v2.4h-2.43z" fill="#000" fill-opacity="0.31"/>
<path d="M26.7 31.14h2.43v2.4h-2.43z" fill="#000" fill-opacity="0.44"/>
<path d="M29.13 31.14h2.43v2.4h-2.43z" fill="#000" fill-opacity="0.5"/>
<path d="M29.13 28.74h2.43v2.4h-2.43z" fill="#000" fill-opacity="0.56"/>
<path d="M24.27 28.74h2.43v2.4h-2.43z" fill="#000" fill-opacity="0.62"/>
<path d="M26.7 26.34h2.43v2.4h-2.43z" fill="#000" fill-opacity="0.69"/>
<path d="M24.27 26.34h2.43v2.4h-2.43z" fill="#000" fill-opacity="0.75"/>
<path d="M26.7 28.74h2.43v2.4h-2.43z" fill="#000" fill-opacity="1"/>
<path class="c" d="M26.9 37.1L27.9 37.8L30.3 38.9L32.8 39.5L35.2 39.2L37.6 37.1L37.6 37.1L38.7 34.7L37.6 32.3L37.6 32.3L36.8 29.9L35.2 28.5L34.7 27.5L32.8 25.3L32.6 25.1L30.3 22.8L29.8 22.8L27.9 21.9L25.9 20.4L25.5 20.1L23.1 19.8L20.6 18.8L18.2 20.4L18.2 20.4L16.1 22.8L17.5 25.1L17.8 27.5L18.2 28.2L19.1 29.9L20.6 31.6L21.3 32.3L23.1 33.9L24.4 34.7L25.5 35.9L26.9 37.1Z"/>
<path class="c" d="M27.9 34.7L30.3 36.2L32.8 36.1L34.5 34.7L34.9 32.3L33.8 29.9L32.8 28.6L32.2 27.5L30.3 25.7L29.5 25.1L27.9 24.1L25.5 22.9L24.4 22.8L23.1 22.3L21.6 22.8L20.6 23.8L20.3 25.1L20.6 27L20.7 27.5L22.4 29.9L23.1 30.6L24.3 32.3L25.5 33.4L27.9 34.7L27.9 34.7Z"/>
<path class="c" d="M27.8 32.3L27.9 32.4L30.3 33.4L31.5 32.3L31.3 29.9L30.3 28.5L29.6 27.5L27.9 26.3L25.5 25.1L23.4 27.5L24.8 29.9L25.5 30.8L27.8 32.3Z"/>
<path class="c" d="M26.5 29.9L27.9 31L29.5 29.9L27.9 27.8L26.5 29.9Z"/>
</g>
<g transform="translate(54.5 254.5)" clip-path="url(#cp)">
<g transform="scale(.1)">
<path class="b" d="M356 111h0m-103 346h0m-39-251h0m52-104h0m119 299h0m-188-178h0m14-169h0m30 102h0m0-20h0m-18 234h0m160-75h0m-41 169h0m-108-248h0m-12 194h0m144-282h0m0 333h0m-131-58h0m0 14h0m-32 39h0m164-169h0m5 4h0m2 75h0m-166-10h0m27-235h0m168-79h0m-51 86h0m-118 328h0m19-349h0m-18 26h0m-116 126h0m236-225h0m-162 247h0m73-267h0m-78 423h0m157-289h0m-138 324h0m199-135h0m-159-246h0m10 11h0m-10-48h0m5 36h0m-51 264h0m176-24h0m-14-221h0m-6 31h0m-113-36h0m144 184h0m-4 61h0m-166-277h0m19 278h0m-26 89h0m-23-201h0m19 122h0m143-258h0m-120-3h0m-24 20h0m173 165h0m-15 70h0m2 81h0m-127-23h0m135 29h0m-147-111h0m-21-105h0m137-110h0m34 106h0m-138-81h0m22 329h0m-4-371h0m84-66h0m-171 342h0m7-133h0m47 37h0m-20-100h0m164-111h0m-164 162h0m205 71h0m-47 165h0m-135-15h0m150 2h0m-14-291h0m12-77h0m-194 313h0m55-234h0m3 205h0m-30 29h0m182-115h0m10 41h0m-239 22h0m204-179h0m13 31h0m-137-164h0m-49 273h0m40-175h0m172-45h0m2 278h0m-141-313h0m82 342h0m-130-361h0m125 121h0m-141 296h0m51-355h0m-18 273h0m-17-117h0m12 121h0m150-189h0m-153 230h0m177-32h0m-169-368h0m126 435h0m-122-13h0m130-126h0m40 11h0m-9-50h0m-188-44h0m152 2h0m-155-30h0m151-67h0m-139 261h0m6-316h0m138 387h0m2-245h0m-101-201h0m-25 303h0m-49-190h0m41 34h0m108-148h0m-91 78h0m-36 148h0m136-162h0m57 134h0m-148-204h0m-51 7h0m181 254h0m-11-15h0m-15-166h0m-163 282h0m214 10h0m-45-43h0m-131 110h0m127-287h0m-3 251h0m-190-134h0m284-93h0m-62 147h0m-146-260h0m182 120h0m-77-183h0m13 251h0m-158-82h0m172 50h0"/>
<path class="b" d="M237 189h0m134 72h0m-106-147h0m-27 60h0m-14 267h0m182 37h0m-167-204h0m191 195h0m-80-7h0m-107-420h0m-29 191h0m-14 6h0m6-163h0m207 295h0m-18-241h0m-163 249h0m-45-35h0m180 79h0m-12 15h0m-130-87h0m-9-56h0m2 28h0m176 28h0m-44 128h0m63-280h0m-149-191h0m-31 270h0m129-165h0m36 258h0m46-274h0m-205 312h0m186-125h0m-194 105h0m-13-150h0m-46-187h0m92 42h0m91 326h0m-8-297h0m68 83h0m-66 179h0m-113-100h0m17-182h0m-15 307h0m135-133h0m-156-178h0m21 317h0m-26-110h0m-11 23h0m37 62h0m24-281h0m138 180h0m-205 188h0m28-124h0m149 8h0m-177-86h0m146-243h0m-152 222h0m212-254h0m-185 179h0m148 18h0m-164 128h0m34-225h0m-19 233h0m36-330h0m140 109h0m-176 95h0m189 15h0m14-58h0m-161-99h0m-12 47h0m-61 68h0m52-151h0m-68 207h0m177-139h0m-114 170h0m133-240h0m-134 358h0m149-324h0m-150 411h0m159-94h0m54-29h0m-224-196h0m20-104h0m-27 362h0m190-314h0m-57-20h0m-136 163h0m181-91h0m-151-18h0m-17 283h0m44-414h0m-36 412h0m153-188h0m-248 224h0m47-275h0m57 215h0m103 75h0m23-338h0m-157-116h0m184 289h0m-27-135h0m-24 229h0m65-139h0m-224-110h0m192 98h0m-120-237h0m98 161h0m-148 199h0m180-331h0m-20 8h0m15 233h0m-118 193h0m-28-123h0m-34 62h0m-19-185h0m3 153h0m44-215h0m-20 47h0m-31 269h0m198-122h0m14-100h0m-46 147h0m-127-44h0m-47 18h0m49-81h0m160 58h0m-240-24h0m99-51h0m107-138h0m35 29h0m16-19h0m-205-77h0m232 307h0m-1-64h0m-52-41h0m-168-32h0m43 129h0m8-351h0m-71 225h0m182-244h0m-119 404h0m1 55h0m-2-10h0m-15-228h0m143 111h0m42-90h0m-173-228h0m5 17h0m120 109h0m-148 243h0"/>
<path class="b" d="M266 103h0m-26 314h0m-68-174h0m194-164h0m-130 354h0m191-35h0m-36 39h0m-131-432h0m-40 260h0m-3 92h0m182-130h0m-42-223h0m-12 441h0m-136-426h0m131 50h0m53 278h0m-19 11h0m-172-115h0m157-169h0m-95 37h0m-80 349h0m183-430h0m-124 32h0m-10 221h0m-47 15h0m74 170h0m114-421h0m-170 329h0m215 47h0m-62-381h0m43 333h0m-7-239h0m-167 34h0m-9 223h0m170-155h0m-19 136h0m-205-82h0m73 91h0m-75-209h0m103 302h0m139-216h0m-1 48h0m-57-238h0m23 180h0m-132 159h0m-22-230h0m154 84h0m-140-197h0m2 170h0m-6 129h0m29-309h0m103-40h0m13 316h0m-191-272h0m63 222h0m-12-232h0m145 241h0m81-64h0m-220-176h0m171 209h0m-169 180h0m135-220h0m49 58h0m-181 107h0m24-316h0m140 5h0m-228 246h0m193-33h0m19-234h0m-200 229h0m170 102h0m-118-149h0m187-12h0m-276 93h0m242 13h0m-249 139h0m64-162h0m19 142h0m134-359h0m-14 330h0m32-14h0m-142-39h0m1 77h0m153-152h0m4-171h0m-21-94h0m-184 383h0m24-130h0m14-134h0m142-66h0m-17-73h0m40 280h0m-169-6h0m-6-181h0m19 336h0m21-372h0m114 25h0m24 107h0m-43-160h0m-153 188h0m-41 70h0m191-220h0m-152-22h0m40 281h0m162-107h0m-24 151h0m-14 56h0m8-415h0m-128 267h0m122 80h0m3-212h0m-137-79h0m147 308h0m-137-10h0m-103-118h0m101 75h0m0 27h0m3-27h0m-32-56h0m151 176h0m7 21h0m-110-12h0m127-10h0m-212-413h0m200 387h0m-170 39h0m61-348h0m-56 221h0m42-263h0m-41 259h0m187-82h0m-17 94h0m-145-77h0m149 183h0m-155-78h0m199-127h0m-208 194h0m149-161h0m-232 198h0m-27-344h0m251 20h0m-17 254h0m-108-80h0m109 83h0m4-302h0m-100 359h0m94-318h0m32 220h0m-23-261h0m-112 270h0"/>
<path class="b" d="M364 280h0m-126 81h0m-9-224h0m202-15h0m-80-121h0m-7 397h0m-135-276h0m-54 88h0m7 162h0m229-243h0m-197 108h0m147-70h0m99 221h0m-269-194h0m36-39h0m-10-28h0m43 2h0m216 193h0m-263-116h0m16 82h0m36 185h0m211-155h0m-83-126h0m-29 249h0m38-272h0m-37 222h0m-177 54h0m261-201h0m-50 5h0m36 78h0m-181 89h0m28-375h0m96 363h0m-215-86h0m236 134h0m-112-410h0m80 352h0m3 3h0m54-344h0m-167 93h0m-28 59h0m30 80h0m174 169h0m-164 6h0m-2-387h0m122 405h0m-121-372h0m114-79h0m-153 292h0m2 17h0m13-169h0m155 137h0m9 71h0m-171 58h0m9-252h0m140 227h0m2-97h0m-2-204h0m-134 75h0m239-15h0m-94-65h0m-135 282h0m111-238h0m-130 212h0m-15-164h0m22-82h0m222-35h0m-190 28h0m-1-80h0m150 390h0m10 17h0m-63-18h0m-122 10h0m-31-40h0m137-343h0m-1 390h0m-148-145h0m23 30h0m191-143h0m-143-74h0m-56-66h0m15 240h0m2-55h0m31-159h0m155 265h0m-37 95h0m64-41h0m-198-247h0m-8-98h0m34 77h0m-10-26h0m187 292h0m-81-259h0m11-32h0m0 172h0m-156 84h0m130 116h0m39-358h0m-176 198h0m2 85h0m21-54h0m178 4h0m-257-311h0m14 122h0m-9-100h0m271 206h0m-39 1h0m-149-145h0m164 147h0m-57 159h0m-110-373h0m142 107h0m-186 39h0m176-8h0m-27 294h0m-166-224h0m31 63h0m-24 54h0m190-1h0m-132-129h0m100-196h0m56 246h0m-36 133h0m-159-54h0m31-327h0m152 253h0m-30 111h0m-118-344h0m-28 203h0m-57-170h0m73 331h0m8-146h0m152 103h0m-45-253h0m-141 33h0m-23 31h0m20-165h0m7 277h0m172 101h0m-192-363h0m270 293h0m-241 72h0m-76-188h0m117-167h0m-21 177h0m32-145h0m154-44h0m-46 165h0m-144 266h0m118-62h0"/>
<path class="b" d="M213 325h0m154-191h0m-131 311h0m113 24h0m-104-376h0m22 380h0m75-326h0m-92-36h0m-53 126h0m152 228h0m17-269h0m-8 214h0m-133-125h0m187 167h0m-216-67h0m33-228h0m116-90h0m-105-41h0m-10-17h0m-2 167h0m137 225h0m0-142h0m21 54h0m-148-28h0m174-194h0m-27 4h0m-144 323h0m26-367h0m112 64h0m-167 272h0m168-88h0m22-97h0m-54-69h0m-143 9h0m151 333h0m-184-261h0m82-196h0m-37 162h0m230 154h0m-67-221h0m-162 294h0m15-60h0m121-268h0m57 204h0m-207 161h0m23-379h0m140 311h0m-138 40h0m120-264h0m-200 185h0m220-58h0m7-191h0m-33 16h0m-120 294h0m14 2h0m133-5h0m-28-372h0m-214 224h0m238 2h0m-146 114h0m161 52h0m-25-262h0m-206 9h0m261 216h0m33 101h0m-89-333h0m-120 174h0m154 15h0m-169-55h0m11-94h0m161 81h0m-172 19h0m172-185h0m-133-79h0m-48 126h0m155 229h0m-26-335h0m-143 196h0m202 52h0m-256-51h0m198-93h0m-122-53h0m124 22h0m-101-103h0m0 370h0m124-134h0m2-18h0m-122 244h0m-8-115h0m150-116h0m-17-82h0m1 18h0m-13-142h0m-141 98h0m-26 36h0m58 307h0m-19-362h0m134 304h0m-141-150h0m-85-39h0m95 171h0m31-346h0m89 88h0m55-16h0m-167 322h0m182-149h0m-82-178h0m-101 147h0m136-112h0m-125-87h0m116 16h0m104 305h0m-289-279h0m30 117h0m187 146h0m-26 80h0m-25-27h0m77-136h0m-196 112h0m-19-160h0m-39 38h0m94-265h0m132 144h0m-178 69h0m135 234h0m46-142h0m-184-180h0m29-62h0m14-64h0m-21 336h0m142-204h0m-140 241h0m-64-2h0m-23-162h0m214-204h0m-109 55h0m83-58h0m-109 257h0m181-56h0m-52-206h0m-110 40h0m93 94h0m-104 3h0m178-27h0m-26 251h0m-52 25h0m27-89h0m10-210h0m-21 359h0m-124-84h0"/>
<path class="b" d="M261 31h0m89 17h0m12 44h0m14 356h0m-18-34h0m15-171h0m15-42h0m-124-93h0m-28 266h0m6-201h0m137 12h0m-115-110h0m-16-49h0m0 11h0m-3 420h0m-60 0h0m-24-194h0m202 208h0m-116-375h0m-33 286h0m6-101h0m190-185h0m-183 258h0m-100-37h0m260 78h0m-144-347h0m105 423h0m44-292h0m-132 280h0m109-422h0m-188 284h0m84-268h0m-52 29h0m137 376h0m-109-371h0m123 200h0m69-248h0m-237 157h0m-32 60h0m-7 207h0m224-286h0m-176-67h0m12 88h0m-69-114h0m111-73h0m-140 277h0m256 43h0m-163-51h0m156-83h0m-101-79h0m107 57h0m-29 228h0m96-53h0m-98-327h0m39 222h0m-17 47h0m-21-217h0m-103 61h0m1 249h0m184-200h0m-217 122h0m139 85h0m-157-266h0m-4-30h0m160-94h0m-149 183h0m151-106h0m49 17h0m-132-92h0m82 47h0m22 334h0m-233-129h0m62-11h0m60-241h0m116 306h0m-117-209h0m-98 191h0m235-23h0m-33-116h0m40 82h0m-222 27h0m27 44h0m147 164h0m33-174h0m-16-35h0m-174 58h0m-14-95h0m263 181h0m-79-258h0m-108-83h0m-67 226h0m41-229h0m28 417h0m-31-14h0m8-283h0m180 35h0m-221 167h0m11-129h0m43-158h0m-9-20h0m167 288h0m-57-240h0m19-103h0m-143 41h0m-10 124h0m146 255h0m-123-175h0m-52-3h0m184 19h0m-128 178h0m123-193h0m-20 169h0m28-50h0m-135-244h0m114 288h0m33-237h0m-184-97h0m48 376h0m-43-334h0m24 53h0m160 99h0m-158-13h0m-2 41h0m12-303h0m-58 228h0m189-128h0m-13 330h0m-139-295h0m17 178h0m217-69h0m-222 111h0m107-225h0m-114-117h0m126 110h0m-116 49h0m-2 173h0m138-187h0m8-172h0m-225 231h0m95 241h0m-25-155h0m15-300h0m13-11h0m84 126h0m-156 323h0m82-350h0m-36 217h0m146-170h0m-183 221h0m-43-178h0"/>
<path class="b" d="M217 203h0m46-188h0m-59 283h0m234-187h0m-61 182h0m-252-33h0m82 60h0m-13 138h0m19-154h0m159-202h0m25 276h0m-22-155h0m-29-133h0m56 268h0m-29-238h0m-7 134h0m53 122h0m-36-17h0m-15-146h0m55-66h0m-24 178h0m-143-274h0m5 64h0m138-110h0m-170 222h0m21-190h0m176 294h0m-42 102h0m-44-32h0m23-328h0m4 286h0m-117-325h0m-42 253h0m50-171h0m-20 57h0m-107 131h0m104-162h0m149-33h0m-157 37h0m169 195h0m-56-307h0m-118 306h0m-4-72h0m129-125h0m-85 325h0m-30-189h0m138-35h0m-175 38h0m164 167h0m58-250h0m-183 76h0m25-156h0m-17 66h0m0 94h0m116-162h0m-135 223h0m183 3h0m-33 57h0m-139-121h0m1 195h0m-58-436h0m10 308h0m153-260h0m-105 55h0m-21 150h0m16-233h0m-11 110h0m202 45h0m-289 169h0m79-84h0m21 100h0m143-77h0m-148-45h0m36-188h0m-55 247h0m135 125h0m-166-333h0m176 268h0m-106-299h0m138 284h0m-159-251h0m138 345h0m-107-391h0m-34-39h0m119 380h0m9-338h0m-127 37h0m148 136h0m63-7h0m-38-86h0m-184-20h0m171 75h0m-134-212h0m93 459h0m63-347h0m2 277h0m-174-7h0m2-290h0m3 85h0m-32 64h0m34 23h0m-4-234h0m-2 363h0m141-40h0m-137-209h0m174 241h0m-203-378h0m45 450h0m-33-465h0m32 21h0m-40 320h0m181-245h0m-262 314h0m207 33h0m20-20h0m-104-314h0m148 197h0m-165-119h0m-21 227h0m180-391h0m-168-23h0m128 469h0m-150-224h0m168-92h0m20 135h0m-243-229h0m38-40h0m33 406h0m10-236h0m109-42h0m22 248h0m-124 30h0m172-339h0m-190 227h0m132 104h0m-115-22h0m126 2h0m-118-354h0m93 365h0m-118-9h0m144-162h0m-139-128h0m-7 253h0m-43 69h0m30-233h0m198 69h0m-170 14h0m123-136h0m-129 330h0m175-51h0"/>
<path class="b" d="M400 447h0m-34-35h0m-113-323h0m107 12h0m-134 65h0m144 126h0m-128-28h0m-37-43h0m180 143h0m-35 37h0m-158-95h0m42 68h0m178-322h0m-206 272h0m165-8h0m-29-219h0m46 209h0m-39-191h0m21 132h0m1 228h0m-29-312h0m-100 6h0m-47 231h0m13-358h0m21 192h0m149-88h0m23-24h0m-194 281h0m154-381h0m-13 397h0m-111 8h0m-21-56h0m-1-316h0m16 415h0m110-13h0m-94-339h0m-15 278h0m-39-322h0m182 204h0m-178 174h0m147-29h0m22-278h0m-218 181h0m99-287h0m-76 249h0m31-74h0m61-162h0m-2 420h0m79-319h0m-115-22h0m128 312h0m-122-293h0m144 20h0m-154 250h0m8-55h0m-77-47h0m88 84h0m150-54h0m-273-132h0m112-167h0m37-16h0m81 413h0m-101-435h0m144 429h0m-21-232h0m-19-99h0m-109-33h0m176 144h0m-200 67h0m20 67h0m-47 114h0m-3-356h0m181 206h0m-175 15h0m72 139h0m123-426h0m-158 175h0m159 76h0m11-107h0m-305 7h0m131-134h0m-79 300h0m50 29h0m174 75h0m-138-199h0m-6-169h0m122-1h0m-90-3h0m-13-47h0m146 84h0m-37-101h0m-137 293h0m44-311h0m124 130h0m-20 201h0m-108-250h0m88-7h0m-152 192h0m31 79h0m122-283h0m-106 292h0m-40-113h0m14-103h0m48-77h0m-42 105h0m34-150h0m119 22h0m-143 410h0m156-178h0m-44 183h0m37-223h0m-146-147h0m-56 339h0m50-155h0m13-16h0m1 113h0m118 87h0m-105-398h0m105 86h0m-122 280h0m110-43h0m-138-133h0m53-228h0m-21 20h0m-30 142h0m44-166h0m109 238h0m-133-227h0m118-31h0m-4 112h0m-140 208h0m174-296h0m-37 366h0m26-322h0m-28 314h0m-141-105h0m60-252h0m-130 373h0m77 23h0m163 52h0m-104-407h0m-30 166h0m149 30h0m-9-233h0m-168 169h0m136 185h0m27-9h0m-25-215h0m25-7h0m-125 315h0"/>
<path class="s" d="M373 65h0m-236-60h0m120 9h0m176 242h0m-70 155h0m7-332h0m-165-14h0m3 291h0m147-315h0m-124 236h0m-33-156h0m46-110h0m-12 369h0m-75-172h0m43 4h0m186-113h0m4 48h0m-137-51h0m135 67h0m-201 181h0m228-123h0m-17 28h0m-151-178h0m-29 374h0m20-223h0m-97-211h0m91 210h0m150 167h0m-206 41h0m-25-22h0m222-143h0m-116 210h0m-51-112h0m22-76h0m-31 166h0m149-382h0m-104 64h0m-33-125h0m137 131h0m48-13h0m-182-22h0m165 147h0m-155 78h0m158 25h0m-23-285h0m-11 367h0m23-398h0m-24 84h0m-87-19h0m-52 2h0m0-79h0m16-20h0m208 143h0m-172-121h0m143 393h0m-190-200h0m241-39h0m-103-148h0m-87 426h0m-36-194h0m-12 24h0m189-200h0m-151 381h0m-32-307h0m211 161h0m-67-10h0m-126-97h0m135 45h0m-3-20h0m20 149h0m-127-343h0m-39 99h0m10 170h0m145 34h0m-127-239h0m-18 156h0m107-117h0m58 129h0m-18 159h0m-137-396h0m-3 77h0m3-18h0m-34 232h0m136-173h0m-112 242h0m-42-350h0m149 30h0m-137 239h0m168-109h0m-204-97h0m73 51h0m-4-23h0m-62 44h0m52 271h0m153-310h0m-120-38h0m-18-25h0m-55 205h0m-45-51h0m58-3h0m145 164h0m18 32h0m-143-205h0m158 93h0m-142-100h0m3-196h0m128 134h0m-144 156h0m4-149h0m13 203h0m-7-333h0m133 338h0m-19-233h0m-152 269h0m17-215h0m130-34h0m-95-90h0m117 272h0m2-65h0m75-246h0m-204 204h0m28-185h0m-1 22h0m101 5h0m-11 30h0m-3-72h0m-177 213h0m67 15h0m123-98h0m-171 38h0m184-49h0m-258 80h0m295 112h0m-58 69h0m-188 29h0m202-156h0m-27-268h0m41 86h0m19-94h0m-20 403h0m-175-71h0m144 95h0m-123-48h0m-39-139h0m178 29h0m-153-27h0m23 186h0m192-251h0m-189 83h0m142-241h0m-142 188h0m104-119h0m-128 100h0m-30 195h0m240-185h0m-241 172h0m192 21h0m-34-296h0m37 177h0m-12-30h0m-114-179h0m-92 28h0m82 359h0m-11-9h0m116-412h0m-121 311h0m153-160h0m-124-140h0m-25 220h0m2 158h0m8-194h0m98 211h0m11-376h0m67 191h0m29 173h0m-99-342h0m-86-11h0m-66 274h0m-68 33h0m221 70h0m58-115h0m-59-202h0m21 37h0m-175 35h0m178-21h0m-171 47h0m-88 32h0m234 154h0m-109-73h0m140-349h0m-120 79h0m120 194h0m-164-225h0m157 33h0m-151 274h0m-21-283h0m27 238h0m-19-136h0m139 258h0m-5-387h0m-106 409h0m30 16h0m93-41h0m-141-225h0m-10 43h0m-17 172h0m-3-78h0m38-129h0m-26-103h0m53-60h0m-55 369h0m161-394h0m67 392h0m-217-130h0m146-197h0m-103-33h0m-47-50h0m226 109h0m-335 189h0m288-78h0m-183 244h0m248-476h0m-56 374h0m-18-171h0m10 197h0m-37-9h0m-5-247h0m57-68h0m-186 195h0m28 63h0m-1 142h0m126-239h0m-144 181h0m35-330h0m104 367h0m35-423h0m-179 293h0m20-153h0m-99 58h0m244 137h0m-144-212h0m167 101h0m-145-231h0m151 84h0m-156-51h0m101 365h0m74-210h0m4 52h0m-180-190h0m-63 45h0m149 284h0m9-332h0m3 3h0m-86-15h0m-37 392h0m182-208h0m-237-112h0m71-83h0m-4 262h0m-3 97h0m-44-399h0m72 17h0m99 426h0m-1-453h0m-136 157h0m17-66h0m154 143h0m-20-11h0m-25-123h0m-125 376h0m140-196h0m-244 10h0m44-232h0m58 314h0m167-197h0m-241-87h0m223 80h0m-128-93h0m14 394h0m127-208h0m8 77h0m-4 18h0m-50-206h0m-81-79h0m-42 148h0m-25 82h0m19-31h0m129 189h0m-111-75h0m14-326h0m2-25h0m-35 369h0m178-223h0m-45-71h0m109 258h0m-224-223h0m118-11h0m-178 82h0m40 140h0m187-99h0m-149-153h0m113-71h0m-139 442h0m117-79h0m46-217h0m-165 55h0m190 81h0m-67 148h0m-122-362h0m7 224h0m117-183h0m-136 265h0m30-300h0m-12 230h0m6 67h0m16-389h0m125 250h0m-178 31h0m-36 51h0m40-59h0m173-8h0m-206 22h0m188-273h0m-134 141h0m-11 8h0m-4 282h0m-6 2h0m147-349h0m-92-67h0m-18 54h0m14 368h0m126-352h0m-192 218h0m79-256h0m124 62h0m-34-47h0m24 335h0m61-76h0m-38-68h0m-170 73h0m139-71h0m-172-3h0m11-272h0m135 447h0m37-176h0m-1 106h0m-200-149h0m188 154h0m7-212h0m-145 49h0m30-189h0m-158 98h0m161-49h0m154 227h0m-31 42h0m-152-82h0m-22-59h0m136-137h0m-103-40h0m9-27h0m-31 333h0m183 14h0m-195 85h0m129-321h0m117 121h0m-95 36h0m-151-29h0m156-7h0m-106 235h0m-69-21h0m191-316h0m-39 307h0m22-223h0m-150 24h0m138-195h0m-179 186h0m169 204h0m-157-189h0m25 96h0m22-186h0m129-92h0m-170 172h0m177-120h0m-185 185h0m203-6h0m-40 147h0m6-287h0m52 192h0m-145-241h0m181 124h0m-253-20h0m23 173h0m149-252h0m4 96h0m-13-91h0m-4 14h0m-150 152h0m143 73h0m-1 35h0m-127-91h0"/>
<path class="s" d="M212 160h0m150-47h0m-99-91h0m-101 350h0m44-218h0m174-41h0m-2-15h0m-162 192h0m191-65h0m-237-149h0m265 325h0m-223-266h0m35-44h0m118 288h0m-122-44h0m169-283h0m-248 362h0m231-149h0m-138-204h0m-30 316h0m-1-211h0m171 129h0m-46-195h0m-121-16h0m129 35h0m-19 46h0m6-66h0m-2 46h0m35 174h0m-177-116h0m10 51h0m173-135h0m-9 316h0m-126-409h0m177 197h0m-200 189h0m163-400h0m-213 309h0m63 64h0m179-306h0m-211 227h0m24-198h0m-34 192h0m36-222h0m139 322h0m44-169h0m-214-122h0m33 123h0m120 168h0m16-394h0m-22 102h0m-149 229h0m35-146h0m181 78h0m38 162h0m-202-337h0m87 350h0m48-65h0m-28-245h0m-122 137h0m-29 104h0m154-312h0m70 168h0m-81 170h0m43 15h0m-200-157h0m45-37h0m-39 121h0m181 104h0m-195-203h0m178 46h0m32 49h0m-23-2h0m-142-54h0m128 170h0m-124-339h0m25-83h0m109 264h0m-24 157h0m-83-372h0m-85 347h0m48-152h0m25-179h0m95 344h0m-2-298h0m-3 322h0m-105-21h0m-13-128h0m-3 48h0m123-215h0m-104 205h0m-36 103h0m163-181h0m-172 191h0m43-277h0m-139-136h0m113 240h0m147 117h0m-126-78h0m8 20h0m130-350h0m-10 397h0m-130-61h0m17 125h0m-9-53h0m8 60h0m15 2h0m184-250h0m-85-82h0m12-126h0m24 129h0m-171-20h0m183 179h0m-167-187h0m178-70h0m-43 40h0m-13 321h0m-136-307h0m15 70h0m151 230h0m-21-145h0m-15 206h0m7-257h0m47 172h0m-67 83h0m-106-431h0m-24 315h0m222-309h0m-170 69h0m116 338h0m-10-110h0m-2 56h0m37-173h0m-42-148h0m-132 253h0m-36-80h0m179-151h0m-140 330h0m127-328h0m-137 85h0m139 118h0m-100-205h0m114 318h0m6-310h0m-18 152h0m96 51h0m-247 18h0m31-228h0m-34 188h0m53-251h0m212 386h0m-222 65h0m-12-361h0m130 10h0m-149 333h0m166-167h0m-167 113h0m12-55h0m115 48h0m2-388h0m35 349h0m-11-74h0m-136-268h0m124 136h0m-142-50h0m-5 100h0m127 202h0m-100-318h0m99 298h0m47-163h0m56 113h0m-181 130h0m157-277h0m-184-95h0m-37 105h0m275-44h0m-69 107h0m36-163h0m-210 243h0m130-314h0m10 263h0m-139-205h0m-39 176h0m25-148h0m20-35h0m-12 60h0m133 334h0m-96-393h0m110 151h0m-11-202h0m-15 399h0m29-106h0m-15 105h0m51-98h0m-215-167h0m29 67h0m172-151h0m-58-38h0m-108 351h0m171-97h0m-208-56h0m177-180h0m-110-54h0m99 250h0m-113-215h0m198 276h0m-210-183h0m167 144h0m-170-162h0m5 243h0m122 116h0m-108-433h0m-96 223h0m77-72h0m-12 34h0m180 84h0m-166 166h0m-25-132h0m-15-296h0m30 69h0m121-28h0m-124 201h0m206-3h0m-204-54h0m236-28h0m-211 269h0m104-373h0m-131 173h0m-1 43h0m170-92h0m-220 78h0m68 13h0m107 152h0m-124-139h0m-7-110h0m-16-89h0m40 204h0m129 116h0m103-329h0m-227-53h0m14 407h0m-28-56h0m147-408h0m-6 154h0m-134 112h0m122-113h0m-102 294h0m91 20h0m-116-440h0m4 377h0m148-129h0m-197 185h0m34-42h0m231-96h0m-192-302h0m-90 87h0m257 128h0m6 122h0m-25-75h0m-44 150h0m-11-21h0m-7-361h0m22 143h0m25 175h0m-26 87h0m-211-38h0m185-410h0m-165 193h0m216-53h0m-176 223h0m22 9h0m20-355h0m-42 61h0m206 270h0m-13-32h0m-153-267h0m-20 200h0m113-163h0m-2-65h0m36 392h0m12-108h0m-134-226h0m-32-59h0m159 215h0m-152-18h0m10 234h0m184-127h0m-39 60h0m-131-311h0m-23 64h0m-10-50h0m142 216h0m13-123h0m16-180h0m-35 64h0m-140 275h0m-9-202h0m138-42h0m-159 275h0m173 93h0m-208-46h0m184-265h0m-116 165h0m149-6h0m-145-56h0m143 61h0m-217 90h0m100-339h0m1-37h0m93 403h0m-118-209h0m145 85h0m-177-77h0m47-143h0m98-53h0m-115 264h0m-63 59h0m68 0h0m-29-215h0m140 243h0m-152-124h0m154 105h0m-124-265h0m34 353h0m107-329h0m-128-39h0m-8 5h0m-8 6h0m150-43h0m-7-68h0m-162 152h0m169 308h0m18-385h0m-155-71h0m-30 418h0m-16-383h0m7 143h0m25 173h0m-2 11h0m-4-69h0m151-70h0m-128-39h0m11-89h0m-9 350h0m184-284h0m-215 90h0m28 24h0m102-126h0m20-12h0m-218 107h0m81 71h0m143 54h0m-107-309h0m112 262h0m12-93h0m-18 243h0m3-258h0m5-51h0m-17 295h0m-133-122h0m118-216h0m-160 248h0m256-248h0m-174-53h0m-2-61h0m119 297h0m-151 75h0m147-225h0m-137 158h0m13-280h0m115 330h0m-148-330h0m184 87h0m-27 125h0m33-229h0m-253 413h0m79-11h0m105-421h0m-103 130h0m25-58h0m104 234h0m-26 85h0m-85-358h0m-45 358h0m165-136h0m-12 93h0m-191-253h0m-34 7h0m103 172h0m-47-104h0m43-138h0m-45 257h0m186 36h0m-121 152h0m-29-291h0m0-6h0m-17 52h0m184-16h0m-202 67h0m188 30h0"/>
</g>
<path d="M22.5 49.1L23.1 49.6L25.5 49.8L27.9 50.7L30.3 50.9L32.8 50.6L35.2 49.3L35.6 49.1L35.6 46.7L36.3 44.3L35.6 41.9L36.7 39.5L37.2 37.1L37.6 34.7L37.6 34.7L37.8 32.3L37.8 29.9L37.6 28.7L37.4 27.5L37.5 25.1L37.5 22.8L37.3 20.4L36.8 18L35.9 15.6L35.8 13.2L35.2 11.7L35 10.8L35.2 8.4L34.9 6L34.7 3.6L34.8 1.2L34.8-1.2L32.8-2.3L30.3-2.7L27.9-2.5L25.5-1.4L25.1-1.2L25.1 1.2L24.2 3.6L24.8 6L24.2 8.4L23.4 10.8L24 13.2L23.1 15.2L22.8 15.6L23.1 16.2L23.6 18L23.1 18.6L21.5 20.4L22.3 22.8L21.5 25.1L22.1 27.5L21.6 29.9L22.3 32.3L22.3 34.7L23.1 37.1L23.1 37.1L23.1 37.1L22.7 39.5L22.8 41.9L23.1 43.5L23.2 44.3L23.1 44.6L22.5 46.7L22.5 49.1Z" fill="#fff" fill-rule="evenodd"/>
<path d="M21.85 35.92h2.43v2.4h-2.43zM21.85 33.53h2.43v2.4h-2.43zM21.85 31.14h2.43v2.4h-2.43zM21.85 28.74h2.43v2.4h-2.43zM21.85 26.34h2.43v2.4h-2.43zM21.85 23.95h2.43v2.4h-2.43zM21.85 21.55h2.43v2.4h-2.43zM21.85 19.16h2.43v2.4h-2.43zM21.85 14.37h2.43v2.4h-2.43zM24.27 45.51h2.43v2.4h-2.43zM24.27 43.11h2.43v2.4h-2.43zM24.27 14.37h2.43v2.4h-2.43zM24.27 11.97h2.43v2.4h-2.43zM24.27 9.58h2.43v2.4h-2.43zM24.27 7.19h2.43v2.4h-2.43zM24.27 4.79h2.43v2.4h-2.43zM24.27 2.4h2.43v2.4h-2.43zM24.27 0h2.43v2.4h-2.43zM31.56 4.79h2.43v2.4h-2.43zM31.56 2.4h2.43v2.4h-2.43zM31.56 0h2.43v2.4h-2.43zM33.98 45.51h2.43v2.4h-2.43zM33.98 43.11h2.43v2.4h-2.43zM33.98 40.72h2.43v2.4h-2.43zM33.98 38.32h2.43v2.4h-2.43zM33.98 16.77h2.43v2.4h-2.43zM33.98 14.37h2.43v2.4h-2.43zM33.98 11.97h2.43v2.4h-2.43zM33.98 9.58h2.43v2.4h-2.43zM33.98 7.19h2.43v2.4h-2.43zM36.41 28.74h2.43v2.4h-2.43zM36.41 26.34h2.43v2.4h-2.43zM36.41 23.95h2.43v2.4h-2.43z" fill="#000" fill-opacity="0.06"/>
<path d="M24.27 40.72h2.43v2.4h-2.43zM24.27 38.32h2.43v2.4h-2.43zM24.27 35.92h2.43v2.4h-2.43zM24.27 16.77h2.43v2.4h-2.43zM26.7 4.79h2.43v2.4h-2.43zM26.7 2.4h2.43v2.4h-2.43zM26.7 0h2.43v2.4h-2.43zM29.13 7.19h2.43v2.4h-2.43zM29.13 4.79h2.43v2.4h-2.43zM29.13 2.4h2.43v2.4h-2.43zM29.13 0h2.43v2.4h-2.43zM31.56 45.51h2.43v2.4h-2.43zM31.56 43.11h2.43v2.4h-2.43zM31.56 40.72h2.43v2.4h-2.43zM31.56 11.97h2.43v2.4h-2.43zM31.56 9.58h2.43v2.4h-2.43zM31.56 7.19h2.43v2.4h-2.43zM33.98 35.92h2.43v2.4h-2.43zM33.98 33.53h2.43v2.4h-2.43zM33.98 31.14h2.43v2.4h-2.43zM33.98 28.74h2.43v2.4h-2.43zM33.98 26.34h2.43v2.4h-2.43zM33.98 21.55h2.43v2.4h-2.43zM33.98 19.16h2.43v2.4h-2.43z" fill="#000" fill-opacity="0.12"/>
<path d="M24.27 33.53h2.43v2.4h-2.43zM24.27 19.16h2.43v2.4h-2.43zM26.7 45.51h2.43v2.4h-2.43zM26.7 43.11h2.43v2.4h-2.43zM26.7 11.97h2.43v2.4h-2.43zM26.7 9.58h2.43v2.4h-2.43zM26.7 7.19h2.43v2.4h-2.43zM29.13 9.58h2.43v2.4h-2.43zM31.56 38.32h2.43v2.4h-2.43zM31.56 16.77h2.43v2.4h-2.43zM31.56 14.37h2.43v2.4h-2.43zM33.98 23.95h2.43v2.4h-2.43z" fill="#000" fill-opacity="0.19"/>
<path d="M24.27 31.14h2.43v2.4h-2.43zM24.27 28.74h2.43v2.4h-2.43zM24.27 26.34h2.43v2.4h-2.43zM24.27 21.55h2.43v2.4h-2.43zM26.7 40.72h2.43v2.4h-2.43zM26.7 38.32h2.43v2.4h-2.43zM26.7 14.37h2.43v2.4h-2.43zM29.13 45.51h2.43v2.4h-2.43zM29.13 43.11h2.43v2.4h-2.43zM29.13 11.97h2.43v2.4h-2.43zM31.56 35.92h2.43v2.4h-2.43zM31.56 33.53h2.43v2.4h-2.43z" fill="#000" fill-opacity="0.25"/>
<path d="M24.27 23.95h2.43v2.4h-2.43zM26.7 16.77h2.43v2.4h-2.43zM29.13 40.72h2.43v2.4h-2.43zM29.13 38.32h2.43v2.4h-2.43zM29.13 14.37h2.43v2.4h-2.43zM31.56 31.14h2.43v2.4h-2.43zM31.56 19.16h2.43v2.4h-2.43z" fill="#000" fill-opacity="0.31"/>
<path d="M26.7 35.92h2.43v2.4h-2.43zM29.13 16.77h2.43v2.4h-2.43zM31.56 28.74h2.43v2.4h-2.43zM31.56 21.55h2.43v2.4h-2.43z" fill="#000" fill-opacity="0.38"/>
<path d="M26.7 33.53h2.43v2.4h-2.43zM26.7 19.16h2.43v2.4h-2.43zM31.56 26.34h2.43v2.4h-2.43z" fill="#000" fill-opacity="0.44"/>
<path d="M26.7 31.14h2.43v2.4h-2.43zM29.13 35.92h2.43v2.4h-2.43zM29.13 33.53h2.43v2.4h-2.43zM29.13 19.16h2.43v2.4h-2.43zM31.56 23.95h2.43v2.4h-2.43z" fill="#000" fill-opacity="0.5"/>
<path d="M26.7 28.74h2.43v2.4h-2.43zM26.7 21.55h2.43v2.4h-2.43zM29.13 31.14h2.43v2.4h-2.43z" fill="#000" fill-opacity="0.56"/>
<path d="M26.7 26.34h2.43v2.4h-2.43zM26.7 23.95h2.43v2.4h-2.43z" fill="#000" fill-opacity="0.62"/>
<path d="M29.13 28.74h2.43v2.4h-2.43zM29.13 21.55h2.43v2.4h-2.43z" fill="#000" fill-opacity="0.69"/>
<path d="M29.13 26.34h2.43v2.4h-2.43z" fill="#000" fill-opacity="0.75"/>
<path d="M29.13 23.95h2.43v2.4h-2.43z" fill="#000" fill-opacity="1"/>
<path class="c" d="M22.5 49.1L23.1 49.6L25.5 49.8L27.9 50.7L30.3 50.9L32.8 50.6L35.2 49.3L35.6 49.1L35.6 46.7L36.3 44.3L35.6 41.9L36.7 39.5L37.2 37.1L37.6 34.7L37.6 34.7L37.8 32.3L37.8 29.9L37.6 28.7L37.4 27.5L37.5 25.1L37.5 22.8L37.3 20.4L36.8 18L35.9 15.6L35.8 13.2L35.2 11.7L35 10.8L35.2 8.4L34.9 6L34.7 3.6L34.8 1.2L34.8-1.2L32.8-2.3L30.3-2.7L27.9-2.5L25.5-1.4L25.1-1.2L25.1 1.2L24.2 3.6L24.8 6L24.2 8.4L23.4 10.8L24 13.2L23.1 15.2L22.8 15.6L23.1 16.2L23.6 18L23.1 18.6L21.5 20.4L22.3 22.8L21.5 25.1L22.1 27.5L21.6 29.9L22.3 32.3L22.3 34.7L23.1 37.1L23.1 37.1L23.1 37.1L22.7 39.5L22.8 41.9L23.1 43.5L23.2 44.3L23.1 44.6L22.5 46.7L22.5 49.1Z"/>
<path class="c" d="M26.8 49.1L27.9 49.7L30.3 50.2L32.8 49.4L33.3 49.1L33.3 46.7L33 44.3L33.3 41.9L34.2 39.5L34.3 37.1L34.8 34.7L34.7 32.3L35.1 29.9L34.7 27.5L35.2 25.9L35.5 25.1L35.2 22.8L35.2 22.8L35 20.4L34.3 18L33.8 15.6L33 13.2L32.8 10.8L32.8 10.8L31.6 8.4L30.3 6L27.9 8L27.6 8.4L27.6 10.8L27 13.2L25.5 14.8L25 15.6L25.5 16.4L26.2 18L25.5 19L24.3 20.4L24.6 22.8L23.6 25.1L24.1 27.5L23.6 29.9L24.3 32.3L24.6 34.7L24.9 37.1L25.5 38.6L25.8 39.5L26.6 41.9L26.7 44.3L26.8 46.7L26.8 49.1ZM27.3 3.6L27.9 4.4L30.3 6L30.7 3.6L31.7 1.2L31.7-1.2L30.3-1.7L28.3-1.2L28.3 1.2L27.9 1.8L27.3 3.6Z"/>
<path class="c" d="M29.1 49.1L30.3 49.4L31.2 49.1L31.2 46.7L30.3 45.6L29.1 46.7L29.1 49.1ZM30.2 41.9L30.3 42L30.4 41.9L31.6 39.5L32.2 37.1L32.5 34.7L32.6 32.3L32.8 31.7L33.3 29.9L33.2 27.5L33 25.1L32.8 22.8L32.8 22.8L32.8 22.8L33 20.4L32.8 19.7L31.8 18L30.8 15.6L30.3 15.1L29.9 15.6L27.9 17.7L27.8 18L26.4 20.4L26.5 22.8L25.5 24.3L25.1 25.1L25.5 27L25.6 27.5L25.5 28.6L25.3 29.9L25.5 30.6L26.2 32.3L26.8 34.7L26.8 37.1L27.7 39.5L27.9 40L30.2 41.9Z"/>
<path class="c" d="M29.3 32.3L30.3 34.6L31 32.3L30.6 29.9L31.1 27.5L31.9 25.1L31.4 22.8L30.3 20.4L28.8 22.8L28.4 25.1L27.9 27.3L27.8 27.5L27.9 27.9L29.8 29.9L29.3 32.3Z"/>
</g>
<g transform="translate(105.3 254.5)" clip-path="url(#cp)">
<g transform="scale(.1)">
<path class="b" d="M166 244h0m124 199h0m-146-157h0m171 102h0m-36-339h0m-10-31h0m5 14h0m32 263h0m-118-212h0m125 340h0m27-141h0m15-279h0m-188 433h0m109 1h0m-120-23h0m-95-60h0m80-258h0m179 169h0m-136-192h0m110 129h0m-124 43h0m-14 208h0m-7 20h0m151-99h0m-18 69h0m-114-441h0m0 152h0m-8 138h0m177-264h0m-155 83h0m-24 333h0m111-336h0m-113 296h0m266-166h0m-240-170h0m124-40h0m-138 187h0m-33 37h0m214-41h0m-54 243h0m-126-277h0m163 108h0m-190 107h0m187-55h0m-140-284h0m-74 245h0m239 2h0m-197-151h0m8-53h0m155 185h0m-23 198h0m45-75h0m-198-258h0m139-40h0m-130 91h0m1-9h0m-25 97h0m319-189h0m-353 11h0m201 253h0m-147-100h0m-66-145h0m269 205h0m-10-1h0m-48 19h0m-18 96h0m33-189h0m-219-203h0m64 144h0m3 116h0m-24 18h0m161-35h0m73 159h0m-68-337h0m40 338h0m-171-148h0m102-264h0m51 111h0m-157 191h0m135 18h0m-169-50h0m-3-120h0m23 82h0m-40-261h0m34 377h0m34-287h0m-49 126h0m52-160h0m-13 250h0m142-113h0m-154 250h0m-28-280h0m26-108h0m-32 77h0m45 151h0m-17-192h0m34-10h0m-29 119h0m161 165h0m26-367h0m-177 100h0m-37 221h0m231-108h0m-264 104h0m224-69h0m-243 0h0m85 47h0m137-134h0m-166 76h0m37 10h0m-62-48h0m13 233h0m11-269h0m164-60h0m-133 178h0m143-54h0m-176 154h0m-20-312h0m222 158h0m-19 80h0m46 72h0m-36-310h0m-186 223h0m33-22h0m-33-13h0m160-11h0m9-73h0m-175-76h0m243 132h0m-99-204h0m18 79h0m54 242h0m-51-182h0m82 278h0m-269-185h0m167-229h0m-149 189h0m44-41h0m126-102h0m9 352h0m12 23h0m-163-20h0m201-69h0m-42 69h0m-19-156h0m12-262h0m-137 301h0m132-105h0m-131 259h0m123-162h0"/>
<path class="b" d="M83 385h0m96-294h0m160 381h0m-173-393h0m135 98h0m-133-117h0m148 261h0m-7-76h0m-163 24h0m165-6h0m-145 192h0m137-313h0m-154 21h0m42-161h0m121 339h0m-161-206h0m19 197h0m-62-21h0m12-1h0m48-139h0m-18 256h0m128 17h0m-119-7h0m153-100h0m-133-231h0m102 325h0m-130-291h0m-11 92h0m5 116h0m25-329h0m8-3h0m193 24h0m-183 5h0m124 144h0m-245 73h0m237 26h0m-121-263h0m119 314h0m-2-60h0m-27 155h0m-118-57h0m254 4h0m-264-213h0m160 75h0m-192 76h0m233-48h0m-193 54h0m-41-113h0m35-174h0m-8 299h0m154-93h0m-104-237h0m131 194h0m-4 250h0m-135-442h0m-13 33h0m170 225h0m-191 179h0m20-233h0m-7 38h0m8 52h0m104-200h0m-142 294h0m28-337h0m-21 68h0m-121 260h0m49-37h0m98-175h0m8-62h0m-36 197h0m159-199h0m-188 143h0m232-88h0m-268 43h0m237 55h0m5-109h0m-34-111h0m29-2h0m109 87h0m-265-47h0m41 20h0m110 101h0m-130-93h0m117-85h0m3 382h0m67-151h0m-15-61h0m-51 74h0m-162 23h0m11 124h0m21-334h0m-4 103h0m-5 255h0m144-239h0m0-89h0m-26-59h0m-95 61h0m95 316h0m-104-154h0m-9 24h0m-18-84h0m168-117h0m11-4h0m19 349h0m-190-198h0m145-41h0m37 18h0m-170-216h0m153 175h0m-19 250h0m-155-150h0m3 94h0m19-163h0m-53 135h0m185-58h0m16-129h0m-146 139h0m22-246h0m120 141h0m1 88h0m18-116h0m-32-14h0m-12-110h0m38 64h0m-150-87h0m124 143h0m-142 273h0m19-242h0m141 78h0m-26-226h0m9 284h0m20-149h0m-162 91h0m16-169h0m2 310h0m158-210h0m-44-170h0m-243 443h0m308-201h0m-18-44h0m-181 200h0m160-227h0m-42-169h0m33 139h0m-156-13h0m213 72h0m-31-8h0m-57 223h0m47-35h0m-163-132h0"/>
<path class="b" d="M420 402h0m-276 0h0m11-195h0m10 224h0m-34-107h0m223-153h0m-54 144h0m-129-305h0m-23 113h0m152 199h0m-148 147h0m-70-196h0m79 61h0m213-204h0m-240 290h0m212-198h0m-2 248h0m-197-336h0m37-29h0m122 19h0m-142 25h0m-20-126h0m4 374h0m-22 68h0m174-234h0m-174-48h0m35 255h0m-45-50h0m352 55h0m-323-196h0m193-49h0m-60-129h0m-119 329h0m23-386h0m124 165h0m-162 108h0m220-68h0m-55 123h0m-154-62h0m-14-228h0m3 150h0m40-87h0m-34 149h0m148-237h0m-170 121h0m3 151h0m-56 99h0m80-364h0m-24-27h0m9 159h0m-16 192h0m210-197h0m-54-129h0m25 234h0m-129-174h0m-40 357h0m47-431h0m173 431h0m-208-425h0m37 4h0m-75 284h0m6 78h0m26-371h0m177 108h0m-21-66h0m-4 365h0m90-215h0m-70 90h0m-5 38h0m-37-326h0m35 379h0m-14 60h0m2-116h0m-21-325h0m3 100h0m-146-52h0m1 291h0m164 53h0m-24 43h0m21-331h0m-128 19h0m132-1h0m-110-107h0m86 429h0m-108-451h0m3 307h0m154-300h0m0 172h0m-28 61h0m7-17h0m38 168h0m-32-212h0m-11 125h0m-145-19h0m-13-132h0m209 182h0m-51-164h0m4 89h0m-150 167h0m174-241h0m-155 100h0m152 45h0m-9-93h0m-14 219h0m-147-271h0m18-163h0m139 158h0m33 32h0m-156-163h0m116 40h0m-132 290h0m129-195h0m1 147h0m16-100h0m-148-189h0m-47 93h0m49 174h0m-20-279h0m-8 288h0m19-196h0m-60 238h0m57-72h0m-3 69h0m1-260h0m-8 147h0m200 225h0m-66-453h0m-123 257h0m165-42h0m14 172h0m-61-345h0m56 362h0m0-147h0m-40-19h0m15-126h0m-184 171h0m222 163h0m-34-129h0m-126-242h0m-33-12h0m154 184h0m57-115h0m-202 35h0m-6 74h0m-2-66h0m217 124h0m-190-287h0m155 239h0m-173-14h0m-34-160h0"/>
<path class="b" d="M150 437h0m-16-18h0m-90-59h0m237-323h0m-146 163h0m157 29h0m-137-115h0m117-5h0m-107-81h0m206 14h0m-67 240h0m-188-142h0m46 242h0m-36-175h0m186-192h0m55 204h0m-35 162h0m-27 56h0m55-153h0m-197-196h0m1 290h0m11-358h0m0 83h0m140 152h0m-197 112h0m6-139h0m36-202h0m173 90h0m-173 91h0m1 108h0m-35-64h0m166 135h0m-108-287h0m-64 233h0m222-77h0m-32 19h0m-3-266h0m-140 277h0m-7 116h0m-1-229h0m137 207h0m66-343h0m-95 405h0m30-112h0m-162-10h0m169-78h0m-3 138h0m-142-111h0m-4 117h0m-21-33h0m144-310h0m31 253h0m-147 26h0m-13-161h0m125-55h0m25 184h0m-141 81h0m-19-194h0m164-1h0m-175 150h0m27 103h0m221-356h0m-71 169h0m2 170h0m43-303h0m-199 165h0m15 88h0m-42-129h0m171 32h0m-170-18h0m-6-141h0m278 231h0m-66-28h0m-26-117h0m-181 72h0m44 142h0m144-263h0m-142 225h0m10-315h0m154 329h0m-178 11h0m-2-26h0m14 17h0m124-147h0m-147-79h0m162 96h0m-161 43h0m249-90h0m-104 132h0m-144-312h0m10 247h0m136-1h0m8 8h0m7-40h0m-221 9h0m66 6h0m-41 123h0m205-375h0m-1 470h0m-175-40h0m51-368h0m-40 208h0m0 135h0m149-41h0m-4-273h0m-143 237h0m190-263h0m-154-34h0m108-13h0m-138 67h0m158 225h0m-153-32h0m109 155h0m-141-174h0m25-250h0m219 1h0m-89 84h0m-122 143h0m-13 131h0m-4-355h0m14 228h0m-3 70h0m136-133h0m-153-34h0m39-80h0m105 50h0m-239 158h0m122-25h0m-27-161h0m195 4h0m-46 142h0m39 40h0m-215 15h0m185-42h0m37 12h0m-181-185h0m148 200h0m-230-149h0m250 99h0m-154-206h0m-64 237h0m199-75h0m46 183h0m-58 105h0m-127-41h0m2-281h0m8-29h0m-100 132h0m79-91h0m113 291h0"/>
<path class="b" d="M389 231h0m-57 115h0m-53 98h0m37-177h0m-155-131h0m226 147h0m-215-231h0m10-49h0m167 222h0m-235 136h0m173-300h0m-122 99h0m-5 248h0m140-177h0m7-108h0m-137 321h0m146-170h0m-147-86h0m1 259h0m178-25h0m-206-139h0m15-40h0m138-145h0m28 87h0m-47 248h0m-163-59h0m191-183h0m-11-14h0m-19-165h0m35 442h0m2 13h0m-127-419h0m-40 250h0m-15 28h0m4-74h0m171-122h0m-9 92h0m-119-164h0m218 281h0m-206-304h0m-26 157h0m-4 136h0m12-212h0m134 106h0m49-119h0m-189 163h0m132 53h0m21-276h0m34 428h0m-191-431h0m-22 1h0m147-7h0m35 151h0m-183-14h0m-8 200h0m143 73h0m-111-353h0m12-31h0m150 54h0m-22 134h0m-33-134h0m-115 201h0m-33-87h0m65-114h0m140 223h0m-212-315h0m202 289h0m-37-206h0m-134 172h0m35-168h0m126-80h0m-37 14h0m-158 381h0m192-4h0m-150-376h0m-25 269h0m43-56h0m-58 145h0m48 0h0m33-394h0m-34 142h0m118-45h0m17 202h0m45 22h0m-45 7h0m-126-138h0m132 11h0m-273-59h0m265 319h0m8-179h0m-7-70h0m6-51h0m-6 152h0m-141 13h0m14-135h0m12-141h0m8 33h0m-36 111h0m146 60h0m-165 110h0m1-321h0m173-10h0m-7 124h0m2 184h0m-33-253h0m-178 338h0m237-125h0m-158 5h0m-37 59h0m47-371h0m136 332h0m18-70h0m22 115h0m-216 8h0m26 25h0m137-194h0m8-189h0m-140 164h0m25-98h0m-32 11h0m-72 161h0m238-242h0m-143 42h0m121 240h0m17-165h0m-168 174h0m136-55h0m-146 63h0m-24 139h0m69-369h0m109 20h0m-175-40h0m174 315h0m32-137h0m-146-162h0m-23 49h0m159 117h0m-174 209h0m13-213h0m10 188h0m0-78h0m-19-343h0m192 418h0m-2-189h0m-27-33h0m-296-201h0m283 150h0m33-136h0m-66 6h0m1-13h0"/>
<path class="b" d="M299 310h0m60-40h0m-211 1h0m151-1h0m30-222h0m-152 8h0m-16 403h0m-31-458h0m33 446h0m136-403h0m-139 214h0m-36 78h0m24-88h0m-17-52h0m37 89h0m136 14h0m16-55h0m13-116h0m-17 74h0m-44 233h0m-193-78h0m68-237h0m-5 18h0m174 223h0m-4-82h0m-125-262h0m138 339h0m-201 108h0m165-441h0m-149 230h0m-20 81h0m20-200h0m15 46h0m36-144h0m-14 52h0m152 191h0m-7 126h0m-133-376h0m4 70h0m-47 200h0m20-238h0m132 174h0m-24 198h0m35-87h0m-165-81h0m4 7h0m-13 85h0m157-132h0m-138 51h0m35-170h0m107 205h0m-190 89h0m12-328h0m245 254h0m-222 53h0m211-180h0m-218 124h0m21-153h0m203-47h0m-184-31h0m-2-87h0m16 95h0m110 67h0m-161 207h0m228-21h0m-329 75h0m280 38h0m-150-165h0m130-43h0m0 76h0m20-264h0m-148 312h0m-10-200h0m176 159h0m-38-285h0m-1 393h0m-162-158h0m22 7h0m258-220h0m-103 355h0m-259-256h0m110 90h0m134-131h0m3 176h0m46-73h0m-172-156h0m120 193h0m29-3h0m-133-155h0m134 78h0m-159-187h0m-43 31h0m152 401h0m83-209h0m-230-25h0m168 175h0m12-281h0m-171 304h0m194-91h0m-250-33h0m246 71h0m16-37h0m-30 91h0m-6-264h0m-127-59h0m-53 183h0m171 207h0m-168-103h0m18-4h0m19-102h0m135-38h0m-145 39h0m148-182h0m4 198h0m-124-187h0m230 137h0m-243 83h0m-16 64h0m-48-116h0m190 21h0m-148 174h0m40-433h0m184 314h0m-257-157h0m160-164h0m45 317h0m-154-5h0m177 39h0m-41-154h0m26 29h0m0-237h0m-163 285h0m-3 175h0m186-389h0m-47 137h0m-148 259h0m210-118h0m-47-205h0m-168 224h0m160-72h0m-24 136h0m-147-431h0m178 102h0m-2-22h0m37 11h0m-69 18h0m-168 233h0m189-196h0m-142 17h0m-22-41h0"/>
<path class="b" d="M169 261h0m100 178h0m14-412h0m-163 81h0m40 323h0m137-49h0m-128-286h0m1 196h0m167 119h0m-222-99h0m14 87h0m6 49h0m8-111h0m-9-317h0m28 454h0m153-212h0m-163-165h0m151-46h0m25-8h0m-165 45h0m216 376h0m-103-32h0m16 2h0m-108-380h0m-17 63h0m-36 272h0m-19-225h0m181-5h0m-131 172h0m135 42h0m46-181h0m-174 119h0m189 107h0m-212-282h0m214 302h0m-214-190h0m1 74h0m146 100h0m-167-224h0m237 59h0m-56 96h0m-140-177h0m-31-156h0m56 76h0m-119 74h0m66 158h0m142 118h0m68-380h0m-72 366h0m37-16h0m55-266h0m-72 102h0m36-32h0m-211 100h0m204 39h0m-26-154h0m-159 99h0m-10 131h0m165-86h0m-133-51h0m18-282h0m206 178h0m-235 114h0m213 26h0m-10-47h0m-86 151h0m-87-332h0m88-65h0m90 340h0m-37-19h0m-172-98h0m-35 167h0m49-428h0m5 141h0m-20 20h0m-3 239h0m169-212h0m-38-138h0m-6 382h0m-101-389h0m-82 22h0m224-63h0m4 103h0m12 199h0m-57-239h0m20 78h0m-126 237h0m-28-197h0m10-125h0m145 125h0m-171-65h0m41 189h0m-2 55h0m177-253h0m-34 166h0m7-25h0m-159-5h0m146-83h0m26-20h0m-22 127h0m0 80h0m-9-314h0m41 49h0m-190 260h0m-26-126h0m164-105h0m10 257h0m-174 50h0m209-337h0m-58 361h0m-80-409h0m-71 389h0m46-97h0m15-238h0m-13 35h0m141 79h0m-9 170h0m63-110h0m-185-173h0m-22 219h0m17-235h0m152 129h0m-3 142h0m-235-34h0m220-76h0m-137 233h0m10-364h0m97-69h0m70 164h0m-161-122h0m-28 58h0m243 255h0m-102-58h0m-103-302h0m112 344h0m-7-242h0m-142 194h0m136-154h0m-117-97h0m126 356h0m-16-327h0m-137 97h0m9 64h0m161-16h0m-46 196h0m12-349h0m-165 274h0m231-111h0m-51-93h0m-140 28h0"/>
<path class="b" d="M158 188h0m122-169h0m50 9h0m-151-21h0m-45 82h0m24 224h0m-4 47h0m4-234h0m-3 273h0m113-388h0m-79 107h0m118 167h0m15 15h0m-193-21h0m24 24h0m-68-64h0m63-158h0m-9 272h0m-41 99h0m231-392h0m-178 346h0m118-296h0m44 191h0m13-288h0m-15 43h0m-123-47h0m118 255h0m-199 53h0m48-46h0m159 191h0m-9-457h0m-3 141h0m-137 217h0m120-344h0m-171 325h0m47-23h0m7 5h0m123 73h0m-18-282h0m-128-22h0m187 157h0m-200-141h0m12 65h0m47-115h0m132 173h0m-12-84h0m38 315h0m-34-238h0m-173 32h0m132 182h0m-111-375h0m4-2h0m-44 308h0m-36-140h0m212 60h0m-191-92h0m209 4h0m-218-40h0m90-112h0m-82-19h0m32 193h0m170-104h0m-17 133h0m16-75h0m-170 85h0m-28-53h0m192 264h0m-157-430h0m-6 276h0m2-107h0m163-88h0m-142 50h0m6 157h0m0-234h0m141 182h0m-178-56h0m147-210h0m-168 15h0m56 146h0m-27-167h0m153 354h0m-133-34h0m170-88h0m-185 175h0m21-215h0m205 135h0m-44-135h0m-2-88h0m-159-70h0m-17 348h0m-6-254h0m17 241h0m-22-68h0m-5-41h0m27 95h0m131 79h0m-10 8h0m-123-43h0m36-290h0m-9-18h0m-24-94h0m10 112h0m132 78h0m-134-91h0m1-70h0m-44 212h0m44-7h0m-16-152h0m188 142h0m-231-20h0m159-188h0m-102 99h0m125 120h0m-129 91h0m107-297h0m51 352h0m-16-50h0m-149-21h0m8-16h0m141-97h0m24 77h0m-29 40h0m-2-113h0m-144 86h0m24-291h0m7 93h0m108 353h0m-5-383h0m31 308h0m-174-253h0m18 319h0m-56-221h0m55 56h0m109 157h0m-178-222h0m71-3h0m205-54h0m-215 160h0m-12 48h0m163-13h0m-112-292h0m108 194h0m-136-89h0m130 297h0m-179-90h0m40-64h0m-2-98h0m152 57h0m-154 44h0m156-227h0"/>
<path class="s" d="M155 290h0m-42-186h0m220 78h0m-35 180h0m15-55h0m-170-135h0m-16 92h0m16-238h0m27 230h0m151 16h0m8-101h0m-233 29h0m83-94h0m-47 330h0m169-119h0m-258-193h0m96 237h0m187 75h0m-34-40h0m7-156h0m-189-121h0m48 162h0m199-119h0m-48-47h0m14 223h0m-268-118h0m129-121h0m130 146h0m-145-57h0m255 258h0m-93-64h0m-55-316h0m55 174h0m-175 204h0m-32-216h0m-19 181h0m194-381h0m-29 35h0m-84-50h0m120 292h0m-215-234h0m218 166h0m2 190h0m-137-420h0m109 60h0m-139 183h0m-68 159h0m242-284h0m-149 176h0m125 46h0m28-95h0m-160 54h0m213-111h0m-224-55h0m183 81h0m-10-188h0m-161 444h0m112-45h0m-154-353h0m55 20h0m-21 81h0m-8 86h0m5-138h0m-34 317h0m234-81h0m-190-236h0m5 134h0m128-135h0m76 238h0m-102 72h0m72-191h0m-174-144h0m161 198h0m-35 157h0m7-195h0m-7 18h0m-216 19h0m258-223h0m29 342h0m-206 17h0m180-268h0m-6 185h0m-62 92h0m-113-316h0m150-41h0m-138 312h0m-85-155h0m222 51h0m26-19h0m-201 187h0m-3-198h0m203-98h0m-188 4h0m165 274h0m-148-419h0m182 243h0m-49 9h0m-196-54h0m212 21h0m-167 26h0m151-1h0m-170 92h0m192-213h0m-25-146h0m-1 437h0m33-76h0m-173 109h0m153-42h0m-110-328h0m77 343h0m8-407h0m23 206h0m-144 84h0m112-318h0m-118 13h0m158 129h0m-143-4h0m153 14h0m-216 259h0m190-197h0m47 220h0m-217-309h0m224 85h0m-28 62h0m2-191h0m-26 148h0m46 198h0m-23-118h0m-12-115h0m-138-48h0m16-82h0m-74-4h0m193 304h0m26-168h0m-194 147h0m179-139h0m-15 155h0m-2-207h0m6 110h0m11-27h0m-45 200h0m29-35h0m22-57h0m47-124h0m-210 207h0m6-344h0m157 333h0m8-350h0m-146-4h0m-103 225h0m81 81h0m0-246h0m167 240h0m-151-365h0m131 318h0m-10-64h0m-123-150h0m192 202h0m-81-203h0m-10-101h0m-140 356h0m192-128h0m-181-142h0m6 161h0m-41-44h0m183 60h0m20-118h0m-213 165h0m30 74h0m-3 64h0m187-230h0m-172 174h0m-9-192h0m21-21h0m168-7h0m-141-168h0m122 219h0m-5-229h0m-170 17h0m-19 321h0m187-101h0m-175 232h0m20-151h0m-12 151h0m141-439h0m-110 372h0m214-103h0m-239 17h0m16-295h0m133 424h0m-7-336h0m-115 209h0m-51-63h0m42-92h0m149 143h0m-141-268h0m134 432h0m-161-259h0m12-20h0m-1 61h0m128-205h0m-110 254h0m16-213h0m-40 194h0m28 74h0m121 74h0m-136-336h0m144 121h0m4 80h0m-132-45h0m131 98h0m-125-278h0m153 103h0m-166 194h0m143-88h0m62-212h0m-69 382h0m-139-56h0m6-26h0m3 20h0m-26-86h0m44-213h0m-21 321h0m185-346h0m-194 245h0m-34-54h0m42-106h0m111-98h0m-145 232h0m180 188h0m-128-430h0m-39 282h0m3-257h0m20 311h0m120-365h0m-146 162h0m225 78h0m-238-73h0m217 11h0m-38 72h0m-140 203h0m-22-118h0m164-242h0m-150 99h0m-18 147h0m160 22h0m-125-283h0m147 276h0m-27-83h0m59 125h0m-259-60h0m207-36h0m25-58h0m-33 100h0m26-265h0m-173 66h0m151-126h0m44 311h0m-189-69h0m-25-182h0m-30 329h0m252-135h0m-238 16h0m16-1h0m44-205h0m-21-4h0m-19 89h0m197-137h0m-36 196h0m0 37h0m-12-233h0m-196 220h0m233-67h0m-184 113h0m135 139h0m1-352h0m39 211h0m-33 124h0m6-327h0m-124 354h0m-38-213h0m198-37h0m-132-114h0m121 180h0m138 105h0m-112-79h0m-169-220h0m-90 187h0m240-97h0m-145 70h0m1 75h0m203-147h0m-201-158h0m163 436h0m-175-66h0m29-345h0m140 256h0m-166-131h0m150 69h0m-11 245h0m8-124h0m-236-180h0m204-72h0m-127 145h0m227-230h0m-80 369h0m-5 16h0m-115-381h0m-23 408h0m119-371h0m34 137h0m37 103h0m-20 58h0m-28-18h0m49-66h0m24 29h0m-84-285h0m-125 81h0m3 55h0m180 64h0m-182 103h0m161 147h0m2-253h0m-179 196h0m175 53h0m-192-253h0m21 128h0m-11 41h0m152 59h0m3-26h0m10 27h0m-158-86h0m161-224h0m-154 184h0m164-72h0m0-216h0m-23 274h0m-170 57h0m15 1h0m134-241h0m-144 286h0m178-345h0m-162 191h0m135 211h0m-164-235h0m165-189h0m-115 72h0m116 347h0m-134-77h0m162-322h0m-143 251h0m169-4h0m-40 21h0m-139 56h0m122 80h0m-168-129h0m207 148h0m-156-43h0m-83-149h0m199 168h0m39-144h0m-192 27h0m17-194h0m3-86h0m-35 328h0m241-2h0m-23-370h0m-9 167h0m-169 186h0m160 4h0m38 15h0m-48-27h0m22-202h0m-4 53h0m-173-181h0m9 115h0m143 19h0m-143 238h0m115-353h0m-116 427h0m34-445h0m110 19h0m2 207h0m-193 26h0m72-163h0m-33 309h0m-89-96h0m84 62h0m5-250h0m17 233h0m119-316h0m-122 196h0m2-59h0m-16 189h0m156-150h0m-12-134h0m-121 328h0m125-335h0m-267 77h0m268 229h0"/>
<path class="s" d="M153 378h0m141-48h0m-133 52h0m136-161h0m-12-115h0m8-68h0m-24 19h0m121 244h0m-230-261h0m143 430h0m-172-224h0m-4 124h0m185-91h0m-195 64h0m205 130h0m28-365h0m-18 370h0m-10-130h0m27-108h0m-50 17h0m15-216h0m-226 354h0m204-9h0m-3-360h0m-115 74h0m-10 49h0m220 60h0m-82 133h0m-144 28h0m171-4h0m-150-271h0m135 160h0m-153 12h0m130-246h0m-144 258h0m144 176h0m35-442h0m-202 191h0m212-11h0m22 102h0m-274-44h0m210-214h0m74 392h0m-188-356h0m-13 82h0m-8 298h0m-2 18h0m137-108h0m-109-269h0m86 357h0m-98-432h0m166 429h0m-223-308h0m181-72h0m-143 292h0m-9 56h0m-42-116h0m23 78h0m-1-97h0m195-166h0m-35-85h0m-211 255h0m224-122h0m0-40h0m-1-48h0m-149 207h0m128-163h0m21 43h0m-144 88h0m-11-23h0m-93-95h0m244-19h0m-175 310h0m30-153h0m196-74h0m-183-109h0m27 17h0m-82-47h0m19 188h0m177 34h0m32 66h0m-32-262h0m-8 182h0m36 110h0m-63-260h0m-180 271h0m-41-197h0m44 89h0m44-244h0m182 185h0m0 259h0m-10-68h0m-194-32h0m62-344h0m123 213h0m-142-164h0m157 59h0m-144 64h0m-48 128h0m20-146h0m10 20h0m28-98h0m-23 96h0m183 54h0m9 173h0m-31-112h0m-15-202h0m-167 276h0m4-13h0m169-286h0m62 54h0m-184-59h0m-64 382h0m174-376h0m0 184h0m-132 130h0m147-201h0m-38-161h0m-139 242h0m-13-153h0m188 253h0m155-336h0m-394 208h0m13-54h0m77 210h0m6-213h0m28-107h0m-60 171h0m145-237h0m-151 310h0m66-320h0m-8 62h0m-30 186h0m8 55h0m-36-40h0m196-172h0m16 40h0m-170 233h0m208-202h0m-99-166h0m-2 421h0m-107-404h0m-80 345h0m226-379h0m-162 150h0m178 230h0m-137-349h0m78 411h0m-88-396h0m-10 42h0m-19 213h0m144-93h0m7 167h0m-168-3h0m25-100h0m200-103h0m-194-24h0m165-13h0m-168 129h0m143 215h0m-5-315h0m-221-99h0m210 34h0m28 339h0m-260-175h0m249 173h0m-166-243h0m-46 279h0m241-279h0m-36 178h0m-5-78h0m-146-127h0m-71 261h0m74-376h0m154 249h0m-174 100h0m21 3h0m219-393h0m-80 449h0m35-46h0m-19-95h0m29-138h0m-180 197h0m-35-73h0m24-37h0m23-235h0m124 408h0m42-79h0m12-126h0m-33-43h0m-129-146h0m-46 243h0m154 58h0m-121-326h0m-16 451h0m193-176h0m-52-33h0m-133 166h0m27-338h0m99 318h0m11-190h0m19 16h0m-6-219h0m-161 301h0m14-116h0m171-86h0m-191 72h0m34-145h0m-14-4h0m130 168h0m-150 55h0m7 104h0m35-264h0m-48-42h0m178 13h0m-192 277h0m154-342h0m-175 193h0m59-5h0m144 238h0m0-192h0m-147 44h0m-44-251h0m174 270h0m30-160h0m-18 64h0m-154 180h0m151-97h0m-166-90h0m49-174h0m121 283h0m-128-265h0m-15 224h0m-26-54h0m25 109h0m-44-97h0m164-180h0m3-5h0m-100 43h0m-10 22h0m162 163h0m-44 197h0m21-275h0m-192 269h0m180-358h0m-151 308h0m3 18h0m-36-118h0m181-60h0m-8 120h0m95-113h0m-307-109h0m232 146h0m-6-113h0m-163 192h0m17-365h0m2 261h0m202 65h0m-172-278h0m102 91h0m17-94h0m9 149h0m-16 146h0m-178-165h0m169 33h0m-130 179h0m-29-315h0m180 254h0m-135-311h0m123 44h0m-134-4h0m-12 196h0m140-259h0m30 337h0m-26-251h0m-163 102h0m163 171h0m-200-326h0m195 273h0m-205-186h0m71 173h0m106-264h0m-95-17h0m-80 171h0m194 250h0m64-231h0m-37 159h0m-188-36h0m300 47h0m-260-69h0m126-231h0m9 369h0m-133-135h0m-5-25h0m-8 183h0m-18-139h0m160-70h0m61 183h0m-55-233h0m8-98h0m26 304h0m-21-166h0m-150-37h0m-55-186h0m198 179h0m-13 146h0m-162 39h0m149 49h0m-189-338h0m46 105h0m204 92h0m-172-218h0m122 93h0m-147 215h0m166-241h0m-154 222h0m135-192h0m-153 126h0m156-51h0m-138 75h0m31-272h0m-39 252h0m22-283h0m18 58h0m-24 212h0m124-214h0m9 267h0m-23 98h0m-139-115h0m184-247h0m-31 333h0m12-407h0m-11 270h0m26-69h0m22 48h0m-39-14h0m-153 176h0m120 33h0m23-67h0m54-305h0m-231 362h0m47-195h0m-122 233h0m64-162h0m72-227h0m13-9h0m-16 25h0m162 344h0m10-226h0m-223-205h0m13 287h0m143-255h0m-192 239h0m43 109h0m164-244h0m-122-70h0m155 328h0m-30-185h0m-128-58h0m-7 255h0m189-255h0m-35 281h0m14 0h0m-31-344h0m-137 313h0m149-149h0m-13 117h0m1-42h0m-1-138h0m13 7h0m-127-101h0m110 279h0m-162-141h0m36-154h0m105-66h0m40 442h0m8-71h0m-189-353h0m219 214h0m-183-168h0m21-42h0m106 349h0m-150-135h0m173 160h0m-19-68h0m-138-68h0m137-141h0m-142-95h0m14 405h0m107-350h0m-133 52h0m15 171h0m-35-146h0m31 20h0m3-6h0m141 157h0m-211 64h0m263-195h0m-81-202h0m-86-11h0"/>
</g>
<path d="M16.1 49.1L18.2 50.2L20.6 50.7L23.1 50.8L25.5 50.7L27.9 50.3L29.6 49.1L29.6 46.7L29.8 44.3L29.9 41.9L29.8 39.5L30.1 37.1L30.3 34.7L30.3 34.5L31.5 32.3L31.9 29.9L31 27.5L32.8 25.1L30.9 22.8L31.9 20.4L30.3 18.5L30 18L30.3 15.6L29.5 13.2L29.3 10.8L29.4 8.4L27.9 6.9L27.3 6L27.9 4.2L28.4 3.6L28.5 1.2L28.5-1.2L27.9-1.6L25.5-2.3L23.1-2.8L20.6-2.5L18.2-1.4L16.4-1.2L16.4 1.2L16.6 3.6L18.2 5.8L18.3 6L18.2 6.3L16.1 8.4L16 10.8L16.2 13.2L16.2 15.6L16 18L15.8 18.6L14.4 20.4L14.3 22.8L14.4 25.1L15 27.5L14.3 29.9L14.8 32.3L14.2 34.7L15.8 37.1L15.8 37.1L15.8 39.5L15.8 39.5L15.2 41.9L15.8 44.3L15.8 44.3L16.1 46.7L16.1 49.1Z" fill="#fff" fill-rule="evenodd"/>
<path d="M14.56 35.92h2.43v2.4h-2.43zM14.56 33.53h2.43v2.4h-2.43zM14.56 31.14h2.43v2.4h-2.43zM14.56 28.74h2.43v2.4h-2.43zM14.56 26.34h2.43v2.4h-2.43zM14.56 23.95h2.43v2.4h-2.43zM14.56 21.55h2.43v2.4h-2.43zM14.56 19.16h2.43v2.4h-2.43zM14.56 16.77h2.43v2.4h-2.43zM16.99 45.51h2.43v2.4h-2.43zM16.99 43.11h2.43v2.4h-2.43zM16.99 40.72h2.43v2.4h-2.43zM16.99 14.37h2.43v2.4h-2.43zM16.99 11.97h2.43v2.4h-2.43zM16.99 9.58h2.43v2.4h-2.43zM16.99 7.19h2.43v2.4h-2.43zM16.99 4.79h2.43v2.4h-2.43zM16.99 2.4h2.43v2.4h-2.43zM16.99 0h2.43v2.4h-2.43zM19.42 4.79h2.43v2.4h-2.43zM19.42 2.4h2.43v2.4h-2.43zM19.42 0h2.43v2.4h-2.43zM24.27 7.19h2.43v2.4h-2.43zM24.27 4.79h2.43v2.4h-2.43zM24.27 0h2.43v2.4h-2.43zM26.7 45.51h2.43v2.4h-2.43zM26.7 43.11h2.43v2.4h-2.43zM26.7 40.72h2.43v2.4h-2.43zM26.7 38.32h2.43v2.4h-2.43zM26.7 16.77h2.43v2.4h-2.43zM26.7 14.37h2.43v2.4h-2.43zM26.7 11.97h2.43v2.4h-2.43zM26.7 9.58h2.43v2.4h-2.43zM26.7 7.19h2.43v2.4h-2.43zM26.7 2.4h2.43v2.4h-2.43zM26.7 0h2.43v2.4h-2.43zM29.13 28.74h2.43v2.4h-2.43zM29.13 26.34h2.43v2.4h-2.43zM29.13 23.95h2.43v2.4h-2.43zM29.13 21.55h2.43v2.4h-2.43zM29.13 19.16h2.43v2.4h-2.43z" fill="#000" fill-opacity="0.06"/>
<path d="M16.99 38.32h2.43v2.4h-2.43zM16.99 35.92h2.43v2.4h-2.43zM16.99 33.53h2.43v2.4h-2.43zM16.99 19.16h2.43v2.4h-2.43zM16.99 16.77h2.43v2.4h-2.43zM19.42 9.58h2.43v2.4h-2.43zM19.42 7.19h2.43v2.4h-2.43zM21.85 4.79h2.43v2.4h-2.43zM21.85 2.4h2.43v2.4h-2.43zM21.85 0h2.43v2.4h-2.43zM24.27 45.51h2.43v2.4h-2.43zM24.27 43.11h2.43v2.4h-2.43zM24.27 9.58h2.43v2.4h-2.43zM24.27 2.4h2.43v2.4h-2.43zM26.7 35.92h2.43v2.4h-2.43zM26.7 33.53h2.43v2.4h-2.43zM26.7 31.14h2.43v2.4h-2.43zM26.7 28.74h2.43v2.4h-2.43zM26.7 21.55h2.43v2.4h-2.43zM26.7 19.16h2.43v2.4h-2.43z" fill="#000" fill-opacity="0.12"/>
<path d="M16.99 31.14h2.43v2.4h-2.43zM16.99 28.74h2.43v2.4h-2.43zM16.99 26.34h2.43v2.4h-2.43zM16.99 21.55h2.43v2.4h-2.43zM19.42 45.51h2.43v2.4h-2.43zM19.42 43.11h2.43v2.4h-2.43zM19.42 40.72h2.43v2.4h-2.43zM19.42 14.37h2.43v2.4h-2.43zM19.42 11.97h2.43v2.4h-2.43zM21.85 45.51h2.43v2.4h-2.43zM21.85 9.58h2.43v2.4h-2.43zM21.85 7.19h2.43v2.4h-2.43zM24.27 40.72h2.43v2.4h-2.43zM24.27 38.32h2.43v2.4h-2.43zM24.27 16.77h2.43v2.4h-2.43zM24.27 14.37h2.43v2.4h-2.43zM24.27 11.97h2.43v2.4h-2.43zM26.7 26.34h2.43v2.4h-2.43zM26.7 23.95h2.43v2.4h-2.43z" fill="#000" fill-opacity="0.19"/>
<path d="M16.99 23.95h2.43v2.4h-2.43zM19.42 38.32h2.43v2.4h-2.43zM19.42 16.77h2.43v2.4h-2.43zM21.85 43.11h2.43v2.4h-2.43zM21.85 40.72h2.43v2.4h-2.43zM21.85 14.37h2.43v2.4h-2.43zM21.85 11.97h2.43v2.4h-2.43z" fill="#000" fill-opacity="0.25"/>
<path d="M19.42 35.92h2.43v2.4h-2.43zM19.42 33.53h2.43v2.4h-2.43zM24.27 35.92h2.43v2.4h-2.43zM24.27 19.16h2.43v2.4h-2.43z" fill="#000" fill-opacity="0.31"/>
<path d="M19.42 19.16h2.43v2.4h-2.43zM21.85 38.32h2.43v2.4h-2.43zM21.85 16.77h2.43v2.4h-2.43zM24.27 33.53h2.43v2.4h-2.43zM24.27 31.14h2.43v2.4h-2.43zM24.27 21.55h2.43v2.4h-2.43z" fill="#000" fill-opacity="0.38"/>
<path d="M19.42 31.14h2.43v2.4h-2.43zM21.85 35.92h2.43v2.4h-2.43zM24.27 28.74h2.43v2.4h-2.43zM24.27 26.34h2.43v2.4h-2.43z" fill="#000" fill-opacity="0.44"/>
<path d="M19.42 21.55h2.43v2.4h-2.43zM24.27 23.95h2.43v2.4h-2.43z" fill="#000" fill-opacity="0.5"/>
<path d="M19.42 28.74h2.43v2.4h-2.43zM19.42 26.34h2.43v2.4h-2.43zM21.85 33.53h2.43v2.4h-2.43zM21.85 31.14h2.43v2.4h-2.43zM21.85 19.16h2.43v2.4h-2.43z" fill="#000" fill-opacity="0.56"/>
<path d="M19.42 23.95h2.43v2.4h-2.43zM21.85 21.55h2.43v2.4h-2.43z" fill="#000" fill-opacity="0.62"/>
<path d="M21.85 28.74h2.43v2.4h-2.43z" fill="#000" fill-opacity="0.69"/>
<path d="M21.85 26.34h2.43v2.4h-2.43z" fill="#000" fill-opacity="0.75"/>
<path d="M21.85 23.95h2.43v2.4h-2.43z" fill="#000" fill-opacity="1"/>
<path class="c" d="M16.1 49.1L18.2 50.2L20.6 50.7L23.1 50.8L25.5 50.7L27.9 50.3L29.6 49.1L29.6 46.7L29.8 44.3L29.9 41.9L29.8 39.5L30.1 37.1L30.3 34.7L30.3 34.5L31.5 32.3L31.9 29.9L31 27.5L32.8 25.1L30.9 22.8L31.9 20.4L30.3 18.5L30 18L30.3 15.6L29.5 13.2L29.3 10.8L29.4 8.4L27.9 6.9L27.3 6L27.9 4.2L28.4 3.6L28.5 1.2L28.5-1.2L27.9-1.6L25.5-2.3L23.1-2.8L20.6-2.5L18.2-1.4L16.4-1.2L16.4 1.2L16.6 3.6L18.2 5.8L18.3 6L18.2 6.3L16.1 8.4L16 10.8L16.2 13.2L16.2 15.6L16 18L15.8 18.6L14.4 20.4L14.3 22.8L14.4 25.1L15 27.5L14.3 29.9L14.8 32.3L14.2 34.7L15.8 37.1L15.8 37.1L15.8 39.5L15.8 39.5L15.2 41.9L15.8 44.3L15.8 44.3L16.1 46.7L16.1 49.1Z"/>
<path class="c" d="M19 49.1L20.6 49.7L23.1 50L25.5 49.8L27.5 49.1L27.5 46.7L26 44.3L26.4 41.9L27.5 39.5L27.8 37.1L27.8 34.7L27.9 34.5L29.2 32.3L28.8 29.9L28.8 27.5L29 25.1L28.3 22.8L27.9 21L27.8 20.4L27.3 18L27.3 15.6L26.7 13.2L26.5 10.8L25.5 9.7L24.4 8.4L23.1 6L20.6 6.8L20.3 8.4L19.7 10.8L19 13.2L19.4 15.6L18.2 17.8L18.1 18L17.9 20.4L17.4 22.8L16.8 25.1L17.1 27.5L16.9 29.9L17 32.3L17 34.7L18.2 37.1L18.2 37.1L18.8 39.5L19.1 41.9L18.7 44.3L19 46.7L19 49.1ZM20.9 3.6L23.1 6L25.5 5L26.3 3.6L25.5 2.2L24.5 1.2L24.5-1.2L23.1-1.7L20.6-1.2L20.6-1.2L20.6 1.2L20.6 2.4L20.9 3.6Z"/>
<path class="c" d="M22.1 41.9L23.1 42.8L23.8 41.9L25.1 39.5L25.5 38.6L26 37.1L26.1 34.7L26.1 32.3L26.8 29.9L26.8 27.5L26.3 25.1L26.7 22.8L26.4 20.4L25.5 18L25.5 18L25.1 15.6L23.1 14.8L22 15.6L20.6 17.5L20.3 18L19.4 20.4L19.4 22.8L18.6 25.1L18.8 27.5L18.7 29.9L19.3 32.3L19.1 34.7L19.6 37.1L20.6 39.4L20.8 39.5L22.1 41.9Z"/>
<path class="c" d="M22.2 32.3L23.1 33.2L23.7 32.3L23.1 29.9L22.2 32.3ZM20.4 29.9L20.6 30.5L23.1 29.9L23.1 29.9L24.5 27.5L24.7 25.1L24.6 22.8L23.1 20.4L21.7 22.8L20.6 23.8L20.2 25.1L20.6 27.2L20.8 27.5L20.6 28.1L20.4 29.9Z"/>
</g>
<g transform="translate(156.1 254.5)" clip-path="url(#cp)">
<g transform="scale(.1)">
<path class="b" d="M322 255h0m-212-102h0m20 29h0m142 132h0m-45-204h0m21 349h0m-80-346h0m106 218h0m-140 70h0m13-349h0m-7 98h0m130 45h0m-108-75h0m112 12h0m-146 169h0m17 90h0m169-154h0m-41-172h0m7 145h0m-139-182h0m130 184h0m-171-26h0m30 160h0m-2-128h0m-10 35h0m161-67h0m-3 245h0m-269-197h0m134-191h0m105 90h0m49 32h0m-155-28h0m173 53h0m-249 84h0m248-147h0m-202 42h0m23 123h0m127 30h0m-7 129h0m-4-338h0m6 210h0m36-19h0m-12-142h0m-156 131h0m-11 54h0m-21-88h0m26-22h0m133-236h0m38 229h0m-67-121h0m-85 273h0m140 22h0m-51-301h0m-88 124h0m168 163h0m-33-187h0m-154 41h0m-23-71h0m37 202h0m147-213h0m-174 262h0m-17-74h0m182-130h0m-155 100h0m145-129h0m-175-29h0m190 232h0m-140-105h0m-46-164h0m-12 161h0m66 182h0m20-359h0m-22 249h0m-20 6h0m-11-63h0m24-118h0m-14 199h0m135 75h0m-113-456h0m15 108h0m91-102h0m-115 354h0m-25-180h0m-1 38h0m35 78h0m150-292h0m-152 172h0m239 54h0m-292 47h0m175 188h0m16-30h0m-32-280h0m-107-122h0m-35 143h0m172-62h0m-136 190h0m-59-23h0m86-172h0m-24 53h0m20-110h0m77 54h0m-75-43h0m-20 87h0m-13 204h0m-1-48h0m-2 69h0m121 43h0m11-367h0m-1 98h0m14 87h0m-30 84h0m-114-168h0m131 284h0m-14-36h0m-108-178h0m118-183h0m32 305h0m-35-286h0m-95 48h0m85 56h0m-103 234h0m0-346h0m-56 316h0m13 17h0m47 2h0m-75-215h0m20 212h0m191-229h0m0 185h0m-14-240h0m-133 301h0m110 75h0m48-231h0m-21-157h0m-42 26h0m-94 233h0m-57 59h0m64-374h0m101 444h0m-110-137h0m18-232h0m118 273h0m-136-306h0m4-32h0m121 52h0m-124-50h0m171 354h0m-49-326h0m0-19h0m-135 166h0"/>
<path class="b" d="M134 341h0m-12 91h0m-7-140h0m131 184h0m-144-33h0m142-262h0m18-95h0m80 191h0m-199 131h0m187-51h0m-192 96h0m164-188h0m-181-28h0m17 101h0m-6-263h0m173 333h0m-192-164h0m164 46h0m-124-223h0m100 113h0m-100-111h0m95 115h0m-114-127h0m8 379h0m126-384h0m-2 387h0m12-190h0m-21-193h0m-13 104h0m0 25h0m36 90h0m-36 128h0m39-178h0m-191 47h0m176-123h0m-147 154h0m150-173h0m-132 226h0m87-245h0m-128-4h0m194 192h0m-73-192h0m-93 338h0m184-62h0m-46-57h0m6-154h0m-51-57h0m-137 163h0m259-219h0m-95 39h0m6 235h0m-117-279h0m-20 334h0m129 60h0m-118-415h0m-13 313h0m47-242h0m99-101h0m10 230h0m-10-42h0m-141 32h0m167-25h0m-192 223h0m176-110h0m-17-253h0m57 213h0m-182 112h0m123-269h0m-105 31h0m3-122h0m-46 252h0m201-78h0m-196 106h0m26 55h0m10-204h0m-12-110h0m90 63h0m-107 321h0m169-59h0m4-314h0m-30 108h0m-169-36h0m10 145h0m186-178h0m-131-90h0m-35 368h0m156-95h0m-158 82h0m166-90h0m-163-71h0m172 201h0m-11-362h0m-164 159h0m137-135h0m-126 336h0m126 62h0m-150-113h0m217-205h0m-188 155h0m114 147h0m94-234h0m-101-98h0m4 349h0m1-64h0m-126-81h0m-14-55h0m143 65h0m-113 115h0m-25-291h0m143 285h0m-3-385h0m-1 83h0m-124-111h0m98 97h0m-101 11h0m19 62h0m118 132h0m15-14h0m-6-211h0m-129 292h0m-50-211h0m175-151h0m4 88h0m-24-50h0m13 122h0m30 197h0m-156-344h0m-13 332h0m-68-130h0m218 84h0m-19-15h0m-100-242h0m119 94h0m-126 304h0m103 9h0m67-217h0m-10 78h0m-222-275h0m233 340h0m-200-56h0m183-97h0m-253 131h0m232 22h0m-20-228h0m-174 252h0m14 45h0m40-396h0m139 138h0m24 11h0m-43-208h0"/>
<path class="b" d="M133 26h0m12 98h0m99 344h0m40-203h0m-139 155h0m-66-9h0m65-386h0m2 312h0m172 109h0m-181-95h0m-47-280h0m181 190h0m-166-147h0m157 273h0m31 5h0m-262-307h0m92 132h0m132-205h0m-185 213h0m78-210h0m150 185h0m-30 77h0m2-155h0m7-35h0m-158 339h0m5-260h0m-63 275h0m53-321h0m-14 125h0m147 82h0m-3 122h0m-153-295h0m46 190h0m-31 52h0m43-381h0m123 462h0m-26-383h0m0 221h0m0-167h0m3-136h0m-110 344h0m-5 57h0m-49-100h0m15 9h0m10-132h0m22 208h0m117-8h0m-104-30h0m-49 88h0m187-170h0m-24-118h0m18 94h0m-22-164h0m-88 26h0m90 314h0m19-160h0m-152 97h0m179-141h0m-28 95h0m-136-145h0m153 251h0m-46-386h0m-117 335h0m129-186h0m-119 184h0m1 3h0m122-52h0m-139-173h0m161 40h0m13-14h0m-50 273h0m49-346h0m-17 180h0m22 165h0m-167-381h0m117-25h0m-166 299h0m47-189h0m145 68h0m-141 215h0m28-435h0m-89 370h0m89-363h0m-50 465h0m157-174h0m-134-1h0m29-240h0m151 271h0m-34 63h0m-180 6h0m181-195h0m-139 223h0m122-408h0m-22 171h0m0-95h0m4 229h0m39 113h0m-157-328h0m8 334h0m30-344h0m-37 44h0m127 244h0m3 31h0m-3-284h0m32 204h0m3 64h0m-177-171h0m-5-49h0m-70 280h0m97 11h0m-41-85h0m35-83h0m201-218h0m-196 380h0m164-129h0m-156-44h0m-29 141h0m150-382h0m-172-44h0m156 131h0m-113 319h0m150-159h0m-153-12h0m-35 141h0m26-118h0m140-136h0m-17 236h0m39-104h0m-2-121h0m-144-143h0m131 164h0m19-113h0m21 124h0m-35 232h0m-19-6h0m20 24h0m-128-366h0m-14 126h0m-3 225h0m-20-180h0m7 152h0m-22-91h0m171 47h0m34 50h0m-159-17h0m-19-179h0m174 7h0m-155 61h0m158 16h0m-50-147h0"/>
<path class="b" d="M138 169h0m-27-100h0m19 81h0m147-140h0m3 336h0m-160 18h0m129-349h0m-94 84h0m-30 335h0m-38-86h0m0 94h0m183-63h0m-141-290h0m139 144h0m-22 87h0m-101-145h0m107-96h0m-108-75h0m1 437h0m153-117h0m-167 16h0m-19-122h0m211 57h0m-200-179h0m157 118h0m-245 76h0m305-102h0m-192-124h0m-20 335h0m93-289h0m57 238h0m-171-33h0m223-197h0m-39-98h0m-168 330h0m-8-215h0m224 291h0m-222-94h0m147-249h0m-9-48h0m-143 292h0m164-247h0m-22 69h0m-147 283h0m16-286h0m2 329h0m163-211h0m-197 179h0m5-74h0m24-202h0m182 141h0m-48 106h0m-205-203h0m215-182h0m67 308h0m-199-29h0m154-174h0m-31 266h0m-12 9h0m10 28h0m-124-98h0m153-281h0m-36 84h0m-124 218h0m23-133h0m0 217h0m151-330h0m-7 135h0m-141-136h0m131-9h0m9 105h0m-163 154h0m-32-20h0m206-184h0m-162 213h0m116-37h0m-6-187h0m3 312h0m-2-388h0m27 360h0m-141-387h0m-41 44h0m46 306h0m-20 79h0m-64-333h0m197-13h0m23 232h0m0 64h0m-23-401h0m-109 417h0m139-82h0m-245-288h0m261 139h0m-12 3h0m8 136h0m-27 62h0m-161-150h0m222-112h0m-206-104h0m175 433h0m-177-145h0m-4 16h0m135 129h0m-119-185h0m150-111h0m-139-153h0m-10 153h0m-60 225h0m45-307h0m263 276h0m-247 67h0m135-206h0m-124 61h0m124-27h0m-146 192h0m188-297h0m-88-55h0m-117 118h0m137 85h0m-112-146h0m17-154h0m-89 373h0m-22 83h0m215-80h0m48-162h0m-182-125h0m-46 134h0m205-36h0m-16 227h0m-94-373h0m-22 248h0m100-219h0m39 226h0m-38-288h0m-104 342h0m118 104h0m10-94h0m-228 52h0m69 43h0m18-60h0m145-129h0m2-147h0m-149-79h0m172 129h0m-173 266h0m-85-245h0m70 69h0m14-129h0m5-57h0m143 353h0"/>
<path class="b" d="M124 401h0m-5-374h0m-12 307h0m52-230h0m-61-6h0m38 15h0m-21 200h0m24-82h0m-18 18h0m21 202h0m0-322h0m139 139h0m-182-110h0m165 302h0m4-377h0m-3 229h0m-156-46h0m179 66h0m-129-225h0m-65 121h0m16 125h0m56-241h0m-44 29h0m128-33h0m-4-38h0m3 369h0m-125-62h0m-19-162h0m188-14h0m-11 42h0m-7-21h0m-135 193h0m146-10h0m-26-253h0m67 227h0m-188-78h0m3 40h0m106-307h0m-112 68h0m169 48h0m-159-38h0m-2 331h0m-40-142h0m-18 61h0m37-57h0m153 71h0m-24-308h0m-141 289h0m139-172h0m11-29h0m-151 159h0m-14-109h0m127-88h0m82 52h0m-234-20h0m55-65h0m-17 319h0m145-221h0m-120 254h0m109-50h0m-133-37h0m202-126h0m-61 179h0m-101-295h0m-24 55h0m151 224h0m-156-56h0m146-166h0m-99-97h0m-71 191h0m215 157h0m-176-238h0m-5 257h0m130-304h0m61 3h0m-169-130h0m85 102h0m-127 345h0m39-346h0m-14 244h0m148-297h0m-136 19h0m-101 83h0m198 301h0m10-398h0m22 177h0m-25-119h0m50 55h0m-42-148h0m-91 96h0m93 50h0m-164-13h0m165-3h0m26 270h0m18-274h0m-185 263h0m137-251h0m-6 290h0m-125-331h0m-9 217h0m121-225h0m-97-33h0m100 11h0m1 385h0m29-259h0m-156 173h0m30-338h0m-67 51h0m49 74h0m1 200h0m177-344h0m3 403h0m-29 40h0m-36-53h0m66-195h0m-200 57h0m133 29h0m34 148h0m56-358h0m-64 159h0m7-91h0m-115-122h0m-21 57h0m-83 339h0m219-288h0m-140 4h0m14-48h0m95 18h0m45 56h0m-40-180h0m6 408h0m28-127h0m-33-250h0m-156 419h0m36-9h0m123-259h0m53 98h0m-33-89h0m-142-34h0m5 13h0m115 279h0m20-36h0m-157 4h0m123-320h0m-112 132h0m102-130h0m23-9h0m-6 238h0m-117-286h0m28-35h0"/>
<path class="b" d="M289 374h0m-188-227h0m47-36h0m125-28h0m-130-4h0m134 370h0m34-196h0m-61-198h0m37 376h0m-36-243h0m-6-174h0m-142 409h0m-12-274h0m167 300h0m-5-41h0m66-189h0m-63 186h0m-122-45h0m168 65h0m-57-338h0m4-63h0m-89 83h0m90-17h0m-187-12h0m159 18h0m-54 21h0m-24 29h0m-24 146h0m-20-222h0m192 336h0m-165-112h0m11 147h0m208-65h0m-233-96h0m137-131h0m1-68h0m56 212h0m-163 143h0m1 20h0m-17-45h0m-50-325h0m199 102h0m31 39h0m-162-207h0m138 58h0m-144-77h0m140 170h0m-157 230h0m174-196h0m-164-45h0m-22-44h0m34 70h0m106-170h0m12 413h0m-148-414h0m195 249h0m-185 137h0m122-252h0m-131 39h0m157 111h0m-12-215h0m43 60h0m33 61h0m-322 89h0m252-111h0m-160-20h0m170 112h0m-22-258h0m-116 213h0m29-208h0m-40 139h0m-5 200h0m33-261h0m-9-91h0m140 289h0m-167-83h0m-67 16h0m217 177h0m-133-263h0m-58 55h0m182 127h0m-117 20h0m-3 125h0m1-173h0m-5-286h0m114 42h0m-143 6h0m138 339h0m-14-299h0m-108 55h0m10-154h0m184 53h0m-58 399h0m-137-110h0m138-159h0m-126 240h0m-13-29h0m17-106h0m-20-41h0m125-129h0m40 98h0m-176-77h0m190 213h0m-32-32h0m-173-72h0m51 52h0m22-286h0m-49 220h0m13 171h0m151-186h0m-173 75h0m5-39h0m50-202h0m-63 48h0m21-80h0m150 192h0m-43-113h0m-82-19h0m174 70h0m-204 233h0m12-281h0m157 191h0m-164-64h0m161 83h0m-28-168h0m-9 251h0m-2-365h0m26 246h0m-135 60h0m156-54h0m3 140h0m-156-286h0m178 27h0m-179 70h0m-69 119h0m190 93h0m-157-32h0m195-175h0m-14 63h0m22-87h0m-160-78h0m-53 225h0m51-218h0m-19-131h0m-9 345h0m5-263h0m-26 39h0m10 82h0m-10 58h0m177-79h0"/>
<path class="b" d="M246 446h0m-102-31h0m-15-296h0m115-69h0m-117 166h0m152 89h0m-134-302h0m131 174h0m-123-164h0m-35 241h0m172-42h0m-42 238h0m-107-231h0m14-120h0m120 178h0m24 32h0m-180-35h0m16-253h0m144 250h0m-137-203h0m27-16h0m-18-46h0m92 4h0m-103 390h0m-15-378h0m136 88h0m-198 75h0m206 112h0m-150-70h0m48-171h0m-44 180h0m156-101h0m-32-9h0m-118 285h0m141-96h0m14-297h0m-150 211h0m151-10h0m-8-177h0m-31 69h0m-103 196h0m167-67h0m-43-35h0m-145-158h0m-11 342h0m1-338h0m-35 177h0m52-120h0m-44 221h0m163 2h0m-103 48h0m168-345h0m-186 86h0m8 266h0m112-371h0m-3-2h0m-117 335h0m-2-174h0m-61-28h0m189-35h0m-2-8h0m-111 286h0m105-281h0m61 62h0m-60 279h0m-126-197h0m135-133h0m54 72h0m-170-175h0m136 452h0m-185-392h0m157 106h0m-150 268h0m170-70h0m-122-346h0m-15 102h0m193 281h0m-77-97h0m33-242h0m-7 333h0m-173-100h0m182 47h0m16-77h0m-157-268h0m137 260h0m-143 166h0m129-111h0m-118 85h0m113-395h0m-131 370h0m-18-80h0m175 156h0m-39-458h0m-107 131h0m105-20h0m34 41h0m24 29h0m-163 31h0m114-133h0m9 53h0m-132 241h0m123-202h0m-113 272h0m146-179h0m-3-26h0m-50-145h0m-129 240h0m17-11h0m0-55h0m15 24h0m-65 74h0m75-237h0m-25 190h0m-11-17h0m26 106h0m3-40h0m-14 93h0m-15-335h0m192-73h0m-168 162h0m122-32h0m-147 210h0m155-259h0m-97-130h0m98 57h0m-150 361h0m18-290h0m98-24h0m-160 354h0m64-402h0m-22 246h0m192 5h0m-160-168h0m21-91h0m-36 121h0m95-78h0m80 254h0m-179 110h0m121-373h0m-18 22h0m24 72h0m-113 50h0m-52-116h0m188-71h0m20 320h0m-4-330h0m19 204h0m-216 10h0m36 124h0m153-35h0"/>
<path class="b" d="M266 471h0m-16-51h0m-121-229h0m5 154h0m-10-241h0m114-1h0m-99 118h0m1 116h0m-28-48h0m160 180h0m-142-380h0m13 373h0m-8-339h0m-14 38h0m8 5h0m167 257h0m-162-55h0m-15 16h0m145-317h0m-126 71h0m86-34h0m-118 309h0m148-18h0m59 4h0m-200-92h0m140 89h0m35-148h0m-183-14h0m207 42h0m-29 12h0m-34 169h0m-127-75h0m-22-55h0m193-121h0m-201 46h0m160 76h0m-109-176h0m121 269h0m-130-185h0m129 166h0m-122-60h0m130-73h0m-195-131h0m27-6h0m169-126h0m-251 263h0m122 200h0m-52 10h0m42-91h0m6-4h0m112-360h0m23 452h0m-18-348h0m-98-70h0m170-52h0m-232 283h0m185-126h0m-3 305h0m-190-175h0m-4-238h0m165 265h0m-124 123h0m-65-90h0m72-246h0m128 296h0m-150-227h0m171-113h0m65 169h0m-204 5h0m-70-135h0m55-47h0m-20 114h0m137-5h0m-125 203h0m20-239h0m161 276h0m-35-2h0m9-57h0m12-328h0m-64 94h0m40-97h0m-16 452h0m-106-365h0m-16 31h0m-1 27h0m147 283h0m-19-274h0m-119 64h0m7-55h0m4 54h0m5-219h0m104 59h0m-33 27h0m64 147h0m-29-225h0m-135 290h0m155 90h0m6-114h0m-118-280h0m-75 299h0m207 56h0m-5-25h0m-176-15h0m165-149h0m-138-110h0m-15 297h0m-17-22h0m162-271h0m-176 154h0m-57-116h0m73 289h0m-28-21h0m195-303h0m24-21h0m-42 29h0m6 372h0m9-43h0m-105-393h0m197 252h0m-235-81h0m15-117h0m196 240h0m-257 18h0m-33 10h0m252 24h0m-168 5h0m180-255h0m-66 336h0m-4-266h0m-147 47h0m67-112h0m-39 73h0m124 229h0m77 45h0m-211 17h0m133-469h0m29 182h0m-192 57h0m31-51h0m21 190h0m-9-253h0m98-22h0m43-5h0m-50 7h0m-149 98h0m231 129h0m-55-219h0m31 128h0m-137-193h0m-39 202h0"/>
<path class="s" d="M292 94h0m-158-25h0m117 243h0m-158-19h0m48-258h0m109 98h0m25 16h0m-6 158h0m21 74h0m-147-229h0m132 45h0m40 82h0m-173-234h0m-53 298h0m56 78h0m-8-125h0m31-183h0m111-111h0m-128 110h0m-17 110h0m111 196h0m-147-30h0m175-167h0m13 66h0m-122-275h0m-30 121h0m97-34h0m-88 132h0m-57-56h0m209 114h0m-50 166h0m9-401h0m-3-10h0m41 191h0m-40-82h0m53 167h0m-183-14h0m4 36h0m218-5h0m-74 29h0m3-47h0m-28-150h0m13-163h0m-147 69h0m178 67h0m-24 301h0m-127-284h0m-33 171h0m15-176h0m0-44h0m157 173h0m-136 73h0m161-191h0m-57-102h0m-105 13h0m-61-13h0m62 400h0m-21-461h0m162 124h0m-2 314h0m-202-324h0m217 93h0m-50 109h0m-2-308h0m-140 413h0m35 20h0m130-134h0m-131-273h0m8 301h0m-12-177h0m134 5h0m-23 226h0m-131-150h0m135-140h0m12 26h0m-94-68h0m89 48h0m-151 196h0m170-108h0m45-4h0m-76-64h0m-74-9h0m133 196h0m-44 100h0m-114 58h0m144-441h0m13 312h0m-162-116h0m-101-121h0m222 75h0m16 29h0m11 10h0m-147 160h0m-26-44h0m139 115h0m-121-25h0m-4 11h0m120-43h0m-81-379h0m-63 230h0m168 160h0m-132-306h0m7-35h0m138 223h0m3 20h0m-124-245h0m-106 219h0m250-49h0m-56 89h0m-138 43h0m37-298h0m155 217h0m4 99h0m-42-68h0m-19 112h0m-89-407h0m-70 261h0m28-189h0m19 298h0m5-43h0m162-30h0m-53 79h0m-30-290h0m49 221h0m41-137h0m-212 189h0m197-86h0m-30 22h0m-137 62h0m182-338h0m-181 402h0m-32-38h0m164-79h0m-140-88h0m-16-64h0m179 58h0m-138-223h0m139 285h0m-185 151h0m6-251h0m4 156h0m22-4h0m175-93h0m-147-226h0m-16 151h0m154 266h0m8-218h0m2-46h0m-170-85h0m-16 253h0m31-284h0m94 120h0m-121 37h0m140-19h0m6 174h0m-27-272h0m-128 12h0m28-78h0m152 136h0m-128-61h0m-24-59h0m-44 109h0m144 307h0m6-399h0m-115 101h0m-31 125h0m21-187h0m29-11h0m-100 362h0m221-258h0m-141 182h0m162-22h0m-188-134h0m135 160h0m-105-360h0m143 187h0m-146 131h0m118 93h0m-124-350h0m123-32h0m-163 208h0m170-81h0m-41-85h0m-163 83h0m10-30h0m239-133h0m-271 273h0m85 39h0m151 50h0m-147-209h0m199 160h0m-63 96h0m5-388h0m-145 177h0m114-105h0m-90 302h0m2 10h0m108-93h0m30-24h0m15-184h0m-153-90h0m-11 125h0m123 300h0m-14-135h0m-102 67h0m-73-74h0m200 23h0m-131-146h0m24-89h0m135 103h0m-167 106h0m124-251h0m-122 282h0m7-121h0m107-90h0m-84-67h0m126 105h0m-118-166h0m-37 75h0m139 261h0m66-24h0m-276 45h0m226-24h0m19-208h0m-31 124h0m-155-31h0m225 73h0m-79-256h0m-28 79h0m-97 177h0m146 100h0m-147-95h0m-8-172h0m113 187h0m-154-20h0m159-232h0m-117 285h0m-71 119h0m209-55h0m-45-313h0m-100 68h0m41-144h0m139 270h0m-166 45h0m166-306h0m-34 269h0m-136 67h0m126-53h0m-124-230h0m-38 269h0m212-45h0m47 171h0m-96-363h0m-254 52h0m75-55h0m255 261h0m-93 77h0m17-408h0m-125 177h0m119-29h0m77 220h0m-215-76h0m159-279h0m-25 265h0m-127-199h0m-106 147h0m123-53h0m142-46h0m-174 158h0m206 79h0m-201-170h0m138 191h0m-7-9h0m-3-300h0m2 3h0m-103 335h0m-7-330h0m8 163h0m-30 136h0m25-193h0m18-175h0m115 251h0m-8-300h0m-110 40h0m91-19h0m4 151h0m-119-165h0m-5 202h0m128-29h0m-135 85h0m14 157h0m132-250h0m14-4h0m-163 19h0m52-139h0m114 170h0m-15 8h0m-148-186h0m206 66h0m-48 274h0m-28-56h0m-129-133h0m-52 173h0m177 66h0m24-182h0m2-45h0m-141-46h0m150 81h0m7 228h0m-153-25h0m156-108h0m-15-84h0m1 24h0m-13-131h0m11 249h0m-138-317h0m-1-62h0m28 34h0m-40 104h0m143 287h0m2-362h0m2 110h0m-153 76h0m178 14h0m-49 162h0m-187 9h0m255-36h0m-208-185h0m218 57h0m-199 131h0m-14-141h0m-4-38h0m190 21h0m-45-241h0m-128 122h0m17-7h0m122-39h0m17 41h0m-31 179h0m-110-210h0m-17 360h0m6-247h0m34-216h0m-50 94h0m25 60h0m-51 212h0m0-122h0m17 89h0m201-228h0m-205 128h0m-15 231h0m23-341h0m31 350h0m143-316h0m-16-29h0m-148 309h0m145-128h0m-125 100h0m-115-193h0m301-31h0m-73 267h0m-120-3h0m133-53h0m-174-163h0m174-100h0m-165 149h0m15 34h0m12-143h0m-49 145h0m57-32h0m149 66h0m1-111h0m-30 175h0m-119-18h0m125-270h0m-125-120h0m165 285h0m-163 137h0m122-320h0m-137 185h0m219-291h0m-205 48h0m152 240h0m-173 46h0m161-314h0m-3 286h0m12 126h0m-20 3h0m41-96h0m-45-194h0m-112-84h0m191 404h0m-216-294h0m-2-52h0m142 193h0m-150-131h0m0 35h0m53-126h0m-30 289h0m114 58h0"/>
<path class="s" d="M275 95h0m-21 354h0m-142-42h0m-7-212h0m178-105h0m-29 58h0m-152 36h0m59-163h0m-53 263h0m143-144h0m46 174h0m-40-196h0m18 190h0m-160 40h0m26 48h0m3-332h0m114 261h0m-12-229h0m-80 20h0m109 279h0m-136-339h0m113 412h0m20-266h0m-19-22h0m-150 249h0m-35-191h0m195-112h0m-142 63h0m8-41h0m-14 230h0m35-361h0m-7 212h0m-44 146h0m158 43h0m-123-333h0m206 262h0m-218-236h0m134 75h0m-5-105h0m-164 197h0m185 149h0m-7-403h0m-141 453h0m163-118h0m-60-249h0m-81-90h0m74 91h0m41 45h0m47 130h0m-36 89h0m-131-331h0m162 182h0m-26 195h0m39-218h0m-63-189h0m-136 223h0m-32 238h0m168-68h0m-9-13h0m-104-8h0m215-320h0m-111 77h0m-124 174h0m-6-44h0m24 32h0m-35 3h0m222 24h0m-41-225h0m-120 11h0m-44 331h0m123-360h0m87 389h0m-8-344h0m-231 79h0m180 99h0m-155-153h0m-55 282h0m84-21h0m-11 38h0m193-261h0m-189 113h0m-28-68h0m14-4h0m161 148h0m-130-287h0m-78 96h0m176 255h0m-125-303h0m128-122h0m37 333h0m-59-262h0m83 186h0m-74-166h0m-142 144h0m149-186h0m-105 279h0m131-89h0m-128-249h0m98 60h0m33-71h0m-186 339h0m168-18h0m20-42h0m-181 0h0m1-90h0m159 141h0m-2 100h0m2-312h0m-117 115h0m-5-69h0m3 235h0m24-292h0m-23 289h0m-44-167h0m147-50h0m54 279h0m-165-271h0m-75 0h0m65 275h0m129-420h0m-136 186h0m209 162h0m-69-231h0m12 116h0m-138-119h0m91-42h0m61 148h0m-33-258h0m26 80h0m-136-45h0m0 357h0m-13 65h0m3 0h0m15-339h0m9-105h0m-10 326h0m81-234h0m-91 59h0m-67 207h0m3-154h0m60 73h0m-23 107h0m161-322h0m-34 23h0m-124 55h0m226 71h0m-191 182h0m100-408h0m36 297h0m-165 151h0m25-412h0m78 56h0m41 43h0m-6 43h0m-164 130h0m35-24h0m198-7h0m-92-177h0m-86 45h0m22-83h0m134-57h0m-135 45h0m1 58h0m-65 335h0m-47-18h0m244-179h0m-26-16h0m-30-74h0m-128 156h0m22 133h0m172-145h0m-173-193h0m139 87h0m14 155h0m-155-17h0m139-273h0m-143 5h0m117-55h0m36 149h0m0-96h0m-23 409h0m-11-457h0m43 21h0m-43 140h0m-118 212h0m3-254h0m-25 10h0m13 85h0m-7 208h0m-14-58h0m31-243h0m114 305h0m-124-391h0m140 369h0m-142-106h0m-24-112h0m-40 269h0m201-369h0m12 160h0m-126 134h0m-30-156h0m159 184h0m-159-260h0m160 55h0m-176 212h0m22 5h0m9-321h0m118 55h0m-111 115h0m139 134h0m-142-371h0m8 335h0m104 42h0m-103-210h0m105 99h0m-110-133h0m113-61h0m-115 341h0m2 0h0m-4-169h0m-14 22h0m-30-265h0m53-25h0m-78 74h0m201 329h0m13-167h0m32 114h0m-7-113h0m-44-190h0m11 195h0m-175 136h0m65-297h0m88 352h0m-93-355h0m149 293h0m-32-170h0m-137 139h0m140 51h0m-131-263h0m125-123h0m-153 187h0m154 110h0m-197-228h0m47 147h0m-8 134h0m49-279h0m-49 81h0m137-151h0m-106 306h0m126 93h0m70-402h0m-67 360h0m-143-103h0m143-131h0m-111-59h0m130 83h0m-14-6h0m-154 289h0m48-352h0m-28 266h0m111-220h0m-111 307h0m135-263h0m-49-83h0m-149 357h0m38-220h0m153-11h0m-27-70h0m30 127h0m-201-62h0m22 73h0m164 87h0m-138-18h0m127-263h0m-209 200h0m205 126h0m-149 22h0m213-318h0m-159-38h0m-4 66h0m118-24h0m-132-3h0m138 72h0m7 55h0m-138-124h0m7 75h0m139 108h0m-164 15h0m-58 31h0m221-145h0m-146-131h0m14-102h0m-40 285h0m140 141h0m-131-240h0m152 179h0m2-320h0m-145 138h0m96-78h0m-108 175h0m32-274h0m95 399h0m-138 49h0m122-349h0m-184 222h0m187-217h0m-83-93h0m112 310h0m-113 32h0m139 21h0m-174-264h0m148 324h0m-1-417h0m-123 398h0m1-77h0m119-191h0m107 1h0m-208-91h0m133 386h0m-19-221h0m-128-139h0m113 384h0m45-34h0m-173-434h0m14 120h0m162 221h0m-211-3h0m52-290h0m-28 295h0m37-243h0m-53 348h0m42-266h0m-63 37h0m168 238h0m11-65h0m-24-298h0m-115 192h0m-25-90h0m187 100h0m-137 110h0m-19 63h0m137-359h0m-122 228h0m143-51h0m-180 51h0m195 5h0m1-219h0m-178 243h0m109-262h0m52-7h0m-139 6h0m-15 253h0m172-87h0m-167-63h0m150 134h0m-187-153h0m224-142h0m-194 78h0m122 41h0m-151 89h0m47-167h0m4-72h0m-3 384h0m-68-221h0m206 85h0m-157-140h0m15-66h0m141 220h0m-3-213h0m-166 265h0m133 65h0m-15-301h0m-90 128h0m118-146h0m20 62h0m-132 27h0m-6 278h0m121-129h0m-127-99h0m136 150h0m-2 62h0m15-166h0m-16-211h0m-20 35h0m-137 379h0m25-35h0m10-434h0m137 288h0m-1-152h0m-4 292h0m36-30h0m25-196h0m-220 226h0m31-419h0m153 147h0m-196-81h0m143 44h0m-177 99h0m192-150h0m35 167h0"/>
</g>
<path d="M13.1 49.1L13.4 49.3L15.8 50.2L18.2 50.8L20.6 50.7L23.1 50.4L25.5 49.2L25.7 49.1L25.7 46.7L25.5 46.1L25.1 44.3L25.2 41.9L25.5 40.2L25.7 39.5L26.7 37.1L27.5 34.7L26.4 32.3L27.4 29.9L27.6 27.5L27.7 25.1L27 22.8L27.1 20.4L25.5 18.2L25.3 18L25.5 17.5L26.5 15.6L25.5 13.7L25.2 13.2L24.7 10.8L25.1 8.4L24.6 6L25.1 3.6L24.8 1.2L24.8-1.2L23.1-2.1L20.6-2.6L18.2-2.3L15.8-1.9L14.6-1.2L14.6 1.2L14.5 3.6L14.8 6L13.8 8.4L14.2 10.8L14.1 13.2L13.4 15.6L13.4 15.6L13.2 18L11.9 20.4L12.5 22.8L11.9 25.1L12.1 27.5L11.9 29.9L12.1 32.3L12.7 34.7L12.8 37.1L13.4 39.5L13.4 39.5L13.4 39.5L13.2 41.9L12.9 44.3L13.1 46.7L13.1 49.1Z" fill="#fff" fill-rule="evenodd"/>
<path d="M12.14 38.32h2.43v2.4h-2.43zM12.14 35.92h2.43v2.4h-2.43zM12.14 33.53h2.43v2.4h-2.43zM12.14 31.14h2.43v2.4h-2.43zM12.14 28.74h2.43v2.4h-2.43zM12.14 26.34h2.43v2.4h-2.43zM12.14 23.95h2.43v2.4h-2.43zM12.14 21.55h2.43v2.4h-2.43zM12.14 19.16h2.43v2.4h-2.43zM12.14 16.77h2.43v2.4h-2.43zM12.14 14.37h2.43v2.4h-2.43zM14.56 45.51h2.43v2.4h-2.43zM14.56 11.97h2.43v2.4h-2.43zM14.56 9.58h2.43v2.4h-2.43zM14.56 7.19h2.43v2.4h-2.43zM14.56 4.79h2.43v2.4h-2.43zM14.56 2.4h2.43v2.4h-2.43zM14.56 0h2.43v2.4h-2.43zM16.99 0h2.43v2.4h-2.43zM19.42 4.79h2.43v2.4h-2.43zM21.85 7.19h2.43v2.4h-2.43zM21.85 4.79h2.43v2.4h-2.43zM21.85 2.4h2.43v2.4h-2.43zM21.85 0h2.43v2.4h-2.43zM24.27 45.51h2.43v2.4h-2.43zM24.27 43.11h2.43v2.4h-2.43zM24.27 40.72h2.43v2.4h-2.43zM24.27 38.32h2.43v2.4h-2.43zM24.27 35.92h2.43v2.4h-2.43zM24.27 33.53h2.43v2.4h-2.43zM24.27 31.14h2.43v2.4h-2.43zM24.27 28.74h2.43v2.4h-2.43zM24.27 21.55h2.43v2.4h-2.43zM24.27 19.16h2.43v2.4h-2.43zM24.27 16.77h2.43v2.4h-2.43zM24.27 14.37h2.43v2.4h-2.43zM24.27 11.97h2.43v2.4h-2.43z" fill="#000" fill-opacity="0.06"/>
<path d="M14.56 43.11h2.43v2.4h-2.43zM14.56 40.72h2.43v2.4h-2.43zM14.56 38.32h2.43v2.4h-2.43zM14.56 16.77h2.43v2.4h-2.43zM14.56 14.37h2.43v2.4h-2.43zM16.99 7.19h2.43v2.4h-2.43zM16.99 4.79h2.43v2.4h-2.43zM16.99 2.4h2.43v2.4h-2.43zM19.42 2.4h2.43v2.4h-2.43zM19.42 0h2.43v2.4h-2.43zM21.85 45.51h2.43v2.4h-2.43zM21.85 43.11h2.43v2.4h-2.43zM21.85 40.72h2.43v2.4h-2.43zM21.85 14.37h2.43v2.4h-2.43zM21.85 11.97h2.43v2.4h-2.43zM21.85 9.58h2.43v2.4h-2.43zM24.27 26.34h2.43v2.4h-2.43zM24.27 23.95h2.43v2.4h-2.43z" fill="#000" fill-opacity="0.12"/>
<path d="M14.56 35.92h2.43v2.4h-2.43zM14.56 33.53h2.43v2.4h-2.43zM14.56 31.14h2.43v2.4h-2.43zM14.56 19.16h2.43v2.4h-2.43zM16.99 11.97h2.43v2.4h-2.43zM16.99 9.58h2.43v2.4h-2.43zM19.42 45.51h2.43v2.4h-2.43zM19.42 11.97h2.43v2.4h-2.43zM19.42 9.58h2.43v2.4h-2.43zM19.42 7.19h2.43v2.4h-2.43zM21.85 38.32h2.43v2.4h-2.43zM21.85 35.92h2.43v2.4h-2.43zM21.85 16.77h2.43v2.4h-2.43z" fill="#000" fill-opacity="0.19"/>
<path d="M14.56 26.34h2.43v2.4h-2.43zM14.56 21.55h2.43v2.4h-2.43zM16.99 45.51h2.43v2.4h-2.43zM16.99 43.11h2.43v2.4h-2.43zM16.99 40.72h2.43v2.4h-2.43zM16.99 14.37h2.43v2.4h-2.43zM19.42 43.11h2.43v2.4h-2.43zM19.42 40.72h2.43v2.4h-2.43zM21.85 33.53h2.43v2.4h-2.43zM21.85 31.14h2.43v2.4h-2.43zM21.85 19.16h2.43v2.4h-2.43z" fill="#000" fill-opacity="0.25"/>
<path d="M14.56 28.74h2.43v2.4h-2.43zM14.56 23.95h2.43v2.4h-2.43zM16.99 38.32h2.43v2.4h-2.43zM16.99 16.77h2.43v2.4h-2.43zM19.42 16.77h2.43v2.4h-2.43zM19.42 14.37h2.43v2.4h-2.43zM21.85 21.55h2.43v2.4h-2.43z" fill="#000" fill-opacity="0.31"/>
<path d="M19.42 38.32h2.43v2.4h-2.43zM21.85 28.74h2.43v2.4h-2.43zM21.85 26.34h2.43v2.4h-2.43zM21.85 23.95h2.43v2.4h-2.43z" fill="#000" fill-opacity="0.38"/>
<path d="M16.99 35.92h2.43v2.4h-2.43z" fill="#000" fill-opacity="0.44"/>
<path d="M16.99 33.53h2.43v2.4h-2.43zM16.99 19.16h2.43v2.4h-2.43zM19.42 35.92h2.43v2.4h-2.43zM19.42 33.53h2.43v2.4h-2.43zM19.42 19.16h2.43v2.4h-2.43z" fill="#000" fill-opacity="0.5"/>
<path d="M16.99 31.14h2.43v2.4h-2.43zM16.99 21.55h2.43v2.4h-2.43zM19.42 31.14h2.43v2.4h-2.43z" fill="#000" fill-opacity="0.56"/>
<path d="M16.99 28.74h2.43v2.4h-2.43zM19.42 28.74h2.43v2.4h-2.43z" fill="#000" fill-opacity="0.62"/>
<path d="M16.99 26.34h2.43v2.4h-2.43zM19.42 26.34h2.43v2.4h-2.43zM19.42 21.55h2.43v2.4h-2.43z" fill="#000" fill-opacity="0.69"/>
<path d="M16.99 23.95h2.43v2.4h-2.43z" fill="#000" fill-opacity="0.75"/>
<path d="M19.42 23.95h2.43v2.4h-2.43z" fill="#000" fill-opacity="1"/>
<path class="c" d="M13.1 49.1L13.4 49.3L15.8 50.2L18.2 50.8L20.6 50.7L23.1 50.4L25.5 49.2L25.7 49.1L25.7 46.7L25.5 46.1L25.1 44.3L25.2 41.9L25.5 40.2L25.7 39.5L26.7 37.1L27.5 34.7L26.4 32.3L27.4 29.9L27.6 27.5L27.7 25.1L27 22.8L27.1 20.4L25.5 18.2L25.3 18L25.5 17.5L26.5 15.6L25.5 13.7L25.2 13.2L24.7 10.8L25.1 8.4L24.6 6L25.1 3.6L24.8 1.2L24.8-1.2L23.1-2.1L20.6-2.6L18.2-2.3L15.8-1.9L14.6-1.2L14.6 1.2L14.5 3.6L14.8 6L13.8 8.4L14.2 10.8L14.1 13.2L13.4 15.6L13.4 15.6L13.2 18L11.9 20.4L12.5 22.8L11.9 25.1L12.1 27.5L11.9 29.9L12.1 32.3L12.7 34.7L12.8 37.1L13.4 39.5L13.4 39.5L13.4 39.5L13.2 41.9L12.9 44.3L13.1 46.7L13.1 49.1Z"/>
<path class="c" d="M16 49.1L18.2 50.1L20.6 49.9L23.1 49.2L23.4 49.1L23.4 46.7L23.3 44.3L23.8 41.9L24 39.5L24.6 37.1L24.9 34.7L24.6 32.3L25.3 29.9L25.5 27.5L25 25.1L25.2 22.8L25.3 20.4L23.8 18L23.4 15.6L23.1 14.1L22.9 13.2L22 10.8L22.2 8.4L20.6 6L19.2 8.4L18.2 8.7L16.1 8.4L15.8 8.3L15.7 8.4L15.8 8.5L16.5 10.8L17.2 13.2L15.8 14.5L15.3 15.6L15 18L14.2 20.4L14.2 22.8L13.9 25.1L13.9 27.5L14 29.9L14 32.3L14.7 34.7L14.6 37.1L15.2 39.5L15.8 41.2L16.1 41.9L15.8 42.9L15.3 44.3L15.8 45.6L16 46.7L16 49.1ZM17.4 3.6L18.2 4.4L20.6 6L22 3.6L21.8 1.2L21.8-1.2L20.6-1.6L19-1.2L19 1.2L18.2 2.2L17.4 3.6Z"/>
<path class="c" d="M20.5 41.9L20.6 42.1L20.7 41.9L21 39.5L21.9 37.1L22.6 34.7L22.7 32.3L23.1 31L23.4 29.9L23.3 27.5L23.1 26.3L23 25.1L23.1 24.2L23.3 22.8L23.1 21.9L22.6 20.4L20.9 18L21.4 15.6L20.6 13.8L19.2 15.6L18.2 16.9L17.6 18L16.5 20.4L15.8 22.7L15.7 22.8L15.7 25.1L15.8 25.6L16.2 27.5L15.8 29.8L15.7 29.9L15.8 30.5L15.9 32.3L16.8 34.7L16.9 37.1L17.2 39.5L18.2 40.9L20.5 41.9Z"/>
<path class="c" d="M20.1 29.9L20.6 32.3L20.8 29.9L20.6 29.6L20.1 29.9ZM18.2 27.5L18.2 27.7L18.3 27.5L20.6 26.8L21.7 25.1L20.6 23.6L18.2 23.8L17.9 25.1L18.2 27.5ZM18.2 20.4L18.2 20.8L18.4 20.4L18.2 20.3L18.2 20.4Z"/>
</g>
<g transform="translate(206.9 254.5)" clip-path="url(#cp)">
<g transform="scale(.1)">
<path class="b" d="M316 4h0m50 262h0m-165 148h0m204-289h0m-195 111h0m16-121h0m98-83h0m-127 3h0m1 188h0m142-125h0m-101-45h0m204 280h0m-81 23h0m-175-29h0m44-315h0m-33 177h0m127-85h0m21-68h0m57 264h0m-42-193h0m-208 229h0m235-58h0m-211-64h0m214 93h0m33 33h0m-69 102h0m-11-109h0m-189-145h0m15 87h0m53 151h0m-13 5h0m134-4h0m-128-337h0m-16 250h0m169-69h0m-13-133h0m-38-135h0m-102 345h0m-50-66h0m6-56h0m288-17h0m-245 183h0m27 27h0m-41-33h0m198-132h0m-54 198h0m26-20h0m-168-276h0m165 288h0m-154-80h0m218-242h0m-251 60h0m162 131h0m-6-247h0m-100-12h0m-51 103h0m155 81h0m-132-233h0m144 386h0m-181-86h0m234-44h0m-301-41h0m97 258h0m-19-240h0m10 160h0m150-284h0m28 163h0m-185 106h0m159-206h0m21-31h0m-46-50h0m34 54h0m51 145h0m-169-227h0m132 165h0m-160 3h0m2 238h0m-64-217h0m246-106h0m-34 140h0m-185-43h0m44-9h0m128-201h0m7 304h0m36-50h0m-65-248h0m71 408h0m-239-146h0m275-68h0m-237-40h0m203 94h0m-53 77h0m-12-252h0m26 236h0m-156 78h0m250-110h0m-211-205h0m80-37h0m-133 28h0m185 340h0m-225-132h0m64 91h0m138-90h0m-198-233h0m6 216h0m36-70h0m0 77h0m20-137h0m131 259h0m47-13h0m-1-82h0m-40-112h0m-146-197h0m-11-12h0m32 97h0m-33 299h0m128-359h0m21 178h0m-151 157h0m28 24h0m-30-166h0m28 157h0m-19-170h0m285-30h0m-329 7h0m88-183h0m-86 159h0m45-53h0m-6 287h0m143-338h0m-179 294h0m226-123h0m-226 8h0m74-241h0m146 339h0m-29-351h0m32 310h0m-197 54h0m-49-62h0m209-159h0m-164 313h0m162-147h0m-121-310h0m-47 141h0m172 121h0m-5-169h0m8 353h0m-202-125h0m30-38h0m140-205h0"/>
<path class="b" d="M186 260h0m170 17h0m-207 65h0m42-236h0m36 318h0m-138-312h0m385-25h0m11-29h0m-350 260h0m97-257h0m113 395h0m-143-47h0m141-334h0m-128 314h0m154-144h0m-160 215h0m-43-91h0m13 78h0m196-215h0m64-135h0m-276 8h0m228 64h0m-202 147h0m246-169h0m-97-99h0m-129 333h0m198-182h0m-259 42h0m234-41h0m2 34h0m12 2h0m39 142h0m-24 27h0m-271 30h0m200 10h0m77-131h0m-6-297h0m-269 143h0m213-10h0m-137-138h0m7 101h0m-14-101h0m-13 150h0m3-29h0m142 199h0m-166 71h0m-21-66h0m58-233h0m138 26h0m-176 113h0m271 8h0m-241-203h0m139 332h0m-5-1h0m5-304h0m-150 8h0m-36 183h0m202 49h0m-147-164h0m145-117h0m-17 92h0m-135 91h0m188 19h0m-187-77h0m144 276h0m-145 21h0m133-81h0m41-54h0m-154-207h0m176 197h0m-173 110h0m-44-175h0m158 92h0m9-24h0m-116-243h0m-87 197h0m210-36h0m31 43h0m-37-139h0m-264 281h0m96-241h0m138-119h0m61 253h0m-170-71h0m147-201h0m-197 80h0m31 42h0m146-7h0m-186 280h0m77-3h0m-9-311h0m155 194h0m-217-190h0m0 112h0m43 163h0m138-237h0m-127 283h0m-33-416h0m199 338h0m49-97h0m-60 24h0m-160 69h0m132-3h0m-11-266h0m14 358h0m-158-241h0m176 52h0m-139 153h0m-28 29h0m196-115h0m-69-298h0m70 307h0m-44 56h0m-150 31h0m153-74h0m-150 8h0m-3 117h0m160-422h0m-148 373h0m139-67h0m-110-251h0m-49 275h0m187-27h0m-207-94h0m35-160h0m135 266h0m-133-316h0m-36-36h0m35 139h0m10-63h0m-8-23h0m251 5h0m-279 356h0m160-124h0m6-90h0m-12-105h0m-159 257h0m28-33h0m177-166h0m-194-18h0m15-49h0m225 292h0m-84-81h0m11-142h0m-190 65h0m164-154h0m-119 133h0m31-193h0m-10 404h0m135-403h0"/>
<path class="b" d="M239 118h0m-89 32h0m281 74h0m-290-80h0m266 43h0m-201 162h0m-34-226h0m159-14h0m-103 302h0m-42-53h0m204-272h0m-199 300h0m196-186h0m-173 264h0m126-57h0m-167-18h0m28-327h0m18-4h0m-16 167h0m137 249h0m-147-205h0m191-144h0m-220 248h0m30 86h0m159-58h0m5-75h0m-226-86h0m266 156h0m-75-321h0m-106 377h0m-38-215h0m242 97h0m-18 90h0m-218-363h0m217 168h0m-205 158h0m11 22h0m-20-236h0m150-166h0m28 458h0m-49-419h0m59 215h0m-145 158h0m119-257h0m4 243h0m-233-350h0m39 200h0m8 163h0m12-186h0m207 35h0m-65-224h0m-147 373h0m-52-282h0m226 88h0m-245 159h0m52-293h0m-16 324h0m229-73h0m-158-210h0m133 280h0m-135-407h0m-63 337h0m71-173h0m174 265h0m7-127h0m-195-154h0m141-110h0m-24 32h0m-97-18h0m-11-5h0m-20 193h0m210-146h0m-16 220h0m19-146h0m-64 110h0m-158-236h0m-91 332h0m252 22h0m5 72h0m20-356h0m-188 122h0m3 57h0m174-220h0m35 20h0m-199 78h0m1 198h0m183 72h0m-275-186h0m223-147h0m-174 232h0m63 110h0m128-157h0m23 118h0m-23 51h0m-150-156h0m-17-97h0m6-95h0m174 248h0m-160-258h0m5 233h0m141-262h0m-8-55h0m8 303h0m-150-85h0m179-140h0m-156 347h0m152-99h0m-195-220h0m55 303h0m-9-38h0m-50-106h0m233 25h0m-204-81h0m-27-35h0m184-147h0m-145 183h0m139 66h0m-124-185h0m-9 105h0m-23 165h0m157-85h0m19 79h0m-133-271h0m-76 183h0m27 4h0m28 139h0m-17-280h0m-51 249h0m62-6h0m172 18h0m-159-340h0m162 91h0m-164-60h0m-11 70h0m142 13h0m6 41h0m-227 247h0m255-183h0m-238-193h0m38 323h0m25 57h0m-117-175h0m107-258h0m5 88h0m207 71h0m-193 228h0m-23-396h0m15 125h0m25 263h0m-21 48h0"/>
<path class="b" d="M400 353h0m-204 88h0m19-418h0m-4 95h0m-30 199h0m171-40h0m-23-233h0m12 89h0m-138-117h0m160 46h0m11 160h0m19 164h0m-186 87h0m6-296h0m26-126h0m-86 251h0m16-222h0m54-23h0m-30 343h0m185-86h0m-55-264h0m-100 367h0m146-222h0m-147-192h0m128 420h0m-216-134h0m80-136h0m-49 158h0m180 52h0m-28-290h0m-143 250h0m171 99h0m52-249h0m-37 225h0m-190-34h0m38-360h0m132 293h0m-125-190h0m104-3h0m-208 193h0m298-38h0m-211-191h0m160 317h0m-188-142h0m189-96h0m-216 313h0m254-130h0m-195-163h0m40-58h0m-6-11h0m82 13h0m-140 42h0m190 143h0m-239-82h0m248 193h0m-177-71h0m-28-95h0m-51-12h0m227-198h0m59 111h0m-26 326h0m-211-325h0m21 21h0m13 288h0m144-30h0m2-344h0m-164 310h0m174-14h0m-141 35h0m-4-306h0m-112 214h0m62 87h0m46-362h0m133 245h0m30-56h0m-174 149h0m159 96h0m-148-373h0m172 176h0m-206 198h0m142-406h0m-123 162h0m219 23h0m-11-76h0m-34 143h0m14-28h0m-22-134h0m-34-62h0m45 23h0m-229 172h0m99 121h0m138-14h0m-192-51h0m215-341h0m-219 469h0m183-270h0m-204 270h0m29-57h0m40-402h0m-92 168h0m245 209h0m-28-347h0m-38 53h0m-153 364h0m49-381h0m143 204h0m-12-3h0m-198 102h0m29-64h0m225-228h0m8 83h0m-210 55h0m147-119h0m-4-48h0m-191 238h0m58 142h0m117-347h0m23 315h0m-158-268h0m200 185h0m-227-68h0m2 79h0m30-275h0m147-33h0m-159 384h0m259-394h0m-38 105h0m-216 294h0m-52-253h0m9 191h0m77 62h0m11-13h0m-29-265h0m-5 83h0m3-49h0m-40 151h0m270-109h0m-218-207h0m162 320h0m-28-26h0m-210 103h0m247-181h0m-172 193h0m130-46h0m-142-29h0m24-249h0m147-15h0m62 104h0m-227-19h0m-25 234h0"/>
<path class="b" d="M214 418h0m134-310h0m-141 243h0m135-124h0m88-197h0m-301 229h0m61 69h0m4-170h0m16 211h0m132-244h0m-141-19h0m132-92h0m-192 228h0m217-227h0m-128 83h0m87-67h0m75 86h0m-224-70h0m61-30h0m213 440h0m-267-260h0m22 40h0m23-218h0m-4 142h0m102-156h0m118 375h0m-99-336h0m-132 292h0m26 81h0m109-24h0m89-100h0m-272 7h0m209-103h0m-24 112h0m85-82h0m28 0h0m-312-16h0m50-74h0m-11-110h0m22 154h0m24-133h0m-26-39h0m151 291h0m-138-83h0m115-195h0m-185 319h0m228-327h0m-159 216h0m-27 34h0m177-36h0m-20-186h0m-209 360h0m-47-219h0m91-23h0m4 103h0m-21 117h0m71 37h0m125-363h0m-18 36h0m14 149h0m-148-132h0m193 64h0m-19-49h0m-18-3h0m-143-48h0m98-34h0m73 33h0m-53-60h0m3 66h0m-113-54h0m10 79h0m158 258h0m-38 112h0m-171-405h0m212 212h0m-323 148h0m102-171h0m212 5h0m6 141h0m-179-297h0m175 349h0m-46-183h0m-131-129h0m152 28h0m-195 120h0m53 133h0m-30-90h0m190 61h0m-170-243h0m-26-103h0m147-21h0m-155 185h0m-30-74h0m190 247h0m-15-271h0m-137 353h0m202-107h0m-254-226h0m57 150h0m12 145h0m120-394h0m-173-14h0m200 210h0m-178 140h0m28 82h0m158-128h0m-150-252h0m163 350h0m-26-200h0m-111-111h0m6 8h0m-53 108h0m-21-68h0m7 72h0m220-67h0m-161-148h0m-25 461h0m-43-227h0m-14-71h0m206-97h0m-11 286h0m-136-144h0m132 111h0m-157 11h0m5-48h0m37 114h0m-35-362h0m139-5h0m-96 382h0m183-108h0m-225 90h0m-30 38h0m45-59h0m-41-102h0m-115-42h0m160-203h0m160 220h0m-310-33h0m350 78h0m-76-225h0m82 221h0m-248-270h0m41 435h0m22-353h0m-20-8h0m-26 64h0m157 196h0m1-38h0m33-172h0m-217 277h0"/>
<path class="b" d="M353 27h0m-140-26h0m130 225h0m-120-118h0m135-30h0m-174 295h0m190 19h0m-239-385h0m83 432h0m142-75h0m-168-124h0m195 159h0m-191-266h0m5 220h0m11-199h0m-13 224h0m153-87h0m-129 135h0m115-328h0m-164 51h0m14 141h0m163-55h0m-9-77h0m-129-126h0m-43 420h0m161-391h0m55 104h0m-20 69h0m-142-119h0m16 313h0m-22-40h0m137-88h0m-181-54h0m-81 35h0m261-16h0m-180 22h0m186 122h0m111 12h0m-243-1h0m102-335h0m50 349h0m-31-47h0m-150-338h0m151 35h0m-145-5h0m5 7h0m1 142h0m198-26h0m-194-39h0m131 60h0m-155-19h0m-64 150h0m221-121h0m-200-70h0m279 161h0m-110-234h0m32 273h0m-141-226h0m166 233h0m-6-32h0m-299-241h0m302 195h0m-22-260h0m2 64h0m0 121h0m4 14h0m-38-136h0m-132 133h0m215-68h0m-167 249h0m154-301h0m-219 292h0m47-60h0m-23 46h0m209-307h0m-16 323h0m-7-196h0m-188-91h0m178 178h0m1-52h0m-175 100h0m170-69h0m-148-184h0m158-74h0m-5 289h0m-181-19h0m-1 75h0m198 44h0m-42 26h0m-2-415h0m-142 357h0m143-363h0m-143 105h0m14 346h0m156-213h0m-163-233h0m22-3h0m216 347h0m-238-351h0m140 23h0m-2 187h0m-4 20h0m5-185h0m-115 365h0m-27-313h0m113-101h0m-129 407h0m155-143h0m-173 194h0m154-404h0m-122 355h0m41 16h0m98-404h0m21 387h0m109-138h0m-127 70h0m27 28h0m-213-10h0m216-48h0m28-74h0m-224-85h0m152-103h0m59 160h0m-192 21h0m174-83h0m-141-40h0m113 80h0m-213 70h0m206-158h0m-150 192h0m194 46h0m-193 89h0m155-196h0m-112 181h0m-18-70h0m105-279h0m-129 203h0m-9-20h0m-28 46h0m41-198h0m151-38h0m84 334h0m-57-61h0m-6-216h0m-9 286h0m-194-385h0m-31 322h0m56-86h0m22-142h0m3 48h0"/>
<path class="b" d="M188 383h0m-15-156h0m45 218h0m165-135h0m-18-76h0m3-149h0m-164 145h0m-5 115h0m167-109h0m-192-156h0m67 335h0m123-387h0m-3 353h0m3-207h0m33-2h0m-230 104h0m180-175h0m-135-48h0m181 42h0m-199 266h0m-1-50h0m157-4h0m17 54h0m-184-206h0m30-100h0m-47 25h0m54-59h0m216 391h0m-65-195h0m-14-41h0m45 2h0m-40 253h0m14-397h0m-54 65h0m36-73h0m-145 368h0m26-292h0m-85 75h0m19-19h0m32 24h0m-65-8h0m208 62h0m-32-118h0m39 326h0m0-371h0m-171 101h0m12 63h0m150 112h0m12-82h0m-32-189h0m-108 273h0m18-242h0m156 160h0m-227-167h0m156-95h0m85 277h0m-42-249h0m-25 46h0m-97-81h0m148 409h0m-42-227h0m-7 285h0m-174-55h0m31-261h0m167 78h0m9-4h0m-135-207h0m-21 61h0m150 149h0m-16 76h0m-12 0h0m-136-190h0m210 161h0m-35-65h0m-164-52h0m-41 149h0m39 80h0m-47-75h0m-69 40h0m234-241h0m-130 48h0m126-72h0m-119 96h0m138 81h0m3-195h0m-148 287h0m227-139h0m-242 19h0m274-79h0m-261 232h0m-30-251h0m207 57h0m-216 36h0m-14-15h0m64 0h0m161-94h0m-32-84h0m-131 183h0m165 63h0m53 133h0m-67-360h0m52 4h0m-67 103h0m-164-114h0m149 60h0m-162 342h0m-1-134h0m156-278h0m-119 332h0m4-218h0m156 113h0m-152 104h0m-129-69h0m268-227h0m-15-1h0m-176 143h0m35 157h0m155-8h0m-166 63h0m29-385h0m-32 321h0m194-178h0m-159 289h0m137-245h0m-173-217h0m38 127h0m-23 306h0m36-333h0m-67 13h0m25 271h0m28 8h0m13-398h0m116 368h0m61-187h0m-197 47h0m157-85h0m-224 134h0m235-256h0m-5 184h0m-18 93h0m-10-245h0m25 417h0m-32-363h0m26 229h0m-150-112h0m-5-52h0m26 230h0m-57 59h0m10-269h0m25 222h0"/>
<path class="b" d="M216 47h0m128 184h0m-7-124h0m9 240h0m-188 115h0m164-427h0m-4 66h0m30 213h0m-219-7h0m220-218h0m-167 19h0m203 106h0m-181-71h0m-29-36h0m21-1h0m131 10h0m23 300h0m87 57h0m-222-294h0m-13-1h0m142-35h0m-194 216h0m233-127h0m-42 4h0m52 36h0m-213 159h0m-69-420h0m227 21h0m34 223h0m-183 79h0m20 108h0m127-410h0m108 226h0m-230 124h0m127-2h0m49-46h0m-46-243h0m-26-87h0m-172 184h0m226 105h0m-49-218h0m-139-62h0m53 53h0m-50 191h0m209-21h0m-55 168h0m-168-184h0m176 92h0m-180 36h0m8-92h0m-13 151h0m186-84h0m-111-215h0m-67 363h0m36-113h0m181-342h0m-44 334h0m-152-322h0m-62 449h0m205-370h0m29 91h0m-186 58h0m-67-181h0m105 164h0m183-44h0m-203-167h0m-41 298h0m215-313h0m19 227h0m-181-112h0m109-53h0m-109-22h0m7 362h0m107-367h0m34 216h0m-169 49h0m170-294h0m-186 252h0m7 53h0m156-277h0m-2-9h0m-169 371h0m235-94h0m-204 54h0m128-255h0m-258 162h0m144-161h0m-23 189h0m25 137h0m207-149h0m-262 75h0m78-268h0m-26 65h0m-78 153h0m56-238h0m-38 119h0m270 126h0m-257 90h0m208-90h0m-180-115h0m12-100h0m131-13h0m-116 256h0m-16-274h0m178 227h0m5 60h0m-24-319h0m13 134h0m-213 87h0m256 17h0m-58-4h0m-6 37h0m31-13h0m-159-281h0m-9 433h0m2-398h0m110-46h0m-115 133h0m123-94h0m-134 397h0m-17-225h0m9 108h0m163 51h0m-149-289h0m-4 127h0m4 13h0m154-217h0m44 245h0m-77-252h0m95 458h0m-212-116h0m131-226h0m6-73h0m6 424h0m-6-356h0m3 56h0m1 280h0m-206-448h0m188 38h0m34 98h0m-137 286h0m-36-298h0m-11 216h0m4-83h0m25-81h0m-22 1h0m201 27h0m-50 95h0m4 115h0m-120-418h0"/>
<path class="s" d="M235 101h0m107 191h0m29-170h0m-153 271h0m-19-4h0m12-151h0m134 52h0m-156 60h0m190-142h0m-219 98h0m26 102h0m229-15h0m-217 80h0m-19-224h0m206 227h0m-182-373h0m-10-5h0m-71 152h0m64 155h0m156-80h0m-208-37h0m27 133h0m232-230h0m-219 221h0m265-267h0m-88 157h0m-123 115h0m122-302h0m-259 90h0m92-177h0m182 206h0m-166-68h0m-5 120h0m171-16h0m-4-6h0m-152 74h0m146-111h0m-3 162h0m50-141h0m-226 180h0m298-341h0m-319 308h0m17-23h0m164-329h0m-12 41h0m-115 79h0m167-132h0m-31 149h0m-4 169h0m-141 90h0m-42-67h0m-16-21h0m62-10h0m126-242h0m-143 51h0m22 33h0m9-28h0m-36 91h0m-29 166h0m63 12h0m-5-331h0m22 338h0m157-172h0m-188-31h0m-8-161h0m188 62h0m-191 256h0m31-314h0m-15 314h0m181-251h0m-210-8h0m225-10h0m-60 111h0m0-113h0m-149 308h0m-10-21h0m28-237h0m-96 126h0m63-34h0m241-44h0m-70-27h0m-5 129h0m98-198h0m-45 192h0m-22 170h0m-194-316h0m144-104h0m41 300h0m5-88h0m-188 101h0m29-151h0m110-119h0m-133 107h0m21-170h0m6 125h0m120-119h0m17 262h0m-8-207h0m-5 241h0m-126 76h0m-38-127h0m179-12h0m-210 76h0m228-255h0m-8 136h0m-9-56h0m23 189h0m1-47h0m-187 139h0m206-101h0m-76-339h0m19 317h0m-217-30h0m238-44h0m-19 182h0m5-315h0m-154 213h0m-10-19h0m145-281h0m-133 26h0m-11 246h0m196 46h0m32 34h0m-208-227h0m212 69h0m-261-142h0m16-28h0m50-48h0m120 404h0m-102-364h0m134-24h0m-136 18h0m-25 79h0m-12-87h0m39 379h0m-39-55h0m186-236h0m-37 94h0m9 113h0m-33-236h0m9-93h0m44 304h0m-41 140h0m41 14h0m-40 10h0m-126-122h0m-137-109h0m275-20h0m-115 182h0m81-368h0m-94-37h0m143 177h0m-138-180h0m-16 360h0m149-31h0m-250 75h0m246-131h0m-7 141h0m-200-75h0m206-262h0m-181 304h0m23 14h0m206-219h0m-1 118h0m-59 28h0m-6 56h0m-23-289h0m-123 134h0m134-140h0m-127 331h0m156-100h0m-153 80h0m148-113h0m-197 102h0m54 22h0m-5-382h0m139 240h0m-125 140h0m-75 51h0m-40-375h0m76 218h0m184-159h0m58 212h0m-216-220h0m182 206h0m13-317h0m-228 209h0m13-62h0m-46-12h0m179-99h0m29 283h0m-192-285h0m38 173h0m193-77h0m-176-93h0m6 405h0m182-111h0m-221-250h0m18 53h0m-16 83h0m146-171h0m19 81h0m-139 190h0m119-261h0m56 186h0m-57-219h0m-100 11h0m131 36h0m-16 3h0m-263 333h0m344-97h0m-69-204h0m101-46h0m-330 150h0m242 103h0m-21-324h0m-25 34h0m-136 140h0m57-77h0m124 371h0m-147-406h0m222-28h0m-116-35h0m55 399h0m-164-220h0m17-125h0m-28-60h0m157 318h0m-167 105h0m214-25h0m-51-123h0m-2-100h0m3 57h0m-133 177h0m12-389h0m-32 347h0m-3-215h0m155 212h0m-144-18h0m-56-224h0m56 217h0m-92-210h0m216-56h0m45 239h0m-220 13h0m200-280h0m-155 321h0m4 96h0m-122-71h0m103-241h0m-5 236h0m29 7h0m-3-18h0m-17-196h0m144-156h0m20 259h0m-152-116h0m164 74h0m-12-154h0m-186 138h0m-22-9h0m84 206h0m131-266h0m-152-75h0m-19 193h0m152 47h0m-141 104h0m-40-108h0m177-251h0m114 161h0m-313 66h0m13 13h0m57-262h0m19 384h0m219-234h0m-240 183h0m1-302h0m12 33h0m161 285h0m-58-388h0m-128 451h0m19-60h0m125-363h0m-176 336h0m9-130h0m40 183h0m-84-47h0m-35-36h0m252 24h0m-241 40h0m76-45h0m-32-25h0m196-2h0m29-70h0m-151-205h0m-48 131h0m-39 98h0m239 83h0m-1 95h0m11-178h0m-180 68h0m171 88h0m-221-189h0m50 115h0m208-94h0m-64 171h0m-140-264h0m-17 175h0m198 116h0m-202-60h0m6-305h0m163 264h0m-167-43h0m-80-91h0m99-60h0m1 174h0m131 14h0m-133-284h0m-19 218h0m188-153h0m-165-38h0m-19 36h0m21 239h0m-24-118h0m-49 64h0m227-242h0m-165 32h0m1 220h0m142-250h0m24 363h0m-30-224h0m48 201h0m-185-72h0m165 21h0m-170-190h0m1 170h0m138-312h0m21 222h0m53 198h0m-218-232h0m33-134h0m-9 321h0m-24-379h0m150 381h0m-143-338h0m242 273h0m-86-284h0m77 195h0m-98-241h0m-6-15h0m-193 274h0m220-271h0m-8 409h0m15-30h0m-157-238h0m1 275h0m140-68h0m10 16h0m-198-378h0m44 463h0m131-377h0m63 187h0m-59-239h0m-130 202h0m4 1h0m169 63h0m-6 151h0m-28-428h0m11 420h0m-27-387h0m8 99h0m-138-101h0m32 352h0m136-359h0m9 239h0m16-51h0m-37-192h0m37 367h0m-218 45h0m237-30h0m-229-233h0m164-118h0m6 69h0m32-48h0m-199 164h0m157 148h0m11 29h0m7-195h0m-173-188h0m19 315h0m-18 1h0m154 75h0m-192-220h0m51-200h0m-7 411h0m145-398h0m3 246h0m25 189h0m-24-356h0m-5 202h0"/>
<path class="s" d="M392 400h0m-193-43h0m18-121h0m-45-10h0m246-153h0m-205 313h0m-25-140h0m0-199h0m183 357h0m-55-298h0m42 247h0m6-246h0m-168 26h0m5 246h0m14-202h0m-55 151h0m2 121h0m-55-116h0m237-20h0m49-39h0m-29-2h0m-147-33h0m264-220h0m-285 218h0m145-1h0m3 123h0m12-47h0m9-108h0m-126 218h0m-30-269h0m-47-57h0m186 12h0m70 210h0m-207 41h0m20 58h0m109-376h0m-152 243h0m170-265h0m15 270h0m-204 41h0m-108-90h0m141 212h0m15-364h0m-18 252h0m-81-39h0m250-135h0m4 180h0m-251-62h0m77 111h0m15-21h0m-59-132h0m84 166h0m107-65h0m-139-177h0m-53 164h0m63-155h0m-81 293h0m243-195h0m-185 10h0m162 52h0m11-311h0m46 367h0m-282-39h0m96 65h0m155 49h0m-166-96h0m221-11h0m-88-72h0m-9-203h0m-126-57h0m28 395h0m165-233h0m-27 152h0m-167-217h0m-68 86h0m-12-62h0m80 68h0m-4 219h0m145-160h0m-161-74h0m40-192h0m137 469h0m-139-48h0m-30-50h0m219-61h0m-27-246h0m-150 339h0m143-74h0m-7-122h0m-31-164h0m-161 253h0m176-32h0m-163 155h0m15-13h0m145-84h0m42-106h0m-253-174h0m193 313h0m13-51h0m-116 100h0m122-100h0m-162 123h0m-32-356h0m7 156h0m35 127h0m214 92h0m-207 9h0m125-57h0m0-399h0m-194 26h0m67 308h0m104-299h0m-108 353h0m138-168h0m34 173h0m-9-386h0m-190 29h0m168 248h0m57-105h0m-56 0h0m22 149h0m-208 123h0m232-239h0m-187-55h0m-105 47h0m240-161h0m12 80h0m-17-63h0m-162 1h0m238-46h0m-195 401h0m-4 32h0m-1 20h0m180-180h0m-190-189h0m9 345h0m142-275h0m-7 169h0m-15-291h0m-179 363h0m16-295h0m38-13h0m-61 108h0m196-197h0m38 184h0m-42 75h0m25-229h0m-8 235h0m-168 0h0m-19 81h0m39-263h0m-14 40h0m222 279h0m-63-416h0m1 215h0m-201-34h0m215 115h0m-264-297h0m105 225h0m-18 56h0m0-211h0m-7 155h0m155-140h0m-156 350h0m133-437h0m28 424h0m-2-268h0m-22-44h0m-4-109h0m31 458h0m-175-83h0m155-347h0m-155 222h0m59-157h0m5 328h0m-89-104h0m11-164h0m186 151h0m-131-213h0m-3 255h0m128-56h0m-137-146h0m162 159h0m-138 119h0m164-122h0m-60-270h0m14 250h0m-134-176h0m-16 258h0m136-361h0m-155 304h0m11 58h0m-70 27h0m71-45h0m52-295h0m-25 311h0m171-108h0m-199-79h0m24-73h0m-26 76h0m3 129h0m206-51h0m-64-242h0m-1 56h0m-153-33h0m21 320h0m-11-249h0m46-95h0m174 54h0m-31 74h0m-193-40h0m30-106h0m-9 181h0m193 186h0m-42 44h0m-31-300h0m-138 230h0m213 81h0m-187 12h0m124-392h0m-119 45h0m-134 233h0m146-257h0m-22 157h0m-20 33h0m-24 148h0m194 72h0m-126-451h0m-37 69h0m-35 323h0m44-51h0m178-110h0m-228 217h0m190-142h0m-252 70h0m137 9h0m-35-120h0m169-181h0m-165 360h0m162-429h0m-206 114h0m84 274h0m-63-219h0m275 265h0m-277-195h0m175-12h0m56 111h0m-13 50h0m-204-209h0m140-174h0m36 189h0m21 153h0m-172-16h0m33-307h0m82 16h0m35 154h0m-163-8h0m201 54h0m-303-70h0m258 92h0m-138 92h0m104-357h0m-167-15h0m-43 90h0m70 18h0m-5-50h0m182 240h0m23 17h0m-15-106h0m-4 242h0m-4-95h0m16 83h0m-176-21h0m133-394h0m-115 193h0m0-53h0m5 223h0m-63-146h0m175-144h0m-13-99h0m-128 41h0m-94 355h0m223-327h0m-125 274h0m2 89h0m-10-371h0m202 225h0m-39-10h0m-134-108h0m168 224h0m-142-406h0m118 301h0m5-184h0m-191 106h0m203-133h0m-155-89h0m15 102h0m-53 199h0m34 80h0m135-260h0m-162-14h0m19 361h0m-26-429h0m5 307h0m180-190h0m-190 112h0m61-253h0m-44 337h0m18-352h0m-93 438h0m40-188h0m54-102h0m3 237h0m139-163h0m-227 244h0m254-313h0m-180 69h0m8-60h0m115-108h0m21 42h0m12 120h0m-117 204h0m-18-309h0m-75 184h0m65-71h0m162 224h0m-37-429h0m-8 7h0m54 371h0m-213-100h0m34-241h0m145 395h0m-140-271h0m130-89h0m15 42h0m-197 186h0m214 44h0m-31 10h0m8 49h0m-183-176h0m17-200h0m31 53h0m-10 332h0m170-389h0m-8 184h0m41 71h0m-212 52h0m165-172h0m30 271h0m-211-40h0m25-266h0m119-69h0m-176 58h0m207 182h0m1-16h0m-184-254h0m43 94h0m3 289h0m-3-199h0m-37-16h0m57-211h0m-72 293h0m47 106h0m-65-271h0m78-27h0m-87 27h0m84-121h0m-29 274h0m-1 3h0m4-201h0m167 45h0m-19 185h0m-145 66h0m39-378h0m114 166h0m-180 110h0m48-212h0m12 345h0m112-235h0m-163 181h0m193-230h0m-194 256h0m-61 45h0m97-21h0m4 16h0m251-310h0m-125 231h0m-112-331h0m-28 136h0m35-130h0m146 162h0m-47-71h0m-152 319h0m211-106h0m-169 104h0m119-105h0m-28-277h0m-152 321h0m167-262h0m41 110h0"/>
</g>
<path d="M19.7 49.1L20.6 49.5L23.1 50.1L25.5 50.8L27.9 50.6L30.3 50.7L32.8 50L34.8 49.1L34.8 46.7L34.6 44.3L34.3 41.9L34.8 39.5L35.2 37.9L35.5 37.1L36.5 34.7L36.2 32.3L37.6 30.7L38.2 29.9L37.6 29L35.6 27.5L36.5 25.1L35.7 22.8L36.3 20.4L35.5 18L35.2 17.3L34.7 15.6L34.3 13.2L34 10.8L34.4 8.4L33.7 6L32.8 4.3L32.4 3.6L32.3 1.2L32.3-1.2L30.3-2.4L27.9-2.6L25.5-2.5L23.1-1.7L20.6-1.4L20.4-1.2L20.4 1.2L20.3 3.6L20.6 4.8L23.1 6L23.1 6L23.1 6L21.1 8.4L20.6 10.4L20.5 10.8L20.6 11.2L20.9 13.2L20.6 14.2L18.9 15.6L20.1 18L19 20.4L19.2 22.8L18.6 25.1L18.7 27.5L18.6 29.9L18.9 32.3L18.2 34.4L18.1 34.7L18.2 34.9L19.8 37.1L20.6 39.5L20.6 39.5L20.6 39.5L19.4 41.9L20.3 44.3L19.7 46.7L19.7 49.1Z" fill="#fff" fill-rule="evenodd"/>
<path d="M19.42 43.11h2.43v2.4h-2.43zM19.42 40.72h2.43v2.4h-2.43zM19.42 38.32h2.43v2.4h-2.43zM19.42 35.92h2.43v2.4h-2.43zM19.42 33.53h2.43v2.4h-2.43zM19.42 31.14h2.43v2.4h-2.43zM19.42 28.74h2.43v2.4h-2.43zM19.42 26.34h2.43v2.4h-2.43zM19.42 21.55h2.43v2.4h-2.43zM19.42 19.16h2.43v2.4h-2.43zM19.42 16.77h2.43v2.4h-2.43zM19.42 14.37h2.43v2.4h-2.43zM21.85 43.11h2.43v2.4h-2.43zM21.85 11.97h2.43v2.4h-2.43zM21.85 9.58h2.43v2.4h-2.43zM21.85 7.19h2.43v2.4h-2.43zM21.85 4.79h2.43v2.4h-2.43zM21.85 2.4h2.43v2.4h-2.43zM21.85 0h2.43v2.4h-2.43zM24.27 4.79h2.43v2.4h-2.43zM24.27 0h2.43v2.4h-2.43zM29.13 4.79h2.43v2.4h-2.43zM29.13 2.4h2.43v2.4h-2.43zM29.13 0h2.43v2.4h-2.43zM31.56 45.51h2.43v2.4h-2.43zM31.56 43.11h2.43v2.4h-2.43zM31.56 40.72h2.43v2.4h-2.43zM31.56 14.37h2.43v2.4h-2.43zM31.56 11.97h2.43v2.4h-2.43zM31.56 9.58h2.43v2.4h-2.43zM31.56 7.19h2.43v2.4h-2.43zM31.56 4.79h2.43v2.4h-2.43zM31.56 2.4h2.43v2.4h-2.43zM33.98 35.92h2.43v2.4h-2.43zM33.98 33.53h2.43v2.4h-2.43zM33.98 31.14h2.43v2.4h-2.43zM33.98 28.74h2.43v2.4h-2.43zM33.98 26.34h2.43v2.4h-2.43zM33.98 23.95h2.43v2.4h-2.43zM33.98 21.55h2.43v2.4h-2.43zM33.98 19.16h2.43v2.4h-2.43z" fill="#000" fill-opacity="0.06"/>
<path d="M19.42 23.95h2.43v2.4h-2.43zM21.85 45.51h2.43v2.4h-2.43zM21.85 40.72h2.43v2.4h-2.43zM21.85 16.77h2.43v2.4h-2.43zM21.85 14.37h2.43v2.4h-2.43zM24.27 9.58h2.43v2.4h-2.43zM24.27 7.19h2.43v2.4h-2.43zM24.27 2.4h2.43v2.4h-2.43zM26.7 4.79h2.43v2.4h-2.43zM26.7 2.4h2.43v2.4h-2.43zM26.7 0h2.43v2.4h-2.43zM29.13 45.51h2.43v2.4h-2.43zM29.13 11.97h2.43v2.4h-2.43zM29.13 9.58h2.43v2.4h-2.43zM29.13 7.19h2.43v2.4h-2.43zM31.56 38.32h2.43v2.4h-2.43zM31.56 35.92h2.43v2.4h-2.43zM31.56 33.53h2.43v2.4h-2.43zM31.56 31.14h2.43v2.4h-2.43zM31.56 21.55h2.43v2.4h-2.43zM31.56 19.16h2.43v2.4h-2.43zM31.56 16.77h2.43v2.4h-2.43z" fill="#000" fill-opacity="0.12"/>
<path d="M21.85 38.32h2.43v2.4h-2.43zM21.85 35.92h2.43v2.4h-2.43zM21.85 33.53h2.43v2.4h-2.43zM21.85 31.14h2.43v2.4h-2.43zM24.27 45.51h2.43v2.4h-2.43zM24.27 43.11h2.43v2.4h-2.43zM24.27 40.72h2.43v2.4h-2.43zM24.27 11.97h2.43v2.4h-2.43zM26.7 9.58h2.43v2.4h-2.43zM26.7 7.19h2.43v2.4h-2.43zM29.13 43.11h2.43v2.4h-2.43zM29.13 40.72h2.43v2.4h-2.43zM29.13 38.32h2.43v2.4h-2.43zM29.13 16.77h2.43v2.4h-2.43zM29.13 14.37h2.43v2.4h-2.43zM31.56 28.74h2.43v2.4h-2.43zM31.56 26.34h2.43v2.4h-2.43z" fill="#000" fill-opacity="0.19"/>
<path d="M21.85 28.74h2.43v2.4h-2.43zM21.85 21.55h2.43v2.4h-2.43zM21.85 19.16h2.43v2.4h-2.43zM24.27 38.32h2.43v2.4h-2.43zM24.27 14.37h2.43v2.4h-2.43zM26.7 45.51h2.43v2.4h-2.43zM26.7 43.11h2.43v2.4h-2.43zM26.7 40.72h2.43v2.4h-2.43zM26.7 11.97h2.43v2.4h-2.43zM31.56 23.95h2.43v2.4h-2.43z" fill="#000" fill-opacity="0.25"/>
<path d="M21.85 26.34h2.43v2.4h-2.43zM21.85 23.95h2.43v2.4h-2.43zM24.27 16.77h2.43v2.4h-2.43zM26.7 38.32h2.43v2.4h-2.43zM26.7 16.77h2.43v2.4h-2.43zM26.7 14.37h2.43v2.4h-2.43zM29.13 35.92h2.43v2.4h-2.43zM29.13 33.53h2.43v2.4h-2.43z" fill="#000" fill-opacity="0.31"/>
<path d="M24.27 35.92h2.43v2.4h-2.43zM24.27 33.53h2.43v2.4h-2.43zM29.13 31.14h2.43v2.4h-2.43zM29.13 19.16h2.43v2.4h-2.43z" fill="#000" fill-opacity="0.38"/>
<path d="M24.27 31.14h2.43v2.4h-2.43zM24.27 19.16h2.43v2.4h-2.43zM26.7 35.92h2.43v2.4h-2.43z" fill="#000" fill-opacity="0.44"/>
<path d="M24.27 21.55h2.43v2.4h-2.43zM26.7 33.53h2.43v2.4h-2.43zM26.7 19.16h2.43v2.4h-2.43zM29.13 28.74h2.43v2.4h-2.43zM29.13 26.34h2.43v2.4h-2.43zM29.13 23.95h2.43v2.4h-2.43zM29.13 21.55h2.43v2.4h-2.43z" fill="#000" fill-opacity="0.5"/>
<path d="M24.27 28.74h2.43v2.4h-2.43zM26.7 31.14h2.43v2.4h-2.43z" fill="#000" fill-opacity="0.56"/>
<path d="M24.27 26.34h2.43v2.4h-2.43z" fill="#000" fill-opacity="0.62"/>
<path d="M24.27 23.95h2.43v2.4h-2.43zM26.7 28.74h2.43v2.4h-2.43zM26.7 26.34h2.43v2.4h-2.43zM26.7 21.55h2.43v2.4h-2.43z" fill="#000" fill-opacity="0.69"/>
<path d="M26.7 23.95h2.43v2.4h-2.43z" fill="#000" fill-opacity="1"/>
<path class="c" d="M19.7 49.1L20.6 49.5L23.1 50.1L25.5 50.8L27.9 50.6L30.3 50.7L32.8 50L34.8 49.1L34.8 46.7L34.6 44.3L34.3 41.9L34.8 39.5L35.2 37.9L35.5 37.1L36.5 34.7L36.2 32.3L37.6 30.7L38.2 29.9L37.6 29L35.6 27.5L36.5 25.1L35.7 22.8L36.3 20.4L35.5 18L35.2 17.3L34.7 15.6L34.3 13.2L34 10.8L34.4 8.4L33.7 6L32.8 4.3L32.4 3.6L32.3 1.2L32.3-1.2L30.3-2.4L27.9-2.6L25.5-2.5L23.1-1.7L20.6-1.4L20.4-1.2L20.4 1.2L20.3 3.6L20.6 4.8L23.1 6L23.1 6L23.1 6L21.1 8.4L20.6 10.4L20.5 10.8L20.6 11.2L20.9 13.2L20.6 14.2L18.9 15.6L20.1 18L19 20.4L19.2 22.8L18.6 25.1L18.7 27.5L18.6 29.9L18.9 32.3L18.2 34.4L18.1 34.7L18.2 34.9L19.8 37.1L20.6 39.5L20.6 39.5L20.6 39.5L19.4 41.9L20.3 44.3L19.7 46.7L19.7 49.1Z"/>
<path class="c" d="M23.5 49.1L25.5 50L27.9 49.6L30.3 49.9L32 49.1L32 46.7L31.8 44.3L32 41.9L32.4 39.5L32.8 38.1L33.1 37.1L32.8 35.5L32.7 34.7L32.8 33.8L33.1 32.3L33.4 29.9L33.9 27.5L34.2 25.1L34 22.8L34.5 20.4L32.8 18.1L32.6 18L32.1 15.6L31.4 13.2L30.7 10.8L31.2 8.4L30.3 7.2L28.1 6L29.4 3.6L30.3 1.2L30.3-1.2L27.9-1.6L25.5-1.3L25.3-1.2L25.3 1.2L24.4 3.6L25.5 4.9L27.6 6L25.5 7.4L24.2 8.4L24.7 10.8L23.1 12.5L22.6 13.2L23.1 15.6L23.1 15.6L23.1 15.6L22.2 18L21.3 20.4L21.4 22.8L21 25.1L21.4 27.5L21.5 29.9L21.3 32.3L21.6 34.7L22.3 37.1L22.4 39.5L23.1 40.4L24.2 41.9L23.8 44.3L23.5 46.7L23.5 49.1Z"/>
<path class="c" d="M25.4 49.1L25.5 49.1L25.6 49.1L25.6 46.7L25.5 46.6L25.4 46.7L25.4 49.1ZM27.5 41.9L27.9 42.3L29.1 41.9L30.3 41L30.6 39.5L30.9 37.1L31.4 34.7L31.8 32.3L31.7 29.9L32.3 27.5L31.7 25.1L32.1 22.8L32.5 20.4L30.3 18.6L29.9 18L28.6 15.6L27.9 15.2L25.5 14.8L24.8 15.6L25.5 17L26 18L25.5 18.4L23.7 20.4L23.1 22.5L23 22.8L23.1 23.7L23.2 25.1L23.1 27.5L23.5 29.9L23.6 32.3L23.6 34.7L23.9 37.1L25.5 39.5L25.6 39.5L27.5 41.9Z"/>
<path class="c" d="M27.3 32.3L27.9 33.4L30.1 32.3L28.9 29.9L28.2 27.5L29.7 25.1L28.5 22.8L27.9 20.9L27.1 22.8L25.5 24.2L25.1 25.1L25.5 27.5L25.5 27.5L25.5 27.5L25.4 29.9L25.5 30.1L27.3 32.3Z"/>
</g>
<g transform="translate(257.7 254.5)" clip-path="url(#cp)">
<g transform="scale(.1)">
<path class="b" d="M61 429h0m195-17h0m-206-224h0m31-155h0m-4 425h0m35-285h0m19-97h0m-20 271h0m166 14h0m-165-56h0m-2-184h0m138-48h0m-140 148h0m185 211h0m-6-336h0m0 86h0m-29-77h0m-160 70h0m151 178h0m14 9h0m-159-324h0m171 400h0m-184-189h0m22-65h0m16-108h0m161 236h0m64 63h0m-233-137h0m163 195h0m-147-340h0m-50 160h0m39 179h0m121-118h0m-124-216h0m130 294h0m12-217h0m-150 222h0m5-119h0m-12-172h0m33 60h0m107-76h0m-3 255h0m-186-195h0m187 171h0m21-8h0m-154 81h0m137-286h0m-191 206h0m29-164h0m174 163h0m-102-242h0m84-39h0m34 130h0m-161 309h0m40-414h0m99 404h0m-2-92h0m-137-225h0m-35 181h0m189 101h0m8-165h0m-202 105h0m61-211h0m-24-60h0m-11 235h0m23-214h0m-71 265h0m235-25h0m43-349h0m-86 67h0m-121 93h0m-49 169h0m222-43h0m-40-276h0m-156 347h0m10-288h0m18 71h0m-14-28h0m-6 199h0m-2 147h0m13-415h0m47 9h0m110 187h0m-219-2h0m187 181h0m-169-102h0m82-257h0m138 140h0m-27-4h0m-210 128h0m202-196h0m-152 162h0m-3-67h0m170 201h0m-159-220h0m139 217h0m-152-416h0m152 464h0m-113-371h0m-88 343h0m238-181h0m-24-52h0m-11-76h0m-33-122h0m38 352h0m24-191h0m28 45h0m-197-53h0m25-136h0m-26 125h0m-1 153h0m-15 103h0m-7 48h0m22-105h0m107-349h0m44 60h0m-1 188h0m40-3h0m-14-225h0m-2 313h0m-36-27h0m29-66h0m21-30h0m-204 136h0m145-264h0m4 377h0m20-30h0m6-37h0m-158-247h0m128 37h0m-133 97h0m133 159h0m-1 31h0m71-363h0m-15 79h0m-215 165h0m18-287h0m8 142h0m-8 100h0m40-271h0m100 33h0m50 246h0m-39 39h0m-212 18h0m245-233h0m-3-34h0m-209 165h0m210 116h0m-156 47h0m123-432h0"/>
<path class="b" d="M245 137h0m27 153h0m-217 109h0m207-11h0m-5-4h0m-141-61h0m159-301h0m-186 451h0m195-228h0m-174 95h0m142-20h0m-143-84h0m-58-69h0m60 246h0m196-121h0m50 26h0m-251 34h0m166-245h0m-185 366h0m171-13h0m-175-106h0m169-315h0m-163 328h0m186 57h0m-11-248h0m-116-105h0m122 38h0m-1 263h0m6-146h0m-20 229h0m-11-141h0m107 132h0m-48-191h0m11 79h0m-71-232h0m58-74h0m-23 248h0m13 59h0m-217-29h0m54 137h0m163-318h0m-169 29h0m127 169h0m15-314h0m-133 436h0m120-394h0m-133-10h0m195 361h0m-238-159h0m171-196h0m-125 108h0m162 42h0m8-8h0m-20-163h0m-48-11h0m-74 51h0m96 283h0m4-10h0m-136-136h0m153 183h0m-184-66h0m38-182h0m20-38h0m-23 131h0m-26 107h0m46-329h0m155 154h0m-48-147h0m-143 159h0m-13 95h0m26-263h0m165 314h0m-161-120h0m131 233h0m-153-359h0m227 191h0m-209 178h0m135-54h0m-138-348h0m10 164h0m-18-178h0m8 407h0m155 30h0m-166-152h0m228-258h0m-50 231h0m-202 2h0m13-41h0m176-124h0m-127-85h0m-89 297h0m71 88h0m-38-350h0m40 17h0m219 4h0m-95 257h0m-164-69h0m224 100h0m-61 69h0m-145-338h0m23-74h0m-19 97h0m29-119h0m-20 279h0m-13-57h0m6-64h0m158-149h0m157 70h0m-117 382h0m-44-82h0m-147 58h0m-1-404h0m164 399h0m-8 10h0m-150-276h0m2-181h0m14 143h0m-43 249h0m208-44h0m-195-47h0m46-254h0m99-18h0m55 152h0m-20 187h0m36-49h0m-217-188h0m33 22h0m7 299h0m-24-316h0m-5-20h0m-8 301h0m-29-111h0m-11-207h0m208 42h0m-162 196h0m-12-315h0m-3 161h0m9-73h0m142 361h0m-189-175h0m79-191h0m161 34h0m-181 132h0m140 183h0m6-315h0m-176-45h0m157-50h0m-187-34h0m36 203h0m8 6h0"/>
<path class="b" d="M304 427h0m-184-257h0m-9 186h0m143-226h0m-3 197h0m49-212h0m-224 252h0m62-294h0m108 388h0m-115-441h0m-12 352h0m236-237h0m-36 285h0m-255-256h0m56 254h0m141-298h0m-149 275h0m181-331h0m-227 51h0m48 196h0m156-160h0m-195 61h0m220 125h0m-180-192h0m-7-97h0m164-3h0m-170 16h0m287 311h0m-293-48h0m12 119h0m31-326h0m117 297h0m-8-96h0m-160-238h0m40 16h0m-7 335h0m127-295h0m-132 172h0m182 72h0m-164-282h0m-14 187h0m144 55h0m15-221h0m10-105h0m-176 417h0m140-248h0m55 65h0m-164 204h0m-60-96h0m165-256h0m40 197h0m0 141h0m-173-95h0m3 28h0m168 87h0m-206-290h0m38 60h0m134 186h0m-9 51h0m60-388h0m-62-68h0m-139 370h0m-23-360h0m-29 395h0m54-141h0m9-115h0m-10 202h0m-2-24h0m186 31h0m-27-363h0m-154 229h0m137 137h0m-103-315h0m139 262h0m-186-118h0m175-128h0m-36-60h0m-146 303h0m-7 32h0m9-82h0m188-151h0m-28 225h0m-150-265h0m-4 299h0m-32-199h0m235 193h0m-294-241h0m110 53h0m154 188h0m-149-263h0m197 111h0m-51 182h0m-121 38h0m-47-329h0m177 321h0m-49-405h0m83 200h0m-51 216h0m6-112h0m-9-140h0m13-134h0m-160 175h0m-49-119h0m216 68h0m-184 59h0m33-116h0m6-19h0m182 266h0m-185-323h0m41 10h0m-61 126h0m1 21h0m154-23h0m-157-100h0m31-33h0m-26 294h0m-107-154h0m105 45h0m277 18h0m-343 123h0m99-332h0m-60 189h0m25-83h0m148-34h0m-126 325h0m-31-287h0m158-82h0m-2 78h0m-144 72h0m-13 218h0m158-114h0m22-146h0m-188 105h0m-11 60h0m51-180h0m211-67h0m-232 209h0m142-120h0m73 128h0m-73 58h0m29-228h0m-204 235h0m-11-37h0m29-131h0m153 149h0m-152-97h0m24 101h0m6-317h0m-37 134h0m192 57h0"/>
<path class="b" d="M116 379h0m138-62h0m-138-280h0m1 114h0m-31 177h0m13-167h0m-93 168h0m259-219h0m-110-51h0m138 385h0m-32-95h0m33 14h0m-182-37h0m192 63h0m-189-9h0m-26-232h0m227 157h0m-58-169h0m-5 201h0m-128-267h0m132 101h0m-175-83h0m33 274h0m-2-167h0m8-3h0m142 275h0m-6-30h0m-117 5h0m-90-274h0m206-83h0m22 206h0m-5-136h0m55 316h0m-74-143h0m44-86h0m-36 93h0m-2-241h0m-142 357h0m126-15h0m-196-229h0m247 165h0m-47-328h0m-139 99h0m12-61h0m136 306h0m-149 53h0m144-300h0m-150 167h0m148 35h0m-115-300h0m-34 365h0m-10-187h0m170-177h0m-145 130h0m18 264h0m-22 29h0m150-73h0m-12 32h0m-172-343h0m32 279h0m4-2h0m-12-50h0m176-16h0m-144-222h0m144 157h0m-142-190h0m-87 82h0m246 256h0m-222-121h0m242-47h0m-86-191h0m-129 362h0m160 79h0m10-238h0m-131-213h0m-6 158h0m115 244h0m-108 35h0m-43-98h0m182 131h0m-35-305h0m24 194h0m-160 24h0m164-83h0m23 57h0m-192-247h0m163 208h0m49 35h0m-207-122h0m0 89h0m-65-276h0m284 164h0m33-44h0m-115 226h0m-146-379h0m152 451h0m-6-140h0m41-232h0m18 190h0m-84-275h0m11 7h0m39 198h0m-187 39h0m25 210h0m169-138h0m36-290h0m30 234h0m-45-107h0m-186 205h0m172-25h0m14-329h0m-217 62h0m167 286h0m-122-364h0m-55 358h0m221-150h0m-8 61h0m-34 54h0m0 91h0m81-179h0m-67-62h0m18 281h0m-207-182h0m44 69h0m158 106h0m-27-81h0m-177-246h0m188 202h0m-141-137h0m-64 18h0m245 53h0m-213 201h0m21-378h0m0 304h0m162-128h0m-171 62h0m210 136h0m-186-372h0m139 272h0m-189-235h0m44 116h0m22-161h0m140 355h0m-9-205h0m-153-181h0m162 293h0m-180-111h0m149 149h0m29-166h0m-210 193h0"/>
<path class="b" d="M86 453h0m10-307h0m-14-53h0m41 69h0m-43 77h0m38 88h0m3-177h0m-15 59h0m38-177h0m153 229h0m-206-42h0m44-191h0m-44 385h0m197-251h0m-27-40h0m-9-32h0m-171 322h0m55-246h0m113 243h0m29-169h0m64-15h0m-231 106h0m-28 107h0m-8-146h0m-17-23h0m87-223h0m-62 251h0m-79 73h0m290 44h0m-25-114h0m-154-156h0m135 284h0m12-75h0m7-169h0m-10 181h0m-122-248h0m-48 324h0m3-341h0m215 99h0m-214-72h0m206 219h0m-168-254h0m-33 376h0m130-457h0m-113 341h0m-41-91h0m192 187h0m-17-72h0m-166-164h0m259 217h0m-246-354h0m-23 123h0m172 155h0m67-290h0m-45 133h0m-179 82h0m12 112h0m25-306h0m110-64h0m21 439h0m29-37h0m-212-24h0m204-34h0m-27-322h0m-133 282h0m132-299h0m-119 136h0m114 200h0m-101-269h0m117 363h0m-171-73h0m-4-63h0m162 69h0m-1-315h0m-111-18h0m116 424h0m-169-246h0m64-168h0m-14 14h0m143 185h0m-113-215h0m126 216h0m-211 135h0m172-10h0m-3-68h0m-166-63h0m-28 0h0m238-37h0m19-125h0m-42 240h0m-259-89h0m96 67h0m39-164h0m102 194h0m12 78h0m-201-182h0m66 198h0m131-49h0m62-321h0m-216 230h0m169 32h0m-208-67h0m208-53h0m-180 107h0m20-239h0m189 103h0m-42 162h0m-149-316h0m140 290h0m33 70h0m-27-264h0m5 301h0m-133 14h0m-82-152h0m71 148h0m181-270h0m14 234h0m-200 60h0m140-13h0m11-113h0m55-107h0m-217-45h0m-16 297h0m300-122h0m-102-178h0m-219 281h0m53-287h0m157 203h0m-167 73h0m38-369h0m-31 103h0m140-67h0m10 225h0m15 51h0m-30-48h0m12-219h0m-9 196h0m16 136h0m-184-47h0m-3-49h0m33-265h0m-17 259h0m40-305h0m-13 257h0m-5-131h0m5 167h0m165-192h0m-38 190h0m48-62h0m-10 127h0"/>
<path class="b" d="M117 396h0m-34 27h0m20-374h0m46 4h0m133 144h0m-176 91h0m16-142h0m-67 100h0m47 213h0m232-233h0m-38 15h0m-31 158h0m-121-356h0m-66 90h0m165-14h0m-109-63h0m117 398h0m-172-156h0m157-279h0m148 313h0m-267-301h0m128 53h0m23 23h0m-159 338h0m158-211h0m-226 51h0m104-121h0m108-91h0m-134 63h0m38-83h0m-21 54h0m1-91h0m131 202h0m-22-156h0m-115 378h0m127-9h0m-13-36h0m-146-49h0m17 12h0m147 64h0m-18-66h0m-153-25h0m246-77h0m-91-140h0m70 362h0m-68-154h0m-89-255h0m-67 195h0m193-33h0m-27 87h0m-91-256h0m-53 150h0m153-58h0m-177 143h0m170-214h0m-232 22h0m108-101h0m135 370h0m-177 98h0m13-92h0m208-65h0m33-103h0m-231 95h0m138 21h0m33 123h0m-44 13h0m-156-149h0m-16 165h0m33-90h0m170 39h0m-12-108h0m-5 1h0m-22-319h0m-94 150h0m-63-28h0m33 249h0m-46-141h0m189-184h0m-188 108h0m197 208h0m-159-152h0m145-104h0m-148 2h0m35 339h0m117-124h0m-4 109h0m6-302h0m-245 105h0m237 111h0m12 21h0m-150-226h0m-28 75h0m-8 99h0m29 89h0m-52-32h0m219-60h0m-179-152h0m30-54h0m-36-69h0m25 280h0m30-259h0m29-4h0m77-51h0m-127 292h0m-21-105h0m13 198h0m173-20h0m-179-98h0m226-163h0m-60 64h0m-110-105h0m151 181h0m-312-28h0m262 145h0m-161-164h0m155 125h0m-207-17h0m260-161h0m-213 153h0m45-206h0m115 267h0m55-259h0m-213 341h0m-42-131h0m209-227h0m-152 145h0m130-228h0m64 161h0m-32 145h0m-136-143h0m159 151h0m-235-105h0m203 17h0m76-66h0m-93 28h0m-115 249h0m128-403h0m5 401h0m-124-383h0m81-31h0m-133 280h0m19-208h0m-40 301h0m223-36h0m49-104h0m-224 105h0m-13-354h0m36 99h0m-36 224h0m141 132h0"/>
<path class="b" d="M107 216h0m-12 134h0m31-292h0m19 36h0m123-19h0m63 123h0m-227 93h0m168-45h0m-165 179h0m-25-227h0m13-161h0m-13 419h0m-17-212h0m15 86h0m10-4h0m179-33h0m-7-195h0m16-96h0m-158 185h0m7-77h0m-11 191h0m-10 159h0m161-283h0m15 113h0m2-116h0m-116-118h0m-72 347h0m156-297h0m56 282h0m-254-5h0m190-359h0m36 59h0m-179 318h0m4 37h0m16-81h0m-6 23h0m-9-102h0m6 200h0m-92-100h0m63-181h0m36 10h0m-21 256h0m170 12h0m29-142h0m-234-66h0m9-9h0m37 182h0m-38-177h0m14 12h0m33-57h0m141 124h0m5 101h0m-163-31h0m-2-266h0m186 320h0m33-89h0m-71-52h0m88 119h0m-38-302h0m21 60h0m-200 248h0m203-180h0m-232-268h0m9 293h0m14-3h0m-52-31h0m74-114h0m1 18h0m-57 110h0m208 171h0m-172-13h0m202-163h0m-35-127h0m-148 11h0m150 87h0m-34 79h0m-150 15h0m185 18h0m2-295h0m33 165h0m-210-187h0m164 271h0m-231 38h0m207-224h0m59 192h0m-187 13h0m147 151h0m-240-142h0m289-20h0m-68-133h0m18-177h0m-131 448h0m-12-2h0m-28-205h0m148-112h0m-166 265h0m57-395h0m127 91h0m63 85h0m-255-9h0m-6 13h0m47 96h0m1 49h0m-55 102h0m47-230h0m9 101h0m-8-85h0m184-12h0m-18-196h0m19 222h0m-190 34h0m188-37h0m-144-79h0m-46-2h0m172 155h0m29-74h0m-193-51h0m-30 40h0m35 118h0m7 14h0m131 20h0m-28-357h0m-156 111h0m202 106h0m-148-166h0m139 314h0m-10-42h0m-158-34h0m-21-154h0m274 181h0m-50-103h0m-201 115h0m156 131h0m85-74h0m-195-236h0m-53-37h0m195 96h0m1 179h0m-163-99h0m143-199h0m5 80h0m-174 163h0m24 89h0m-51-411h0m-21 370h0m77-169h0m149 141h0m-13 81h0m-9-49h0m-131-78h0"/>
<path class="b" d="M92 454h0m171-139h0m-160 49h0m-35 77h0m58 10h0m150 3h0m-143-364h0m-70 136h0m261 116h0m-74 86h0m-114-379h0m138 53h0m-21 297h0m-166-20h0m42-272h0m140 37h0m-150 181h0m-43 26h0m49-273h0m5 37h0m142 351h0m12-309h0m-26 273h0m-147-60h0m210-121h0m-205-157h0m-53 313h0m170-393h0m-120 274h0m-11-127h0m4 287h0m9-226h0m24-142h0m140 238h0m130-211h0m-295 172h0m136-180h0m29 182h0m-137-254h0m-36 245h0m0 109h0m141-55h0m5-323h0m-189 199h0m43 96h0m-65-2h0m244-5h0m-231-210h0m46-44h0m17 229h0m-14 107h0m147-334h0m10 300h0m-244 39h0m275-234h0m-176 273h0m-35-78h0m174-314h0m48 347h0m-198-66h0m178-18h0m-171-106h0m4 154h0m5-289h0m205 246h0m-72 165h0m22-155h0m-5 81h0m19-372h0m17 230h0m-225 72h0m-18 46h0m83-295h0m-39 384h0m170-61h0m-158 38h0m14-271h0m117 182h0m-151-248h0m19 344h0m149-260h0m-220 79h0m71 42h0m2-71h0m-1-150h0m159 60h0m-27 190h0m28 70h0m-203 81h0m210-76h0m-47-391h0m-104 161h0m5-111h0m-31 349h0m166-254h0m-28-122h0m-104 122h0m148 34h0m-63-165h0m-135 154h0m193 2h0m-176-134h0m141-24h0m-127 425h0m125-99h0m-114-257h0m-50 198h0m168 102h0m40-147h0m-63-217h0m-123 248h0m-29-7h0m252-59h0m-218-27h0m132-86h0m22 365h0m25-278h0m-211-136h0m189 45h0m-161 110h0m157 271h0m-113-418h0m180 149h0m-224 171h0m8 42h0m7 23h0m4-344h0m16 72h0m129 98h0m-1 200h0m-28-83h0m-145-10h0m201-10h0m-187-217h0m15-132h0m119 378h0m4-8h0m6-188h0m-122-138h0m-89 37h0m233 70h0m-24 209h0m-11-255h0m0 295h0m-129-288h0m197-89h0m-189 28h0m126 406h0m29-207h0m49 30h0"/>
<path class="s" d="M253 109h0m20 6h0m-29-1h0m-124 235h0m140-319h0m94 397h0m-107-41h0m-129 77h0m187-145h0m-175 115h0m-23-337h0m38 343h0m-14-292h0m156 183h0m-126-275h0m-74 283h0m12-39h0m147-130h0m-163 143h0m33-127h0m210-23h0m-241-52h0m48 36h0m103-139h0m-107 143h0m-61 291h0m227-234h0m16-153h0m-33-20h0m-117 26h0m-54 60h0m7 285h0m-27-152h0m-36-30h0m45 180h0m173 28h0m-9-381h0m8 164h0m-25 141h0m61 67h0m-182-415h0m132 49h0m-159 257h0m189-79h0m-30-125h0m-142 311h0m196-172h0m-57-187h0m-235 247h0m245 33h0m-176-209h0m34 57h0m128 274h0m-163-253h0m66-161h0m94 86h0m11 207h0m-115-303h0m-68 170h0m-26 1h0m43 12h0m-28 232h0m214-432h0m-204 201h0m173 131h0m43-20h0m-117-268h0m-129 179h0m238-40h0m-202 57h0m-8-130h0m32 165h0m214-212h0m-46 367h0m-186-202h0m-8-100h0m43 133h0m-91-15h0m17 110h0m282-158h0m-69-31h0m-94-117h0m81 382h0m-104-354h0m-20 184h0m143 41h0m-20 44h0m-126 45h0m171 13h0m13 22h0m-50-81h0m-127-223h0m120 269h0m39-204h0m-40-126h0m-129 297h0m-15 55h0m26-386h0m-12 176h0m7-165h0m159 58h0m-260 73h0m78 96h0m22 43h0m22-264h0m-36 289h0m190-116h0m-196-153h0m196 219h0m0-125h0m5 76h0m-221-79h0m11 39h0m192 12h0m-4-49h0m-145-76h0m-37-23h0m201 74h0m-9 4h0m-14 30h0m35 247h0m-165-361h0m-45 147h0m185 148h0m-140-262h0m0-11h0m129 198h0m-12-268h0m24 191h0m-173 236h0m-17-129h0m-45-176h0m69 36h0m136-182h0m22 390h0m-12-213h0m-19 171h0m28-216h0m-155 241h0m154-335h0m-131 29h0m115 369h0m38-118h0m53-102h0m-57-75h0m-155 294h0m-32-145h0m154 21h0m-140-191h0m-16 243h0m19-158h0m-20-97h0m-1 207h0m169 10h0m-12 142h0m18-320h0m-154 176h0m133 32h0m2-23h0m-111-170h0m-34 4h0m-29-6h0m171 9h0m-104-106h0m-66 288h0m261-303h0m-72 397h0m-4-60h0m-167-72h0m40-158h0m163-15h0m-196-62h0m-11 250h0m184 88h0m67-191h0m-258 164h0m50-390h0m144 351h0m-217-122h0m40-197h0m-40 5h0m50 370h0m45-345h0m-1-15h0m-54 178h0m136 144h0m-163 94h0m188-98h0m-224 25h0m235-11h0m-9-314h0m-206-49h0m255 164h0m-24-154h0m-177 310h0m-40-31h0m6 49h0m70-293h0m157 300h0m-208 42h0m-23 5h0m40 64h0m-66-112h0m172-356h0m35 102h0m-198 88h0m28 96h0m52-144h0m-83 311h0m209-205h0m-200 143h0m227-40h0m-186-11h0m137-307h0m40 62h0m-15 238h0m-250 98h0m89-428h0m3-5h0m149 130h0m87 74h0m-235 205h0m48-364h0m-20 33h0m103 104h0m4 243h0m-141-25h0m167 50h0m-1-300h0m-163 293h0m223-3h0m-215-307h0m130 212h0m94-93h0m-205 181h0m-54-153h0m174 60h0m-4-223h0m-31-98h0m42 163h0m-235 17h0m202-201h0m24 423h0m11-175h0m-162 38h0m201-20h0m-28 98h0m143-122h0m-110 100h0m-254 20h0m239 19h0m-183-106h0m-18 162h0m175-13h0m34-127h0m-205 49h0m144 107h0m-136-261h0m-14 70h0m160-166h0m-2 231h0m-231-242h0m65 232h0m26 76h0m149-275h0m-169 152h0m18 56h0m167 12h0m46-275h0m-39 212h0m71-216h0m-212 58h0m125 125h0m81 75h0m-253-150h0m-12-9h0m165-39h0m3 2h0m56 158h0m-200 91h0m5-76h0m49-247h0m-68 59h0m40 38h0m129-109h0m-150 161h0m166-44h0m-25 291h0m67-63h0m-217-344h0m144 131h0m15-28h0m-149 125h0m-39 88h0m69-302h0m114 323h0m24 5h0m-205-119h0m201-157h0m-127-50h0m95-31h0m68 283h0m-63 37h0m-136-168h0m29-112h0m166 163h0m-195-103h0m4 13h0m161 324h0m-180-80h0m176-222h0m-163 192h0m-32-106h0m177-218h0m-141 7h0m205 416h0m-58-56h0m14 18h0m-197-9h0m166-288h0m57 364h0m-227-365h0m364-61h0m-164 80h0m-161 42h0m-58 39h0m110-164h0m111 85h0m-196-12h0m143-99h0m84 358h0m-46-21h0m5-78h0m68-27h0m-228-69h0m-20-76h0m223-47h0m-170 38h0m107 300h0m-149-229h0m190 150h0m-136-256h0m98 75h0m137 231h0m-117 6h0m-142-271h0m114-85h0m61 384h0m-61-290h0m-161 161h0m170-182h0m60 307h0m-179-330h0m-10 83h0m-54 169h0m-50 54h0m101-201h0m-66 204h0m94-328h0m-31 246h0m154-53h0m-20 69h0m67 5h0m-213-312h0m199 189h0m-40 139h0m-21-320h0m17 448h0m-2-290h0m-132-135h0m138 294h0m-108-283h0m119 351h0m-22-67h0m16-49h0m-28-276h0m-149 425h0m11-203h0m156-58h0m-142 154h0m-5 31h0m0-202h0m183 109h0m-69-249h0m115 209h0m-81-144h0m-183 52h0m179 305h0m-149 29h0m-54-173h0m219-98h0m-5-17h0m-198-8h0m38 252h0m171-78h0m-167-31h0m-23 129h0m182-345h0m-186 169h0m55-101h0"/>
<path class="s" d="M250 443h0m37-74h0m-172 11h0m162-100h0m-174-97h0m-14 34h0m30 173h0m137 43h0m-150-162h0m1 137h0m2 57h0m-38-148h0m39-53h0m-76 111h0m204-366h0m-196-8h0m201 365h0m39-30h0m-198-236h0m229 182h0m-59 155h0m-9-326h0m26 162h0m-13 202h0m-143-127h0m1 10h0m-24-128h0m154 87h0m25-27h0m-163-119h0m219 198h0m-210-339h0m1 315h0m-58-247h0m189 225h0m-130-266h0m137-10h0m-183 121h0m33 186h0m154-14h0m15-61h0m-200 100h0m176 87h0m-140-53h0m-28-391h0m38 184h0m-13 238h0m140-333h0m-194 200h0m219 132h0m20-45h0m30-132h0m-72-153h0m-150 53h0m4 102h0m185 125h0m-30 6h0m-149-80h0m136-315h0m84 398h0m-230-227h0m222 7h0m-206 144h0m165-315h0m-136 95h0m110 320h0m19-2h0m11-299h0m-175 72h0m9 79h0m136-85h0m-173 129h0m180-241h0m-144 356h0m-65-33h0m-49-123h0m293 39h0m-198-93h0m169 45h0m-156 85h0m157 119h0m-133-39h0m129-404h0m-225 338h0m324-296h0m-205-6h0m-79 12h0m168 374h0m-160 13h0m158-393h0m33 35h0m-128-58h0m-46 406h0m-42-244h0m184-39h0m-155 26h0m173 257h0m-5-61h0m-16-65h0m104-41h0m-278 158h0m220-51h0m-159-315h0m152 3h0m-169 136h0m-15-107h0m56-57h0m136 271h0m-21-39h0m-26 81h0m16 41h0m24-210h0m-31 230h0m34-222h0m-7 9h0m-169-10h0m166 112h0m27-53h0m-168-179h0m-41-12h0m179 171h0m39-191h0m-310 315h0m313-148h0m-222-126h0m185 113h0m-152 245h0m-7-407h0m122 20h0m63 283h0m-258 129h0m35-298h0m-4 230h0m189-80h0m-195-3h0m63 123h0m158-299h0m-159-41h0m113 265h0m-135-300h0m6 293h0m-26-79h0m162 26h0m-186 161h0m200-177h0m85 167h0m-212-453h0m-57 193h0m196-64h0m-191 62h0m-6 197h0m160-44h0m38-161h0m3 51h0m-180 37h0m169 177h0m0-275h0m-31 221h0m-103-257h0m-31 202h0m160-141h0m13-7h0m-27-162h0m-178 8h0m49-2h0m120 76h0m2 346h0m-127-25h0m-7-144h0m130-134h0m9 151h0m46-26h0m-203 58h0m183-290h0m-166 364h0m-1-312h0m0 56h0m137 241h0m33-204h0m-120-140h0m-70-48h0m15 183h0m-78-98h0m-23 123h0m251 213h0m-13-348h0m45 234h0m-42 0h0m-102-233h0m-43 322h0m-17-103h0m158 27h0m49-2h0m-188-32h0m6-160h0m22-28h0m148 201h0m-197 121h0m-44-306h0m220 233h0m27-258h0m81 42h0m-228 18h0m-36 58h0m150 137h0m-108-353h0m-16 51h0m-61 341h0m-28-162h0m211-57h0m-220 110h0m233-292h0m-184 226h0m196 121h0m-17-158h0m-174 7h0m183 101h0m-150-62h0m-59 181h0m93-364h0m95 116h0m-147 250h0m44-366h0m-41 140h0m206 150h0m-164 91h0m106-28h0m29-31h0m-1 65h0m-136-289h0m-7-105h0m-54 28h0m26 88h0m34-96h0m144-45h0m-168 431h0m157-376h0m-188 109h0m10 192h0m-38-35h0m77-295h0m-64 274h0m208-76h0m-12 2h0m-157 31h0m-53 27h0m50 7h0m156 71h0m-180-342h0m181 428h0m-238-46h0m67-88h0m45-262h0m109 1h0m24 304h0m-14 21h0m10-109h0m-24 179h0m29-443h0m-12 343h0m-181-326h0m198 117h0m-157 263h0m-66-181h0m14-167h0m224 318h0m-46 2h0m0-320h0m39 228h0m-165-230h0m153 192h0m73-45h0m-66 65h0m-196 42h0m194-40h0m-183-272h0m-57 420h0m48-195h0m-82-183h0m294 151h0m-72-194h0m31 30h0m-142 417h0m-48-326h0m17 255h0m216-281h0m-249-59h0m72 111h0m137-94h0m13 360h0m44-49h0m-75-38h0m141-29h0m-284-80h0m44-121h0m-38 79h0m22-129h0m130 333h0m-117-338h0m120 14h0m-168 142h0m181 33h0m-22 116h0m25 112h0m22-243h0m-208 72h0m31-195h0m126-18h0m1-79h0m-156 192h0m42-156h0m-17 382h0m158-103h0m-18-200h0m90 36h0m-88 227h0m25-102h0m12-21h0m-183-142h0m143 323h0m104-62h0m-265-82h0m2 61h0m180-310h0m-136 44h0m184 99h0m-75 214h0m71-214h0m-51-12h0m-136-17h0m-38 198h0m154 100h0m-130-99h0m134-16h0m19-205h0m-171 172h0m48-257h0m-6 15h0m-27 128h0m-10 12h0m7 149h0m141-13h0m-174-211h0m13-77h0m39 35h0m-42-5h0m23 180h0m184 121h0m-25-242h0m-31 22h0m75 224h0m-229 65h0m8-73h0m154-371h0m81 182h0m-192-144h0m106 403h0m-134-79h0m-33-71h0m248-1h0m-68 14h0m34-165h0m-148-92h0m-114 200h0m278 178h0m-201-409h0m-23 279h0m207 166h0m-218-68h0m66-318h0m-77-75h0m202 346h0m-130-347h0m-20 347h0m148 39h0m-6 41h0m23-190h0m-224-12h0m63-93h0m142 221h0m-121 72h0m105-72h0m-153-72h0m195-115h0m-44 228h0m21-57h0m-5 124h0m-145-268h0m132 153h0m-14-361h0m43 225h0m-164 92h0m200 22h0m47 11h0m-281-15h0m44-113h0m131 113h0m-131 21h0m189 45h0m-258-29h0"/>
</g>
<path d="M11.5 49.1L13.4 50L15.8 50.5L18.2 50.8L20.6 50.6L23.1 50.5L25.2 49.1L25.2 46.7L25.5 44.3L25.5 44.3L26.5 41.9L25.6 39.5L26.3 37.1L26.8 34.7L27 32.3L27.2 29.9L27.7 27.5L27.6 25.1L27 22.8L27.1 20.4L26.7 18L26.9 15.6L25.5 13.7L25 13.2L25.5 11.2L25.6 10.8L25.5 10.4L25 8.4L24.4 6L24.9 3.6L25 1.2L25-1.2L23.1-1.7L20.6-2.4L18.2-2.5L15.8-2.3L13.4-1.4L12.9-1.2L12.9 1.2L13.4 2.1L13.9 3.6L14 6L13.5 8.4L13.4 8.9L12.5 10.8L12.1 13.2L11.3 15.6L11.4 18L10.9 18.9L9.7 20.4L10.9 22.2L11.1 22.8L10.9 22.9L9.3 25.1L10.3 27.5L9.8 29.9L10.8 32.3L10 34.7L10.9 36.2L11.4 37.1L11.6 39.5L11.8 41.9L12.5 44.3L11.5 46.7L11.5 49.1Z" fill="#fff" fill-rule="evenodd"/>
<path d="M9.71 31.14h2.43v2.4h-2.43zM9.71 28.74h2.43v2.4h-2.43zM9.71 26.34h2.43v2.4h-2.43zM9.71 23.95h2.43v2.4h-2.43zM9.71 21.55h2.43v2.4h-2.43zM12.14 45.51h2.43v2.4h-2.43zM12.14 43.11h2.43v2.4h-2.43zM12.14 40.72h2.43v2.4h-2.43zM12.14 38.32h2.43v2.4h-2.43zM12.14 16.77h2.43v2.4h-2.43zM12.14 14.37h2.43v2.4h-2.43zM12.14 11.97h2.43v2.4h-2.43zM12.14 9.58h2.43v2.4h-2.43zM12.14 7.19h2.43v2.4h-2.43zM14.56 7.19h2.43v2.4h-2.43zM14.56 4.79h2.43v2.4h-2.43zM14.56 2.4h2.43v2.4h-2.43zM14.56 0h2.43v2.4h-2.43zM19.42 4.79h2.43v2.4h-2.43zM19.42 0h2.43v2.4h-2.43zM21.85 11.97h2.43v2.4h-2.43zM21.85 9.58h2.43v2.4h-2.43zM21.85 7.19h2.43v2.4h-2.43zM21.85 4.79h2.43v2.4h-2.43zM21.85 2.4h2.43v2.4h-2.43zM21.85 0h2.43v2.4h-2.43zM24.27 45.51h2.43v2.4h-2.43zM24.27 43.11h2.43v2.4h-2.43zM24.27 40.72h2.43v2.4h-2.43zM24.27 38.32h2.43v2.4h-2.43zM24.27 35.92h2.43v2.4h-2.43zM24.27 33.53h2.43v2.4h-2.43zM24.27 31.14h2.43v2.4h-2.43zM24.27 28.74h2.43v2.4h-2.43zM24.27 26.34h2.43v2.4h-2.43zM24.27 21.55h2.43v2.4h-2.43zM24.27 19.16h2.43v2.4h-2.43zM24.27 16.77h2.43v2.4h-2.43zM24.27 14.37h2.43v2.4h-2.43z" fill="#000" fill-opacity="0.06"/>
<path d="M12.14 35.92h2.43v2.4h-2.43zM12.14 33.53h2.43v2.4h-2.43zM12.14 31.14h2.43v2.4h-2.43zM12.14 28.74h2.43v2.4h-2.43zM12.14 21.55h2.43v2.4h-2.43zM12.14 19.16h2.43v2.4h-2.43zM14.56 45.51h2.43v2.4h-2.43zM14.56 43.11h2.43v2.4h-2.43zM14.56 40.72h2.43v2.4h-2.43zM14.56 11.97h2.43v2.4h-2.43zM14.56 9.58h2.43v2.4h-2.43zM16.99 7.19h2.43v2.4h-2.43zM16.99 4.79h2.43v2.4h-2.43zM16.99 2.4h2.43v2.4h-2.43zM16.99 0h2.43v2.4h-2.43zM19.42 7.19h2.43v2.4h-2.43zM19.42 2.4h2.43v2.4h-2.43zM21.85 45.51h2.43v2.4h-2.43zM21.85 43.11h2.43v2.4h-2.43zM21.85 40.72h2.43v2.4h-2.43zM21.85 38.32h2.43v2.4h-2.43zM21.85 16.77h2.43v2.4h-2.43zM21.85 14.37h2.43v2.4h-2.43zM24.27 23.95h2.43v2.4h-2.43z" fill="#000" fill-opacity="0.12"/>
<path d="M12.14 26.34h2.43v2.4h-2.43zM12.14 23.95h2.43v2.4h-2.43zM14.56 38.32h2.43v2.4h-2.43zM14.56 16.77h2.43v2.4h-2.43zM14.56 14.37h2.43v2.4h-2.43zM16.99 11.97h2.43v2.4h-2.43zM16.99 9.58h2.43v2.4h-2.43zM19.42 45.51h2.43v2.4h-2.43zM19.42 43.11h2.43v2.4h-2.43zM19.42 14.37h2.43v2.4h-2.43zM19.42 11.97h2.43v2.4h-2.43zM19.42 9.58h2.43v2.4h-2.43zM21.85 35.92h2.43v2.4h-2.43zM21.85 33.53h2.43v2.4h-2.43z" fill="#000" fill-opacity="0.19"/>
<path d="M14.56 35.92h2.43v2.4h-2.43zM14.56 33.53h2.43v2.4h-2.43zM14.56 19.16h2.43v2.4h-2.43zM16.99 45.51h2.43v2.4h-2.43zM16.99 43.11h2.43v2.4h-2.43zM16.99 40.72h2.43v2.4h-2.43zM19.42 40.72h2.43v2.4h-2.43zM21.85 31.14h2.43v2.4h-2.43zM21.85 26.34h2.43v2.4h-2.43zM21.85 21.55h2.43v2.4h-2.43zM21.85 19.16h2.43v2.4h-2.43z" fill="#000" fill-opacity="0.25"/>
<path d="M16.99 38.32h2.43v2.4h-2.43zM16.99 16.77h2.43v2.4h-2.43zM16.99 14.37h2.43v2.4h-2.43zM19.42 38.32h2.43v2.4h-2.43zM19.42 16.77h2.43v2.4h-2.43zM21.85 28.74h2.43v2.4h-2.43zM21.85 23.95h2.43v2.4h-2.43z" fill="#000" fill-opacity="0.31"/>
<path d="M14.56 31.14h2.43v2.4h-2.43zM14.56 21.55h2.43v2.4h-2.43zM19.42 35.92h2.43v2.4h-2.43zM19.42 19.16h2.43v2.4h-2.43z" fill="#000" fill-opacity="0.38"/>
<path d="M14.56 28.74h2.43v2.4h-2.43zM14.56 26.34h2.43v2.4h-2.43zM14.56 23.95h2.43v2.4h-2.43zM16.99 35.92h2.43v2.4h-2.43zM19.42 33.53h2.43v2.4h-2.43zM19.42 31.14h2.43v2.4h-2.43z" fill="#000" fill-opacity="0.44"/>
<path d="M16.99 33.53h2.43v2.4h-2.43zM16.99 31.14h2.43v2.4h-2.43zM19.42 28.74h2.43v2.4h-2.43z" fill="#000" fill-opacity="0.5"/>
<path d="M16.99 19.16h2.43v2.4h-2.43zM19.42 21.55h2.43v2.4h-2.43z" fill="#000" fill-opacity="0.56"/>
<path d="M16.99 21.55h2.43v2.4h-2.43zM19.42 26.34h2.43v2.4h-2.43z" fill="#000" fill-opacity="0.62"/>
<path d="M16.99 28.74h2.43v2.4h-2.43zM16.99 26.34h2.43v2.4h-2.43zM19.42 23.95h2.43v2.4h-2.43z" fill="#000" fill-opacity="0.69"/>
<path d="M16.99 23.95h2.43v2.4h-2.43z" fill="#000" fill-opacity="1"/>
<path class="c" d="M11.5 49.1L13.4 50L15.8 50.5L18.2 50.8L20.6 50.6L23.1 50.5L25.2 49.1L25.2 46.7L25.5 44.3L25.5 44.3L26.5 41.9L25.6 39.5L26.3 37.1L26.8 34.7L27 32.3L27.2 29.9L27.7 27.5L27.6 25.1L27 22.8L27.1 20.4L26.7 18L26.9 15.6L25.5 13.7L25 13.2L25.5 11.2L25.6 10.8L25.5 10.4L25 8.4L24.4 6L24.9 3.6L25 1.2L25-1.2L23.1-1.7L20.6-2.4L18.2-2.5L15.8-2.3L13.4-1.4L12.9-1.2L12.9 1.2L13.4 2.1L13.9 3.6L14 6L13.5 8.4L13.4 8.9L12.5 10.8L12.1 13.2L11.3 15.6L11.4 18L10.9 18.9L9.7 20.4L10.9 22.2L11.1 22.8L10.9 22.9L9.3 25.1L10.3 27.5L9.8 29.9L10.8 32.3L10 34.7L10.9 36.2L11.4 37.1L11.6 39.5L11.8 41.9L12.5 44.3L11.5 46.7L11.5 49.1Z"/>
<path class="c" d="M14.6 49.1L15.8 49.5L18.2 50.2L20.6 49.7L23.1 49.5L23.6 49.1L23.6 46.7L23.1 45.2L22.5 44.3L22.6 41.9L23.1 40.4L23.5 39.5L24.2 37.1L24.3 34.7L24.8 32.3L25.1 29.9L25.3 27.5L25.2 25.1L24.8 22.8L25.4 20.4L24.2 18L24.9 15.6L23.1 13.8L22.6 13.2L21.3 10.8L22.3 8.4L20.6 6.4L18.2 6.5L15.8 7.8L15.4 8.4L15.7 10.8L15.4 13.2L14.5 15.6L13.9 18L13.4 19L12.3 20.4L12.9 22.8L13.4 25.1L13.4 25.1L13.4 25.1L12.9 27.5L13 29.9L13 32.3L13.4 33.9L13.4 34.7L13.4 37.1L14 39.5L15 41.9L14.8 44.3L14.6 46.7L14.6 49.1ZM17.1 3.6L18.2 5.7L20.6 5.6L22.3 3.6L20.6 1.3L20.4 1.2L20.4-1.2L18.2-1.5L16.7-1.2L16.7 1.2L17.1 3.6Z"/>
<path class="c" d="M17.6 49.1L18.2 49.3L18.9 49.1L18.9 46.7L18.2 45L17.6 46.7L17.6 49.1ZM16.9 39.5L18.2 41.7L20.6 41.3L21.4 39.5L21.9 37.1L21.9 34.7L23.1 32.3L23.1 32.3L23.4 29.9L23.1 28.6L22.9 27.5L23.1 26.9L23.7 25.1L23.1 24.1L22.4 22.8L22 20.4L20.7 18L20.6 17.7L19.4 18L18.2 18L15.8 18L15 20.4L14.8 22.8L15.2 25.1L14.9 27.5L15 29.9L14.8 32.3L15.1 34.7L15.8 37L15.9 37.1L16.9 39.5Z"/>
<path class="c" d="M17.9 29.9L18.2 31.3L19.8 29.9L20.6 29.7L21.2 27.5L21.2 25.1L20.7 22.8L20.6 22.6L18.2 20.4L17.8 22.8L16.8 25.1L18.2 27.2L19.1 27.5L18.2 29.2L17.9 29.9Z"/>
</g>
<g transform="translate(54.5 0.5)" clip-path="url(#cp)"><path class="h" d="M0 47.9L2.43 47.9L2.43 47.9L4.85 47.9L4.85 47.9L7.28 47.9L7.28 47.9L9.71 47.9L9.71 47.9L12.14 47.9L12.14 47.77L14.56 47.77L14.56 47.46L16.99 47.46L16.99 46.59L19.42 46.59L19.42 43.11L21.85 43.11L21.85 36.8L24.27 36.8L24.27 24.39L26.7 24.39L26.7 10.02L29.13 10.02L29.13 4.35L31.56 4.35L31.56 17.2L33.98 17.2L33.98 31.35L36.41 31.35L36.41 41.37L38.84 41.37L38.84 46.16L41.27 46.16L41.27 47.38L43.69 47.38L43.69 47.77L46.12 47.77L46.12 47.9L48.55 47.9"/></g>
<g transform="translate(105.3 51.3)" clip-path="url(#cp)"><path class="h" d="M0 47.9L2.43 47.9L2.43 47.77L4.85 47.77L4.85 47.46L7.28 47.46L7.28 46.81L9.71 46.81L9.71 45.29L12.14 45.29L12.14 42.67L14.56 42.67L14.56 34.4L16.99 34.4L16.99 24.82L19.42 24.82L19.42 12.63L21.85 12.63L21.85 4.35L24.27 4.35L24.27 12.19L26.7 12.19L26.7 27.65L29.13 27.65L29.13 37.88L31.56 37.88L31.56 43.98L33.98 43.98L33.98 47.03L36.41 47.03L36.41 47.64L38.84 47.64L38.84 47.9L41.27 47.9L41.27 47.9L43.69 47.9L43.69 47.9L46.12 47.9L46.12 47.9L48.55 47.9"/></g>
<g transform="translate(156.1 102.1)" clip-path="url(#cp)"><path class="h" d="M0 47.9L2.43 47.9L2.43 47.77L4.85 47.77L4.85 47.46L7.28 47.46L7.28 45.85L9.71 45.85L9.71 42.67L12.14 42.67L12.14 34.14L14.56 34.14L14.56 20.9L16.99 20.9L16.99 4.35L19.42 4.35L19.42 4.35L21.85 4.35L21.85 20.21L24.27 20.21L24.27 34.14L26.7 34.14L26.7 42.37L29.13 42.37L29.13 45.85L31.56 45.85L31.56 47.12L33.98 47.12L33.98 47.6L36.41 47.6L36.41 47.81L38.84 47.81L38.84 47.9L41.27 47.9L41.27 47.9L43.69 47.9L43.69 47.9L46.12 47.9L46.12 47.9L48.55 47.9"/></g>
<g transform="translate(206.9 152.9)" clip-path="url(#cp)"><path class="h" d="M0 47.9L2.43 47.9L2.43 47.9L4.85 47.9L4.85 47.9L7.28 47.9L7.28 47.81L9.71 47.81L9.71 47.68L12.14 47.68L12.14 47.25L14.56 47.25L14.56 45.29L16.99 45.29L16.99 40.93L19.42 40.93L19.42 32.66L21.85 32.66L21.85 18.29L24.27 18.29L24.27 8.71L26.7 8.71L26.7 4.35L29.13 4.35L29.13 12.63L31.56 12.63L31.56 27L33.98 27L33.98 38.32L36.41 38.32L36.41 44.11L38.84 44.11L38.84 46.81L41.27 46.81L41.27 47.55L43.69 47.55L43.69 47.81L46.12 47.81L46.12 47.9L48.55 47.9"/></g>
<g transform="translate(257.7 203.7)" clip-path="url(#cp)"><path class="h" d="M0 47.9L2.43 47.9L2.43 47.77L4.85 47.77L4.85 47.25L7.28 47.25L7.28 44.42L9.71 44.42L9.71 38.89L12.14 38.89L12.14 28.74L14.56 28.74L14.56 11.98L16.99 11.98L16.99 4.35L19.42 4.35L19.42 11.32L21.85 11.32L21.85 23.08L24.27 23.08L24.27 35.71L26.7 35.71L26.7 42.02L29.13 42.02L29.13 45.29L31.56 45.29L31.56 46.81L33.98 46.81L33.98 47.55L36.41 47.55L36.41 47.81L38.84 47.81L38.84 47.9L41.27 47.9L41.27 47.9L43.69 47.9L43.69 47.9L46.12 47.9L46.12 47.9L48.55 47.9"/></g>
<g transform="translate(308.5 254.5)" clip-path="url(#cp)"><path class="h" d="M0 26.35L2.43 26.35L2.43 24.82L4.85 24.82L4.85 23.17L7.28 23.17L7.28 20.29L9.71 20.29L9.71 15.24L12.14 15.24L12.14 14.37L14.56 14.37L14.56 11.76L16.99 11.76L16.99 7.53L19.42 7.53L19.42 6.44L21.85 6.44L21.85 4.35L24.27 4.35L24.27 8.84L26.7 8.84L26.7 13.28L29.13 13.28L29.13 19.16L31.56 19.16L31.56 22.38L33.98 22.38L33.98 25.56L36.41 25.56L36.41 27.17L38.84 27.17L38.84 29.61L41.27 29.61L41.27 33.53L43.69 33.53L43.69 31.48L46.12 31.48L46.12 32.75L48.55 32.75"/></g>
<rect class="f" x="54.50" y="0.50" width="48.55" height="47.90"/>
<path class="k" d="M63.48 48.40 v1.3M78.19 48.40 v1.3M92.81 48.40 v1.3M54.50 48.40 h-1.3M54.50 27.50 h-1.3M54.50 6.60 h-1.3"/>
<rect class="f" x="54.50" y="51.30" width="48.55" height="47.90"/>
<path class="k" d="M63.48 99.20 v1.3M78.19 99.20 v1.3M92.81 99.20 v1.3M54.50 89.38 h-1.3M54.50 76.45 h-1.3M54.50 63.18 h-1.3"/>
<rect class="f" x="105.30" y="51.30" width="48.55" height="47.90"/>
<path class="k" d="M115.25 99.20 v1.3M128.36 99.20 v1.3M141.81 99.20 v1.3M105.30 99.20 h-1.3M105.30 75.80 h-1.3M105.30 52.40 h-1.3"/>
<rect class="f" x="54.50" y="102.10" width="48.55" height="47.90"/>
<path class="k" d="M63.48 150.00 v1.3M78.19 150.00 v1.3M92.81 150.00 v1.3M54.50 135.73 h-1.3M54.50 121.40 h-1.3M54.50 106.99 h-1.3"/>
<rect class="f" x="105.30" y="102.10" width="48.55" height="47.90"/>
<path class="k" d="M115.25 150.00 v1.3M128.36 150.00 v1.3M141.81 150.00 v1.3M105.30 135.73 h-1.3M105.30 121.40 h-1.3M105.30 106.99 h-1.3"/>
<rect class="f" x="156.10" y="102.10" width="48.55" height="47.90"/>
<path class="k" d="M170.57 150.00 v1.3M185.08 150.00 v1.3M199.70 150.00 v1.3M156.10 150.00 h-1.3M156.10 128.00 h-1.3M156.10 106.00 h-1.3"/>
<rect class="f" x="54.50" y="152.90" width="48.55" height="47.90"/>
<path class="k" d="M63.48 200.80 v1.3M78.19 200.80 v1.3M92.81 200.80 v1.3M54.50 186.57 h-1.3M54.50 172.25 h-1.3M54.50 158.22 h-1.3"/>
<rect class="f" x="105.30" y="152.90" width="48.55" height="47.90"/>
<path class="k" d="M115.25 200.80 v1.3M128.36 200.80 v1.3M141.81 200.80 v1.3M105.30 186.57 h-1.3M105.30 172.25 h-1.3M105.30 158.22 h-1.3"/>
<rect class="f" x="156.10" y="152.90" width="48.55" height="47.90"/>
<path class="k" d="M170.57 200.80 v1.3M185.08 200.80 v1.3M199.70 200.80 v1.3M156.10 186.57 h-1.3M156.10 172.25 h-1.3M156.10 158.22 h-1.3"/>
<rect class="f" x="206.90" y="152.90" width="48.55" height="47.90"/>
<path class="k" d="M221.32 200.80 v1.3M235.84 200.80 v1.3M250.06 200.80 v1.3M206.90 200.80 h-1.3M206.90 178.80 h-1.3M206.90 156.80 h-1.3"/>
<rect class="f" x="54.50" y="203.70" width="48.55" height="47.90"/>
<path class="k" d="M63.48 251.60 v1.3M78.19 251.60 v1.3M92.81 251.60 v1.3M54.50 240.10 h-1.3M54.50 225.25 h-1.3M54.50 210.88 h-1.3"/>
<rect class="f" x="105.30" y="203.70" width="48.55" height="47.90"/>
<path class="k" d="M115.25 251.60 v1.3M128.36 251.60 v1.3M141.81 251.60 v1.3M105.30 240.10 h-1.3M105.30 225.25 h-1.3M105.30 210.88 h-1.3"/>
<rect class="f" x="156.10" y="203.70" width="48.55" height="47.90"/>
<path class="k" d="M170.57 251.60 v1.3M185.08 251.60 v1.3M199.70 251.60 v1.3M156.10 240.10 h-1.3M156.10 225.25 h-1.3M156.10 210.88 h-1.3"/>
<rect class="f" x="206.90" y="203.70" width="48.55" height="47.90"/>
<path class="k" d="M221.32 251.60 v1.3M235.84 251.60 v1.3M250.06 251.60 v1.3M206.90 240.10 h-1.3M206.90 225.25 h-1.3M206.90 210.88 h-1.3"/>
<rect class="f" x="257.70" y="203.70" width="48.55" height="47.90"/>
<path class="k" d="M269.35 251.60 v1.3M284.40 251.60 v1.3M298.97 251.60 v1.3M257.70 251.60 h-1.3M257.70 229.60 h-1.3M257.70 207.60 h-1.3"/>
<rect class="f" x="54.50" y="254.50" width="48.55" height="47.90"/>
<path class="k" d="M63.48 302.40 v1.3M78.19 302.40 v1.3M92.81 302.40 v1.3M54.50 294.16 h-1.3M54.50 280.13 h-1.3M54.50 266.19 h-1.3"/>
<rect class="f" x="105.30" y="254.50" width="48.55" height="47.90"/>
<path class="k" d="M115.25 302.40 v1.3M128.36 302.40 v1.3M141.81 302.40 v1.3M105.30 294.16 h-1.3M105.30 280.13 h-1.3M105.30 266.19 h-1.3"/>
<rect class="f" x="156.10" y="254.50" width="48.55" height="47.90"/>
<path class="k" d="M170.57 302.40 v1.3M185.08 302.40 v1.3M199.70 302.40 v1.3M156.10 294.16 h-1.3M156.10 280.13 h-1.3M156.10 266.19 h-1.3"/>
<rect class="f" x="206.90" y="254.50" width="48.55" height="47.90"/>
<path class="k" d="M221.32 302.40 v1.3M235.84 302.40 v1.3M250.06 302.40 v1.3M206.90 294.16 h-1.3M206.90 280.13 h-1.3M206.90 266.19 h-1.3"/>
<rect class="f" x="257.70" y="254.50" width="48.55" height="47.90"/>
<path class="k" d="M269.35 302.40 v1.3M284.40 302.40 v1.3M298.97 302.40 v1.3M257.70 294.16 h-1.3M257.70 280.13 h-1.3M257.70 266.19 h-1.3"/>
<rect class="f" x="308.50" y="254.50" width="48.55" height="47.90"/>
<path class="k" d="M316.85 302.40 v1.3M331.08 302.40 v1.3M345.20 302.40 v1.3M308.50 302.40 h-1.3M308.50 276.40 h-1.3M308.50 250.40 h-1.3"/>
<text class="t" transform="translate(63.48 312.38) rotate(-45)" text-anchor="middle" y="1.73">66.4</text>
<text class="t" transform="translate(78.19 312.38) rotate(-45)" text-anchor="middle" y="1.73">66.8</text>
<text class="t" transform="translate(92.81 312.38) rotate(-45)" text-anchor="middle" y="1.73">67.2</text>
<text class="t" transform="translate(115.25 313.88) rotate(-45)" text-anchor="middle" y="1.73">244.0</text>
<text class="t" transform="translate(128.36 313.88) rotate(-45)" text-anchor="middle" y="1.73">244.3</text>
<text class="t" transform="translate(141.81 313.88) rotate(-45)" text-anchor="middle" y="1.73">244.6</text>
<text class="t" transform="translate(170.57 317.62) rotate(-45)" text-anchor="middle" y="1.73">1600000</text>
<text class="t" transform="translate(185.08 317.62) rotate(-45)" text-anchor="middle" y="1.73">2000000</text>
<text class="t" transform="translate(199.70 317.62) rotate(-45)" text-anchor="middle" y="1.73">2400000</text>
<text class="t" transform="translate(221.32 312.38) rotate(-45)" text-anchor="middle" y="1.73">0.90</text>
<text class="t" transform="translate(235.84 312.38) rotate(-45)" text-anchor="middle" y="1.73">1.05</text>
<text class="t" transform="translate(250.06 312.38) rotate(-45)" text-anchor="middle" y="1.73">1.20</text>
<text class="t" transform="translate(269.35 312.38) rotate(-45)" text-anchor="middle" y="1.73">0.90</text>
<text class="t" transform="translate(284.40 312.38) rotate(-45)" text-anchor="middle" y="1.73">1.05</text>
<text class="t" transform="translate(298.97 312.38) rotate(-45)" text-anchor="middle" y="1.73">1.20</text>
<text class="t" transform="translate(316.85 313.61) rotate(-45)" text-anchor="middle" y="1.73">−100</text>
<text class="t" transform="translate(331.08 312.11) rotate(-45)" text-anchor="middle" y="1.73">−75</text>
<text class="t" transform="translate(345.20 312.11) rotate(-45)" text-anchor="middle" y="1.73">−50</text>
<text class="t" transform="translate(43.32 96.53) rotate(-45)" text-anchor="middle" y="1.73">244.0</text>
<text class="t" transform="translate(43.32 83.60) rotate(-45)" text-anchor="middle" y="1.73">244.3</text>
<text class="t" transform="translate(43.32 70.33) rotate(-45)" text-anchor="middle" y="1.73">244.6</text>
<text class="t" transform="translate(39.58 146.62) rotate(-45)" text-anchor="middle" y="1.73">1600000</text>
<text class="t" transform="translate(39.58 132.29) rotate(-45)" text-anchor="middle" y="1.73">2000000</text>
<text class="t" transform="translate(39.58 117.88) rotate(-45)" text-anchor="middle" y="1.73">2400000</text>
<text class="t" transform="translate(44.82 192.23) rotate(-45)" text-anchor="middle" y="1.73">0.90</text>
<text class="t" transform="translate(44.82 177.91) rotate(-45)" text-anchor="middle" y="1.73">1.05</text>
<text class="t" transform="translate(44.82 163.87) rotate(-45)" text-anchor="middle" y="1.73">1.20</text>
<text class="t" transform="translate(44.82 245.76) rotate(-45)" text-anchor="middle" y="1.73">0.90</text>
<text class="t" transform="translate(44.82 230.91) rotate(-45)" text-anchor="middle" y="1.73">1.05</text>
<text class="t" transform="translate(44.82 216.54) rotate(-45)" text-anchor="middle" y="1.73">1.20</text>
<text class="t" transform="translate(43.59 301.04) rotate(-45)" text-anchor="middle" y="1.73">−100</text>
<text class="t" transform="translate(45.09 285.51) rotate(-45)" text-anchor="middle" y="1.73">−75</text>
<text class="t" transform="translate(45.09 271.57) rotate(-45)" text-anchor="middle" y="1.73">−50</text>
<text class="l i" x="76.5" y="341.5" text-anchor="middle">r</text>
<text class="l i" x="129.6" y="343.4" text-anchor="middle">θ</text>
<text class="l i" x="178.4" y="343.7" text-anchor="middle">f</text>
<text class="l" x="213.4" y="338.7">PSF X</text><text class="l" x="213.4" y="347.5">scaling</text>
<text class="l" x="263.4" y="338.5">PSF Y</text><text class="l" x="261.8" y="347.5">scaling</text>
<text class="l i" transform="translate(10.5 75.3) rotate(-90)" text-anchor="middle">θ</text>
<text class="l i" transform="translate(10.5 133) rotate(-90)" text-anchor="middle">f</text>
<text class="l" transform="translate(6.70 194.30) rotate(-90)">PSF X</text>
<text class="l" transform="translate(16.40 195.00) rotate(-90)">scaling</text>
<text class="l" transform="translate(6.70 241.20) rotate(-90)">PSF Y</text>
<text class="l" transform="translate(16.40 242.50) rotate(-90)">scaling</text>
<text class="l" transform="translate(6.70 295.40) rotate(-90)">PSF rot.</text>
<text class="l" transform="translate(16.40 288.60) rotate(-90)">angle</text>
</svg>
</body></html>
